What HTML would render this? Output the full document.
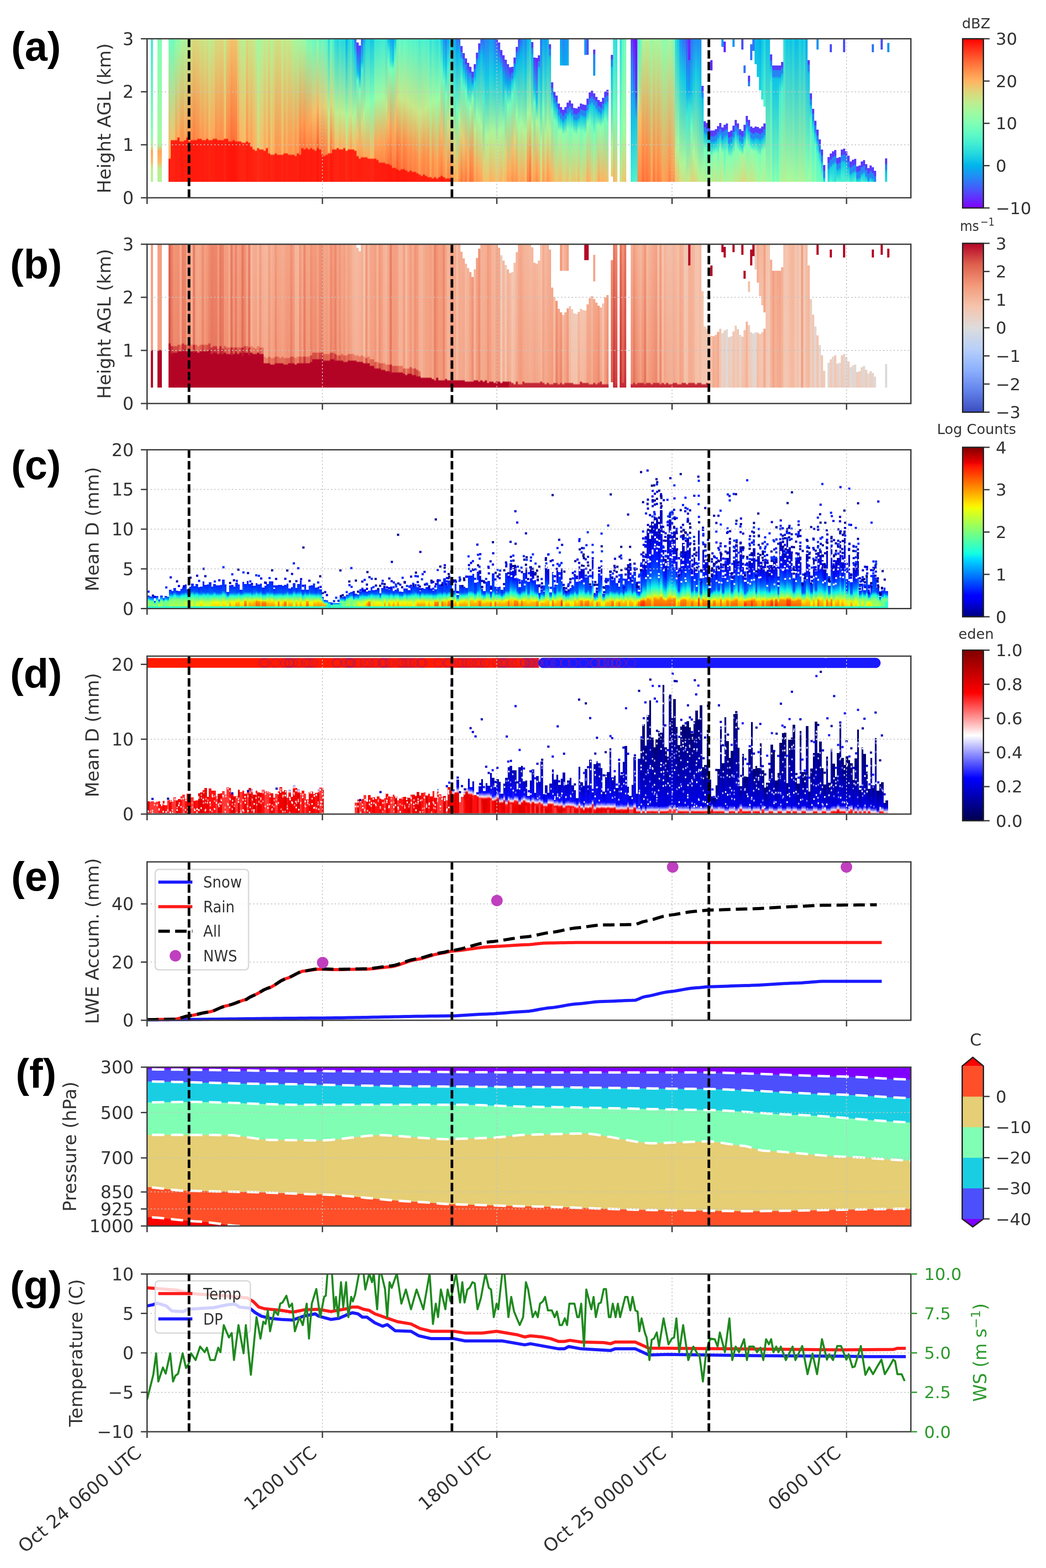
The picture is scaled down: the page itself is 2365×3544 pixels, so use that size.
<!DOCTYPE html><html><head><meta charset="utf-8"><style>html,body{margin:0;padding:0;background:#fff;}#w{position:relative;width:2365px;height:3544px;overflow:hidden;background:#fff}#w i{position:absolute;display:block}#w svg{position:absolute;left:0;top:0;display:block}</style></head><body><div id="w"><i style="left:341px;top:88px;width:5px;height:323px;background:linear-gradient(#40ecd4,#85ffb1 66.7%,#b6f194 75%,#ffa658 78.7%,#f9bb66 86.1%,#bded8f 90.7%,#b2f396)"></i>
<i style="left:356px;top:88px;width:5px;height:323px;background:linear-gradient(#80ffb4,#a6f89e 74.1%,#ffa658 78.7%,#f9bb66 86.1%,#bded8f 90.7%,#b2f396)"></i>
<i style="left:361px;top:88px;width:5px;height:323px;background:linear-gradient(#80ffb4,#a6f89e 74.1%,#ffa658 78.7%,#f9bb66 86.1%,#bded8f 90.7%,#b2f396)"></i>
<i style="left:381px;top:88px;width:5px;height:323px;background:linear-gradient(#74feba,#f7bd68 74.1%,#ffb160 83.3%,#ff1e0f 84.3%,#ff1e0f)"></i>
<i style="left:386px;top:88px;width:5px;height:323px;background:linear-gradient(#6cfdbf,#ebc970 70.4%,#ff2211 71.3%,#ff2211)"></i>
<i style="left:391px;top:88px;width:5px;height:323px;background:linear-gradient(#73febb,#f3c26b 70.4%,#ff2211 71.3%,#ff2211)"></i>
<i style="left:396px;top:88px;width:5px;height:323px;background:linear-gradient(#8efeac,#ffa256 70.4%,#ff1d0f 71.3%,#ff1d0f)"></i>
<i style="left:401px;top:88px;width:5px;height:323px;background:linear-gradient(#8afeae,#ffaf5e 68.5%,#ff2010 69.4%,#ff2010)"></i>
<i style="left:406px;top:88px;width:5px;height:323px;background:linear-gradient(#a1faa1,#ff9850 71.3%,#ff1c0e 72.2%,#ff1c0e)"></i>
<i style="left:411px;top:88px;width:5px;height:323px;background:linear-gradient(#acf59a,#ff954e 68.5%,#ff924c 71.3%,#ff1b0e 72.2%,#ff1b0e)"></i>
<i style="left:416px;top:88px;width:5px;height:323px;background:linear-gradient(#a4f89f,#ffa558 70.4%,#ff1f0f 71.3%,#ff1f0f)"></i>
<i style="left:421px;top:88px;width:5px;height:323px;background:linear-gradient(#b7f093,#ff9850 68.5%,#ff1c0e 69.4%,#ff1c0e)"></i>
<i style="left:426px;top:88px;width:5px;height:323px;background:linear-gradient(#b6f194,#ff9f54 71.3%,#ff1e0f 72.2%,#ff1e0f)"></i>
<i style="left:431px;top:88px;width:5px;height:323px;background:linear-gradient(#cbe486,#ff8e4a 70.4%,#ff1b0d 71.3%,#ff1b0d)"></i>
<i style="left:436px;top:88px;width:5px;height:323px;background:linear-gradient(#ddd67a,#ff7f42 70.4%,#ff180c 71.3%,#ff180c)"></i>
<i style="left:441px;top:88px;width:5px;height:323px;background:linear-gradient(#d8da7d,#ff8847 70.4%,#ff1a0d 71.3%,#ff1a0d)"></i>
<i style="left:446px;top:88px;width:5px;height:323px;background:linear-gradient(#d6dc7e,#ff8d49 69.4%,#ff1a0d 70.4%,#ff1a0d)"></i>
<i style="left:451px;top:88px;width:5px;height:323px;background:linear-gradient(#cce385,#ff9a52 69.4%,#ff1d0e 70.4%,#ff1d0e)"></i>
<i style="left:456px;top:88px;width:5px;height:323px;background:linear-gradient(#d0e082,#ff954e 70.4%,#ff1c0e 71.3%,#ff1c0e)"></i>
<i style="left:461px;top:88px;width:5px;height:323px;background:linear-gradient(#c6e789,#ffa256 70.4%,#ff1e0f 71.3%,#ff1e0f)"></i>
<i style="left:466px;top:88px;width:5px;height:323px;background:linear-gradient(#cfe183,#ff9951 69.4%,#ff1d0e 70.4%,#ff1d0e)"></i>
<i style="left:471px;top:88px;width:5px;height:323px;background:linear-gradient(#bced90,#ffaf5e 70.4%,#ff2111 71.3%,#ff2111)"></i>
<i style="left:476px;top:88px;width:5px;height:323px;background:linear-gradient(#c6e789,#ffa457 70.4%,#ff1f0f 71.3%,#ff1f0f)"></i>
<i style="left:481px;top:88px;width:5px;height:323px;background:linear-gradient(#c6e789,#ffa658 69.4%,#ff1f10 70.4%,#ff1f10)"></i>
<i style="left:486px;top:88px;width:5px;height:323px;background:linear-gradient(#dad87c,#ff8d4a 69.4%,#ff1a0d 70.4%,#ff1a0d)"></i>
<i style="left:491px;top:88px;width:5px;height:323px;background:linear-gradient(#d7db7e,#ff924c 70.4%,#ff1b0e 71.3%,#ff1b0e)"></i>
<i style="left:496px;top:88px;width:5px;height:323px;background:linear-gradient(#dbd77b,#ff8c49 70.4%,#ff1a0d 71.3%,#ff1a0d)"></i>
<i style="left:501px;top:88px;width:5px;height:323px;background:linear-gradient(#dcd77b,#ff8d4a 70.4%,#ff1b0d 71.3%,#ff1b0d)"></i>
<i style="left:506px;top:88px;width:5px;height:323px;background:linear-gradient(#bfec8e,#ffb260 69.4%,#ff2111 70.4%,#ff2111)"></i>
<i style="left:511px;top:88px;width:5px;height:323px;background:linear-gradient(#e2d276,#ff8746 69.4%,#ff190d 70.4%,#ff190d)"></i>
<i style="left:516px;top:88px;width:5px;height:323px;background:linear-gradient(#e7cd73,#ff7f42 71.3%,#ff180c 72.2%,#ff180c)"></i>
<i style="left:521px;top:88px;width:5px;height:323px;background:linear-gradient(#f6bf68,#ff6c37 71.3%,#ff150b 72.2%,#ff150b)"></i>
<i style="left:526px;top:88px;width:5px;height:323px;background:linear-gradient(#f2c36b,#ff733b 70.4%,#ff160b 71.3%,#ff160b)"></i>
<i style="left:531px;top:88px;width:5px;height:323px;background:linear-gradient(#f0c46c,#ff753c 71.3%,#ff170b 72.2%,#ff170b)"></i>
<i style="left:536px;top:88px;width:5px;height:323px;background:linear-gradient(#d6dc7f,#ff9951 71.3%,#ff1d0e 72.2%,#ff1d0e)"></i>
<i style="left:541px;top:88px;width:5px;height:323px;background:linear-gradient(#c0eb8d,#ffb361 71.3%,#ff2211 72.2%,#ff2211)"></i>
<i style="left:546px;top:88px;width:5px;height:323px;background:linear-gradient(#bded8f,#fdb663 72.2%,#ff2311 73.1%,#ff2311)"></i>
<i style="left:551px;top:88px;width:5px;height:323px;background:linear-gradient(#b7f093,#f7bd68 72.2%,#ff2412 73.1%,#ff2412)"></i>
<i style="left:556px;top:88px;width:5px;height:323px;background:linear-gradient(#dbd87b,#ff934d 71.3%,#ff1c0e 72.2%,#ff1c0e)"></i>
<i style="left:561px;top:88px;width:5px;height:323px;background:linear-gradient(#c7e688,#ffaa5b 72.2%,#ff2010 73.1%,#ff2010)"></i>
<i style="left:566px;top:88px;width:5px;height:323px;background:linear-gradient(#cee284,#ff9f54 75%,#ff1f0f 75.9%,#ff1f0f)"></i>
<i style="left:571px;top:88px;width:5px;height:323px;background:linear-gradient(#c2ea8c,#ffac5c 76.9%,#ff2211 77.8%,#ff2211)"></i>
<i style="left:576px;top:88px;width:5px;height:323px;background:linear-gradient(#bbee91,#ffb361 77.8%,#ff2312 78.7%,#ff2312)"></i>
<i style="left:581px;top:88px;width:5px;height:323px;background:linear-gradient(#98fca6,#dcd67a 75.9%,#ff2b16 76.9%,#ff2b16)"></i>
<i style="left:586px;top:88px;width:5px;height:323px;background:linear-gradient(#acf59a,#f2c26b 76.9%,#ff2613 77.8%,#ff2613)"></i>
<i style="left:591px;top:88px;width:5px;height:323px;background:linear-gradient(#b1f397,#f7bd67 76.9%,#ff2513 77.8%,#ff2513)"></i>
<i style="left:596px;top:88px;width:5px;height:323px;background:linear-gradient(#c2ea8c,#ffa95a 77.8%,#ff2111 78.7%,#ff2111)"></i>
<i style="left:601px;top:88px;width:5px;height:323px;background:linear-gradient(#b6f194,#fbb864 75.9%,#ff2412 76.9%,#ff2412)"></i>
<i style="left:606px;top:88px;width:5px;height:323px;background:linear-gradient(#cce385,#ff9b52 79.6%,#ff1f0f 80.6%,#ff1f0f)"></i>
<i style="left:611px;top:88px;width:5px;height:323px;background:linear-gradient(#b0f497,#faba65 80.6%,#ff2513 81.5%,#ff2513)"></i>
<i style="left:616px;top:88px;width:5px;height:323px;background:linear-gradient(#bced90,#ffad5d 80.6%,#ff2211 81.5%,#ff2211)"></i>
<i style="left:621px;top:88px;width:5px;height:323px;background:linear-gradient(#d0e083,#ff954e 79.6%,#ff1d0f 80.6%,#ff1d0f)"></i>
<i style="left:626px;top:88px;width:5px;height:323px;background:linear-gradient(#d0e083,#ff934d 80.6%,#ff1d0f 81.5%,#ff1d0f)"></i>
<i style="left:631px;top:88px;width:5px;height:323px;background:linear-gradient(#cde285,#ff974f 80.6%,#ff1e0f 81.5%,#ff1e0f)"></i>
<i style="left:636px;top:88px;width:5px;height:323px;background:linear-gradient(#b6f194,#ffb260 80.6%,#ff2312 81.5%,#ff2312)"></i>
<i style="left:641px;top:88px;width:5px;height:323px;background:linear-gradient(#cde385,#ff974f 79.6%,#ff1e0f 80.6%,#ff1e0f)"></i>
<i style="left:646px;top:88px;width:5px;height:323px;background:linear-gradient(#bfec8e,#ffa759 79.6%,#ff2111 80.6%,#ff2111)"></i>
<i style="left:651px;top:88px;width:5px;height:323px;background:linear-gradient(#c5e88a,#ff9b52 75%,#ff964f 80.6%,#ff1e0f 81.5%,#ff1e0f)"></i>
<i style="left:656px;top:88px;width:5px;height:323px;background:linear-gradient(#bbee90,#ff9e54 71.3%,#ff954e 80.6%,#ff1e0f 81.5%,#ff1e0f)"></i>
<i style="left:661px;top:88px;width:5px;height:323px;background:linear-gradient(#aaf69b,#ffa156 76.9%,#ff9d53 80.6%,#ff2010 81.5%,#ff2010)"></i>
<i style="left:666px;top:88px;width:5px;height:323px;background:linear-gradient(#adf59a,#ff9e53 65.7%,#ff8b48 81.5%,#ff1e0f 82.4%,#ff1e0f)"></i>
<i style="left:671px;top:88px;width:5px;height:323px;background:linear-gradient(#97fca7,#ffa256 74.1%,#ff9b52 79.6%,#ff2110 80.6%,#ff2110)"></i>
<i style="left:676px;top:88px;width:5px;height:323px;background:linear-gradient(#abf69b,#ff934d 58.3%,#ff713a 80.6%,#ff1a0d 81.5%,#ff1a0d)"></i>
<i style="left:681px;top:88px;width:5px;height:323px;background:linear-gradient(#9afca5,#ff9b52 59.3%,#ff8042 75.9%,#ff1c0e 76.9%,#ff1c0e)"></i>
<i style="left:686px;top:88px;width:5px;height:323px;background:linear-gradient(#99fca6,#ff9750 56.5%,#ff723b 76.9%,#ff1a0d 77.8%,#ff1a0d)"></i>
<i style="left:691px;top:88px;width:5px;height:323px;background:linear-gradient(#81ffb3,#ff9a51 63.9%,#ff8646 75.9%,#ff1d0f 76.9%,#ff1d0f)"></i>
<i style="left:696px;top:88px;width:5px;height:323px;background:linear-gradient(#78ffb8,#ffa457 59.3%,#ff8244 76.9%,#ff1d0f 77.8%,#ff1d0f)"></i>
<i style="left:701px;top:88px;width:5px;height:323px;background:linear-gradient(#77ffb9,#ffac5d 54.6%,#ff7f42 75.9%,#ff1c0e 76.9%,#ff1c0e)"></i>
<i style="left:706px;top:88px;width:5px;height:323px;background:linear-gradient(#6cfdbf,#f6be68 51.9%,#ff8847 76.9%,#ff1e0f 77.8%,#ff1e0f)"></i>
<i style="left:711px;top:88px;width:5px;height:323px;background:linear-gradient(#67fcc2,#f1c36c 50.9%,#ff8847 77.8%,#ff1e0f 78.7%,#ff1e0f)"></i>
<i style="left:716px;top:88px;width:5px;height:323px;background:linear-gradient(#83ffb2,#ffb05f 46.3%,#ff6031 75.9%,#ff160b 76.9%,#ff160b)"></i>
<i style="left:721px;top:88px;width:5px;height:323px;background:linear-gradient(#5ffac5,#e7cd73 49.1%,#ff8c49 76.9%,#ff1e0f 77.8%,#ff1e0f)"></i>
<i style="left:726px;top:88px;width:5px;height:323px;background:linear-gradient(#6bfdbf,#ecc86f 46.3%,#ff703a 80.6%,#ff1a0d 81.5%,#ff1a0d)"></i>
<i style="left:731px;top:88px;width:5px;height:323px;background:linear-gradient(#61fac5,#e5ce74 47.2%,#ff783e 81.5%,#ff1c0e 82.4%,#ff1c0e)"></i>
<i style="left:736px;top:88px;width:5px;height:323px;background:linear-gradient(#58f7c9,#ddd67a 47.2%,#ff8243 80.6%,#ff1d0e 81.5%,#ff1d0e)"></i>
<i style="left:741px;top:88px;width:5px;height:323px;background:linear-gradient(#2bdddd,#bfec8e 51.9%,#fcb763 79.6%,#ff2613 80.6%,#ff2613)"></i>
<i style="left:746px;top:88px;width:5px;height:323px;background:linear-gradient(#5efac6,#dfd478 45.4%,#ff733b 79.6%,#ff190d 80.6%,#ff190d)"></i>
<i style="left:751px;top:88px;width:5px;height:323px;background:linear-gradient(#46efd1,#d1e082 48.1%,#ff964f 76.9%,#ff1e0f 77.8%,#ff1e0f)"></i>
<i style="left:756px;top:88px;width:5px;height:323px;background:linear-gradient(#29dcdd,#bfec8e 50.9%,#ffb461 76.9%,#ff2412 77.8%,#ff2412)"></i>
<i style="left:761px;top:88px;width:5px;height:323px;background:linear-gradient(#20d4e1,#b9ef92 51.9%,#f7bd67 75.9%,#ff2512 76.9%,#ff2512)"></i>
<i style="left:766px;top:88px;width:5px;height:323px;background:linear-gradient(#2ee0db,#c3e98b 50.9%,#ffa95a 76.9%,#ff2110 77.8%,#ff2110)"></i>
<i style="left:771px;top:88px;width:5px;height:323px;background:linear-gradient(#26d9df,#bded8f 51.9%,#ffb05f 76.9%,#ff2211 77.8%,#ff2211)"></i>
<i style="left:776px;top:88px;width:5px;height:323px;background:linear-gradient(#28dbde,#bfec8e 51.9%,#ffae5d 75.9%,#ff2110 76.9%,#ff2110)"></i>
<i style="left:781px;top:88px;width:5px;height:323px;background:linear-gradient(#02b6eb,#9ffaa2 53.7%,#e4cf75 77.8%,#ff2915 78.7%,#ff2915)"></i>
<i style="left:786px;top:88px;width:5px;height:323px;background:linear-gradient(#1ed3e1,#b8f093 52.8%,#ffb260 76.9%,#ff2211 77.8%,#ff2211)"></i>
<i style="left:791px;top:88px;width:5px;height:323px;background:linear-gradient(#2bdedc,#c0eb8d 51.9%,#ffa155 76.9%,#ff1e0f 77.8%,#ff1e0f)"></i>
<i style="left:796px;top:88px;width:5px;height:323px;background:linear-gradient(#13c8e5,#b4f295 54.6%,#faba65 76.9%,#ff2311 77.8%,#ff2311)"></i>
<i style="left:801px;top:88px;width:5px;height:323px;background:linear-gradient(#3d65fa,#14c9e5 12%,#a9f79c 51.9%,#feb662 77.8%,#ff2211 78.7%,#ff2211)"></i>
<i style="left:806px;top:96px;width:5px;height:315px;background:linear-gradient(#593cfd,#593cfd 3.8%,#2882f6 13.2%,#0ec3e7 21.7%,#5efac6 27.4%,#f0c56d 66%,#ff9e54 81.1%,#ff2010 82.1%,#ff2010)"></i>
<i style="left:811px;top:103px;width:5px;height:308px;background:linear-gradient(#593cfd,#05afed 21.4%,#7cffb6 33%,#ffa659 75.7%,#ff954e 82.5%,#ff1f0f 83.5%,#ff1f0f)"></i>
<i style="left:816px;top:88px;width:5px;height:323px;background:linear-gradient(#4062fa,#0dc2e7 15.7%,#4af1d0 21.3%,#d7db7e 59.3%,#ff9d53 82.4%,#ff2010 83.3%,#ff2010)"></i>
<i style="left:821px;top:88px;width:5px;height:323px;background:linear-gradient(#159cf1,#0fc4e7 3.7%,#aef599 51.9%,#ffa95a 82.4%,#ff2211 83.3%,#ff2211)"></i>
<i style="left:826px;top:88px;width:5px;height:323px;background:linear-gradient(#1ed3e1,#99fca6 46.3%,#ffa759 82.4%,#ff2211 83.3%,#ff2211)"></i>
<i style="left:831px;top:88px;width:5px;height:323px;background:linear-gradient(#21d5e0,#98fca6 45.4%,#ffa759 81.5%,#ffa357 83.3%,#ff2111 84.3%,#ff2111)"></i>
<i style="left:836px;top:88px;width:5px;height:323px;background:linear-gradient(#12c8e6,#81ffb3 43.5%,#feb663 83.3%,#ff2513 84.3%,#ff2513)"></i>
<i style="left:841px;top:88px;width:5px;height:323px;background:linear-gradient(#13c8e6,#7effb5 42.6%,#fdb763 83.3%,#ff2513 84.3%,#ff2513)"></i>
<i style="left:846px;top:88px;width:5px;height:323px;background:linear-gradient(#38e6d7,#9bfba4 40.7%,#ffa356 74.1%,#ff8c49 83.3%,#ff1d0e 84.3%,#ff1d0e)"></i>
<i style="left:851px;top:88px;width:5px;height:323px;background:linear-gradient(#38e7d7,#9cfba4 40.7%,#ffa457 74.1%,#ff8c49 84.3%,#ff1d0f 85.2%,#ff1d0f)"></i>
<i style="left:856px;top:88px;width:5px;height:323px;background:linear-gradient(#3be9d6,#9ffaa2 40.7%,#ffa457 74.1%,#ff8948 86.1%,#ff1d0f 87%,#ff1d0f)"></i>
<i style="left:861px;top:88px;width:5px;height:323px;background:linear-gradient(#41ecd3,#a5f89f 40.7%,#ffa156 73.1%,#ff8545 86.1%,#ff1c0e 87%,#ff1c0e)"></i>
<i style="left:866px;top:88px;width:5px;height:323px;background:linear-gradient(#40ecd4,#a3f99f 40.7%,#ffa155 75%,#ff8b48 86.1%,#ff1d0f 87%,#ff1d0f)"></i>
<i style="left:871px;top:88px;width:5px;height:323px;background:linear-gradient(#34e4d9,#c4e98b 46.3%,#ff974f 75%,#ff7f42 87%,#ff1b0e 88%,#ff1b0e)"></i>
<i style="left:876px;top:88px;width:5px;height:323px;background:linear-gradient(#0bc0e8,#47efd1 9.3%,#70febd 17.6%,#faba66 58.3%,#ff743c 87%,#ff190d 88%,#ff190d)"></i>
<i style="left:881px;top:88px;width:5px;height:323px;background:linear-gradient(#07acee,#35e5d9 15.7%,#7fffb4 21.3%,#ff9750 65.7%,#ff6835 88%,#ff170c 88.9%,#ff170c)"></i>
<i style="left:886px;top:88px;width:5px;height:323px;background:linear-gradient(#149df1,#1bcfe3 14.8%,#72febb 21.3%,#ff9f55 70.4%,#ff7c40 89.8%,#ff1b0e 90.7%,#ff1b0e)"></i>
<i style="left:891px;top:88px;width:5px;height:323px;background:linear-gradient(#0dc2e7,#49f1d0 9.3%,#72febc 17.6%,#ffb361 61.1%,#ff7a3f 89.8%,#ff1b0d 90.7%,#ff1b0d)"></i>
<i style="left:896px;top:88px;width:5px;height:323px;background:linear-gradient(#57f7c9,#ddd67a 43.5%,#ff6333 86.1%,#ff5e30 90.7%,#ff160b 91.7%,#ff160b)"></i>
<i style="left:901px;top:88px;width:5px;height:323px;background:linear-gradient(#66fcc2,#c8e688 40.7%,#ff8c49 71.3%,#ff6a36 91.7%,#ff180c 92.6%,#ff180c)"></i>
<i style="left:906px;top:88px;width:5px;height:323px;background:linear-gradient(#59f8c9,#beec8f 41.7%,#ff9750 74.1%,#ff7e41 90.7%,#ff1b0e 91.7%,#ff1b0e)"></i>
<i style="left:911px;top:88px;width:5px;height:323px;background:linear-gradient(#65fbc3,#cde385 42.6%,#ff8847 74.1%,#ff6d38 90.7%,#ff180c 91.7%,#ff180c)"></i>
<i style="left:916px;top:88px;width:5px;height:323px;background:linear-gradient(#5ffac5,#cae587 43.5%,#ff8d4a 75%,#ff733b 91.7%,#ff1a0d 92.6%,#ff1a0d)"></i>
<i style="left:921px;top:88px;width:5px;height:323px;background:linear-gradient(#55f6ca,#c2ea8c 44.4%,#ff964f 76.9%,#ff8143 92.6%,#ff1c0e 93.5%,#ff1c0e)"></i>
<i style="left:926px;top:88px;width:5px;height:323px;background:linear-gradient(#59f8c8,#cbe486 46.3%,#ff914c 76.9%,#ff7c40 91.7%,#ff1b0d 92.6%,#ff1b0d)"></i>
<i style="left:931px;top:88px;width:5px;height:323px;background:linear-gradient(#51f5cc,#c4e88a 47.2%,#ff934d 80.6%,#ff8646 92.6%,#ff1d0f 93.5%,#ff1d0f)"></i>
<i style="left:936px;top:88px;width:5px;height:323px;background:linear-gradient(#54f6cb,#cde385 49.1%,#ff8e4a 80.6%,#ff8243 92.6%,#ff1c0e 93.5%,#ff1c0e)"></i>
<i style="left:941px;top:88px;width:5px;height:323px;background:linear-gradient(#4ff4cd,#cae587 50%,#ff914c 83.3%,#ff8847 93.5%,#ff1d0f 94.4%,#ff1d0f)"></i>
<i style="left:946px;top:88px;width:5px;height:323px;background:linear-gradient(#42edd3,#bfec8e 50.9%,#ff9c53 88.9%,#ff9850 94.4%,#ff2010 95.4%,#ff2010)"></i>
<i style="left:951px;top:88px;width:5px;height:323px;background:linear-gradient(#4cf2ce,#c9e587 50.9%,#ff914c 85.2%,#ff8847 95.4%,#ff1e0f 96.3%,#ff1e0f)"></i>
<i style="left:956px;top:88px;width:5px;height:323px;background:linear-gradient(#4ff4cd,#c8e688 49.1%,#ff8e4a 81.5%,#ff8143 94.4%,#ff1c0e 95.4%,#ff1c0e)"></i>
<i style="left:961px;top:88px;width:5px;height:323px;background:linear-gradient(#47f0d1,#beed8f 48.1%,#ff944e 83.3%,#ff8847 95.4%,#ff1e0f 96.3%,#ff1e0f)"></i>
<i style="left:966px;top:88px;width:5px;height:323px;background:linear-gradient(#4bf2cf,#bcee90 46.3%,#ff944e 79.6%,#ff7f42 96.3%,#ff1c0e 97.2%,#ff1c0e)"></i>
<i style="left:971px;top:88px;width:5px;height:323px;background:linear-gradient(#31e2da,#a0faa1 45.4%,#ffa457 89.8%,#ff9e53 96.3%,#ff2211 97.2%,#ff2211)"></i>
<i style="left:976px;top:88px;width:5px;height:323px;background:linear-gradient(#41ecd3,#aef498 44.4%,#ff954f 82.4%,#ff8445 97.2%,#ff1d0f 98.1%,#ff1d0f)"></i>
<i style="left:981px;top:88px;width:5px;height:323px;background:linear-gradient(#37e6d8,#a1f9a0 43.5%,#ff9d53 85.2%,#ff904b 96.3%,#ff1f10 97.2%,#ff1f10)"></i>
<i style="left:986px;top:88px;width:5px;height:323px;background:linear-gradient(#2ddfdc,#96fda8 42.6%,#ffa356 88%,#ff9850 97.2%,#ff2110 98.1%,#ff2110)"></i>
<i style="left:991px;top:88px;width:5px;height:323px;background:linear-gradient(#39e7d7,#9ffaa2 41.7%,#ff9850 82.4%,#ff8646 96.3%,#ff1d0f 97.2%,#ff1d0f)"></i>
<i style="left:996px;top:88px;width:5px;height:323px;background:linear-gradient(#14c9e5,#64fbc3 22.2%,#fcb864 65.7%,#ff773d 95.4%,#ff1a0d 96.3%,#ff1a0d)"></i>
<i style="left:1001px;top:88px;width:5px;height:323px;background:linear-gradient(#1799f2,#1bcfe3 16.7%,#64fbc3 29.6%,#ffa659 79.6%,#ff8c49 96.3%,#ff1e0f 97.2%,#ff1e0f)"></i>
<i style="left:1006px;top:88px;width:5px;height:323px;background:linear-gradient(#2c7ef7,#10c6e6 17.6%,#79ffb8 39.8%,#ffa859 89.8%,#ff9d53 97.2%,#ff2110 98.1%,#ff2110)"></i>
<i style="left:1011px;top:88px;width:5px;height:323px;background:linear-gradient(#09aaee,#48f0d0 20.4%,#d7db7e 61.1%,#ff8445 97.2%,#ff1c0e 98.1%,#ff1c0e)"></i>
<i style="left:1016px;top:88px;width:5px;height:323px;background:linear-gradient(#1dd2e2,#a9f79c 50.9%,#ff9951 86.1%,#ff8746 97.2%,#ff1c0e 98.1%,#ff1c0e)"></i>
<i style="left:1021px;top:88px;width:5px;height:323px;background:linear-gradient(#07bce9,#a3f9a0 54.6%,#ffa457 91.7%,#ff974f)"></i>
<i style="left:1026px;top:88px;width:5px;height:323px;background:linear-gradient(#0ea4f0,#44eed2 35.2%,#d6db7e 74.1%,#ffa95b)"></i>
<i style="left:1031px;top:88px;width:5px;height:323px;background:linear-gradient(#386cf9,#08abee 8.3%,#6efdbe 49.1%,#fcb764 97.2%,#ffb361)"></i>
<i style="left:1036px;top:88px;width:5px;height:323px;background:linear-gradient(#3571f8,#07bce9 10.2%,#a3f9a0 55.6%,#ffa457 89.8%,#ff934d)"></i>
<i style="left:1041px;top:104px;width:5px;height:307px;background:linear-gradient(#593cfd,#593cfd 3.9%,#2685f5 4.9%,#2685f5 7.8%,#0cc1e8 9.7%,#51f5cc 24.3%,#e0d378 64.1%,#ff783e)"></i>
<i style="left:1046px;top:120px;width:5px;height:291px;background:linear-gradient(#593cfd,#593cfd 4.1%,#2685f5 5.1%,#2685f5 8.2%,#0bc0e8 13.3%,#56f7ca 25.5%,#e7cc72 68.4%,#ff8847)"></i>
<i style="left:1051px;top:132px;width:5px;height:279px;background:linear-gradient(#593cfd,#593cfd 4.3%,#2685f5 5.3%,#2685f5 8.5%,#0cc1e8 14.9%,#6efebe 26.6%,#ffac5c 73.4%,#ff783e)"></i>
<i style="left:1056px;top:142px;width:5px;height:269px;background:linear-gradient(#593cfd,#593cfd 4.4%,#386df9 6.7%,#13c8e6 20%,#71febc 33.3%,#ffa95b 87.8%,#ff9850)"></i>
<i style="left:1061px;top:151px;width:5px;height:260px;background:linear-gradient(#593cfd,#593cfd 4.6%,#2685f5 5.7%,#12c7e6 16.1%,#9efba3 35.6%,#ff924c 78.2%,#ff713a)"></i>
<i style="left:1066px;top:162px;width:5px;height:249px;background:linear-gradient(#593cfd,#593cfd 4.8%,#2685f5 6%,#2685f5 9.5%,#0ec3e7 11.9%,#7fffb5 23.8%,#ff9750 77.4%,#ff783e)"></i>
<i style="left:1071px;top:145px;width:5px;height:266px;background:linear-gradient(#593cfd,#593cfd 3.4%,#2685f5 4.5%,#0ea5ef 10.1%,#2adcdd 15.7%,#b9ef92 55.1%,#ffa458 95.5%,#ff9e54)"></i>
<i style="left:1076px;top:119px;width:5px;height:292px;background:linear-gradient(#593cfd,#593cfd 4.1%,#2685f5 5.1%,#11c7e6 14.3%,#96fda7 48%,#ffa759 88.8%,#ff964f)"></i>
<i style="left:1081px;top:98px;width:5px;height:313px;background:linear-gradient(#593cfd,#593cfd 3.8%,#2f79f7 4.8%,#08bde9 13.3%,#9efba3 55.2%,#ffaa5b 93.3%,#ff9f54)"></i>
<i style="left:1086px;top:88px;width:5px;height:323px;background:linear-gradient(#3f63fa,#0dc2e8 12%,#adf59a 61.1%,#ffa85a 97.2%,#ffa357)"></i>
<i style="left:1091px;top:88px;width:5px;height:323px;background:linear-gradient(#3a6af9,#0da5ef 10.2%,#4bf2cf 42.6%,#e6ce74 87%,#f8bc67)"></i>
<i style="left:1096px;top:88px;width:5px;height:323px;background:linear-gradient(#2587f5,#12c7e6 26.9%,#a7f79d 66.7%,#f4c06a)"></i>
<i style="left:1101px;top:88px;width:5px;height:323px;background:linear-gradient(#2686f5,#14c9e5 27.8%,#aaf69b 67.6%,#f3c16a)"></i>
<i style="left:1106px;top:88px;width:5px;height:323px;background:linear-gradient(#159bf1,#22d6e0 26.9%,#b5f194 65.7%,#ffae5e)"></i>
<i style="left:1111px;top:88px;width:5px;height:323px;background:linear-gradient(#1997f2,#1acfe3 25%,#aff498 64.8%,#ffb160)"></i>
<i style="left:1116px;top:88px;width:5px;height:323px;background:linear-gradient(#2f79f7,#0fc4e7 23.1%,#a7f79d 64.8%,#fab965)"></i>
<i style="left:1121px;top:88px;width:5px;height:323px;background:linear-gradient(#5a3afd,#10a2f0 13%,#2fe0db 36.1%,#beec8f 74.1%,#f1c36c)"></i>
<i style="left:1126px;top:96px;width:5px;height:315px;background:linear-gradient(#593cfd,#4061fa 5.7%,#06bbea 16%,#a6f89e 63.2%,#fbb864)"></i>
<i style="left:1131px;top:113px;width:5px;height:298px;background:linear-gradient(#593cfd,#593cfd 4%,#3571f8 7%,#15cae5 16%,#acf59a 61%,#ffb15f)"></i>
<i style="left:1136px;top:125px;width:5px;height:286px;background:linear-gradient(#652afe,#03b7eb 18.8%,#8efeac 55.2%,#f3c26b)"></i>
<i style="left:1141px;top:135px;width:5px;height:276px;background:linear-gradient(#5d36fe,#0ea5ef 18.3%,#4af1cf 29%,#dfd478 75.3%,#ffb260)"></i>
<i style="left:1146px;top:145px;width:5px;height:266px;background:linear-gradient(#593cfd,#0ca6ef 16.9%,#75feba 34.8%,#ffab5c 89.9%,#ff9d53)"></i>
<i style="left:1151px;top:152px;width:5px;height:259px;background:linear-gradient(#593cfd,#593cfd 4.6%,#376ef9 8%,#08bde9 16.1%,#6ffebd 32.2%,#ffae5d 90.8%,#ffa256)"></i>
<i style="left:1156px;top:151px;width:5px;height:260px;background:linear-gradient(#593cfd,#593cfd 4.6%,#2685f5 5.7%,#2685f5 9.2%,#0fc4e7 11.5%,#64fbc3 24.1%,#fdb763 74.7%,#ff914c)"></i>
<i style="left:1161px;top:130px;width:5px;height:281px;background:linear-gradient(#593cfd,#593cfd 4.3%,#2685f5 5.3%,#02b7eb 11.7%,#46efd1 22.3%,#d6dc7f 66%,#ff9a51)"></i>
<i style="left:1166px;top:106px;width:5px;height:305px;background:linear-gradient(#593cfd,#593cfd 2.9%,#2f79f7 3.9%,#08bde9 12.7%,#95fda8 50%,#ffa759 89.2%,#ff964f)"></i>
<i style="left:1171px;top:88px;width:5px;height:323px;background:linear-gradient(#583efd,#06bbea 14.8%,#a4f99f 61.1%,#ffad5d)"></i>
<i style="left:1176px;top:88px;width:5px;height:323px;background:linear-gradient(#3c66fa,#01b6eb 10.2%,#a3f99f 59.3%,#ffaa5b 97.2%,#ffa558)"></i>
<i style="left:1181px;top:88px;width:5px;height:323px;background:linear-gradient(#1898f2,#1bd0e3 21.3%,#b2f396 63%,#ffa659)"></i>
<i style="left:1186px;top:88px;width:5px;height:323px;background:linear-gradient(#2488f5,#13c9e5 23.1%,#adf59a 64.8%,#ffb461)"></i>
<i style="left:1191px;top:88px;width:5px;height:323px;background:linear-gradient(#03b7eb,#a4f99f 52.8%,#ff9c52 86.1%,#ff8344)"></i>
<i style="left:1196px;top:88px;width:5px;height:323px;background:linear-gradient(#11c7e6,#aff498 51.9%,#ff8e4a 82.4%,#ff6d38)"></i>
<i style="left:1201px;top:95px;width:5px;height:316px;background:linear-gradient(#593cfd,#593cfd 3.8%,#2685f5 4.7%,#2685f5 7.5%,#01b3ec 9.4%,#a2f9a0 59.4%,#ffac5c 99.1%,#ffaa5b)"></i>
<i style="left:1206px;top:130px;width:5px;height:281px;background:linear-gradient(#5f32fe,#0cc1e8 25.5%,#6afdc0 36.2%,#ffad5d 89.4%,#ff9e53)"></i>
<i style="left:1211px;top:131px;width:5px;height:280px;background:linear-gradient(#6c1eff,#14c9e5 35.1%,#abf69b 51.1%,#ffa256 87.2%,#ff8f4b)"></i>
<i style="left:1216px;top:125px;width:5px;height:286px;background:linear-gradient(#593cfd,#593cfd 4.2%,#2685f5 5.2%,#2685f5 8.3%,#0fc4e7 10.4%,#a3f99f 54.2%,#ffaa5b 92.7%,#ff9f55)"></i>
<i style="left:1221px;top:88px;width:5px;height:323px;background:linear-gradient(#3571f8,#12c7e6 30.6%,#a9f79c 71.3%,#e9cb71)"></i>
<i style="left:1226px;top:88px;width:5px;height:323px;background:linear-gradient(#09a9ee,#84ffb2 51.9%,#ffac5c 90.7%,#ff9c53)"></i>
<i style="left:1231px;top:88px;width:5px;height:323px;background:linear-gradient(#1799f2,#1cd1e2 25%,#b3f295 67.6%,#ffaf5e)"></i>
<i style="left:1236px;top:88px;width:5px;height:323px;background:linear-gradient(#01b3ec,#a9f79c 60.2%,#ffa759 89.8%,#ff964f)"></i>
<i style="left:1241px;top:100px;width:5px;height:311px;background:linear-gradient(#593cfd,#593cfd 2.9%,#2685f5 3.8%,#2685f5 7.7%,#0ec3e7 9.6%,#aef599 63.5%,#ffac5c 95.2%,#ffa558)"></i>
<i style="left:1246px;top:186px;width:5px;height:225px;background:linear-gradient(#593cfd,#593cfd 5.3%,#2685f5 6.6%,#2685f5 10.5%,#0ec3e7 13.2%,#6afdc0 28.9%,#feb562 93.4%,#ffae5d)"></i>
<i style="left:1251px;top:207px;width:5px;height:204px;background:linear-gradient(#593cfd,#593cfd 5.8%,#2685f5 7.2%,#2685f5 11.6%,#0ec3e7 14.5%,#75feba 31.9%,#f2c26b 95.7%,#f6be68)"></i>
<i style="left:1256px;top:216px;width:5px;height:195px;background:linear-gradient(#593cfd,#593cfd 6.1%,#2685f5 7.6%,#2685f5 12.1%,#0ec3e7 15.2%,#6efebe 31.8%,#e7cd73 98.5%,#e9cb72)"></i>
<i style="left:1261px;top:234px;width:5px;height:177px;background:linear-gradient(#593cfd,#593cfd 6.7%,#2685f5 8.3%,#2685f5 13.3%,#0ec3e7 16.7%,#90feab 35%,#f5bf69)"></i>
<i style="left:1266px;top:242px;width:5px;height:169px;background:linear-gradient(#593cfd,#593cfd 7%,#2685f5 8.8%,#2685f5 14%,#0ec4e7 17.5%,#5af8c8 28.1%,#92fda9 31.6%,#f9bb66)"></i>
<i style="left:1266px;top:88px;width:5px;height:60px;background:linear-gradient(#149df1,#04b9ea)"></i>
<i style="left:1271px;top:248px;width:5px;height:163px;background:linear-gradient(#593cfd,#593cfd 7.3%,#2685f5 9.1%,#2685f5 14.5%,#0ec4e7 18.2%,#89ffaf 34.5%,#e5cf74)"></i>
<i style="left:1271px;top:88px;width:5px;height:60px;background:linear-gradient(#2686f5,#10a2f0)"></i>
<i style="left:1276px;top:242px;width:5px;height:169px;background:linear-gradient(#593cfd,#593cfd 7%,#2685f5 8.8%,#2685f5 14%,#0ec4e7 17.5%,#87ffb0 35.1%,#e9cb71)"></i>
<i style="left:1276px;top:88px;width:5px;height:60px;background:linear-gradient(#208ef4,#0ca6ef)"></i>
<i style="left:1281px;top:232px;width:5px;height:179px;background:linear-gradient(#593cfd,#593cfd 6.7%,#2685f5 8.3%,#2685f5 13.3%,#0fc4e7 16.7%,#85ffb1 33.3%,#f3c16a)"></i>
<i style="left:1281px;top:88px;width:5px;height:60px;background:linear-gradient(#139ef1,#02b2ec)"></i>
<i style="left:1286px;top:227px;width:5px;height:184px;background:linear-gradient(#593cfd,#593cfd 6.5%,#2685f5 8.1%,#2685f5 12.9%,#0ec3e7 16.1%,#6efebe 35.5%,#ddd67a)"></i>
<i style="left:1291px;top:234px;width:5px;height:177px;background:linear-gradient(#593cfd,#593cfd 6.8%,#2685f5 8.5%,#2685f5 13.6%,#0fc4e7 16.9%,#7effb5 33.9%,#ebc970)"></i>
<i style="left:1296px;top:244px;width:5px;height:167px;background:linear-gradient(#593cfd,#593cfd 7.1%,#2685f5 8.9%,#2685f5 14.3%,#0fc4e7 17.9%,#88ffaf 33.9%,#efc56d)"></i>
<i style="left:1301px;top:245px;width:5px;height:166px;background:linear-gradient(#593cfd,#593cfd 7.1%,#2685f5 8.9%,#2685f5 14.3%,#0ec3e7 17.9%,#83ffb2 35.7%,#e5cf74)"></i>
<i style="left:1306px;top:241px;width:5px;height:170px;background:linear-gradient(#593cfd,#593cfd 7%,#2685f5 8.8%,#2685f5 14%,#0fc4e7 17.5%,#5bf9c7 28.1%,#8cfead 31.6%,#fab965)"></i>
<i style="left:1311px;top:234px;width:5px;height:177px;background:linear-gradient(#593cfd,#593cfd 6.7%,#2685f5 8.3%,#2685f5 13.3%,#0ec3e7 16.7%,#6dfdbf 35%,#dad87c)"></i>
<i style="left:1316px;top:236px;width:5px;height:175px;background:linear-gradient(#593cfd,#593cfd 6.8%,#2685f5 8.5%,#2685f5 13.6%,#0ec3e7 16.9%,#7bffb7 35.6%,#e5cf74)"></i>
<i style="left:1321px;top:237px;width:5px;height:174px;background:linear-gradient(#593cfd,#593cfd 6.8%,#2685f5 8.5%,#2685f5 13.6%,#0dc3e7 16.9%,#85ffb1 37.3%,#ebc970)"></i>
<i style="left:1321px;top:88px;width:5px;height:36px;background:#1996f3"></i>
<i style="left:1326px;top:223px;width:5px;height:188px;background:linear-gradient(#593cfd,#593cfd 6.3%,#2685f5 7.9%,#2685f5 12.7%,#0fc4e7 15.9%,#86ffb1 30.2%,#ffab5c)"></i>
<i style="left:1326px;top:88px;width:5px;height:36px;background:#4c4ffc"></i>
<i style="left:1331px;top:209px;width:5px;height:202px;background:linear-gradient(#593cfd,#593cfd 5.9%,#2685f5 7.4%,#2685f5 11.8%,#0ec4e7 14.7%,#77ffb9 32.4%,#ffb462)"></i>
<i style="left:1336px;top:205px;width:5px;height:206px;background:linear-gradient(#593cfd,#593cfd 5.8%,#2685f5 7.2%,#2685f5 11.6%,#0fc4e7 14.5%,#71febc 39.1%,#ebc970)"></i>
<i style="left:1341px;top:211px;width:5px;height:200px;background:linear-gradient(#593cfd,#593cfd 6%,#2685f5 7.5%,#2685f5 11.9%,#0fc4e7 14.9%,#7affb7 46.3%,#ded579)"></i>
<i style="left:1341px;top:112px;width:5px;height:59px;background:linear-gradient(#593cfd,#593cfd 15%,#2685f5 20%,#149df1)"></i>
<i style="left:1346px;top:219px;width:5px;height:192px;background:linear-gradient(#593cfd,#593cfd 4.7%,#2685f5 6.2%,#2685f5 12.5%,#0fc4e7 15.6%,#6ffebd 32.8%,#eec76e)"></i>
<i style="left:1351px;top:226px;width:5px;height:185px;background:linear-gradient(#593cfd,#593cfd 6.5%,#2685f5 8.1%,#2685f5 12.9%,#0fc4e7 16.1%,#8cfead 30.6%,#ffa95a)"></i>
<i style="left:1356px;top:230px;width:5px;height:181px;background:linear-gradient(#593cfd,#593cfd 6.6%,#2685f5 8.2%,#2685f5 13.1%,#0ec3e7 16.4%,#87ffb0 31.1%,#ffb461)"></i>
<i style="left:1361px;top:221px;width:5px;height:190px;background:linear-gradient(#593cfd,#593cfd 6.2%,#2685f5 7.8%,#2685f5 12.5%,#0ec3e7 15.6%,#7fffb4 31.2%,#ffb361)"></i>
<i style="left:1366px;top:207px;width:5px;height:204px;background:linear-gradient(#593cfd,#593cfd 5.8%,#2685f5 7.2%,#2685f5 11.6%,#0ec3e7 14.5%,#6dfdbe 30.4%,#fcb764)"></i>
<i style="left:1371px;top:203px;width:5px;height:208px;background:linear-gradient(#593cfd,#593cfd 5.7%,#2685f5 7.1%,#2685f5 11.4%,#0fc4e7 14.3%,#6dfdbe 35.7%,#f2c26b)"></i>
<i style="left:1381px;top:124px;width:5px;height:275px;background:linear-gradient(#593cfd,#593cfd 3.3%,#2685f5 4.3%,#2685f5 8.7%,#0fc4e7 10.9%,#acf59a 75%,#e7cd73)"></i>
<i style="left:1386px;top:88px;width:5px;height:323px;background:linear-gradient(#32e2da,#74febb 50.9%,#ffb05f)"></i>
<i style="left:1391px;top:88px;width:5px;height:323px;background:linear-gradient(#2bdddd,#6ffebd 54.6%,#ebc970)"></i>
<i style="left:1401px;top:88px;width:5px;height:323px;background:linear-gradient(#30e1da,#74febb 63%,#cfe184)"></i>
<i style="left:1406px;top:88px;width:5px;height:323px;background:linear-gradient(#5ffac5,#9bfba4 64.8%,#ecc86f)"></i>
<i style="left:1411px;top:88px;width:5px;height:323px;background:linear-gradient(#70febd,#a2f9a0 65.7%,#ecc86f)"></i>
<i style="left:1426px;top:88px;width:5px;height:323px;background:linear-gradient(#573efd,#238af5 19.4%,#15cae5 63.9%,#46efd1)"></i>
<i style="left:1431px;top:88px;width:5px;height:323px;background:linear-gradient(#7215ff,#2e7af7 31.5%,#06aded 40.7%,#4bf2cf)"></i>
<i style="left:1436px;top:88px;width:5px;height:323px;background:linear-gradient(#8000ff,#593cfd 38.9%,#12c7e6 56.5%,#4ef3ce)"></i>
<i style="left:1441px;top:88px;width:5px;height:323px;background:linear-gradient(#50f4cd,#aff498 41.7%,#f0c46c 54.6%,#ff8b49)"></i>
<i style="left:1446px;top:88px;width:5px;height:323px;background:linear-gradient(#69fcc1,#f7bd67 56.5%,#ff8947)"></i>
<i style="left:1451px;top:88px;width:5px;height:323px;background:linear-gradient(#a7f89d,#ff914c 71.3%,#ff703a)"></i>
<i style="left:1456px;top:88px;width:5px;height:323px;background:linear-gradient(#b1f397,#ff8d49 82.4%,#ff7b3f)"></i>
<i style="left:1461px;top:88px;width:5px;height:323px;background:linear-gradient(#b6f194,#ff8947 80.6%,#ff743c)"></i>
<i style="left:1466px;top:88px;width:5px;height:323px;background:linear-gradient(#acf59a,#ff904b 84.3%,#ff7f42)"></i>
<i style="left:1471px;top:88px;width:5px;height:323px;background:linear-gradient(#91fdaa,#ffa156)"></i>
<i style="left:1476px;top:88px;width:5px;height:323px;background:linear-gradient(#b1f397,#ff8c49 81.5%,#ff773d)"></i>
<i style="left:1481px;top:88px;width:5px;height:323px;background:linear-gradient(#a0faa1,#ff9951 88.9%,#ff8c49)"></i>
<i style="left:1486px;top:88px;width:5px;height:323px;background:linear-gradient(#acf59a,#ff904b 82.4%,#ff7b40)"></i>
<i style="left:1491px;top:88px;width:5px;height:323px;background:linear-gradient(#a1faa1,#ff9951 86.1%,#ff8947)"></i>
<i style="left:1496px;top:88px;width:5px;height:323px;background:linear-gradient(#8efeac,#ffa155)"></i>
<i style="left:1501px;top:88px;width:5px;height:323px;background:linear-gradient(#8ffeab,#ff9e54)"></i>
<i style="left:1506px;top:88px;width:5px;height:323px;background:linear-gradient(#93fda9,#ff9a51 98.1%,#ff9850)"></i>
<i style="left:1511px;top:88px;width:5px;height:323px;background:linear-gradient(#a3f99f,#ff964f 84.3%,#ff8143)"></i>
<i style="left:1516px;top:88px;width:5px;height:323px;background:linear-gradient(#9afca5,#ff9a51 89.8%,#ff8d49)"></i>
<i style="left:1521px;top:88px;width:5px;height:323px;background:linear-gradient(#7fffb5,#ffaa5b 87%,#ff924d)"></i>
<i style="left:1526px;top:88px;width:5px;height:323px;background:linear-gradient(#27dade,#bded8f 78.7%,#f1c36b)"></i>
<i style="left:1531px;top:88px;width:5px;height:323px;background:linear-gradient(#14c9e5,#a3f99f 74.1%,#ebc970)"></i>
<i style="left:1536px;top:88px;width:5px;height:323px;background:linear-gradient(#1b94f3,#1dd2e2 27.8%,#b4f295 87%,#d7db7e)"></i>
<i style="left:1541px;top:88px;width:5px;height:323px;background:linear-gradient(#3177f8,#11c6e6 24.1%,#abf69a 87%,#cfe183)"></i>
<i style="left:1546px;top:88px;width:5px;height:323px;background:linear-gradient(#386df9,#12c7e6 27.8%,#abf69b 86.1%,#d1df82)"></i>
<i style="left:1551px;top:88px;width:5px;height:323px;background:linear-gradient(#4e4cfc,#08abee 34.3%,#41ecd3 53.7%,#c3e98b)"></i>
<i style="left:1556px;top:88px;width:5px;height:323px;background:linear-gradient(#4855fb,#12a0f1 35.2%,#33e3d9 47.2%,#c5e88a 96.3%,#cfe183)"></i>
<i style="left:1556px;top:88px;width:5px;height:48px;background:#6628fe"></i>
<i style="left:1561px;top:88px;width:5px;height:323px;background:linear-gradient(#3472f8,#0cc1e8 36.1%,#6ffebd 62%,#ded579)"></i>
<i style="left:1566px;top:88px;width:5px;height:323px;background:linear-gradient(#2785f6,#17cce4 31.5%,#a5f89e 78.7%,#e1d377)"></i>
<i style="left:1571px;top:88px;width:5px;height:323px;background:linear-gradient(#208df4,#17cce4 23.1%,#b2f396 85.2%,#dbd87b)"></i>
<i style="left:1576px;top:88px;width:5px;height:323px;background:linear-gradient(#2488f5,#13c8e6 25.9%,#b1f397 91.7%,#c8e688)"></i>
<i style="left:1581px;top:88px;width:5px;height:323px;background:linear-gradient(#1c93f3,#16cbe4 37%,#b0f498 96.3%,#baef91)"></i>
<i style="left:1586px;top:194px;width:5px;height:217px;background:linear-gradient(#593cfd,#593cfd 5.5%,#2685f5 6.8%,#2685f5 11%,#0ec4e7 13.7%,#a4f89f 87.7%,#bbee90)"></i>
<i style="left:1591px;top:274px;width:5px;height:137px;background:linear-gradient(#593cfd,#593cfd 8.7%,#2685f5 10.9%,#2685f5 17.4%,#0fc4e7 21.7%,#77ffb9 45.7%,#baef91)"></i>
<i style="left:1596px;top:278px;width:5px;height:133px;background:linear-gradient(#593cfd,#593cfd 8.9%,#2685f5 11.1%,#2685f5 17.8%,#0ec3e7 22.2%,#6dfdbf 46.7%,#abf69a)"></i>
<i style="left:1601px;top:286px;width:5px;height:125px;background:linear-gradient(#593cfd,#593cfd 9.5%,#2685f5 11.9%,#2685f5 19%,#0fc4e7 23.8%,#81ffb3 45.2%,#beed8f)"></i>
<i style="left:1606px;top:295px;width:5px;height:116px;background:linear-gradient(#593cfd,#593cfd 10.3%,#2685f5 12.8%,#2685f5 20.5%,#0fc4e7 25.6%,#7cffb6 51.3%,#adf59a)"></i>
<i style="left:1606px;top:136px;width:5px;height:23px;background:#6628fe"></i>
<i style="left:1611px;top:295px;width:5px;height:116px;background:linear-gradient(#593cfd,#593cfd 10.3%,#2685f5 12.8%,#2685f5 20.5%,#0ec3e7 25.6%,#5af8c8 41%,#88ffaf 46.2%,#beec8e)"></i>
<i style="left:1616px;top:292px;width:5px;height:119px;background:linear-gradient(#593cfd,#593cfd 10%,#2685f5 12.5%,#2685f5 20%,#0ec4e7 25%,#5af8c8 40%,#90feab 45%,#c9e587)"></i>
<i style="left:1621px;top:285px;width:5px;height:126px;background:linear-gradient(#593cfd,#593cfd 9.3%,#2685f5 11.6%,#2685f5 18.6%,#0dc2e8 23.3%,#72febc 48.8%,#aaf69b)"></i>
<i style="left:1626px;top:278px;width:5px;height:133px;background:linear-gradient(#593cfd,#593cfd 8.9%,#2685f5 11.1%,#2685f5 17.8%,#0ec3e7 22.2%,#8cfeae 44.4%,#cde284)"></i>
<i style="left:1631px;top:288px;width:5px;height:123px;background:linear-gradient(#593cfd,#593cfd 7.3%,#2685f5 9.8%,#2685f5 19.5%,#0fc5e7 24.4%,#85ffb1 46.3%,#bfec8e)"></i>
<i style="left:1631px;top:88px;width:5px;height:18px;background:#1996f3"></i>
<i style="left:1636px;top:282px;width:5px;height:129px;background:linear-gradient(#593cfd,#593cfd 9.3%,#2685f5 11.6%,#2685f5 18.6%,#0fc4e7 23.3%,#5ffac5 46.5%,#9cfba4)"></i>
<i style="left:1636px;top:94px;width:5px;height:24px;background:#6628fe"></i>
<i style="left:1641px;top:279px;width:5px;height:132px;background:linear-gradient(#593cfd,#593cfd 8.9%,#2685f5 11.1%,#2685f5 17.8%,#0dc2e8 22.2%,#7fffb5 48.9%,#baef91)"></i>
<i style="left:1646px;top:298px;width:5px;height:113px;background:linear-gradient(#593cfd,#593cfd 10.5%,#2685f5 13.2%,#2685f5 21.1%,#0fc4e7 26.3%,#87ffb0 50%,#b7f093)"></i>
<i style="left:1651px;top:295px;width:5px;height:116px;background:linear-gradient(#593cfd,#593cfd 10.3%,#2685f5 12.8%,#2685f5 20.5%,#0ec3e7 25.6%,#7fffb5 51.3%,#aff498)"></i>
<i style="left:1656px;top:284px;width:5px;height:127px;background:linear-gradient(#593cfd,#593cfd 9.3%,#2685f5 11.6%,#2685f5 18.6%,#0ec3e7 23.3%,#80ffb4 48.8%,#b8f092)"></i>
<i style="left:1656px;top:88px;width:5px;height:18px;background:#1996f3"></i>
<i style="left:1661px;top:271px;width:5px;height:140px;background:linear-gradient(#593cfd,#593cfd 8.5%,#2685f5 10.6%,#2685f5 17%,#0fc4e7 21.3%,#7dffb6 42.6%,#c6e789)"></i>
<i style="left:1666px;top:279px;width:5px;height:132px;background:linear-gradient(#593cfd,#593cfd 6.8%,#2685f5 9.1%,#2685f5 18.2%,#0fc4e7 22.7%,#81ffb3 45.5%,#c1eb8d)"></i>
<i style="left:1671px;top:292px;width:5px;height:119px;background:linear-gradient(#593cfd,#593cfd 10%,#2685f5 12.5%,#2685f5 20%,#0ec3e7 25%,#5af8c8 40%,#93fda9 42.5%,#cfe183)"></i>
<i style="left:1676px;top:296px;width:5px;height:115px;background:linear-gradient(#593cfd,#593cfd 10.3%,#2685f5 12.8%,#2685f5 20.5%,#0dc2e7 25.6%,#65fcc2 43.6%,#a2f9a0 46.2%,#d7db7e)"></i>
<i style="left:1676px;top:88px;width:5px;height:24px;background:#4c4ffc"></i>
<i style="left:1681px;top:282px;width:5px;height:129px;background:linear-gradient(#593cfd,#593cfd 9.1%,#2685f5 11.4%,#2685f5 18.2%,#0dc2e7 22.7%,#65fcc2 38.6%,#99fca6 43.2%,#dbd87b)"></i>
<i style="left:1681px;top:148px;width:5px;height:17px;background:#3374f8"></i>
<i style="left:1686px;top:262px;width:5px;height:149px;background:linear-gradient(#593cfd,#593cfd 8%,#2685f5 10%,#2685f5 16%,#0fc4e7 20%,#76ffba 40%,#c8e688)"></i>
<i style="left:1691px;top:271px;width:5px;height:140px;background:linear-gradient(#593cfd,#593cfd 8.5%,#2685f5 10.6%,#2685f5 17%,#0fc4e7 21.3%,#7affb7 42.6%,#c3e98b)"></i>
<i style="left:1691px;top:171px;width:5px;height:24px;background:linear-gradient(#593cfd,#593cfd 50%,#2685f5 62.5%,#2685f5)"></i>
<i style="left:1696px;top:286px;width:5px;height:125px;background:linear-gradient(#593cfd,#593cfd 9.5%,#2685f5 11.9%,#2685f5 19%,#0fc4e7 23.8%,#5bf9c7 38.1%,#8efeac 42.9%,#cde284)"></i>
<i style="left:1696px;top:100px;width:5px;height:36px;background:#3374f8"></i>
<i style="left:1701px;top:289px;width:5px;height:122px;background:linear-gradient(#593cfd,#593cfd 9.8%,#2685f5 12.2%,#2685f5 19.5%,#0ec4e7 24.4%,#5af8c8 39%,#8efeac 43.9%,#c8e688)"></i>
<i style="left:1701px;top:88px;width:5px;height:27px;background:#3374f8"></i>
<i style="left:1706px;top:286px;width:5px;height:125px;background:linear-gradient(#593cfd,#593cfd 9.5%,#2685f5 11.9%,#2685f5 19%,#0ec4e7 23.8%,#83ffb2 45.2%,#b9ef91)"></i>
<i style="left:1706px;top:88px;width:5px;height:57px;background:linear-gradient(#06bbea,#10c5e6)"></i>
<i style="left:1711px;top:287px;width:5px;height:124px;background:linear-gradient(#593cfd,#593cfd 9.5%,#2685f5 11.9%,#2685f5 19%,#0dc2e7 23.8%,#84ffb2 50%,#b1f397)"></i>
<i style="left:1711px;top:88px;width:5px;height:86px;background:linear-gradient(#04b9ea,#16cbe4)"></i>
<i style="left:1716px;top:290px;width:5px;height:121px;background:linear-gradient(#593cfd,#593cfd 9.8%,#2685f5 12.2%,#2685f5 19.5%,#0dc2e7 24.4%,#79ffb8 51.2%,#a1faa1)"></i>
<i style="left:1716px;top:88px;width:5px;height:116px;background:linear-gradient(#05afed,#1bd0e3)"></i>
<i style="left:1721px;top:286px;width:5px;height:125px;background:linear-gradient(#593cfd,#593cfd 9.5%,#2685f5 11.9%,#2685f5 19%,#0fc4e7 23.8%,#82ffb3 45.2%,#aef599)"></i>
<i style="left:1721px;top:88px;width:5px;height:137px;background:linear-gradient(#0fc4e7,#39e7d7)"></i>
<i style="left:1726px;top:279px;width:5px;height:132px;background:linear-gradient(#593cfd,#593cfd 8.9%,#2685f5 11.1%,#2685f5 17.8%,#0dc2e7 22.2%,#8dfead 44.4%,#baef91)"></i>
<i style="left:1726px;top:88px;width:5px;height:153px;background:linear-gradient(#22d6e0,#55f6ca)"></i>
<i style="left:1731px;top:88px;width:5px;height:323px;background:linear-gradient(#0cc1e8,#9dfba3)"></i>
<i style="left:1736px;top:88px;width:5px;height:323px;background:linear-gradient(#0dc2e7,#97fca7)"></i>
<i style="left:1741px;top:123px;width:5px;height:288px;background:linear-gradient(#593cfd,#593cfd 4.1%,#2685f5 5.2%,#2685f5 8.2%,#0ec4e7 10.3%,#41ecd3 22.7%,#a4f99f)"></i>
<i style="left:1746px;top:148px;width:5px;height:263px;background:linear-gradient(#593cfd,#593cfd 3.4%,#2685f5 4.5%,#2685f5 9.1%,#0fc4e7 11.4%,#79ffb8)"></i>
<i style="left:1751px;top:148px;width:5px;height:263px;background:linear-gradient(#593cfd,#593cfd 3.4%,#2685f5 4.5%,#2685f5 9.1%,#0fc4e7 11.4%,#8dfead)"></i>
<i style="left:1756px;top:148px;width:5px;height:263px;background:linear-gradient(#593cfd,#593cfd 3.4%,#2685f5 4.5%,#2685f5 9.1%,#0fc4e7 11.4%,#7dffb6)"></i>
<i style="left:1761px;top:148px;width:5px;height:263px;background:linear-gradient(#593cfd,#593cfd 3.4%,#2685f5 4.5%,#2685f5 9.1%,#0fc4e7 11.4%,#44eed2 25%,#a0faa1)"></i>
<i style="left:1766px;top:140px;width:5px;height:271px;background:linear-gradient(#593cfd,#593cfd 4.4%,#2685f5 5.5%,#2685f5 8.8%,#0fc4e7 11%,#49f1d0 22%,#b0f498)"></i>
<i style="left:1771px;top:88px;width:5px;height:323px;background:linear-gradient(#29dbde,#bcee90 99.1%,#bded8f)"></i>
<i style="left:1776px;top:88px;width:5px;height:323px;background:linear-gradient(#13c8e6,#a7f89d 97.2%,#abf69b)"></i>
<i style="left:1781px;top:88px;width:5px;height:323px;background:linear-gradient(#15cae5,#a9f79c 96.3%,#aef599)"></i>
<i style="left:1786px;top:88px;width:5px;height:323px;background:linear-gradient(#0fc4e7,#a4f99f 97.2%,#a8f79c)"></i>
<i style="left:1791px;top:88px;width:5px;height:323px;background:linear-gradient(#1acfe3,#aff498 97.2%,#b3f295)"></i>
<i style="left:1796px;top:88px;width:5px;height:323px;background:linear-gradient(#09bee9,#a1faa1 99.1%,#a2f9a0)"></i>
<i style="left:1801px;top:88px;width:5px;height:323px;background:linear-gradient(#0abfe8,#a3f99f)"></i>
<i style="left:1806px;top:88px;width:5px;height:323px;background:linear-gradient(#1bd0e3,#b1f397 98.1%,#b4f295)"></i>
<i style="left:1811px;top:88px;width:5px;height:323px;background:linear-gradient(#10c5e6,#a9f79c)"></i>
<i style="left:1816px;top:88px;width:5px;height:323px;background:linear-gradient(#1bd0e3,#b3f296 99.1%,#b4f295)"></i>
<i style="left:1821px;top:88px;width:5px;height:323px;background:linear-gradient(#0aa9ee,#71febc 85.2%,#8ffeab)"></i>
<i style="left:1826px;top:136px;width:5px;height:275px;background:linear-gradient(#593cfd,#593cfd 3.3%,#2685f5 4.3%,#2685f5 8.7%,#0fc4e7 10.9%,#9afca5 95.7%,#a2f9a0)"></i>
<i style="left:1831px;top:211px;width:5px;height:200px;background:linear-gradient(#593cfd,#593cfd 6%,#2685f5 7.5%,#2685f5 11.9%,#0fc4e7 14.9%,#52f5cc 29.9%,#9bfba4)"></i>
<i style="left:1836px;top:246px;width:5px;height:165px;background:linear-gradient(#593cfd,#593cfd 5.5%,#2685f5 7.3%,#2685f5 14.5%,#0fc4e7 18.2%,#49f1d0 34.5%,#81ffb4)"></i>
<i style="left:1841px;top:273px;width:5px;height:138px;background:linear-gradient(#593cfd,#593cfd 6.5%,#2685f5 8.7%,#2685f5 17.4%,#0fc4e7 21.7%,#62fbc4 41.3%,#8cfead)"></i>
<i style="left:1846px;top:293px;width:5px;height:118px;background:linear-gradient(#593cfd,#593cfd 10%,#2685f5 12.5%,#2685f5 20%,#0dc2e7 25%,#50f4cd 47.5%,#71febc)"></i>
<i style="left:1846px;top:88px;width:5px;height:24px;background:#1996f3"></i>
<i style="left:1851px;top:315px;width:5px;height:96px;background:linear-gradient(#593cfd,#593cfd 12.1%,#2685f5 15.2%,#2685f5 27.3%,#18cde4 33.3%,#5df9c6 60.6%,#70febd)"></i>
<i style="left:1856px;top:338px;width:5px;height:73px;background:linear-gradient(#593cfd,#593cfd 16%,#2685f5 20%,#2685f5 36%,#19cee3 44%,#64fbc3 84%,#6afdc0)"></i>
<i style="left:1861px;top:373px;width:5px;height:38px;background:linear-gradient(#593cfd,#593cfd 30.8%,#2685f5 38.5%,#2685f5 69.2%,#18cde4 84.6%,#31e2da)"></i>
<i style="left:1871px;top:355px;width:5px;height:56px;background:linear-gradient(#593cfd,#593cfd 21.1%,#2685f5 26.3%,#2685f5 42.1%,#0ec3e7 52.6%,#36e5d8)"></i>
<i style="left:1876px;top:347px;width:5px;height:64px;background:linear-gradient(#593cfd,#593cfd 18.2%,#2685f5 22.7%,#2685f5 40.9%,#17cce4 50%,#4ef3ce 95.5%,#4ff4cd)"></i>
<i style="left:1876px;top:100px;width:5px;height:18px;background:#4c4ffc"></i>
<i style="left:1881px;top:342px;width:5px;height:69px;background:linear-gradient(#593cfd,#593cfd 16.7%,#2685f5 20.8%,#2685f5 37.5%,#18cce4 45.8%,#44eed2)"></i>
<i style="left:1886px;top:339px;width:5px;height:72px;background:linear-gradient(#593cfd,#593cfd 16%,#2685f5 20%,#2685f5 36%,#17cce4 44%,#31e2da)"></i>
<i style="left:1891px;top:357px;width:5px;height:54px;background:linear-gradient(#593cfd,#593cfd 22.2%,#2685f5 27.8%,#2685f5 44.4%,#0ec4e7 55.6%,#59f8c8)"></i>
<i style="left:1896px;top:355px;width:5px;height:56px;background:linear-gradient(#593cfd,#593cfd 21.1%,#2685f5 26.3%,#2685f5 42.1%,#0ec3e7 52.6%,#4ff4cd)"></i>
<i style="left:1901px;top:338px;width:5px;height:73px;background:linear-gradient(#593cfd,#593cfd 16%,#2685f5 20%,#2685f5 32%,#0dc2e8 40%,#42edd3 80%,#49f1d0)"></i>
<i style="left:1906px;top:336px;width:5px;height:75px;background:linear-gradient(#593cfd,#593cfd 15.4%,#2685f5 19.2%,#2685f5 34.6%,#18cde4 42.3%,#48f0d0 88.5%,#4cf2cf)"></i>
<i style="left:1906px;top:88px;width:5px;height:30px;background:#4c4ffc"></i>
<i style="left:1911px;top:342px;width:5px;height:69px;background:linear-gradient(#593cfd,#593cfd 13%,#2685f5 17.4%,#2685f5 34.8%,#0fc4e7 43.5%,#40ecd4 95.7%,#41ecd3)"></i>
<i style="left:1916px;top:352px;width:5px;height:59px;background:linear-gradient(#593cfd,#593cfd 20%,#2685f5 25%,#2685f5 40%,#0dc2e8 50%,#53f5cb 95%,#54f6cb)"></i>
<i style="left:1921px;top:365px;width:5px;height:46px;background:linear-gradient(#593cfd,#593cfd 25%,#2685f5 31.2%,#2685f5 56.2%,#16cbe5 68.8%,#3eead5)"></i>
<i style="left:1926px;top:361px;width:5px;height:50px;background:linear-gradient(#593cfd,#593cfd 23.5%,#2685f5 29.4%,#2685f5 52.9%,#19cee3 64.7%,#47f0d1)"></i>
<i style="left:1931px;top:359px;width:5px;height:52px;background:linear-gradient(#593cfd,#593cfd 22.2%,#2685f5 27.8%,#2685f5 50%,#18cde4 61.1%,#59f8c9)"></i>
<i style="left:1936px;top:376px;width:5px;height:35px;background:linear-gradient(#593cfd,#593cfd 33.3%,#2685f5 41.7%,#2685f5 75%,#19cee3 91.7%,#25d9df)"></i>
<i style="left:1941px;top:374px;width:5px;height:37px;background:linear-gradient(#593cfd,#593cfd 30.8%,#2685f5 38.5%,#2685f5 69.2%,#14c9e5 84.6%,#2cdedc)"></i>
<i style="left:1946px;top:365px;width:5px;height:46px;background:linear-gradient(#593cfd,#593cfd 25%,#2685f5 31.2%,#2685f5 56.2%,#16cbe4 68.8%,#4ef3ce)"></i>
<i style="left:1951px;top:362px;width:5px;height:49px;background:linear-gradient(#593cfd,#593cfd 23.5%,#2685f5 29.4%,#2685f5 52.9%,#18cde4 64.7%,#3ae8d6)"></i>
<i style="left:1956px;top:371px;width:5px;height:40px;background:linear-gradient(#593cfd,#593cfd 28.6%,#2685f5 35.7%,#2685f5 64.3%,#16cbe4 78.6%,#3be8d6)"></i>
<i style="left:1961px;top:380px;width:5px;height:31px;background:linear-gradient(#593cfd,#593cfd 36.4%,#2685f5 45.5%,#2685f5 81.8%,#16cbe4)"></i>
<i style="left:1966px;top:374px;width:5px;height:37px;background:linear-gradient(#593cfd,#593cfd 30.8%,#2685f5 38.5%,#2685f5 69.2%,#14c9e5 84.6%,#2cdedc)"></i>
<i style="left:1971px;top:378px;width:5px;height:33px;background:linear-gradient(#593cfd,#593cfd 36.4%,#2685f5 45.5%,#2685f5 72.7%,#0fc4e7 90.9%,#1bd0e3)"></i>
<i style="left:1971px;top:100px;width:5px;height:18px;background:#3374f8"></i>
<i style="left:1976px;top:386px;width:5px;height:25px;background:linear-gradient(#593cfd,#593cfd 44.4%,#2685f5 55.6%,#2685f5)"></i>
<i style="left:1991px;top:88px;width:5px;height:24px;background:#4c4ffc"></i>
<i style="left:2001px;top:387px;width:5px;height:24px;background:linear-gradient(#593cfd,#593cfd 37.5%,#2685f5 50%,#2685f5)"></i>
<i style="left:2001px;top:358px;width:5px;height:53px;background:linear-gradient(#593cfd,#593cfd 22.2%,#2685f5 27.8%,#2685f5 44.4%,#0cc2e8 55.6%,#2adddd)"></i>
<i style="left:2006px;top:97px;width:5px;height:21px;background:#1996f3"></i>
<i style="left:341px;top:552px;width:5px;height:324px;background:linear-gradient(#f4a082,#f4a082 73.4%,#b40426 74.3%,#b40426)"></i>
<i style="left:356px;top:552px;width:5px;height:324px;background:linear-gradient(#f4a082,#f4a082 73.4%,#b40426 74.3%,#b40426)"></i>
<i style="left:361px;top:552px;width:5px;height:324px;background:linear-gradient(#f4a082,#f4a082 73.4%,#b40426 74.3%,#b40426)"></i>
<i style="left:381px;top:552px;width:5px;height:324px;background:linear-gradient(#e06551,#da5849 68.8%,#b40426 69.7%,#b40426)"></i>
<i style="left:386px;top:552px;width:5px;height:324px;background:linear-gradient(#eb8167,#e6765f 70.6%,#c62c37 71.6%,#c62c37 75.2%,#b40426 77.1%,#b40426)"></i>
<i style="left:391px;top:552px;width:5px;height:324px;background:linear-gradient(#f29577,#ee896e 70.6%,#d44b44 71.6%,#d44b44 75.2%,#b40426 76.1%,#b40426)"></i>
<i style="left:396px;top:552px;width:5px;height:324px;background:linear-gradient(#f19375,#ed886c 70.6%,#d34843 71.6%,#d34843 75.2%,#b40426 76.1%,#b40426)"></i>
<i style="left:401px;top:552px;width:5px;height:324px;background:linear-gradient(#f19275,#ed876c 69.7%,#d34742 70.6%,#d34742 74.3%,#b40426 75.2%,#b40426)"></i>
<i style="left:406px;top:552px;width:5px;height:324px;background:linear-gradient(#f4a98d,#f4a183 69.7%,#e36d57 70.6%,#e36d57 74.3%,#b40426 75.2%,#b40426)"></i>
<i style="left:411px;top:552px;width:5px;height:324px;background:linear-gradient(#eb8369,#e77960 68.8%,#c82f38 69.7%,#c82f38 73.4%,#b40426 74.3%,#b40426)"></i>
<i style="left:416px;top:552px;width:5px;height:324px;background:linear-gradient(#ed886d,#e97d64 69.7%,#cb363b 70.6%,#cb363b 74.3%,#b40426 75.2%,#b40426)"></i>
<i style="left:421px;top:552px;width:5px;height:324px;background:linear-gradient(#f4a78b,#f49f81 69.7%,#e26a55 70.6%,#e26a55 74.3%,#b40426 75.2%,#b40426)"></i>
<i style="left:426px;top:552px;width:5px;height:324px;background:linear-gradient(#f19174,#ec856b 69.7%,#d14441 70.6%,#d14441 74.3%,#b40426 75.2%,#b40426)"></i>
<i style="left:431px;top:552px;width:5px;height:324px;background:linear-gradient(#f5b398,#f4aa8e 69.7%,#e87961 70.6%,#e87961 74.3%,#b40426 75.2%,#b40426)"></i>
<i style="left:436px;top:552px;width:5px;height:324px;background:linear-gradient(#e97e65,#e5725b 69.7%,#c32534 70.6%,#c32534 74.3%,#b40426 76.1%,#b40426)"></i>
<i style="left:441px;top:552px;width:5px;height:324px;background:linear-gradient(#f4a68a,#f49d7f 69.7%,#e16853 70.6%,#e16853 74.3%,#b40426 75.2%,#b40426)"></i>
<i style="left:446px;top:552px;width:5px;height:324px;background:linear-gradient(#f4aa8e,#f4a183 70.6%,#e36e58 71.6%,#e36e58 75.2%,#b40426 76.1%,#b40426)"></i>
<i style="left:451px;top:552px;width:5px;height:324px;background:linear-gradient(#f4a486,#f49b7c 69.7%,#e06450 70.6%,#e06450 74.3%,#b40426 75.2%,#b40426)"></i>
<i style="left:456px;top:552px;width:5px;height:324px;background:linear-gradient(#f09073,#ec846a 69.7%,#d04240 70.6%,#d04240 74.3%,#b40426 75.2%,#b40426)"></i>
<i style="left:461px;top:552px;width:5px;height:324px;background:linear-gradient(#f4a184,#f39879 69.7%,#de614e 70.6%,#de614e 74.3%,#b40426 75.2%,#b40426)"></i>
<i style="left:466px;top:552px;width:5px;height:324px;background:linear-gradient(#f49a7b,#ef8d71 69.7%,#d75147 70.6%,#d75147 74.3%,#b40426 75.2%,#b40426)"></i>
<i style="left:471px;top:552px;width:5px;height:324px;background:linear-gradient(#ef8e71,#eb8167 68.8%,#ce3e3e 69.7%,#ce3e3e 73.4%,#b40426 74.3%,#b40426)"></i>
<i style="left:476px;top:552px;width:5px;height:324px;background:linear-gradient(#ec8469,#e6765e 71.6%,#c72e38 72.5%,#c72e38 76.1%,#b40426 77.1%,#b40426)"></i>
<i style="left:481px;top:552px;width:5px;height:324px;background:linear-gradient(#ed876c,#e87961 70.6%,#c9323a 71.6%,#c9323a 75.2%,#b40426 76.1%,#b40426)"></i>
<i style="left:486px;top:552px;width:5px;height:324px;background:linear-gradient(#ed876c,#e87961 70.6%,#c9323a 71.6%,#c9323a 75.2%,#b40426 76.1%,#b40426)"></i>
<i style="left:491px;top:552px;width:5px;height:324px;background:linear-gradient(#f49b7c,#ef8c70 72.5%,#d85247 73.4%,#d85247 76.1%,#b40426 77.1%,#b40426)"></i>
<i style="left:496px;top:552px;width:5px;height:324px;background:linear-gradient(#e97e65,#e4705a 70.6%,#c32434 71.6%,#c32434 75.2%,#b40426 77.1%,#b40426)"></i>
<i style="left:501px;top:552px;width:5px;height:324px;background:linear-gradient(#ec8469,#e6755e 72.5%,#c72d37 73.4%,#c72d37 76.1%,#b40426 77.1%,#b40426)"></i>
<i style="left:506px;top:552px;width:5px;height:324px;background:linear-gradient(#f49e7f,#f19174 70.6%,#da584a 71.6%,#da584a 75.2%,#b40426 76.1%,#b40426)"></i>
<i style="left:511px;top:552px;width:5px;height:324px;background:linear-gradient(#f49e80,#f19174 71.6%,#db5a4a 72.5%,#db5a4a 76.1%,#b40426 77.1%,#b40426)"></i>
<i style="left:516px;top:552px;width:5px;height:324px;background:linear-gradient(#f4ab8f,#f4a082 71.6%,#e36d57 72.5%,#e36d57 76.1%,#b40426 77.1%,#b40426)"></i>
<i style="left:521px;top:552px;width:5px;height:324px;background:linear-gradient(#e97e64,#e46f59 71.6%,#c22333 72.5%,#c22333 76.1%,#b40426 78%,#b40426)"></i>
<i style="left:526px;top:552px;width:5px;height:324px;background:linear-gradient(#f49e80,#f09073 71.6%,#da584a 72.5%,#da584a 76.1%,#b40426 77.1%,#b40426)"></i>
<i style="left:531px;top:552px;width:5px;height:324px;background:linear-gradient(#ed886d,#e77961 71.6%,#ca333a 72.5%,#ca333a 75.2%,#b40426 76.1%,#b40426)"></i>
<i style="left:536px;top:552px;width:5px;height:324px;background:linear-gradient(#f4a184,#f29577 71.6%,#de604d 72.5%,#de604d 76.1%,#b40426 77.1%,#b40426)"></i>
<i style="left:541px;top:552px;width:5px;height:324px;background:linear-gradient(#f49b7c,#ee8b6f 71.6%,#d75046 72.5%,#d75046 75.2%,#b40426 76.1%,#b40426)"></i>
<i style="left:546px;top:552px;width:5px;height:324px;background:linear-gradient(#e97c63,#e36c57 71.6%,#c11f32 72.5%,#c11f32 76.1%,#b40426 78.9%,#b40426)"></i>
<i style="left:551px;top:552px;width:5px;height:324px;background:linear-gradient(#f09073,#eb8167 70.6%,#cf403f 71.6%,#cf403f 75.2%,#b40426 76.1%,#b40426)"></i>
<i style="left:556px;top:552px;width:5px;height:324px;background:linear-gradient(#f4a88c,#f49d7f 70.6%,#e16954 71.6%,#e16954 75.2%,#b40426 76.1%,#b40426)"></i>
<i style="left:561px;top:552px;width:5px;height:324px;background:linear-gradient(#ea8167,#e4715a 71.6%,#c42635 72.5%,#c42635 76.1%,#b40426 78%,#b40426)"></i>
<i style="left:566px;top:552px;width:5px;height:324px;background:linear-gradient(#f5b89f,#f4ad91 70.6%,#ea7f65 71.6%,#ea7f65 75.2%,#b40426 76.1%,#b40426)"></i>
<i style="left:571px;top:552px;width:5px;height:324px;background:linear-gradient(#f4ae93,#f4a285 71.6%,#e4705a 72.5%,#e4705a 76.1%,#b40426 77.1%,#b40426)"></i>
<i style="left:576px;top:552px;width:5px;height:324px;background:linear-gradient(#f4ab8f,#f49e80 72.5%,#e26c56 73.4%,#e26c56 76.1%,#b40426 77.1%,#b40426)"></i>
<i style="left:581px;top:552px;width:5px;height:324px;background:linear-gradient(#f5b79e,#f4ac90 70.6%,#e97d64 71.6%,#e97d64 75.2%,#b40426 76.1%,#b40426)"></i>
<i style="left:586px;top:552px;width:5px;height:324px;background:linear-gradient(#f49f81,#f09073 71.6%,#da584a 72.5%,#da584a 76.1%,#b40426 77.1%,#b40426)"></i>
<i style="left:591px;top:552px;width:5px;height:324px;background:linear-gradient(#f5b399,#f4a78a 71.6%,#e7775f 72.5%,#e7775f 76.1%,#b40426 77.1%,#b40426)"></i>
<i style="left:596px;top:552px;width:5px;height:324px;background:linear-gradient(#f5b79e,#f4a88c 78%,#e97d64 78.9%,#e97d64 82.6%,#b40426 83.5%,#b40426)"></i>
<i style="left:601px;top:552px;width:5px;height:324px;background:linear-gradient(#f5b9a0,#f4aa8e 78.9%,#ea8066 79.8%,#ea8066 82.6%,#b40426 83.5%,#b40426)"></i>
<i style="left:606px;top:552px;width:5px;height:324px;background:linear-gradient(#f4a386,#f19275 78%,#de614e 78.9%,#de614e 82.6%,#b40426 83.5%,#b40426)"></i>
<i style="left:611px;top:552px;width:5px;height:324px;background:linear-gradient(#f5b298,#f4a385 78.9%,#e6765e 79.8%,#e6765e 83.5%,#b40426 84.4%,#b40426)"></i>
<i style="left:616px;top:552px;width:5px;height:324px;background:linear-gradient(#f4ad92,#f49e80 78.9%,#e46f59 79.8%,#e46f59 83.5%,#b40426 84.4%,#b40426)"></i>
<i style="left:621px;top:552px;width:5px;height:324px;background:linear-gradient(#f49a7b,#ec866b 78%,#d54d45 78.9%,#d54d45 82.6%,#b40426 83.5%,#b40426)"></i>
<i style="left:626px;top:552px;width:5px;height:324px;background:linear-gradient(#f4a88c,#f4997a 78%,#e16853 78.9%,#e16853 82.6%,#b40426 83.5%,#b40426)"></i>
<i style="left:631px;top:552px;width:5px;height:324px;background:linear-gradient(#f4aa8e,#f49b7c 78.9%,#e26a55 79.8%,#e26a55 82.6%,#b40426 83.5%,#b40426)"></i>
<i style="left:636px;top:552px;width:5px;height:324px;background:linear-gradient(#f4ae92,#f49f82 78%,#e47059 78.9%,#e47059 82.6%,#b40426 83.5%,#b40426)"></i>
<i style="left:641px;top:552px;width:5px;height:324px;background:linear-gradient(#f4a98d,#f49a7b 78.9%,#e16954 79.8%,#e16954 83.5%,#b40426 84.4%,#b40426)"></i>
<i style="left:646px;top:552px;width:5px;height:324px;background:linear-gradient(#f4a385,#f19275 78.9%,#de614d 79.8%,#de614d 83.5%,#b40426 84.4%,#b40426)"></i>
<i style="left:651px;top:552px;width:5px;height:324px;background:linear-gradient(#f4a386,#f19376 78.9%,#de614e 79.8%,#de614e 82.6%,#b40426 83.5%,#b40426)"></i>
<i style="left:656px;top:552px;width:5px;height:324px;background:linear-gradient(#f19275,#ea8066 78%,#d04240 78.9%,#d04240 82.6%,#b40426 83.5%,#b40426)"></i>
<i style="left:661px;top:552px;width:5px;height:324px;background:linear-gradient(#f4a082,#f08f73 78%,#dc5b4b 78.9%,#dc5b4b 82.6%,#b40426 83.5%,#b40426)"></i>
<i style="left:666px;top:552px;width:5px;height:324px;background:linear-gradient(#f5b69c,#f4a88c 78.9%,#e87b62 79.8%,#e87b62 83.5%,#b40426 84.4%,#b40426)"></i>
<i style="left:671px;top:552px;width:5px;height:324px;background:linear-gradient(#f5b9a0,#f4ac90 78%,#ea7f66 78.9%,#ea7f66 82.6%,#b40426 83.5%,#b40426)"></i>
<i style="left:676px;top:552px;width:5px;height:324px;background:linear-gradient(#f49b7d,#ee8a6e 78%,#d75046 78.9%,#d75046 82.6%,#b40426 83.5%,#b40426)"></i>
<i style="left:681px;top:552px;width:5px;height:324px;background:linear-gradient(#f4aa8e,#f49d7e 78%,#e26a55 78.9%,#e26a55 82.6%,#b40426 83.5%,#b40426)"></i>
<i style="left:686px;top:552px;width:5px;height:324px;background:linear-gradient(#ee896e,#e77860 78%,#ca333a 78.9%,#ca333a 82.6%,#b40426 83.5%,#b40426)"></i>
<i style="left:691px;top:552px;width:5px;height:324px;background:linear-gradient(#f4a588,#f39879 78%,#df6450 78.9%,#df6450 82.6%,#b40426 83.5%,#b40426)"></i>
<i style="left:696px;top:552px;width:5px;height:324px;background:linear-gradient(#f4a78a,#f49a7b 78%,#e06652 78.9%,#e06652 82.6%,#b40426 83.5%,#b40426)"></i>
<i style="left:701px;top:552px;width:5px;height:324px;background:linear-gradient(#f19375,#eb8268 77.1%,#d04240 78%,#d04240 81.7%,#b40426 82.6%,#b40426)"></i>
<i style="left:706px;top:552px;width:5px;height:324px;background:linear-gradient(#f49b7c,#ef8c70 75.2%,#d75046 76.1%,#d75046 79.8%,#b40426 80.7%,#b40426)"></i>
<i style="left:711px;top:552px;width:5px;height:324px;background:linear-gradient(#f49a7b,#ee8a6f 75.2%,#d64e45 76.1%,#d64e45 79.8%,#b40426 80.7%,#b40426)"></i>
<i style="left:716px;top:552px;width:5px;height:324px;background:linear-gradient(#f4a487,#f4997a 75.2%,#df634f 76.1%,#df634f 79.8%,#b40426 80.7%,#b40426)"></i>
<i style="left:721px;top:552px;width:5px;height:324px;background:linear-gradient(#f19376,#ec8469 75.2%,#d14341 76.1%,#d14341 79.8%,#b40426 80.7%,#b40426)"></i>
<i style="left:726px;top:552px;width:5px;height:324px;background:linear-gradient(#ef8d70,#e97d64 75.2%,#cc383c 76.1%,#cc383c 79.8%,#b40426 80.7%,#b40426)"></i>
<i style="left:731px;top:552px;width:5px;height:324px;background:linear-gradient(#f4a78b,#f49c7d 76.1%,#e06652 77.1%,#e06652 80.7%,#b40426 81.7%,#b40426)"></i>
<i style="left:736px;top:552px;width:5px;height:324px;background:linear-gradient(#f4a285,#f39678 76.1%,#de604d 77.1%,#de604d 80.7%,#b40426 81.7%,#b40426)"></i>
<i style="left:741px;top:552px;width:5px;height:324px;background:linear-gradient(#f4a88c,#f49d7f 76.1%,#e16853 77.1%,#e16853 80.7%,#b40426 81.7%,#b40426)"></i>
<i style="left:746px;top:552px;width:5px;height:324px;background:linear-gradient(#f09073,#eb8268 75.2%,#ce3e3e 76.1%,#ce3e3e 79.8%,#b40426 80.7%,#b40426)"></i>
<i style="left:751px;top:552px;width:5px;height:324px;background:linear-gradient(#f49c7d,#f08e72 75.2%,#d85247 76.1%,#d85247 79.8%,#b40426 80.7%,#b40426)"></i>
<i style="left:756px;top:552px;width:5px;height:324px;background:linear-gradient(#ee8b6f,#e97c63 76.1%,#cb363b 77.1%,#cb363b 80.7%,#b40426 81.7%,#b40426)"></i>
<i style="left:761px;top:552px;width:5px;height:324px;background:linear-gradient(#f4a487,#f4997b 77.1%,#df634f 78%,#df634f 80.7%,#b40426 81.7%,#b40426)"></i>
<i style="left:766px;top:552px;width:5px;height:324px;background:linear-gradient(#f49a7b,#ee8b6f 77.1%,#d54d45 78%,#d54d45 80.7%,#b40426 81.7%,#b40426)"></i>
<i style="left:771px;top:552px;width:5px;height:324px;background:linear-gradient(#f4a78b,#f49d7f 76.1%,#e16752 77.1%,#e16752 80.7%,#b40426 81.7%,#b40426)"></i>
<i style="left:776px;top:552px;width:5px;height:324px;background:linear-gradient(#f4a183,#f29577 77.1%,#dc5d4c 78%,#dc5d4c 81.7%,#b40426 82.6%,#b40426)"></i>
<i style="left:781px;top:552px;width:5px;height:324px;background:linear-gradient(#f4ad92,#f4a386 77.1%,#e46f59 78%,#e46f59 81.7%,#b40426 82.6%,#b40426)"></i>
<i style="left:786px;top:552px;width:5px;height:324px;background:linear-gradient(#f4a386,#f3997a 76.1%,#de614e 77.1%,#de614e 80.7%,#b40426 81.7%,#b40426)"></i>
<i style="left:791px;top:552px;width:5px;height:324px;background:linear-gradient(#f4ac91,#f4a385 76.1%,#e36e58 77.1%,#e36e58 80.7%,#b40426 81.7%,#b40426)"></i>
<i style="left:796px;top:552px;width:5px;height:324px;background:linear-gradient(#f5b69c,#f4ac90 76.1%,#e87b62 77.1%,#e87b62 80.7%,#b40426 81.7%,#b40426)"></i>
<i style="left:801px;top:552px;width:5px;height:324px;background:linear-gradient(#f5bba2,#f5b196 77.1%,#eb8168 78%,#eb8168 80.7%,#b40426 81.7%,#b40426)"></i>
<i style="left:806px;top:560px;width:5px;height:316px;background:linear-gradient(#f5b9a0,#f5b095 76.4%,#ea7f66 77.4%,#ea7f66 81.1%,#b40426 82.1%,#b40426)"></i>
<i style="left:811px;top:568px;width:5px;height:308px;background:linear-gradient(#f5b69c,#f4ac91 76.7%,#e87a62 77.7%,#e87a62 80.6%,#b40426 81.6%,#b40426)"></i>
<i style="left:816px;top:552px;width:5px;height:324px;background:linear-gradient(#f5b096,#f4a78b 77.1%,#e5735c 78%,#e5735c 81.7%,#b40426 82.6%,#b40426)"></i>
<i style="left:821px;top:552px;width:5px;height:324px;background:linear-gradient(#f4c5ae,#f5bca3 78%,#f08f72 78.9%,#f08f72 82.6%,#b40426 83.5%,#b40426)"></i>
<i style="left:826px;top:552px;width:5px;height:324px;background:linear-gradient(#f49b7d,#f09073 78.9%,#d64f46 79.8%,#d64f46 82.6%,#b40426 83.5%,#b40426)"></i>
<i style="left:831px;top:552px;width:5px;height:324px;background:linear-gradient(#f5b79e,#f5af94 78%,#e97c63 78.9%,#e97c63 82.6%,#b40426 83.5%,#b40426)"></i>
<i style="left:836px;top:552px;width:5px;height:324px;background:linear-gradient(#f4a78b,#f49f81 79.8%,#e06551 80.7%,#e06551 84.4%,#b40426 85.3%,#b40426)"></i>
<i style="left:841px;top:552px;width:5px;height:324px;background:linear-gradient(#f4a588,#f49d7e 79.8%,#df624f 80.7%,#df624f 84.4%,#b40426 85.3%,#b40426)"></i>
<i style="left:846px;top:552px;width:5px;height:324px;background:linear-gradient(#f4a082,#f29678 81.7%,#da5749 82.6%,#da5749 86.2%,#b40426 87.2%,#b40426)"></i>
<i style="left:851px;top:552px;width:5px;height:324px;background:linear-gradient(#f5b49a,#f4ac91 81.7%,#e7775f 82.6%,#e7775f 86.2%,#b40426 87.2%,#b40426)"></i>
<i style="left:856px;top:552px;width:5px;height:324px;background:linear-gradient(#f49b7c,#f08f73 82.6%,#d44b44 83.5%,#d44b44 86.2%,#b40426 87.2%,#b40426)"></i>
<i style="left:861px;top:552px;width:5px;height:324px;background:linear-gradient(#f4a487,#f49c7e 82.6%,#de604d 83.5%,#de604d 87.2%,#b40426 88.1%,#b40426)"></i>
<i style="left:866px;top:552px;width:5px;height:324px;background:linear-gradient(#f5b49a,#f4ac91 82.6%,#e6765e 83.5%,#e6765e 87.2%,#b40426 88.1%,#b40426)"></i>
<i style="left:871px;top:552px;width:5px;height:324px;background:linear-gradient(#f5b79d,#f4af94 83.5%,#e77961 84.4%,#e77961 88.1%,#b40426 89%,#b40426)"></i>
<i style="left:876px;top:552px;width:5px;height:324px;background:linear-gradient(#f4a78a,#f49f81 83.5%,#df634f 84.4%,#df634f 88.1%,#b40426 89%,#b40426)"></i>
<i style="left:881px;top:552px;width:5px;height:324px;background:linear-gradient(#eb8167,#e7775f 83.5%,#c12132 84.4%,#c12132 88.1%,#b40426 90.8%,#b40426)"></i>
<i style="left:886px;top:552px;width:5px;height:324px;background:linear-gradient(#f4a184,#f49a7b 84.4%,#da584a 85.3%,#da584a 89%,#b40426 89.9%,#b40426)"></i>
<i style="left:891px;top:552px;width:5px;height:324px;background:linear-gradient(#f49f81,#f39779 84.4%,#d85347 85.3%,#d85347 89%,#b40426 89.9%,#b40426)"></i>
<i style="left:896px;top:552px;width:5px;height:324px;background:linear-gradient(#f4a487,#f49d7f 84.4%,#dd5d4c 85.3%,#dd5d4c 89%,#b40426 89.9%,#b40426)"></i>
<i style="left:901px;top:552px;width:5px;height:324px;background:linear-gradient(#f5b69d,#f5b095 84.4%,#e77760 85.3%,#e77760 89%,#b40426 89.9%,#b40426)"></i>
<i style="left:906px;top:552px;width:5px;height:324px;background:linear-gradient(#f5b59b,#f5af94 84.4%,#e6765e 85.3%,#e6765e 89%,#b40426 89.9%,#b40426)"></i>
<i style="left:911px;top:552px;width:5px;height:324px;background:linear-gradient(#f4a082,#f49a7b 86.2%,#d85448 87.2%,#d85448 89.9%,#b40426 90.8%,#b40426)"></i>
<i style="left:916px;top:552px;width:5px;height:324px;background:linear-gradient(#f5bca3,#f5b69c 86.2%,#ea7e65 87.2%,#ea7e65 90.8%,#b40426 91.7%,#b40426)"></i>
<i style="left:921px;top:552px;width:5px;height:324px;background:linear-gradient(#f4aa8f,#f4a588 86.2%,#e06652 87.2%,#e06652 89.9%,#b40426 90.8%,#b40426)"></i>
<i style="left:926px;top:552px;width:5px;height:324px;background:linear-gradient(#f49d7f,#f39779 85.3%,#d54d45 86.2%,#d54d45 89.9%,#b40426 90.8%,#b40426)"></i>
<i style="left:931px;top:552px;width:5px;height:324px;background:linear-gradient(#f4ac90,#f4a68a 86.2%,#e16853 87.2%,#e16853 90.8%,#b40426 91.7%,#b40426)"></i>
<i style="left:936px;top:552px;width:5px;height:324px;background:linear-gradient(#f29678,#f08f73 86.2%,#cf3f3f 87.2%,#cf3f3f 90.8%,#b40426 91.7%,#b40426)"></i>
<i style="left:941px;top:552px;width:5px;height:324px;background:linear-gradient(#f49c7d,#f39678 87.2%,#d44943 88.1%,#d44943 91.7%,#b40426 92.7%,#b40426)"></i>
<i style="left:946px;top:552px;width:5px;height:324px;background:linear-gradient(#f5b196,#f4ac90 88.1%,#e36e58 89%,#e36e58 91.7%,#b40426 92.7%,#b40426)"></i>
<i style="left:951px;top:552px;width:5px;height:324px;background:linear-gradient(#f5b69c,#f5b095 92.7%,#b40426 93.6%,#b40426)"></i>
<i style="left:956px;top:552px;width:5px;height:324px;background:linear-gradient(#f4ac90,#f4a689 92.7%,#b40426 93.6%,#b40426)"></i>
<i style="left:961px;top:552px;width:5px;height:324px;background:linear-gradient(#f4a588,#f4a082 92.7%,#b40426 93.6%,#b40426)"></i>
<i style="left:966px;top:552px;width:5px;height:324px;background:linear-gradient(#f4a588,#f4a082 92.7%,#b40426 93.6%,#b40426)"></i>
<i style="left:971px;top:552px;width:5px;height:324px;background:linear-gradient(#f49f82,#f49b7c 92.7%,#b40426 93.6%,#b40426)"></i>
<i style="left:976px;top:552px;width:5px;height:324px;background:linear-gradient(#f4a78b,#f4a385 93.6%,#b40426 94.5%,#b40426)"></i>
<i style="left:981px;top:552px;width:5px;height:324px;background:linear-gradient(#ec856a,#ea7e65 94.5%,#b40426 95.4%,#b40426)"></i>
<i style="left:986px;top:552px;width:5px;height:324px;background:linear-gradient(#f29577,#f09073 92.7%,#b40426 93.6%,#b40426)"></i>
<i style="left:991px;top:552px;width:5px;height:324px;background:linear-gradient(#f49f81,#f49b7c 94.5%,#b40426 95.4%,#b40426)"></i>
<i style="left:996px;top:552px;width:5px;height:324px;background:linear-gradient(#f49c7d,#f39778 94.5%,#b40426 95.4%,#b40426)"></i>
<i style="left:1001px;top:552px;width:5px;height:324px;background:linear-gradient(#ee8b6f,#ec856a 94.5%,#b40426 95.4%,#b40426)"></i>
<i style="left:1006px;top:552px;width:5px;height:324px;background:linear-gradient(#f4a78a,#f4a385 93.6%,#b40426 94.5%,#b40426)"></i>
<i style="left:1011px;top:552px;width:5px;height:324px;background:linear-gradient(#f5b79e,#f5b298 94.5%,#b40426 95.4%,#b40426)"></i>
<i style="left:1016px;top:552px;width:5px;height:324px;background:linear-gradient(#f4a88c,#f4a386 94.5%,#b40426 95.4%,#b40426)"></i>
<i style="left:1021px;top:552px;width:5px;height:324px;background:linear-gradient(#f4a285,#f49d7f 94.5%,#b40426 95.4%,#b40426)"></i>
<i style="left:1026px;top:552px;width:5px;height:324px;background:linear-gradient(#f4ab8f,#f4a589 94.5%,#b40426 95.4%,#b40426)"></i>
<i style="left:1031px;top:552px;width:5px;height:324px;background:linear-gradient(#f5bca4,#f5b69d 94.5%,#b40426 95.4%,#b40426)"></i>
<i style="left:1036px;top:552px;width:5px;height:324px;background:linear-gradient(#f4ae93,#f4a88c 94.5%,#b40426 95.4%,#b40426)"></i>
<i style="left:1041px;top:569px;width:5px;height:307px;background:linear-gradient(#f4ae93,#f4a88b 94.2%,#b40426 95.1%,#b40426)"></i>
<i style="left:1046px;top:584px;width:5px;height:292px;background:linear-gradient(#f4ac91,#f4a689 93.9%,#b40426 94.9%,#b40426)"></i>
<i style="left:1051px;top:596px;width:5px;height:280px;background:linear-gradient(#f5b9a0,#f5b298 94.7%,#b40426 95.7%,#b40426)"></i>
<i style="left:1056px;top:606px;width:5px;height:270px;background:linear-gradient(#f5b399,#f4ab90 94.4%,#b40426 95.6%,#b40426)"></i>
<i style="left:1061px;top:615px;width:5px;height:261px;background:linear-gradient(#f4a589,#f49e7f 94.3%,#b40426 95.4%,#b40426)"></i>
<i style="left:1066px;top:626px;width:5px;height:250px;background:linear-gradient(#f39779,#ef8c70 94%,#b40426 95.2%,#b40426)"></i>
<i style="left:1071px;top:609px;width:5px;height:267px;background:linear-gradient(#f5baa1,#f5b298 93.3%,#b40426 94.4%,#b40426)"></i>
<i style="left:1076px;top:583px;width:5px;height:293px;background:linear-gradient(#f4a386,#f49b7c 93.9%,#b40426 94.9%,#b40426)"></i>
<i style="left:1081px;top:562px;width:5px;height:314px;background:linear-gradient(#f29577,#ed896d 95.2%,#b40426 96.2%,#b40426)"></i>
<i style="left:1086px;top:552px;width:5px;height:324px;background:linear-gradient(#f5b298,#f4a98d 94.5%,#b40426 95.4%,#b40426)"></i>
<i style="left:1091px;top:552px;width:5px;height:324px;background:linear-gradient(#f5b197,#f4a88b 95.4%,#b40426 96.3%,#b40426)"></i>
<i style="left:1096px;top:552px;width:5px;height:324px;background:linear-gradient(#f4af94,#f4a588 94.5%,#b40426 95.4%,#b40426)"></i>
<i style="left:1101px;top:552px;width:5px;height:324px;background:linear-gradient(#f49e7f,#f19174 96.3%,#b40426 97.2%,#b40426)"></i>
<i style="left:1106px;top:552px;width:5px;height:324px;background:linear-gradient(#f4a689,#f49c7d 95.4%,#b40426 96.3%,#b40426)"></i>
<i style="left:1111px;top:552px;width:5px;height:324px;background:linear-gradient(#f5b59b,#f4aa8e 95.4%,#b40426 96.3%,#b40426)"></i>
<i style="left:1116px;top:552px;width:5px;height:324px;background:linear-gradient(#f5b79e,#f4ac90 96.3%,#b40426 97.2%,#b40426)"></i>
<i style="left:1121px;top:552px;width:5px;height:324px;background:linear-gradient(#f4a588,#f49a7b 95.4%,#b40426 96.3%,#b40426)"></i>
<i style="left:1126px;top:560px;width:5px;height:316px;background:linear-gradient(#f4ab8f,#f4a082 95.3%,#b40426 96.2%,#b40426)"></i>
<i style="left:1131px;top:577px;width:5px;height:299px;background:linear-gradient(#edccbc,#f4c5af 96%,#b40426 97%,#b40426)"></i>
<i style="left:1136px;top:589px;width:5px;height:287px;background:linear-gradient(#f5b89f,#f4ac90 94.8%,#b40426 95.8%,#b40426)"></i>
<i style="left:1141px;top:599px;width:5px;height:277px;background:linear-gradient(#f1c8b5,#f5bfa7 94.6%,#b40426 95.7%,#b40426)"></i>
<i style="left:1146px;top:609px;width:5px;height:267px;background:linear-gradient(#f5b399,#f4a78a 94.4%,#b40426 95.6%,#b40426)"></i>
<i style="left:1151px;top:617px;width:5px;height:259px;background:linear-gradient(#f5baa2,#f4ae92 94.3%,#c52936 95.4%,#c52936)"></i>
<i style="left:1156px;top:615px;width:5px;height:261px;background:linear-gradient(#f1c8b5,#f5bea6 95.4%,#c52936 96.6%,#c52936)"></i>
<i style="left:1161px;top:594px;width:5px;height:282px;background:linear-gradient(#f5c3ac,#f5b59b 96.8%,#c52936 97.9%,#c52936)"></i>
<i style="left:1166px;top:570px;width:5px;height:306px;background:linear-gradient(#f5b89f,#f4aa8f 95.1%,#c52936 96.1%,#c52936)"></i>
<i style="left:1171px;top:552px;width:5px;height:324px;background:linear-gradient(#f4ab90,#f49d7e 97.2%,#c52936 98.2%,#c52936)"></i>
<i style="left:1176px;top:552px;width:5px;height:324px;background:linear-gradient(#f4a88c,#f4997a 97.2%,#c52936 98.2%,#c52936)"></i>
<i style="left:1181px;top:552px;width:5px;height:324px;background:linear-gradient(#f5b298,#f4a487 95.4%,#c52936 96.3%,#c52936)"></i>
<i style="left:1186px;top:552px;width:5px;height:324px;background:linear-gradient(#f5b79d,#f4a88b 96.3%,#c52936 97.2%,#c52936)"></i>
<i style="left:1191px;top:552px;width:5px;height:324px;background:linear-gradient(#f5b79d,#f4a88b 96.3%,#c52936 97.2%,#c52936)"></i>
<i style="left:1196px;top:552px;width:5px;height:324px;background:linear-gradient(#f5bba3,#f4ac90 96.3%,#c52936 97.2%,#c52936)"></i>
<i style="left:1201px;top:559px;width:5px;height:317px;background:linear-gradient(#f5b9a0,#f4a98d 96.2%,#c52936 97.2%,#c52936)"></i>
<i style="left:1206px;top:594px;width:5px;height:282px;background:linear-gradient(#f5b398,#f4a386 95.7%,#c52936 96.8%,#c52936)"></i>
<i style="left:1211px;top:596px;width:5px;height:280px;background:linear-gradient(#f5b69d,#f4a78a 95.7%,#c52936 96.8%,#c52936)"></i>
<i style="left:1216px;top:589px;width:5px;height:287px;background:linear-gradient(#f5bba2,#f4ab90 95.8%,#c52936 96.9%,#c52936)"></i>
<i style="left:1221px;top:552px;width:5px;height:324px;background:linear-gradient(#f5c2ab,#f5b399 95.4%,#c52936 96.3%,#c52936)"></i>
<i style="left:1226px;top:552px;width:5px;height:324px;background:linear-gradient(#f4ad92,#f49e7f 96.3%,#c52936 97.2%,#c52936)"></i>
<i style="left:1231px;top:552px;width:5px;height:324px;background:linear-gradient(#f5b9a0,#f4a98d 97.2%,#c52936 98.2%,#c52936)"></i>
<i style="left:1236px;top:552px;width:5px;height:324px;background:linear-gradient(#f5b298,#f4a386 96.3%,#c52936 97.2%,#c52936)"></i>
<i style="left:1241px;top:564px;width:5px;height:312px;background:linear-gradient(#f4ad92,#f49e80 97.1%,#c52936 98.1%,#c52936)"></i>
<i style="left:1246px;top:650px;width:5px;height:226px;background:linear-gradient(#f4a98d,#f4997a 96.1%,#c52936 97.4%,#c52936)"></i>
<i style="left:1251px;top:671px;width:5px;height:205px;background:linear-gradient(#f5c0a8,#f5b196 94.2%,#c52936 95.7%,#c52936)"></i>
<i style="left:1256px;top:680px;width:5px;height:196px;background:linear-gradient(#f39778,#eb8268 93.9%,#c52936 95.5%,#c52936)"></i>
<i style="left:1261px;top:698px;width:5px;height:178px;background:linear-gradient(#f4a78b,#f39778 95%,#c52936 96.7%,#c52936)"></i>
<i style="left:1266px;top:706px;width:5px;height:170px;background:linear-gradient(#f49a7b,#ec866b 93%,#c52936 94.7%,#c52936)"></i>
<i style="left:1266px;top:552px;width:5px;height:60px;background:#f49b7c"></i>
<i style="left:1271px;top:712px;width:5px;height:164px;background:linear-gradient(#f5bba2,#f4ac91 94.5%,#c52936 96.4%,#c52936)"></i>
<i style="left:1271px;top:552px;width:5px;height:60px;background:#f5bba3"></i>
<i style="left:1276px;top:706px;width:5px;height:170px;background:linear-gradient(#f4ae93,#f49f81 93%,#c52936 94.7%,#c52936)"></i>
<i style="left:1276px;top:552px;width:5px;height:60px;background:#f4ae93"></i>
<i style="left:1281px;top:697px;width:5px;height:179px;background:linear-gradient(#f4a285,#f19174 93.3%,#c52936 95%,#c52936)"></i>
<i style="left:1281px;top:552px;width:5px;height:60px;background:#f4a285"></i>
<i style="left:1286px;top:692px;width:5px;height:184px;background:linear-gradient(#f5c3ac,#f5b49a 93.5%,#c52936 95.2%,#c52936)"></i>
<i style="left:1291px;top:699px;width:5px;height:177px;background:linear-gradient(#eecbba,#f5c1aa 93.3%,#c52936 95%,#c52936)"></i>
<i style="left:1296px;top:708px;width:5px;height:168px;background:linear-gradient(#eecbba,#f5c1a9 94.6%,#c52936 96.4%,#c52936)"></i>
<i style="left:1301px;top:710px;width:5px;height:166px;background:linear-gradient(#edccbc,#f5c3ab 94.6%,#c52936 96.4%,#c52936)"></i>
<i style="left:1306px;top:705px;width:5px;height:171px;background:linear-gradient(#f5baa1,#f4ab8f 94.7%,#c52936 96.5%,#c52936)"></i>
<i style="left:1311px;top:698px;width:5px;height:178px;background:linear-gradient(#f4c5af,#f5b89e 91.7%,#c52936 93.3%,#c52936)"></i>
<i style="left:1316px;top:701px;width:5px;height:175px;background:linear-gradient(#f4c5af,#f5b79e 93.2%,#c52936 94.9%,#c52936)"></i>
<i style="left:1321px;top:702px;width:5px;height:174px;background:linear-gradient(#f5c2ab,#f5b399 93.2%,#c52936 94.9%,#c52936)"></i>
<i style="left:1321px;top:552px;width:5px;height:36px;background:#b40426"></i>
<i style="left:1326px;top:688px;width:5px;height:188px;background:linear-gradient(#f4ad92,#f49e80 93.7%,#c52936 95.2%,#c52936)"></i>
<i style="left:1326px;top:552px;width:5px;height:36px;background:#b40426"></i>
<i style="left:1331px;top:674px;width:5px;height:202px;background:linear-gradient(#f4ae92,#f49d7f 95.6%,#c52936 97.1%,#c52936)"></i>
<i style="left:1336px;top:669px;width:5px;height:207px;background:linear-gradient(#f5b89f,#f4a88c 95.7%,#c52936 97.1%,#c52936)"></i>
<i style="left:1341px;top:676px;width:5px;height:200px;background:linear-gradient(#f4a88b,#f39779 94%,#c52936 95.5%,#c52936)"></i>
<i style="left:1341px;top:576px;width:5px;height:60px;background:#f4aa8e"></i>
<i style="left:1346px;top:684px;width:5px;height:192px;background:linear-gradient(#f4a589,#f29476 95.4%,#c52936 96.9%,#c52936)"></i>
<i style="left:1351px;top:691px;width:5px;height:185px;background:linear-gradient(#f49d7e,#ee896e 93.5%,#c52936 95.2%,#c52936)"></i>
<i style="left:1356px;top:695px;width:5px;height:181px;background:linear-gradient(#f5b399,#f4a588 91.8%,#c52936 93.4%,#c52936)"></i>
<i style="left:1361px;top:686px;width:5px;height:190px;background:linear-gradient(#f3c6b1,#f5b79e 95.3%,#c52936 96.9%,#c52936)"></i>
<i style="left:1366px;top:672px;width:5px;height:204px;background:linear-gradient(#f4aa8e,#f3997a 95.7%,#c52936 97.1%,#c52936)"></i>
<i style="left:1371px;top:667px;width:5px;height:209px;background:linear-gradient(#f4a082,#ec856a 95.7%,#c52936 97.1%,#c52936)"></i>
<i style="left:1381px;top:588px;width:5px;height:276px;background:linear-gradient(#f09073,#dc5b4b)"></i>
<i style="left:1386px;top:552px;width:5px;height:324px;background:linear-gradient(#e87b62,#ca343b 89.9%,#c52936)"></i>
<i style="left:1391px;top:552px;width:5px;height:324px;background:linear-gradient(#ef8d71,#d14341 96.3%,#c52936)"></i>
<i style="left:1401px;top:552px;width:5px;height:324px;background:linear-gradient(#e7775f,#cc383c 86.2%,#c52936)"></i>
<i style="left:1406px;top:552px;width:5px;height:324px;background:linear-gradient(#f29476,#db584a 96.3%,#c52936 97.2%,#c52936)"></i>
<i style="left:1411px;top:552px;width:5px;height:324px;background:linear-gradient(#e87a62,#cf3f3f 88.1%,#c52936)"></i>
<i style="left:1426px;top:552px;width:5px;height:324px;background:linear-gradient(#f5b297,#ee8a6f 97.2%,#c52936 98.2%,#c52936)"></i>
<i style="left:1431px;top:552px;width:5px;height:324px;background:linear-gradient(#f4a082,#e6745d 96.3%,#c52936 97.2%,#c52936)"></i>
<i style="left:1436px;top:552px;width:5px;height:324px;background:linear-gradient(#f4ab8f,#ec856a 97.2%,#c52936 98.2%,#c52936)"></i>
<i style="left:1441px;top:552px;width:5px;height:324px;background:linear-gradient(#f5b499,#f19375 96.3%,#c52936 97.2%,#c52936)"></i>
<i style="left:1446px;top:552px;width:5px;height:324px;background:linear-gradient(#f5baa1,#f49c7e 96.3%,#c52936 97.2%,#c52936)"></i>
<i style="left:1451px;top:552px;width:5px;height:324px;background:linear-gradient(#f4ad91,#ef8c70 96.3%,#c52936 97.2%,#c52936)"></i>
<i style="left:1456px;top:552px;width:5px;height:324px;background:linear-gradient(#f49a7b,#e5745c 97.2%,#c52936 98.2%,#c52936)"></i>
<i style="left:1461px;top:552px;width:5px;height:324px;background:linear-gradient(#f5bca4,#f4a284 96.3%,#c52936 97.2%,#c52936)"></i>
<i style="left:1466px;top:552px;width:5px;height:324px;background:linear-gradient(#f5b49a,#f49a7b 96.3%,#c52936 97.2%,#c52936)"></i>
<i style="left:1471px;top:552px;width:5px;height:324px;background:linear-gradient(#f4af94,#f29476 97.2%,#c52936 98.2%,#c52936)"></i>
<i style="left:1476px;top:552px;width:5px;height:324px;background:linear-gradient(#f4a88c,#ef8d71 96.3%,#c52936 97.2%,#c52936)"></i>
<i style="left:1481px;top:552px;width:5px;height:324px;background:linear-gradient(#f4a386,#ed876c 96.3%,#c52936 97.2%,#c52936)"></i>
<i style="left:1486px;top:552px;width:5px;height:324px;background:linear-gradient(#f5c1aa,#f4ac90 96.3%,#c52936 97.2%,#c52936)"></i>
<i style="left:1491px;top:552px;width:5px;height:324px;background:linear-gradient(#f4a184,#ed876c 97.2%,#c52936 98.2%,#c52936)"></i>
<i style="left:1496px;top:552px;width:5px;height:324px;background:linear-gradient(#f3c6b1,#f5b49a 96.3%,#c52936 97.2%,#c52936)"></i>
<i style="left:1501px;top:552px;width:5px;height:324px;background:linear-gradient(#f5b59b,#f4a284 97.2%,#c52936 98.2%,#c52936)"></i>
<i style="left:1506px;top:552px;width:5px;height:324px;background:linear-gradient(#f5bca3,#f4aa8e 96.3%,#c52936 97.2%,#c52936)"></i>
<i style="left:1511px;top:552px;width:5px;height:324px;background:linear-gradient(#f5bda5,#f4ac90 97.2%,#c52936 98.2%,#c52936)"></i>
<i style="left:1516px;top:552px;width:5px;height:324px;background:linear-gradient(#f5bda5,#f4ad92 97.2%,#c52936 98.2%,#c52936)"></i>
<i style="left:1521px;top:552px;width:5px;height:324px;background:linear-gradient(#f5b59b,#f4a68a 96.3%,#c52936 97.2%,#c52936)"></i>
<i style="left:1526px;top:552px;width:5px;height:324px;background:linear-gradient(#f5baa1,#f4ad91 96.3%,#c52936 97.2%,#c52936)"></i>
<i style="left:1531px;top:552px;width:5px;height:324px;background:linear-gradient(#f5c0a8,#f5b399 97.2%,#c52936 98.2%,#c52936)"></i>
<i style="left:1536px;top:552px;width:5px;height:324px;background:linear-gradient(#f4ad92,#f4a284 97.2%,#c52936 98.2%,#c52936)"></i>
<i style="left:1541px;top:552px;width:5px;height:324px;background:linear-gradient(#f5b297,#f4a78b 96.3%,#c52936 97.2%,#c52936)"></i>
<i style="left:1546px;top:552px;width:5px;height:324px;background:linear-gradient(#f1c8b5,#f5c2aa 96.3%,#c52936 97.2%,#c52936)"></i>
<i style="left:1551px;top:552px;width:5px;height:324px;background:linear-gradient(#f3c6b0,#f5bea6 97.2%,#c52936 98.2%,#c52936)"></i>
<i style="left:1556px;top:552px;width:5px;height:324px;background:linear-gradient(#f5b399,#f4ac90 96.3%,#c52936 97.2%,#c52936)"></i>
<i style="left:1556px;top:552px;width:5px;height:48px;background:#b40426"></i>
<i style="left:1561px;top:552px;width:5px;height:324px;background:linear-gradient(#f5b298,#f4ac90 96.3%,#c52936 97.2%,#c52936)"></i>
<i style="left:1566px;top:552px;width:5px;height:324px;background:linear-gradient(#f5b79e,#f5b297 96.3%,#c52936 97.2%,#c52936)"></i>
<i style="left:1571px;top:552px;width:5px;height:324px;background:linear-gradient(#f5c4ad,#f5bfa7 97.2%,#c52936 98.2%,#c52936)"></i>
<i style="left:1576px;top:552px;width:5px;height:324px;background:linear-gradient(#f5c4ad,#f5c1a9 96.3%,#c52936 97.2%,#c52936)"></i>
<i style="left:1581px;top:552px;width:5px;height:324px;background:linear-gradient(#f5bda4,#f5bba2 96.3%,#c52936 97.2%,#c52936)"></i>
<i style="left:1586px;top:658px;width:5px;height:218px;background:linear-gradient(#f3c6b1,#f4c5b0 95.9%,#c52936 97.3%,#c52936)"></i>
<i style="left:1591px;top:738px;width:5px;height:138px;background:linear-gradient(#f2c7b3,#f4c5af 93.5%,#c52936 95.7%,#c52936)"></i>
<i style="left:1596px;top:743px;width:5px;height:133px;background:linear-gradient(#f2c7b2,#f4c5ae 91.1%,#c52936 93.3%,#c52936)"></i>
<i style="left:1601px;top:750px;width:5px;height:126px;background:linear-gradient(#f1c8b4,#f4c5ae)"></i>
<i style="left:1606px;top:759px;width:5px;height:117px;background:linear-gradient(#f5c3ac,#f5bda5)"></i>
<i style="left:1606px;top:600px;width:5px;height:24px;background:#b40426"></i>
<i style="left:1611px;top:760px;width:5px;height:116px;background:linear-gradient(#f5b196,#f4aa8f)"></i>
<i style="left:1616px;top:757px;width:5px;height:119px;background:linear-gradient(#f5b69d,#f5b095)"></i>
<i style="left:1621px;top:750px;width:5px;height:126px;background:linear-gradient(#f4ae92,#f4a78b)"></i>
<i style="left:1626px;top:743px;width:5px;height:133px;background:linear-gradient(#f2c7b2,#f5c3ac)"></i>
<i style="left:1631px;top:753px;width:5px;height:123px;background:linear-gradient(#e2d7d1,#e7d2c9)"></i>
<i style="left:1631px;top:552px;width:5px;height:18px;background:#b40426"></i>
<i style="left:1636px;top:747px;width:5px;height:129px;background:linear-gradient(#e9d0c5,#eccdbe)"></i>
<i style="left:1636px;top:558px;width:5px;height:24px;background:#b40426"></i>
<i style="left:1641px;top:744px;width:5px;height:132px;background:linear-gradient(#dedbd9,#e2d7d2)"></i>
<i style="left:1646px;top:762px;width:5px;height:114px;background:linear-gradient(#eacfc3,#eecbba)"></i>
<i style="left:1651px;top:760px;width:5px;height:116px;background:linear-gradient(#e6d3ca,#ebcec0)"></i>
<i style="left:1656px;top:749px;width:5px;height:127px;background:linear-gradient(#f3c6b1,#f5c0a8)"></i>
<i style="left:1656px;top:552px;width:5px;height:18px;background:#b40426"></i>
<i style="left:1661px;top:736px;width:5px;height:140px;background:linear-gradient(#eccdbf,#efcab8)"></i>
<i style="left:1666px;top:744px;width:5px;height:132px;background:linear-gradient(#f2c7b4,#f5c2ab)"></i>
<i style="left:1671px;top:757px;width:5px;height:119px;background:linear-gradient(#e4d5cf,#e9d0c4)"></i>
<i style="left:1676px;top:761px;width:5px;height:115px;background:linear-gradient(#f1c8b4,#f5c1a9)"></i>
<i style="left:1676px;top:552px;width:5px;height:24px;background:#b40426"></i>
<i style="left:1681px;top:746px;width:5px;height:130px;background:linear-gradient(#f5c4ad,#f5bca3)"></i>
<i style="left:1681px;top:612px;width:5px;height:18px;background:#b40426"></i>
<i style="left:1686px;top:727px;width:5px;height:149px;background:linear-gradient(#f5b69c,#f5b095)"></i>
<i style="left:1691px;top:735px;width:5px;height:141px;background:linear-gradient(#edccbd,#f1c8b5)"></i>
<i style="left:1691px;top:636px;width:5px;height:24px;background:linear-gradient(#f5c1a9,#f4c5ae)"></i>
<i style="left:1696px;top:751px;width:5px;height:125px;background:linear-gradient(#e8d1c7,#eecbbb)"></i>
<i style="left:1696px;top:564px;width:5px;height:36px;background:#b40426"></i>
<i style="left:1701px;top:754px;width:5px;height:122px;background:linear-gradient(#e0d9d6,#e5d4cc)"></i>
<i style="left:1701px;top:552px;width:5px;height:27px;background:#b40426"></i>
<i style="left:1706px;top:751px;width:5px;height:125px;background:linear-gradient(#e1d8d5,#e5d4cc)"></i>
<i style="left:1706px;top:552px;width:5px;height:57px;background:linear-gradient(#eecbbb,#eccdbf)"></i>
<i style="left:1711px;top:752px;width:5px;height:124px;background:linear-gradient(#f5c0a9,#f5baa1)"></i>
<i style="left:1711px;top:552px;width:5px;height:87px;background:linear-gradient(#f4ac91,#f5b196)"></i>
<i style="left:1716px;top:755px;width:5px;height:121px;background:linear-gradient(#f3c6b1,#f5c3ac)"></i>
<i style="left:1716px;top:552px;width:5px;height:117px;background:linear-gradient(#f5b69d,#f5bea6)"></i>
<i style="left:1721px;top:751px;width:5px;height:125px;background:linear-gradient(#f4c5af,#f5c3ac)"></i>
<i style="left:1721px;top:552px;width:5px;height:138px;background:linear-gradient(#f5b89f,#f5c0a8)"></i>
<i style="left:1726px;top:743px;width:5px;height:133px;background:linear-gradient(#f4ab8f,#f4aa8f)"></i>
<i style="left:1726px;top:552px;width:5px;height:154px;background:linear-gradient(#f4a082,#f4a88c)"></i>
<i style="left:1731px;top:552px;width:5px;height:324px;background:linear-gradient(#f5c1aa,#f1c8b4)"></i>
<i style="left:1736px;top:552px;width:5px;height:324px;background:linear-gradient(#f3c6b0,#efcab9)"></i>
<i style="left:1741px;top:587px;width:5px;height:289px;background:linear-gradient(#f5af94,#f5b69c)"></i>
<i style="left:1746px;top:612px;width:5px;height:264px;background:linear-gradient(#f49f81,#f4a588)"></i>
<i style="left:1751px;top:612px;width:5px;height:264px;background:linear-gradient(#f4ad92,#f5b398)"></i>
<i style="left:1756px;top:612px;width:5px;height:264px;background:linear-gradient(#f4a88b,#f4ad91)"></i>
<i style="left:1761px;top:612px;width:5px;height:264px;background:linear-gradient(#f4a588,#f4a98d)"></i>
<i style="left:1766px;top:604px;width:5px;height:272px;background:linear-gradient(#f4af94,#f5b399)"></i>
<i style="left:1771px;top:552px;width:5px;height:324px;background:linear-gradient(#f5c3ac,#f3c6b0)"></i>
<i style="left:1776px;top:552px;width:5px;height:324px;background:linear-gradient(#f3c6b0,#f1c8b4)"></i>
<i style="left:1781px;top:552px;width:5px;height:324px;background:linear-gradient(#f5bfa7,#f5c2aa)"></i>
<i style="left:1786px;top:552px;width:5px;height:324px;background:linear-gradient(#f5b89f,#f5bba2)"></i>
<i style="left:1791px;top:552px;width:5px;height:324px;background:linear-gradient(#f5b69c,#f5b99f)"></i>
<i style="left:1796px;top:552px;width:5px;height:324px;background:linear-gradient(#f5c4ae,#f3c6b0)"></i>
<i style="left:1801px;top:552px;width:5px;height:324px;background:linear-gradient(#f5bfa7,#f5c1a9)"></i>
<i style="left:1806px;top:552px;width:5px;height:324px;background:linear-gradient(#eecbbb,#edccbd)"></i>
<i style="left:1811px;top:552px;width:5px;height:324px;background:linear-gradient(#f49f81,#f4a082)"></i>
<i style="left:1816px;top:552px;width:5px;height:324px;background:#efcab9"></i>
<i style="left:1821px;top:552px;width:5px;height:324px;background:linear-gradient(#f5bca4,#f5bda4)"></i>
<i style="left:1826px;top:600px;width:5px;height:276px;background:#f5b89e"></i>
<i style="left:1831px;top:676px;width:5px;height:200px;background:linear-gradient(#eacfc2,#ebcec1)"></i>
<i style="left:1836px;top:711px;width:5px;height:165px;background:linear-gradient(#f2c7b4,#f2c7b2)"></i>
<i style="left:1841px;top:738px;width:5px;height:138px;background:linear-gradient(#e3d6d0,#e4d5ce)"></i>
<i style="left:1846px;top:758px;width:5px;height:118px;background:linear-gradient(#f5c4ad,#f5c2aa)"></i>
<i style="left:1846px;top:552px;width:5px;height:24px;background:#b40426"></i>
<i style="left:1851px;top:780px;width:5px;height:96px;background:linear-gradient(#e0d9d6,#e2d7d3)"></i>
<i style="left:1856px;top:803px;width:5px;height:73px;background:linear-gradient(#f2c7b3,#f4c5af)"></i>
<i style="left:1861px;top:838px;width:5px;height:38px;background:linear-gradient(#edccbd,#eecbba)"></i>
<i style="left:1871px;top:820px;width:5px;height:56px;background:linear-gradient(#e0d9d5,#e3d6d0)"></i>
<i style="left:1876px;top:812px;width:5px;height:64px;background:linear-gradient(#edccbe,#f0c9b7)"></i>
<i style="left:1876px;top:564px;width:5px;height:18px;background:#b40426"></i>
<i style="left:1881px;top:806px;width:5px;height:70px;background:linear-gradient(#e3d6d0,#e6d3ca)"></i>
<i style="left:1886px;top:803px;width:5px;height:73px;background:linear-gradient(#f0c9b7,#f3c6b1)"></i>
<i style="left:1891px;top:822px;width:5px;height:54px;background:linear-gradient(#e8d1c7,#ebcec1)"></i>
<i style="left:1896px;top:820px;width:5px;height:56px;background:linear-gradient(#e1d8d5,#e4d5cf)"></i>
<i style="left:1901px;top:803px;width:5px;height:73px;background:linear-gradient(#edccbd,#f0c9b7)"></i>
<i style="left:1906px;top:800px;width:5px;height:76px;background:linear-gradient(#e7d2c9,#eacfc2)"></i>
<i style="left:1906px;top:552px;width:5px;height:30px;background:#b40426"></i>
<i style="left:1911px;top:807px;width:5px;height:69px;background:linear-gradient(#e2d7d3,#e5d4cc)"></i>
<i style="left:1916px;top:817px;width:5px;height:59px;background:linear-gradient(#eccdbf,#efcab8)"></i>
<i style="left:1921px;top:830px;width:5px;height:46px;background:linear-gradient(#d8dbe0,#dcdcdd)"></i>
<i style="left:1926px;top:826px;width:5px;height:50px;background:linear-gradient(#e4d5cf,#e6d3ca)"></i>
<i style="left:1931px;top:824px;width:5px;height:52px;background:linear-gradient(#e2d7d2,#e5d4cc)"></i>
<i style="left:1936px;top:841px;width:5px;height:35px;background:linear-gradient(#edccbd,#efcaba)"></i>
<i style="left:1941px;top:839px;width:5px;height:37px;background:linear-gradient(#ebcec0,#edccbc)"></i>
<i style="left:1946px;top:830px;width:5px;height:46px;background:linear-gradient(#e6d3cb,#e8d1c6)"></i>
<i style="left:1951px;top:827px;width:5px;height:49px;background:linear-gradient(#e3d6d0,#e6d3cb)"></i>
<i style="left:1956px;top:836px;width:5px;height:40px;background:linear-gradient(#ebcec0,#edccbc)"></i>
<i style="left:1961px;top:844px;width:5px;height:32px;background:linear-gradient(#e0d9d6,#e2d7d2)"></i>
<i style="left:1966px;top:839px;width:5px;height:37px;background:linear-gradient(#e8d1c6,#eacfc2)"></i>
<i style="left:1971px;top:843px;width:5px;height:33px;background:linear-gradient(#e6d3ca,#e8d1c7)"></i>
<i style="left:1971px;top:564px;width:5px;height:18px;background:#b40426"></i>
<i style="left:1976px;top:851px;width:5px;height:25px;background:linear-gradient(#dedbda,#dfdad7)"></i>
<i style="left:1991px;top:552px;width:5px;height:24px;background:#b40426"></i>
<i style="left:2001px;top:852px;width:5px;height:24px;background:linear-gradient(#dddcdc,#dedbd9)"></i>
<i style="left:2001px;top:823px;width:5px;height:53px;background:linear-gradient(#dbdbde,#dedbd9)"></i>
<i style="left:2006px;top:562px;width:5px;height:20px;background:#b40426"></i>
<i style="left:332px;top:1346px;width:6px;height:28px;background:linear-gradient(#001fff,#00a6ff 25%,#17ffe0 33.3%,#76ff81 41.7%,#a6ff51 83.3%,#29ffce 91.7%,#29ffce)"></i>
<i style="left:338px;top:1348px;width:4px;height:26px;background:linear-gradient(#001fff,#00bbff 27.3%,#38ffbf 36.4%,#73ff84 45.5%,#73ff84 81.8%,#29ffce 90.9%,#29ffce)"></i>
<i style="left:342px;top:1349px;width:6px;height:25px;background:linear-gradient(#001fff,#00bbff 27.3%,#38ffbf 36.4%,#73ff83 45.5%,#73ff84 81.8%,#29ffce 90.9%,#29ffce)"></i>
<i style="left:348px;top:1358px;width:4px;height:16px;background:linear-gradient(#001fff,#00c2ff 28.6%,#72ff85 42.9%,#9bff5c 71.4%,#29ffce 85.7%,#29ffce)"></i>
<i style="left:352px;top:1347px;width:6px;height:27px;background:linear-gradient(#001fff,#00bcff 27.3%,#39ffbe 36.4%,#73ff84 45.5%,#73ff84 81.8%,#29ffce 90.9%,#29ffce)"></i>
<i style="left:358px;top:1355px;width:4px;height:19px;background:linear-gradient(#001fff,#00aeff 25%,#3dffb9 37.5%,#beff39 62.5%,#d1ff26 75%,#29ffce 87.5%,#29ffce)"></i>
<i style="left:362px;top:1346px;width:6px;height:28px;background:linear-gradient(#001fff,#00a6ff 25%,#18ffdf 33.3%,#77ff80 41.7%,#a6ff51 83.3%,#29ffce 91.7%,#29ffce)"></i>
<i style="left:368px;top:1352px;width:4px;height:22px;background:linear-gradient(#001fff,#12fce4 33.3%,#77ff80 44.4%,#5fff98 66.7%,#70ff87 77.8%,#29ffce 88.9%,#29ffce)"></i>
<i style="left:372px;top:1347px;width:6px;height:27px;background:linear-gradient(#001fff,#00bbff 27.3%,#39ffbe 36.4%,#73ff84 45.5%,#73ff84 81.8%,#29ffce 90.9%,#29ffce)"></i>
<i style="left:378px;top:1349px;width:4px;height:25px;background:linear-gradient(#001fff,#00d1ff 30%,#60ff97 40%,#a3ff53 80%,#29ffce 90%,#29ffce)"></i>
<i style="left:382px;top:1333px;width:6px;height:41px;background:linear-gradient(#001fff,#0063ff 23.5%,#01e6f6 35.3%,#7fff78 58.8%,#a6ff51 88.2%,#29ffce 94.1%,#29ffce)"></i>
<i style="left:388px;top:1336px;width:4px;height:38px;background:linear-gradient(#001fff,#005aff 18.8%,#00dffc 31.2%,#7cff7b 50%,#a7ff50 87.5%,#29ffce 93.8%,#29ffce)"></i>
<i style="left:392px;top:1329px;width:6px;height:45px;background:linear-gradient(#001fff,#0053ff 22.2%,#19ffde 38.9%,#80ff76 61.1%,#a8ff4f 88.9%,#29ffce 94.4%,#29ffce)"></i>
<i style="left:398px;top:1335px;width:4px;height:39px;background:linear-gradient(#001fff,#005aff 18.8%,#00dffc 31.2%,#7cff7b 50%,#a7ff50 87.5%,#29ffce 93.8%,#29ffce)"></i>
<i style="left:402px;top:1336px;width:6px;height:38px;background:linear-gradient(#001fff,#005aff 18.8%,#00dffc 31.2%,#7cff7b 50%,#a7ff50 87.5%,#29ffce 93.8%,#29ffce)"></i>
<i style="left:408px;top:1331px;width:4px;height:43px;background:linear-gradient(#001fff,#0053ff 22.2%,#19ffde 38.9%,#80ff77 61.1%,#a7ff4f 88.9%,#29ffce 94.4%,#29ffce)"></i>
<i style="left:412px;top:1327px;width:6px;height:47px;background:linear-gradient(#001fff,#004aff 26.3%,#0ff8e8 42.1%,#80ff77 63.2%,#a7ff50 89.5%,#29ffce 94.7%,#29ffce)"></i>
<i style="left:418px;top:1321px;width:4px;height:53px;background:linear-gradient(#001fff,#004bff 31.8%,#0cf4eb 45.5%,#c0ff37 77.3%,#dbff1b 90.9%,#29ffce 95.5%,#29ffce)"></i>
<i style="left:422px;top:1332px;width:6px;height:42px;background:linear-gradient(#001fff,#0063ff 23.5%,#01e6f6 35.3%,#7fff78 58.8%,#a6ff51 88.2%,#29ffce 94.1%,#29ffce)"></i>
<i style="left:428px;top:1326px;width:4px;height:48px;background:linear-gradient(#001fff,#006dff 30%,#24ffd3 45%,#81ff76 65%,#a8ff4f 90%,#29ffce 95%,#29ffce)"></i>
<i style="left:432px;top:1319px;width:6px;height:55px;background:linear-gradient(#001fff,#004aff 30.4%,#1effd9 47.8%,#baff3d 73.9%,#dcff1a 91.3%,#29ffce 95.7%,#29ffce)"></i>
<i style="left:438px;top:1325px;width:4px;height:49px;background:linear-gradient(#001fff,#006dff 30%,#24ffd3 45%,#81ff76 65%,#a8ff4f 90%,#29ffce 95%,#29ffce)"></i>
<i style="left:442px;top:1320px;width:6px;height:54px;background:linear-gradient(#001fff,#004cff 31.8%,#0cf5eb 45.5%,#c0ff36 77.3%,#dcff1b 90.9%,#29ffce 95.5%,#29ffce)"></i>
<i style="left:448px;top:1327px;width:4px;height:47px;background:linear-gradient(#001fff,#004aff 26.3%,#0ff8e7 42.1%,#bdff3a 73.7%,#daff1d 89.5%,#29ffce 94.7%,#29ffce)"></i>
<i style="left:452px;top:1326px;width:6px;height:48px;background:linear-gradient(#001fff,#006dff 30%,#24ffd3 45%,#f3fa04 75%,#ffda00 90%,#29ffce 95%,#29ffce)"></i>
<i style="left:458px;top:1314px;width:4px;height:60px;background:linear-gradient(#001fff,#004cff 40%,#10f9e7 52%,#c0ff37 80%,#dbff1c 92%,#29ffce 96%,#29ffce)"></i>
<i style="left:462px;top:1322px;width:6px;height:52px;background:linear-gradient(#001fff,#0058ff 33.3%,#1cffdb 47.6%,#beff39 76.2%,#dbff1c 90.5%,#29ffce 95.2%,#29ffce)"></i>
<i style="left:468px;top:1321px;width:4px;height:53px;background:linear-gradient(#001fff,#004bff 31.8%,#0cf4eb 45.5%,#c0ff37 77.3%,#dbff1b 90.9%,#29ffce 95.5%,#29ffce)"></i>
<i style="left:472px;top:1316px;width:6px;height:58px;background:linear-gradient(#001fff,#0064ff 41.7%,#21ffd5 54.2%,#beff39 79.2%,#daff1d 91.7%,#29ffce 95.8%,#29ffce)"></i>
<i style="left:478px;top:1326px;width:4px;height:48px;background:linear-gradient(#001fff,#006dff 30%,#24ffd3 45%,#f3fa04 75%,#ffda00 90%,#29ffce 95%,#29ffce)"></i>
<i style="left:482px;top:1320px;width:6px;height:54px;background:linear-gradient(#001fff,#004cff 31.8%,#0cf5eb 45.5%,#f4f903 77.3%,#ffda00 90.9%,#29ffce 95.5%,#29ffce)"></i>
<i style="left:488px;top:1323px;width:4px;height:51px;background:linear-gradient(#001fff,#0058ff 33.3%,#1cffdb 47.6%,#f1fc05 76.2%,#ffdb00 90.5%,#29ffce 95.2%,#29ffce)"></i>
<i style="left:492px;top:1323px;width:6px;height:51px;background:linear-gradient(#001fff,#0058ff 33.3%,#1cffdb 47.6%,#f1fc05 76.2%,#ffdb00 90.5%,#29ffce 95.2%,#29ffce)"></i>
<i style="left:498px;top:1322px;width:4px;height:52px;background:linear-gradient(#001fff,#0058ff 33.3%,#1cffdb 47.6%,#beff39 76.2%,#dbff1c 90.5%,#29ffce 95.2%,#29ffce)"></i>
<i style="left:502px;top:1310px;width:6px;height:64px;background:linear-gradient(#001fff,#004bff 38.5%,#20ffd7 53.8%,#f6f701 80.8%,#ffd900 92.3%,#29ffce 96.2%,#29ffce)"></i>
<i style="left:508px;top:1321px;width:4px;height:53px;background:linear-gradient(#001fff,#004bff 31.8%,#0cf4eb 45.5%,#f4f903 77.3%,#ffda00 90.9%,#29ffce 95.5%,#29ffce)"></i>
<i style="left:512px;top:1338px;width:6px;height:36px;background:linear-gradient(#001fff,#0072ff 20%,#15ffe2 33.3%,#9bff5c 53.3%,#dcff1b 86.7%,#29ffce 93.3%,#29ffce)"></i>
<i style="left:518px;top:1323px;width:4px;height:51px;background:linear-gradient(#001fff,#0058ff 33.3%,#1cffdb 47.6%,#ffe700 71.4%,#ffa000 90.5%,#29ffce 95.2%,#29ffce)"></i>
<i style="left:522px;top:1322px;width:6px;height:52px;background:linear-gradient(#001fff,#0058ff 33.3%,#1cffdb 47.6%,#f1fc05 76.2%,#ffdb00 90.5%,#29ffce 95.2%,#29ffce)"></i>
<i style="left:528px;top:1326px;width:4px;height:48px;background:linear-gradient(#001fff,#006dff 30%,#24ffd3 45%,#f3fa04 75%,#ffda00 90%,#29ffce 95%,#29ffce)"></i>
<i style="left:532px;top:1317px;width:6px;height:57px;background:linear-gradient(#001fff,#004bff 39.1%,#11fae6 52.2%,#b9ff3d 69.6%,#f6f701 73.9%,#ffb800 82.6%,#ffa100 91.3%,#29ffce 95.7%,#29ffce)"></i>
<i style="left:538px;top:1321px;width:4px;height:53px;background:linear-gradient(#001fff,#004bff 31.8%,#0cf4eb 45.5%,#dcff1a 68.2%,#ffb400 81.8%,#ff9f00 90.9%,#29ffce 95.5%,#29ffce)"></i>
<i style="left:542px;top:1333px;width:6px;height:41px;background:linear-gradient(#001fff,#004eff 17.6%,#18ffdf 35.3%,#f3f903 70.6%,#ffd900 88.2%,#29ffce 94.1%,#29ffce)"></i>
<i style="left:548px;top:1315px;width:4px;height:59px;background:linear-gradient(#001fff,#0065ff 41.7%,#22ffd5 54.2%,#f2fb05 79.2%,#ffdb00 91.7%,#29ffce 95.8%,#29ffce)"></i>
<i style="left:552px;top:1320px;width:6px;height:54px;background:linear-gradient(#001fff,#004bff 31.8%,#0cf4eb 45.5%,#b1ff45 63.6%,#fbf100 68.2%,#ff9d00 72.7%,#ff6400 90.9%,#29ffce 95.5%,#29ffce)"></i>
<i style="left:558px;top:1313px;width:4px;height:61px;background:linear-gradient(#001fff,#004cff 40%,#10f9e7 52%,#f4f903 80%,#ffda00 92%,#29ffce 96%,#29ffce)"></i>
<i style="left:562px;top:1320px;width:6px;height:54px;background:linear-gradient(#001fff,#004bff 31.8%,#0cf4eb 45.5%,#dcff1a 68.2%,#ffb400 81.8%,#ff9f00 90.9%,#29ffce 95.5%,#29ffce)"></i>
<i style="left:568px;top:1323px;width:4px;height:51px;background:linear-gradient(#001fff,#0058ff 33.3%,#1cffdb 47.6%,#ffe800 71.4%,#ffa000 90.5%,#29ffce 95.2%,#29ffce)"></i>
<i style="left:572px;top:1324px;width:6px;height:50px;background:linear-gradient(#001fff,#006dff 30%,#24ffd3 45%,#d4ff23 65%,#ffbf00 75%,#ff9f00 90%,#29ffce 95%,#29ffce)"></i>
<i style="left:578px;top:1318px;width:4px;height:56px;background:linear-gradient(#001fff,#004aff 30.4%,#1effd8 47.8%,#86ff71 60.9%,#ffd600 69.6%,#ff8b00 73.9%,#ff6300 91.3%,#29ffce 95.7%,#29ffce)"></i>
<i style="left:582px;top:1321px;width:6px;height:53px;background:linear-gradient(#001fff,#004bff 31.8%,#0cf4eb 45.5%,#b1ff46 63.6%,#faf200 68.2%,#ff9d00 72.7%,#ff6400 90.9%,#29ffce 95.5%,#29ffce)"></i>
<i style="left:588px;top:1319px;width:4px;height:55px;background:linear-gradient(#001fff,#004aff 30.4%,#1effd9 47.8%,#eeff09 69.6%,#ffbc00 78.3%,#ff9e00 91.3%,#29ffce 95.7%,#29ffce)"></i>
<i style="left:592px;top:1328px;width:6px;height:46px;background:linear-gradient(#001fff,#004aff 26.3%,#0ff8e8 42.1%,#82ff74 57.9%,#d2ff25 63.2%,#ff8700 73.7%,#ff6500 89.5%,#29ffce 94.7%,#29ffce)"></i>
<i style="left:598px;top:1324px;width:4px;height:50px;background:linear-gradient(#001fff,#0057ff 33.3%,#1cffdb 47.6%,#94ff63 61.9%,#e0ff16 66.7%,#ff8600 76.2%,#ff6500 90.5%,#29ffce 95.2%,#29ffce)"></i>
<i style="left:602px;top:1320px;width:6px;height:54px;background:linear-gradient(#001fff,#004bff 31.8%,#0cf5eb 45.5%,#ddff1a 68.2%,#ffb400 81.8%,#ff9f00 90.9%,#29ffce 95.5%,#29ffce)"></i>
<i style="left:608px;top:1314px;width:4px;height:60px;background:linear-gradient(#001fff,#0065ff 41.7%,#22ffd5 54.2%,#ffe400 75%,#ffa000 91.7%,#29ffce 95.8%,#29ffce)"></i>
<i style="left:612px;top:1314px;width:6px;height:60px;background:linear-gradient(#001fff,#004cff 40%,#10f9e7 52%,#dcff1a 72%,#ffb400 84%,#ff9f00 92%,#29ffce 96%,#29ffce)"></i>
<i style="left:618px;top:1331px;width:4px;height:43px;background:linear-gradient(#001fff,#0053ff 22.2%,#19ffde 38.9%,#ffe700 66.7%,#ffa000 88.9%,#29ffce 94.4%,#29ffce)"></i>
<i style="left:622px;top:1323px;width:6px;height:51px;background:linear-gradient(#001fff,#0058ff 33.3%,#1cffdb 47.6%,#f1fc05 76.2%,#ffdb00 90.5%,#29ffce 95.2%,#29ffce)"></i>
<i style="left:628px;top:1322px;width:4px;height:52px;background:linear-gradient(#001fff,#0058ff 33.3%,#1cffdb 47.6%,#95ff62 61.9%,#e1ff15 66.7%,#ff8600 76.2%,#ff6500 90.5%,#29ffce 95.2%,#29ffce)"></i>
<i style="left:632px;top:1322px;width:6px;height:52px;background:linear-gradient(#001fff,#0058ff 33.3%,#1cffdb 47.6%,#f1fc05 76.2%,#ffdb00 90.5%,#29ffce 95.2%,#29ffce)"></i>
<i style="left:638px;top:1324px;width:4px;height:50px;background:linear-gradient(#001fff,#0058ff 33.3%,#1cffdb 47.6%,#ffe800 71.4%,#ffa000 90.5%,#29ffce 95.2%,#29ffce)"></i>
<i style="left:642px;top:1322px;width:6px;height:52px;background:linear-gradient(#001fff,#0058ff 33.3%,#1cffdb 47.6%,#95ff62 61.9%,#e2ff15 66.7%,#ff8600 76.2%,#ff6500 90.5%,#29ffce 95.2%,#29ffce)"></i>
<i style="left:648px;top:1319px;width:4px;height:55px;background:linear-gradient(#001fff,#004aff 30.4%,#1effd9 47.8%,#f6f701 78.3%,#ffd900 91.3%,#29ffce 95.7%,#29ffce)"></i>
<i style="left:652px;top:1330px;width:6px;height:44px;background:linear-gradient(#001fff,#0053ff 22.2%,#19ffde 38.9%,#ffe600 66.7%,#ff9f00 88.9%,#29ffce 94.4%,#29ffce)"></i>
<i style="left:658px;top:1327px;width:4px;height:47px;background:linear-gradient(#001fff,#004aff 26.3%,#0ff9e7 42.1%,#beff39 63.2%,#faf200 68.4%,#ffac00 84.2%,#ffa000 89.5%,#29ffce 94.7%,#29ffce)"></i>
<i style="left:662px;top:1318px;width:6px;height:56px;background:linear-gradient(#001fff,#004aff 30.4%,#1effd8 47.8%,#baff3d 73.9%,#ddff1a 91.3%,#29ffce 95.7%,#29ffce)"></i>
<i style="left:668px;top:1329px;width:4px;height:45px;background:linear-gradient(#001fff,#004bff 21.1%,#0bf4eb 36.8%,#e0ff17 63.2%,#ffa900 84.2%,#ff9e00 89.5%,#29ffce 94.7%,#29ffce)"></i>
<i style="left:672px;top:1320px;width:6px;height:54px;background:linear-gradient(#001fff,#004cff 31.8%,#0cf5eb 45.5%,#f4f903 77.3%,#ffda00 90.9%,#29ffce 95.5%,#29ffce)"></i>
<i style="left:678px;top:1312px;width:4px;height:62px;background:linear-gradient(#001fff,#004cff 40%,#10fae6 52%,#ddff1a 72%,#ffa900 88%,#ff9f00 92%,#29ffce 96%,#29ffce)"></i>
<i style="left:682px;top:1333px;width:6px;height:41px;background:linear-gradient(#001fff,#0062ff 23.5%,#00e6f6 35.3%,#eeff08 70.6%,#ffdc00 88.2%,#29ffce 94.1%,#29ffce)"></i>
<i style="left:688px;top:1321px;width:4px;height:53px;background:linear-gradient(#001fff,#004bff 31.8%,#0cf4eb 45.5%,#f4f903 77.3%,#ffda00 90.9%,#29ffce 95.5%,#29ffce)"></i>
<i style="left:692px;top:1333px;width:6px;height:41px;background:linear-gradient(#001fff,#004eff 17.6%,#18ffdf 35.3%,#aaff4d 52.9%,#f5f802 58.8%,#ffa200 64.7%,#ff6300 88.2%,#29ffce 94.1%,#29ffce)"></i>
<i style="left:698px;top:1324px;width:4px;height:50px;background:linear-gradient(#001fff,#006dff 30%,#24ffd3 45%,#f3fa04 75%,#ffda00 90%,#29ffce 95%,#29ffce)"></i>
<i style="left:702px;top:1323px;width:6px;height:51px;background:linear-gradient(#001fff,#0058ff 33.3%,#1cffdb 47.6%,#f1fc05 76.2%,#ffdb00 90.5%,#29ffce 95.2%,#29ffce)"></i>
<i style="left:708px;top:1323px;width:4px;height:51px;background:linear-gradient(#001fff,#0058ff 33.3%,#1cffdb 47.6%,#ffe700 71.4%,#ffa000 90.5%,#29ffce 95.2%,#29ffce)"></i>
<i style="left:712px;top:1328px;width:6px;height:46px;background:linear-gradient(#001fff,#004aff 26.3%,#0ff8e8 42.1%,#bdff3a 63.2%,#f9f300 68.4%,#ffac00 84.2%,#ffa100 89.5%,#29ffce 94.7%,#29ffce)"></i>
<i style="left:718px;top:1326px;width:4px;height:48px;background:linear-gradient(#001fff,#006dff 30%,#24ffd3 45%,#d3ff24 65%,#ffbf00 75%,#ff9f00 90%,#29ffce 95%,#29ffce)"></i>
<i style="left:722px;top:1332px;width:6px;height:42px;background:linear-gradient(#001fff,#0063ff 23.5%,#01e6f6 35.3%,#b0ff47 58.8%,#eeff08 64.7%,#ffb800 76.5%,#ffa100 88.2%,#29ffce 94.1%,#29ffce)"></i>
<i style="left:728px;top:1349px;width:4px;height:25px;background:linear-gradient(#001fff,#00d1ff 30%,#caff2d 50%,#ffc400 60%,#ffa400 80%,#29ffce 90%,#29ffce)"></i>
<i style="left:732px;top:1356px;width:6px;height:18px;background:linear-gradient(#001fff,#00b3ff 25%,#3bffbc 37.5%,#bfff38 50%,#ffc000 62.5%,#ffa500 75%,#29ffce 87.5%,#29ffce)"></i>
<i style="left:738px;top:1357px;width:4px;height:17px;background:linear-gradient(#001fff,#00c3ff 28.6%,#75ff82 42.9%,#2dffc9 57.1%,#29ffce)"></i>
<i style="left:742px;top:1361px;width:6px;height:13px;background:linear-gradient(#0061ff,#02e8f5 33.3%,#4dffa9 50%,#00e1fb 66.7%,#29ffce)"></i>
<i style="left:748px;top:1364px;width:4px;height:10px;background:linear-gradient(#0085ff,#00bcff 25%,#5cff9b 50%,#29ffce)"></i>
<i style="left:752px;top:1363px;width:6px;height:11px;background:linear-gradient(#0061ff,#00a5ff 20%,#44ffb3 40%,#29ffce)"></i>
<i style="left:758px;top:1363px;width:4px;height:11px;background:linear-gradient(#0061ff,#00a5ff 20%,#44ffb3 40%,#29ffce)"></i>
<i style="left:762px;top:1363px;width:6px;height:11px;background:linear-gradient(#0061ff,#00a4ff 20%,#41ffb6 40%,#29ffce)"></i>
<i style="left:768px;top:1348px;width:4px;height:26px;background:linear-gradient(#001fff,#00bbff 27.3%,#38ffbf 36.4%,#69ff8e 45.5%,#26ffd0 63.6%,#29ffce)"></i>
<i style="left:772px;top:1349px;width:6px;height:25px;background:linear-gradient(#001fff,#00bbff 27.3%,#37ffbf 36.4%,#73ff83 45.5%,#73ff84 81.8%,#29ffce 90.9%,#29ffce)"></i>
<i style="left:778px;top:1351px;width:4px;height:23px;background:linear-gradient(#001fff,#00cfff 30%,#5fff98 40%,#70ff87 80%,#29ffce 90%,#29ffce)"></i>
<i style="left:782px;top:1344px;width:6px;height:30px;background:linear-gradient(#001fff,#00a7ff 25%,#18ffde 33.3%,#78ff7f 41.7%,#a6ff51 83.3%,#29ffce 91.7%,#29ffce)"></i>
<i style="left:788px;top:1340px;width:4px;height:34px;background:linear-gradient(#001fff,#0080ff 21.4%,#00c6ff 28.6%,#2bffcc 35.7%,#72ff85 42.9%,#a7ff50 85.7%,#29ffce 92.9%,#29ffce)"></i>
<i style="left:792px;top:1338px;width:6px;height:36px;background:linear-gradient(#001fff,#0072ff 20%,#15ffe2 33.3%,#75ff82 46.7%,#6bff8b 80%,#75ff82 86.7%,#29ffce 93.3%,#29ffce)"></i>
<i style="left:798px;top:1346px;width:4px;height:28px;background:linear-gradient(#001fff,#00a6ff 25%,#17ffdf 33.3%,#76ff80 41.7%,#a6ff51 83.3%,#29ffce 91.7%,#29ffce)"></i>
<i style="left:802px;top:1342px;width:6px;height:32px;background:linear-gradient(#001fff,#0097ff 23.1%,#00e1fb 30.8%,#7eff79 46.2%,#a8ff4f 84.6%,#29ffce 92.3%,#29ffce)"></i>
<i style="left:808px;top:1344px;width:4px;height:30px;background:linear-gradient(#001fff,#00a7ff 25%,#19ffde 33.3%,#edff0a 58.3%,#ffdc00 83.3%,#29ffce 91.7%,#29ffce)"></i>
<i style="left:812px;top:1337px;width:6px;height:37px;background:linear-gradient(#001fff,#0068ff 20%,#09f1ed 33.3%,#b9ff3d 66.7%,#d9ff1e 86.7%,#29ffce 93.3%,#29ffce)"></i>
<i style="left:818px;top:1335px;width:4px;height:39px;background:linear-gradient(#001fff,#005aff 18.8%,#00dffc 31.2%,#abff4c 62.5%,#dbff1c 87.5%,#29ffce 93.8%,#29ffce)"></i>
<i style="left:822px;top:1337px;width:6px;height:37px;background:linear-gradient(#001fff,#0068ff 20%,#09f1ed 33.3%,#edff0a 66.7%,#ffdd00 86.7%,#29ffce 93.3%,#29ffce)"></i>
<i style="left:828px;top:1337px;width:4px;height:37px;background:linear-gradient(#001fff,#0067ff 20%,#09f1ee 33.3%,#e1ff16 60%,#ffba00 73.3%,#ffa200 86.7%,#29ffce 93.3%,#29ffce)"></i>
<i style="left:832px;top:1335px;width:6px;height:39px;background:linear-gradient(#001fff,#005aff 18.8%,#00dffc 31.2%,#83ff74 50%,#d3ff24 56.2%,#ff8700 68.8%,#ff6500 87.5%,#29ffce 93.8%,#29ffce)"></i>
<i style="left:838px;top:1327px;width:4px;height:47px;background:linear-gradient(#001fff,#004aff 26.3%,#0ff9e7 42.1%,#bdff3a 73.7%,#daff1d 89.5%,#29ffce 94.7%,#29ffce)"></i>
<i style="left:842px;top:1334px;width:6px;height:40px;background:linear-gradient(#001fff,#005aff 18.8%,#00dffc 31.2%,#d3ff24 62.5%,#ffdb00 87.5%,#29ffce 93.8%,#29ffce)"></i>
<i style="left:848px;top:1333px;width:4px;height:41px;background:linear-gradient(#001fff,#0063ff 23.5%,#01e6f6 35.3%,#efff08 70.6%,#ffdc00 88.2%,#29ffce 94.1%,#29ffce)"></i>
<i style="left:852px;top:1332px;width:6px;height:42px;background:linear-gradient(#001fff,#0063ff 23.5%,#01e6f6 35.3%,#efff08 70.6%,#ffdc00 88.2%,#29ffce 94.1%,#29ffce)"></i>
<i style="left:858px;top:1341px;width:4px;height:33px;background:linear-gradient(#001fff,#0080ff 21.4%,#00c5ff 28.6%,#2bffcc 35.7%,#efff08 64.3%,#ffdc00 85.7%,#29ffce 92.9%,#29ffce)"></i>
<i style="left:862px;top:1329px;width:6px;height:45px;background:linear-gradient(#001fff,#0053ff 22.2%,#19ffde 38.9%,#beff39 72.2%,#dbff1c 88.9%,#29ffce 94.4%,#29ffce)"></i>
<i style="left:868px;top:1327px;width:4px;height:47px;background:linear-gradient(#001fff,#004aff 26.3%,#0ff9e7 42.1%,#beff39 63.2%,#faf200 68.4%,#ffac00 84.2%,#ffa000 89.5%,#29ffce 94.7%,#29ffce)"></i>
<i style="left:872px;top:1331px;width:6px;height:43px;background:linear-gradient(#001fff,#0053ff 22.2%,#19ffde 38.9%,#beff39 72.2%,#dbff1c 88.9%,#29ffce 94.4%,#29ffce)"></i>
<i style="left:878px;top:1333px;width:4px;height:41px;background:linear-gradient(#001fff,#0063ff 23.5%,#01e6f6 35.3%,#b0ff47 58.8%,#eeff09 64.7%,#ffb800 76.5%,#ffa100 88.2%,#29ffce 94.1%,#29ffce)"></i>
<i style="left:882px;top:1330px;width:6px;height:44px;background:linear-gradient(#001fff,#0053ff 22.2%,#19ffde 38.9%,#f2fb05 72.2%,#ffda00 88.9%,#29ffce 94.4%,#29ffce)"></i>
<i style="left:888px;top:1336px;width:4px;height:38px;background:linear-gradient(#001fff,#005aff 18.8%,#00dffc 31.2%,#bdff39 56.2%,#faf200 62.5%,#ffab00 81.2%,#ffa000 87.5%,#29ffce 93.8%,#29ffce)"></i>
<i style="left:892px;top:1333px;width:6px;height:41px;background:linear-gradient(#001fff,#004eff 17.6%,#18ffdf 35.3%,#f3f903 70.6%,#ffd900 88.2%,#29ffce 94.1%,#29ffce)"></i>
<i style="left:898px;top:1333px;width:4px;height:41px;background:linear-gradient(#001fff,#004eff 17.6%,#18ffdf 35.3%,#d8ff1f 58.8%,#ffbe00 70.6%,#ff9e00 88.2%,#29ffce 94.1%,#29ffce)"></i>
<i style="left:902px;top:1337px;width:6px;height:37px;background:linear-gradient(#001fff,#0068ff 20%,#09f1ed 33.3%,#edff0a 66.7%,#ffdd00 86.7%,#29ffce 93.3%,#29ffce)"></i>
<i style="left:908px;top:1338px;width:4px;height:36px;background:linear-gradient(#001fff,#0072ff 20%,#15ffe2 33.3%,#ddff19 60%,#ffda00 86.7%,#29ffce 93.3%,#29ffce)"></i>
<i style="left:912px;top:1330px;width:6px;height:44px;background:linear-gradient(#001fff,#0053ff 22.2%,#19ffde 38.9%,#f2fc05 72.2%,#ffda00 88.9%,#29ffce 94.4%,#29ffce)"></i>
<i style="left:918px;top:1335px;width:4px;height:39px;background:linear-gradient(#001fff,#005aff 18.8%,#00dffc 31.2%,#d3ff24 62.5%,#ffdb00 87.5%,#29ffce 93.8%,#29ffce)"></i>
<i style="left:922px;top:1334px;width:6px;height:40px;background:linear-gradient(#001fff,#004eff 17.6%,#18ffdf 35.3%,#f3f903 70.6%,#ffd900 88.2%,#29ffce 94.1%,#29ffce)"></i>
<i style="left:928px;top:1327px;width:4px;height:47px;background:linear-gradient(#001fff,#004aff 26.3%,#0ff8e7 42.1%,#f0fd07 73.7%,#ffdb00 89.5%,#29ffce 94.7%,#29ffce)"></i>
<i style="left:932px;top:1325px;width:6px;height:49px;background:linear-gradient(#001fff,#006dff 30%,#24ffd3 45%,#bfff37 75%,#dbff1b 90%,#29ffce 95%,#29ffce)"></i>
<i style="left:938px;top:1320px;width:4px;height:54px;background:linear-gradient(#001fff,#004bff 31.8%,#0cf5eb 45.5%,#f4f903 77.3%,#ffda00 90.9%,#29ffce 95.5%,#29ffce)"></i>
<i style="left:942px;top:1327px;width:6px;height:47px;background:linear-gradient(#001fff,#004aff 26.3%,#0ff9e7 42.1%,#beff39 63.2%,#faf200 68.4%,#ffac00 84.2%,#ffa000 89.5%,#29ffce 94.7%,#29ffce)"></i>
<i style="left:948px;top:1336px;width:4px;height:38px;background:linear-gradient(#001fff,#005aff 18.8%,#00dffc 31.2%,#bdff39 56.2%,#faf200 62.5%,#ffab00 81.2%,#ffa000 87.5%,#29ffce 93.8%,#29ffce)"></i>
<i style="left:952px;top:1329px;width:6px;height:45px;background:linear-gradient(#001fff,#0053ff 22.2%,#19ffde 38.9%,#ffe600 66.7%,#ff9f00 88.9%,#29ffce 94.4%,#29ffce)"></i>
<i style="left:958px;top:1331px;width:4px;height:43px;background:linear-gradient(#001fff,#0053ff 22.2%,#19ffde 38.9%,#ffe700 66.7%,#ffa000 88.9%,#29ffce 94.4%,#29ffce)"></i>
<i style="left:962px;top:1327px;width:6px;height:47px;background:linear-gradient(#001fff,#004aff 26.3%,#0ff8e7 42.1%,#f0fd07 73.7%,#ffdb00 89.5%,#29ffce 94.7%,#29ffce)"></i>
<i style="left:968px;top:1331px;width:4px;height:43px;background:linear-gradient(#001fff,#0053ff 22.2%,#19ffde 38.9%,#ffe600 66.7%,#ff9f00 88.9%,#29ffce 94.4%,#29ffce)"></i>
<i style="left:972px;top:1333px;width:6px;height:41px;background:linear-gradient(#001fff,#004eff 17.6%,#18ffdf 35.3%,#f3f903 70.6%,#ffd900 88.2%,#29ffce 94.1%,#29ffce)"></i>
<i style="left:978px;top:1335px;width:4px;height:39px;background:linear-gradient(#001fff,#005aff 18.8%,#00dffc 31.2%,#d3ff24 62.5%,#ffdb00 87.5%,#29ffce 93.8%,#29ffce)"></i>
<i style="left:982px;top:1332px;width:6px;height:42px;background:linear-gradient(#001fff,#0063ff 23.5%,#01e6f6 35.3%,#75ff81 52.9%,#ffd600 64.7%,#ff8900 70.6%,#ff6600 88.2%,#29ffce 94.1%,#29ffce)"></i>
<i style="left:988px;top:1315px;width:4px;height:59px;background:linear-gradient(#001fff,#0065ff 41.7%,#22ffd5 54.2%,#99ff5e 66.7%,#e5ff12 70.8%,#ff8500 79.2%,#ff6500 91.7%,#29ffce 95.8%,#29ffce)"></i>
<i style="left:992px;top:1321px;width:6px;height:53px;background:linear-gradient(#001fff,#004bff 31.8%,#0cf4eb 45.5%,#c0ff37 77.3%,#dcff1b 90.9%,#29ffce 95.5%,#29ffce)"></i>
<i style="left:998px;top:1327px;width:4px;height:47px;background:linear-gradient(#001fff,#004aff 26.3%,#0ff9e7 42.1%,#83ff74 57.9%,#d2ff24 63.2%,#ff8700 73.7%,#ff6500 89.5%,#29ffce 94.7%,#29ffce)"></i>
<i style="left:1002px;top:1307px;width:6px;height:67px;background:linear-gradient(#001fff,#004bff 44.4%,#08efef 55.6%,#d1ff26 74.1%,#ffc000 81.5%,#ffa000 92.6%,#29ffce 96.3%,#29ffce)"></i>
<i style="left:1008px;top:1323px;width:4px;height:51px;background:linear-gradient(#001fff,#0058ff 33.3%,#1cffdb 47.6%,#ffe700 71.4%,#ffa000 90.5%,#29ffce 95.2%,#29ffce)"></i>
<i style="left:1012px;top:1312px;width:6px;height:62px;background:linear-gradient(#001fff,#004cff 40%,#10fae7 52%,#b3ff44 68%,#fcf000 72%,#ff9c00 76%,#ff6400 92%,#29ffce 96%,#29ffce)"></i>
<i style="left:1018px;top:1309px;width:4px;height:65px;background:linear-gradient(#001fff,#0056ff 40.7%,#10f9e7 51.9%,#c8ff2f 70.4%,#ffc400 77.8%,#ff9d00 92.6%,#29ffce 96.3%,#29ffce)"></i>
<i style="left:1022px;top:1335px;width:6px;height:39px;background:linear-gradient(#001fff,#005aff 18.8%,#00dffc 31.2%,#beff39 56.2%,#fbf100 62.5%,#ffab00 81.2%,#ffa000 87.5%,#29ffce 93.8%,#29ffce)"></i>
<i style="left:1028px;top:1319px;width:4px;height:55px;background:linear-gradient(#001fff,#004aff 30.4%,#1effd9 47.8%,#eeff09 69.6%,#ffbc00 78.3%,#ff9e00 91.3%,#29ffce 95.7%,#29ffce)"></i>
<i style="left:1032px;top:1345px;width:6px;height:29px;background:linear-gradient(#001fff,#00a7ff 25%,#18ffdf 33.3%,#edff0a 58.3%,#ffdc00 83.3%,#29ffce 91.7%,#29ffce)"></i>
<i style="left:1038px;top:1322px;width:4px;height:52px;background:linear-gradient(#001fff,#0058ff 33.3%,#1cffdb 47.6%,#ffe700 71.4%,#ffa000 90.5%,#29ffce 95.2%,#29ffce)"></i>
<i style="left:1042px;top:1327px;width:6px;height:47px;background:linear-gradient(#001fff,#004aff 26.3%,#0ff9e7 42.1%,#beff39 63.2%,#faf200 68.4%,#ffac00 84.2%,#ffa000 89.5%,#29ffce 94.7%,#29ffce)"></i>
<i style="left:1048px;top:1326px;width:4px;height:48px;background:linear-gradient(#001fff,#006dff 30%,#24ffd3 45%,#d3ff24 65%,#ffbf00 75%,#ff9f00 90%,#29ffce 95%,#29ffce)"></i>
<i style="left:1052px;top:1329px;width:6px;height:45px;background:linear-gradient(#001fff,#0053ff 22.2%,#19ffde 38.9%,#ffe600 66.7%,#ff9f00 88.9%,#29ffce 94.4%,#29ffce)"></i>
<i style="left:1058px;top:1301px;width:4px;height:73px;background:linear-gradient(#001fff,#005cff 46.7%,#13fde4 56.7%,#bbff3b 80%,#dcff1a 93.3%,#29ffce 96.7%,#29ffce)"></i>
<i style="left:1062px;top:1301px;width:6px;height:73px;background:linear-gradient(#001fff,#005cff 46.7%,#13fde4 56.7%,#c7ff2f 73.3%,#ffc400 80%,#ff9e00 93.3%,#29ffce 96.7%,#29ffce)"></i>
<i style="left:1068px;top:1297px;width:4px;height:77px;background:linear-gradient(#001fff,#0068ff 51.6%,#1dffd9 61.3%,#afff48 74.2%,#ffcd00 80.6%,#ffa000 93.5%,#29ffce 96.8%,#29ffce)"></i>
<i style="left:1072px;top:1317px;width:6px;height:57px;background:linear-gradient(#001fff,#004bff 39.1%,#11fbe6 52.2%,#baff3d 69.6%,#f6f701 73.9%,#ffb800 82.6%,#ffa100 91.3%,#29ffce 95.7%,#29ffce)"></i>
<i style="left:1078px;top:1292px;width:4px;height:82px;background:linear-gradient(#001fff,#0067ff 51.5%,#17ffdf 60.6%,#caff2d 75.8%,#ffc300 81.8%,#ff9e00 93.9%,#29ffce 97%,#29ffce)"></i>
<i style="left:1082px;top:1289px;width:6px;height:85px;background:linear-gradient(#0000ba,#000dff 26.5%,#0083ff 50%,#07eef0 61.8%,#82ff75 73.5%,#ffdd00 79.4%,#ff8d00 82.4%,#ff6500 94.1%,#29ffce 97.1%,#29ffce)"></i>
<i style="left:1088px;top:1331px;width:4px;height:43px;background:linear-gradient(#001fff,#0053ff 22.2%,#19ffde 38.9%,#ffe700 66.7%,#ffa000 88.9%,#29ffce 94.4%,#29ffce)"></i>
<i style="left:1092px;top:1336px;width:6px;height:38px;background:linear-gradient(#001fff,#005aff 18.8%,#00dffc 31.2%,#beff39 56.2%,#faf100 62.5%,#ffab00 81.2%,#ffa000 87.5%,#29ffce 93.8%,#29ffce)"></i>
<i style="left:1098px;top:1319px;width:4px;height:55px;background:linear-gradient(#001fff,#004aff 30.4%,#1effd9 47.8%,#eeff09 69.6%,#ffbc00 78.3%,#ff9e00 91.3%,#29ffce 95.7%,#29ffce)"></i>
<i style="left:1102px;top:1313px;width:6px;height:61px;background:linear-gradient(#001fff,#004cff 40%,#10f9e7 52%,#ddff1a 72%,#ffb400 84%,#ff9f00 92%,#29ffce 96%,#29ffce)"></i>
<i style="left:1108px;top:1341px;width:4px;height:33px;background:linear-gradient(#001fff,#0080ff 21.4%,#2bffcc 35.7%,#c1ff36 50%,#ffd500 57.1%,#ff8900 64.3%,#ff6600 85.7%,#29ffce 92.9%,#29ffce)"></i>
<i style="left:1112px;top:1296px;width:6px;height:78px;background:linear-gradient(#001fff,#004cff 50%,#0bf4eb 59.4%,#f6f701 84.4%,#ffda00 93.8%,#29ffce 96.9%,#29ffce)"></i>
<i style="left:1118px;top:1326px;width:4px;height:48px;background:linear-gradient(#001fff,#006dff 30%,#24ffd3 45%,#a3ff54 60%,#eeff08 65%,#ff8400 75%,#ff6400 90%,#29ffce 95%,#29ffce)"></i>
<i style="left:1122px;top:1327px;width:6px;height:47px;background:linear-gradient(#001fff,#004aff 26.3%,#0ff8e8 42.1%,#bdff3a 63.2%,#f9f200 68.4%,#ffac00 84.2%,#ffa000 89.5%,#29ffce 94.7%,#29ffce)"></i>
<i style="left:1128px;top:1326px;width:4px;height:48px;background:linear-gradient(#001fff,#006dff 30%,#24ffd3 45%,#d3ff24 65%,#ffbf00 75%,#ff9f00 90%,#29ffce 95%,#29ffce)"></i>
<i style="left:1132px;top:1338px;width:6px;height:36px;background:linear-gradient(#001fff,#0072ff 20%,#15ffe2 33.3%,#ffdf00 60%,#ff9e00 86.7%,#29ffce 93.3%,#29ffce)"></i>
<i style="left:1138px;top:1327px;width:4px;height:47px;background:linear-gradient(#001fff,#004aff 26.3%,#0ff8e8 42.1%,#bdff3a 63.2%,#f9f200 68.4%,#ffac00 84.2%,#ffa000 89.5%,#29ffce 94.7%,#29ffce)"></i>
<i style="left:1142px;top:1295px;width:6px;height:79px;background:linear-gradient(#001fff,#004cff 50%,#0bf4eb 59.4%,#bdff3a 75%,#f1fc06 78.1%,#ffbc00 84.4%,#ff9f00 93.8%,#29ffce 96.9%,#29ffce)"></i>
<i style="left:1148px;top:1310px;width:4px;height:64px;background:linear-gradient(#001fff,#004bff 38.5%,#20ffd7 53.8%,#84ff72 65.4%,#ffd800 73.1%,#ff8b00 76.9%,#ff6300 92.3%,#29ffce 96.2%,#29ffce)"></i>
<i style="left:1152px;top:1273px;width:6px;height:101px;background:linear-gradient(#0000ba,#000fff 29.3%,#0077ff 51.2%,#1bffdb 65.9%,#b8ff3f 78%,#ffd300 82.9%,#ff9d00 95.1%,#29ffce 97.6%,#29ffce)"></i>
<i style="left:1158px;top:1284px;width:4px;height:90px;background:linear-gradient(#0000ba,#0018ff 29.7%,#008eff 51.4%,#0cf4eb 62.2%,#a8ff4f 75.7%,#ffe000 81.1%,#ff9e00 94.6%,#29ffce 97.3%,#29ffce)"></i>
<i style="left:1162px;top:1280px;width:6px;height:94px;background:linear-gradient(#0000ba,#0016ff 31.6%,#006cff 50%,#1affdd 65.8%,#9dff5a 76.3%,#dfff18 78.9%,#ff8900 84.2%,#ff6400 94.7%,#29ffce 97.4%,#29ffce)"></i>
<i style="left:1168px;top:1311px;width:4px;height:63px;background:linear-gradient(#001fff,#004bff 38.5%,#20ffd7 53.8%,#84ff73 65.4%,#ffd900 73.1%,#ff8b00 76.9%,#ff6300 92.3%,#29ffce 96.2%,#29ffce)"></i>
<i style="left:1172px;top:1327px;width:6px;height:47px;background:linear-gradient(#001fff,#004aff 26.3%,#0ff8e7 42.1%,#bdff39 63.2%,#faf200 68.4%,#ffac00 84.2%,#ffa000 89.5%,#29ffce 94.7%,#29ffce)"></i>
<i style="left:1178px;top:1311px;width:4px;height:63px;background:linear-gradient(#001fff,#004bff 38.5%,#20ffd7 53.8%,#84ff73 65.4%,#ffd800 73.1%,#ff8b00 76.9%,#ff6300 92.3%,#29ffce 96.2%,#29ffce)"></i>
<i style="left:1182px;top:1295px;width:6px;height:79px;background:linear-gradient(#001fff,#004cff 50%,#0bf4eb 59.4%,#bdff3a 75%,#f1fc06 78.1%,#ffbc00 84.4%,#ff9f00 93.8%,#29ffce 96.9%,#29ffce)"></i>
<i style="left:1188px;top:1283px;width:4px;height:91px;background:linear-gradient(#0000ba,#0018ff 29.7%,#008eff 51.4%,#0cf4eb 62.2%,#a8ff4e 75.7%,#ffe000 81.1%,#ff9e00 94.6%,#29ffce 97.3%,#29ffce)"></i>
<i style="left:1192px;top:1315px;width:6px;height:59px;background:linear-gradient(#001fff,#0065ff 41.7%,#22ffd5 54.2%,#ffe400 75%,#ffa000 91.7%,#29ffce 95.8%,#29ffce)"></i>
<i style="left:1198px;top:1284px;width:4px;height:90px;background:linear-gradient(#0000ba,#0018ff 29.7%,#008eff 51.4%,#0cf4eb 62.2%,#a8ff4f 75.7%,#ffe000 81.1%,#ff9e00 94.6%,#29ffce 97.3%,#29ffce)"></i>
<i style="left:1202px;top:1290px;width:6px;height:84px;background:linear-gradient(#0000ba,#000dff 26.5%,#0083ff 50%,#07eef0 61.8%,#b5ff42 76.5%,#eaff0d 79.4%,#ffbd00 85.3%,#ffa000 94.1%,#29ffce 97.1%,#29ffce)"></i>
<i style="left:1208px;top:1311px;width:4px;height:63px;background:linear-gradient(#001fff,#004bff 38.5%,#20ffd7 53.8%,#edff0a 73.1%,#ffbc00 80.8%,#ff9e00 92.3%,#29ffce 96.2%,#29ffce)"></i>
<i style="left:1212px;top:1321px;width:6px;height:53px;background:linear-gradient(#001fff,#004bff 31.8%,#0cf4eb 45.5%,#b1ff46 63.6%,#faf100 68.2%,#ff9d00 72.7%,#ff6400 90.9%,#29ffce 95.5%,#29ffce)"></i>
<i style="left:1218px;top:1345px;width:4px;height:29px;background:linear-gradient(#001fff,#00a7ff 25%,#18ffdf 33.3%,#edff0a 58.3%,#ffdc00 83.3%,#29ffce 91.7%,#29ffce)"></i>
<i style="left:1222px;top:1332px;width:6px;height:42px;background:linear-gradient(#001fff,#0063ff 23.5%,#01e6f6 35.3%,#b0ff47 58.8%,#eeff09 64.7%,#ffb800 76.5%,#ffa100 88.2%,#29ffce 94.1%,#29ffce)"></i>
<i style="left:1228px;top:1337px;width:4px;height:37px;background:linear-gradient(#001fff,#0067ff 20%,#09f1ee 33.3%,#e1ff16 60%,#ffba00 73.3%,#ffa200 86.7%,#29ffce 93.3%,#29ffce)"></i>
<i style="left:1232px;top:1277px;width:6px;height:97px;background:linear-gradient(#0000ba,#0014ff 30.8%,#0077ff 51.3%,#08f0ee 64.1%,#a1ff56 76.9%,#ffe700 82.1%,#ff9e00 94.9%,#29ffce 97.4%,#29ffce)"></i>
<i style="left:1238px;top:1286px;width:4px;height:88px;background:linear-gradient(#0000ba,#0011ff 27.8%,#0083ff 50%,#1dffda 63.9%,#cdff29 77.8%,#ffc300 83.3%,#ff9e00 94.4%,#29ffce 97.2%,#29ffce)"></i>
<i style="left:1242px;top:1339px;width:6px;height:35px;background:linear-gradient(#001fff,#0080ff 21.4%,#00c6ff 28.6%,#2cffcb 35.7%,#efff08 64.3%,#ffdb00 85.7%,#29ffce 92.9%,#29ffce)"></i>
<i style="left:1248px;top:1293px;width:4px;height:81px;background:linear-gradient(#001fff,#0067ff 51.5%,#17ffdf 60.6%,#a0ff57 72.7%,#e2ff15 75.8%,#ff8900 81.8%,#ff6300 93.9%,#29ffce 97%,#29ffce)"></i>
<i style="left:1252px;top:1327px;width:6px;height:47px;background:linear-gradient(#001fff,#004aff 26.3%,#0ff9e7 42.1%,#beff39 63.2%,#faf200 68.4%,#ffac00 84.2%,#ffa000 89.5%,#29ffce 94.7%,#29ffce)"></i>
<i style="left:1258px;top:1289px;width:4px;height:85px;background:linear-gradient(#0000ba,#0014ff 28.6%,#008fff 51.4%,#12fce4 62.9%,#c1ff36 77.1%,#ffc500 82.9%,#ff9f00 94.3%,#29ffce 97.1%,#29ffce)"></i>
<i style="left:1262px;top:1293px;width:6px;height:81px;background:linear-gradient(#001fff,#0067ff 51.5%,#17ffdf 60.6%,#caff2d 75.8%,#ffc400 81.8%,#ff9e00 93.9%,#29ffce 97%,#29ffce)"></i>
<i style="left:1268px;top:1284px;width:4px;height:90px;background:linear-gradient(#0000ba,#0011ff 27.8%,#0083ff 50%,#1dffd9 63.9%,#72ff85 72.2%,#ffea00 77.8%,#ff4d00 83.3%,#ff2800 94.4%,#29ffce 97.2%,#29ffce)"></i>
<i style="left:1272px;top:1331px;width:6px;height:43px;background:linear-gradient(#001fff,#0053ff 22.2%,#19ffde 38.9%,#f1fc05 72.2%,#ffdb00 88.9%,#29ffce 94.4%,#29ffce)"></i>
<i style="left:1278px;top:1339px;width:4px;height:35px;background:linear-gradient(#001fff,#0072ff 20%,#14ffe2 33.3%,#ffe000 60%,#ff9f00 86.7%,#29ffce 93.3%,#29ffce)"></i>
<i style="left:1282px;top:1336px;width:6px;height:38px;background:linear-gradient(#001fff,#005aff 18.8%,#00dffc 31.2%,#bdff39 56.2%,#faf200 62.5%,#ffab00 81.2%,#ffa000 87.5%,#29ffce 93.8%,#29ffce)"></i>
<i style="left:1288px;top:1329px;width:4px;height:45px;background:linear-gradient(#001fff,#0053ff 22.2%,#19ffde 38.9%,#f2fb05 72.2%,#ffda00 88.9%,#29ffce 94.4%,#29ffce)"></i>
<i style="left:1292px;top:1325px;width:6px;height:49px;background:linear-gradient(#001fff,#006dff 30%,#24ffd3 45%,#f3fa04 75%,#ffda00 90%,#29ffce 95%,#29ffce)"></i>
<i style="left:1298px;top:1301px;width:4px;height:73px;background:linear-gradient(#001fff,#005cff 46.7%,#13fde4 56.7%,#c8ff2f 73.3%,#ffc400 80%,#ff9e00 93.3%,#29ffce 96.7%,#29ffce)"></i>
<i style="left:1302px;top:1315px;width:6px;height:59px;background:linear-gradient(#001fff,#0065ff 41.7%,#22ffd5 54.2%,#ffe500 75%,#ffa000 91.7%,#29ffce 95.8%,#29ffce)"></i>
<i style="left:1308px;top:1280px;width:4px;height:94px;background:linear-gradient(#0000ba,#0016ff 31.6%,#006cff 50%,#1affdd 65.8%,#c7ff30 78.9%,#ffc400 84.2%,#ff9f00 94.7%,#29ffce 97.4%,#29ffce)"></i>
<i style="left:1312px;top:1286px;width:6px;height:88px;background:linear-gradient(#0000ba,#0011ff 27.8%,#0083ff 50%,#1dffda 63.9%,#a5ff51 75%,#e7ff10 77.8%,#ff8800 83.3%,#ff6300 94.4%,#29ffce 97.2%,#29ffce)"></i>
<i style="left:1318px;top:1277px;width:4px;height:97px;background:linear-gradient(#0000ba,#0014ff 30.8%,#0077ff 51.3%,#08f0ee 64.1%,#a1ff56 76.9%,#ffe700 82.1%,#ff9e00 94.9%,#29ffce 97.4%,#29ffce)"></i>
<i style="left:1322px;top:1305px;width:6px;height:69px;background:linear-gradient(#001fff,#0056ff 46.4%,#16ffe0 57.1%,#b7ff3f 71.4%,#ffec00 75%,#ff9900 78.6%,#ff6400 92.9%,#29ffce 96.4%,#29ffce)"></i>
<i style="left:1328px;top:1291px;width:4px;height:83px;background:linear-gradient(#001fff,#004cff 50%,#07eef0 58.8%,#b2ff45 73.5%,#f3fa04 76.5%,#ff8700 82.4%,#ff6200 94.1%,#29ffce 97.1%,#29ffce)"></i>
<i style="left:1332px;top:1324px;width:6px;height:50px;background:linear-gradient(#001fff,#006dff 30%,#24ffd2 45%,#d4ff23 65%,#ffbf00 75%,#ff9f00 90%,#29ffce 95%,#29ffce)"></i>
<i style="left:1338px;top:1265px;width:4px;height:109px;background:linear-gradient(#0000ba,#0012ff 31.8%,#006bff 52.3%,#08efef 65.9%,#bcff3b 79.5%,#ffcf00 84.1%,#ff9d00 95.5%,#29ffce 97.7%,#29ffce)"></i>
<i style="left:1342px;top:1343px;width:6px;height:31px;background:linear-gradient(#001fff,#0097ff 23.1%,#00e0fb 30.8%,#d1ff26 53.8%,#ffda00 84.6%,#29ffce 92.3%,#29ffce)"></i>
<i style="left:1348px;top:1341px;width:4px;height:33px;background:linear-gradient(#001fff,#0080ff 21.4%,#00c5ff 28.6%,#2bffcc 35.7%,#c1ff35 50%,#ffd500 57.1%,#ff8900 64.3%,#ff6600 85.7%,#29ffce 92.9%,#29ffce)"></i>
<i style="left:1352px;top:1296px;width:6px;height:78px;background:linear-gradient(#001fff,#004cff 50%,#0bf3ec 59.4%,#bcff3b 75%,#f0fd06 78.1%,#ffbc00 84.4%,#ff9f00 93.8%,#29ffce 96.9%,#29ffce)"></i>
<i style="left:1358px;top:1278px;width:4px;height:96px;background:linear-gradient(#0000ba,#0014ff 30.8%,#0077ff 51.3%,#08f0ef 64.1%,#f8f500 87.2%,#ffd900 94.9%,#29ffce 97.4%,#29ffce)"></i>
<i style="left:1362px;top:1342px;width:6px;height:32px;background:linear-gradient(#001fff,#004aff 15.4%,#00defd 30.8%,#e5ff12 61.5%,#ffde00 84.6%,#29ffce 92.3%,#29ffce)"></i>
<i style="left:1368px;top:1322px;width:4px;height:52px;background:linear-gradient(#001fff,#0058ff 33.3%,#1cffdb 47.6%,#ffe700 71.4%,#ffa000 90.5%,#29ffce 95.2%,#29ffce)"></i>
<i style="left:1372px;top:1325px;width:6px;height:49px;background:linear-gradient(#001fff,#006dff 30%,#24ffd3 45%,#d4ff23 65%,#ffbf00 75%,#ff9f00 90%,#29ffce 95%,#29ffce)"></i>
<i style="left:1378px;top:1300px;width:4px;height:74px;background:linear-gradient(#001fff,#005cff 46.7%,#13fde4 56.7%,#c8ff2f 73.3%,#ffc400 80%,#ff9e00 93.3%,#29ffce 96.7%,#29ffce)"></i>
<i style="left:1382px;top:1311px;width:6px;height:63px;background:linear-gradient(#001fff,#004bff 38.5%,#20ffd7 53.8%,#84ff73 65.4%,#ffd800 73.1%,#ff8b00 76.9%,#ff6300 92.3%,#29ffce 96.2%,#29ffce)"></i>
<i style="left:1388px;top:1306px;width:4px;height:68px;background:linear-gradient(#001fff,#0055ff 46.4%,#16ffe1 57.1%,#f4f903 82.1%,#ffdb00 92.9%,#29ffce 96.4%,#29ffce)"></i>
<i style="left:1392px;top:1318px;width:6px;height:56px;background:linear-gradient(#001fff,#004aff 30.4%,#1effd8 47.8%,#eeff08 69.6%,#ffbc00 78.3%,#ff9e00 91.3%,#29ffce 95.7%,#29ffce)"></i>
<i style="left:1398px;top:1326px;width:4px;height:48px;background:linear-gradient(#001fff,#006dff 30%,#24ffd3 45%,#a3ff53 60%,#efff08 65%,#ff8400 75%,#ff6400 90%,#29ffce 95%,#29ffce)"></i>
<i style="left:1402px;top:1297px;width:6px;height:77px;background:linear-gradient(#001fff,#0068ff 51.6%,#1dffd9 61.3%,#afff48 74.2%,#ffcd00 80.6%,#ffa000 93.5%,#29ffce 96.8%,#29ffce)"></i>
<i style="left:1408px;top:1328px;width:4px;height:46px;background:linear-gradient(#001fff,#004aff 26.3%,#0ff8e8 42.1%,#bdff3a 63.2%,#f9f300 68.4%,#ffac00 84.2%,#ffa000 89.5%,#29ffce 94.7%,#29ffce)"></i>
<i style="left:1412px;top:1308px;width:6px;height:66px;background:linear-gradient(#001fff,#0057ff 40.7%,#10f9e7 51.9%,#c8ff2f 70.4%,#ffc400 77.8%,#ff9d00 92.6%,#29ffce 96.3%,#29ffce)"></i>
<i style="left:1418px;top:1287px;width:4px;height:87px;background:linear-gradient(#0000ba,#0014ff 28.6%,#008fff 51.4%,#13fce4 62.9%,#f6f601 85.7%,#ffda00 94.3%,#29ffce 97.1%,#29ffce)"></i>
<i style="left:1422px;top:1281px;width:6px;height:93px;background:linear-gradient(#0000ba,#0016ff 31.6%,#006cff 50%,#1affdd 65.8%,#c7ff30 78.9%,#ffc400 84.2%,#ff9f00 94.7%,#29ffce 97.4%,#29ffce)"></i>
<i style="left:1428px;top:1319px;width:4px;height:55px;background:linear-gradient(#001fff,#004aff 30.4%,#1effd9 47.8%,#eeff09 69.6%,#ffbc00 78.3%,#ff9e00 91.3%,#29ffce 95.7%,#29ffce)"></i>
<i style="left:1432px;top:1292px;width:6px;height:82px;background:linear-gradient(#001fff,#0067ff 51.5%,#18ffdf 60.6%,#f7f500 84.8%,#ffd900 93.9%,#29ffce 97%,#29ffce)"></i>
<i style="left:1438px;top:1327px;width:4px;height:47px;background:linear-gradient(#001fff,#004aff 26.3%,#0ff8e8 42.1%,#bdff3a 63.2%,#f9f200 68.4%,#ffac00 84.2%,#ffa000 89.5%,#29ffce 94.7%,#29ffce)"></i>
<i style="left:1442px;top:1337px;width:6px;height:37px;background:linear-gradient(#001fff,#0073ff 20%,#15ffe2 33.3%,#eaff0c 53.3%,#ff8400 66.7%,#ff6300 86.7%,#29ffce 93.3%,#29ffce)"></i>
<i style="left:1448px;top:1297px;width:4px;height:77px;background:linear-gradient(#001fff,#0068ff 51.6%,#1dffd9 61.3%,#7aff7d 71%,#ceff28 74.2%,#ff5b00 80.6%,#ff2a00 93.5%,#29ffce 96.8%,#29ffce)"></i>
<i style="left:1452px;top:1263px;width:6px;height:111px;background:linear-gradient(#0000ba,#0012ff 33.3%,#0062ff 53.3%,#17ffe0 68.9%,#80ff77 77.8%,#ffcd00 82.2%,#ff4b00 86.7%,#ff2800 95.6%,#29ffce 97.8%,#29ffce)"></i>
<i style="left:1458px;top:1269px;width:4px;height:105px;background:linear-gradient(#0000ba,#0014ff 32.6%,#0076ff 53.5%,#18ffde 67.4%,#84ff72 76.7%,#ffeb00 81.4%,#ff8600 86%,#ff6300 95.3%,#29ffce 97.7%,#29ffce)"></i>
<i style="left:1462px;top:1199px;width:6px;height:175px;background:linear-gradient(#0000ba,#0013ff 40%,#005eff 61.4%,#09f1ee 74.3%,#81ff76 82.9%,#e7ff10 85.7%,#ff9300 88.6%,#ff6200 97.1%,#29ffce 98.6%,#29ffce)"></i>
<i style="left:1468px;top:1218px;width:4px;height:156px;background:linear-gradient(#0000ba,#0016ff 39.7%,#0065ff 60.3%,#0af2ed 73%,#99ff5e 82.5%,#ffe600 85.7%,#ff8700 88.9%,#ff6200 96.8%,#29ffce 98.4%,#29ffce)"></i>
<i style="left:1472px;top:1179px;width:6px;height:195px;background:linear-gradient(#0000ba,#0015ff 41.8%,#0063ff 63.3%,#11fae6 75.9%,#a0ff57 84.8%,#ffdd00 88.6%,#ff9c00 97.5%,#29ffce 98.7%,#29ffce)"></i>
<i style="left:1478px;top:1167px;width:4px;height:207px;background:linear-gradient(#0000ba,#0012ff 41%,#0062ff 63.9%,#0af1ed 75.9%,#8cff6b 84.3%,#e8ff0f 86.7%,#ff8700 90.4%,#ff6100 97.6%,#29ffce 98.8%,#29ffce)"></i>
<i style="left:1482px;top:1174px;width:6px;height:200px;background:linear-gradient(#0000ba,#0015ff 42%,#0066ff 64.2%,#12fce4 76.5%,#acff4b 85.2%,#ffe000 87.7%,#ff8200 91.4%,#ff6100 97.5%,#29ffce 98.8%,#29ffce)"></i>
<i style="left:1488px;top:1207px;width:4px;height:167px;background:linear-gradient(#0000ba,#0012ff 38.8%,#0064ff 61.2%,#16ffe0 74.6%,#abff4b 83.6%,#ffd500 86.6%,#ff8600 89.6%,#ff6200 97%,#29ffce 98.5%,#29ffce)"></i>
<i style="left:1492px;top:1153px;width:6px;height:221px;background:linear-gradient(#0000ba,#0012ff 41.6%,#0064ff 65.2%,#15ffe2 77.5%,#9cff5a 85.4%,#f6f701 87.6%,#ff9100 89.9%,#ff6100 97.8%,#29ffce 98.9%,#29ffce)"></i>
<i style="left:1498px;top:1243px;width:4px;height:131px;background:linear-gradient(#0000ba,#0013ff 35.8%,#0063ff 56.6%,#04ebf2 69.8%,#abff4c 81.1%,#e5ff12 83%,#ff8b00 86.8%,#ff6300 96.2%,#29ffce 98.1%,#29ffce)"></i>
<i style="left:1502px;top:1270px;width:6px;height:104px;background:linear-gradient(#0000ba,#0016ff 33.3%,#006cff 52.4%,#10f9e7 66.7%,#79ff7e 76.2%,#f4f903 81%,#ff8700 85.7%,#ff6300 95.2%,#29ffce 97.6%,#29ffce)"></i>
<i style="left:1508px;top:1212px;width:4px;height:162px;background:linear-gradient(#0000ba,#0013ff 38.5%,#0062ff 60%,#15ffe1 73.8%,#acff4b 83.1%,#ffd400 86.2%,#ff8600 89.2%,#ff6200 96.9%,#29ffce 98.5%,#29ffce)"></i>
<i style="left:1512px;top:1174px;width:6px;height:200px;background:linear-gradient(#0000ba,#0014ff 41.2%,#005aff 62.5%,#15ffe1 76.2%,#b3ff44 85%,#ffd900 87.5%,#ff8100 91.2%,#ff6100 97.5%,#29ffce 98.8%,#29ffce)"></i>
<i style="left:1518px;top:1210px;width:4px;height:164px;background:linear-gradient(#0000ba,#0015ff 39.4%,#0068ff 60.6%,#07eef0 72.7%,#82ff75 81.8%,#e8ff0e 84.8%,#ff9100 87.9%,#ff6100 97%,#29ffce 98.5%,#29ffce)"></i>
<i style="left:1522px;top:1201px;width:6px;height:173px;background:linear-gradient(#0000ba,#0015ff 40%,#0067ff 61.4%,#12fce5 74.3%,#93ff64 82.9%,#f6f600 85.7%,#ff8a00 88.6%,#ff6100 97.1%,#29ffce 98.6%,#29ffce)"></i>
<i style="left:1528px;top:1245px;width:4px;height:129px;background:linear-gradient(#0000ba,#000fff 34.6%,#006dff 57.7%,#15ffe2 71.2%,#f3fa04 88.5%,#ffd900 96.2%,#29ffce 98.1%,#29ffce)"></i>
<i style="left:1532px;top:1303px;width:6px;height:71px;background:linear-gradient(#001fff,#004bff 44.8%,#05ecf2 55.2%,#b9ff3e 72.4%,#eeff09 75.9%,#ffbc00 82.8%,#ff9f00 93.1%,#29ffce 96.6%,#29ffce)"></i>
<i style="left:1538px;top:1254px;width:4px;height:120px;background:linear-gradient(#0000ba,#0014ff 35.4%,#006dff 56.2%,#06edf1 68.8%,#8aff6d 79.2%,#ffe700 83.3%,#ff8500 87.5%,#ff6300 95.8%,#29ffce 97.9%,#29ffce)"></i>
<i style="left:1542px;top:1227px;width:6px;height:147px;background:linear-gradient(#0000ba,#0012ff 37.3%,#0065ff 59.3%,#13fde4 72.9%,#85ff71 81.4%,#f4f802 84.7%,#ff8900 88.1%,#ff6300 96.6%,#29ffce 98.3%,#29ffce)"></i>
<i style="left:1548px;top:1246px;width:4px;height:128px;background:linear-gradient(#0000ba,#0012ff 34.6%,#0069ff 55.8%,#0cf4eb 69.2%,#82ff75 78.8%,#f3fa04 82.7%,#ff8900 86.5%,#ff6200 96.2%,#29ffce 98.1%,#29ffce)"></i>
<i style="left:1552px;top:1212px;width:6px;height:162px;background:linear-gradient(#0000ba,#0013ff 38.5%,#0062ff 60%,#15ffe1 73.8%,#a1ff56 83.1%,#f0fe07 86.2%,#ffb900 90.8%,#ff9d00 96.9%,#29ffce 98.5%,#29ffce)"></i>
<i style="left:1558px;top:1229px;width:4px;height:145px;background:linear-gradient(#0000ba,#0016ff 37.9%,#006aff 58.6%,#18ffde 72.4%,#b6ff41 82.8%,#ffc300 87.9%,#ff9d00 96.6%,#29ffce 98.3%,#29ffce)"></i>
<i style="left:1562px;top:1302px;width:6px;height:72px;background:linear-gradient(#001fff,#004bff 44.8%,#05ecf2 55.2%,#87ff70 69%,#ffd600 75.9%,#ff8b00 79.3%,#ff6300 93.1%,#29ffce 96.6%,#29ffce)"></i>
<i style="left:1568px;top:1260px;width:4px;height:114px;background:linear-gradient(#0000ba,#0010ff 32.6%,#006cff 54.3%,#06edf1 67.4%,#b7ff3f 80.4%,#ffc000 87%,#ff9e00 95.7%,#29ffce 97.8%,#29ffce)"></i>
<i style="left:1572px;top:1295px;width:6px;height:79px;background:linear-gradient(#001fff,#004cff 50%,#0bf4eb 59.4%,#bdff3a 75%,#f1fc06 78.1%,#ffbc00 84.4%,#ff9f00 93.8%,#29ffce 96.9%,#29ffce)"></i>
<i style="left:1578px;top:1199px;width:4px;height:175px;background:linear-gradient(#0000ba,#0013ff 40%,#005eff 61.4%,#09f1ee 74.3%,#82ff74 82.9%,#ffea00 85.7%,#ff5900 88.6%,#ff2700 97.1%,#29ffce 98.6%,#29ffce)"></i>
<i style="left:1582px;top:1316px;width:6px;height:58px;background:linear-gradient(#001fff,#0064ff 41.7%,#21ffd5 54.2%,#ffe500 75%,#ffa000 91.7%,#29ffce 95.8%,#29ffce)"></i>
<i style="left:1588px;top:1245px;width:4px;height:129px;background:linear-gradient(#0000ba,#0012ff 34.6%,#0069ff 55.8%,#0cf5eb 69.2%,#82ff75 78.8%,#f3fa04 82.7%,#ff8900 86.5%,#ff6200 96.2%,#29ffce 98.1%,#29ffce)"></i>
<i style="left:1592px;top:1265px;width:6px;height:109px;background:linear-gradient(#0000ba,#0012ff 31.8%,#006bff 52.3%,#08efef 65.9%,#94ff63 77.3%,#ffdc00 81.8%,#ff8400 86.4%,#ff6200 95.5%,#29ffce 97.7%,#29ffce)"></i>
<i style="left:1598px;top:1282px;width:4px;height:92px;background:linear-gradient(#0000ba,#0018ff 29.7%,#008eff 51.4%,#0cf5eb 62.2%,#79ff7d 73%,#f6f600 78.4%,#ff8600 83.8%,#ff6300 94.6%,#29ffce 97.3%,#29ffce)"></i>
<i style="left:1602px;top:1329px;width:6px;height:45px;background:linear-gradient(#001fff,#0053ff 22.2%,#19ffde 38.9%,#ffe600 66.7%,#ff9f00 88.9%,#29ffce 94.4%,#29ffce)"></i>
<i style="left:1608px;top:1304px;width:4px;height:70px;background:linear-gradient(#001fff,#0056ff 46.4%,#16ffe0 57.1%,#e0ff17 75%,#ffaa00 89.3%,#ff9f00 92.9%,#29ffce 96.4%,#29ffce)"></i>
<i style="left:1612px;top:1291px;width:6px;height:83px;background:linear-gradient(#001fff,#004cff 50%,#07eef0 58.8%,#b2ff45 73.5%,#f3fa04 76.5%,#ff8700 82.4%,#ff6200 94.1%,#29ffce 97.1%,#29ffce)"></i>
<i style="left:1618px;top:1282px;width:4px;height:92px;background:linear-gradient(#0000ba,#0018ff 29.7%,#008eff 51.4%,#0cf5eb 62.2%,#a9ff4e 75.7%,#ffe000 81.1%,#ff9e00 94.6%,#29ffce 97.3%,#29ffce)"></i>
<i style="left:1622px;top:1291px;width:6px;height:83px;background:linear-gradient(#001fff,#004cff 50%,#07eef0 58.8%,#a5ff52 73.5%,#ffe200 79.4%,#ff9d00 94.1%,#29ffce 97.1%,#29ffce)"></i>
<i style="left:1628px;top:1256px;width:4px;height:118px;background:linear-gradient(#0000ba,#0012ff 33.3%,#006aff 54.2%,#16ffe1 68.8%,#a8ff4f 79.2%,#e2ff15 81.2%,#ff8b00 85.4%,#ff6200 95.8%,#29ffce 97.9%,#29ffce)"></i>
<i style="left:1632px;top:1306px;width:6px;height:68px;background:linear-gradient(#001fff,#0055ff 46.4%,#16ffe1 57.1%,#dfff17 75%,#ffaa00 89.3%,#ffa000 92.9%,#29ffce 96.4%,#29ffce)"></i>
<i style="left:1638px;top:1274px;width:4px;height:100px;background:linear-gradient(#0000ba,#0012ff 30%,#006cff 50%,#12fce5 65%,#adff4a 77.5%,#ffdc00 82.5%,#ff9e00 95%,#29ffce 97.5%,#29ffce)"></i>
<i style="left:1642px;top:1261px;width:6px;height:113px;background:linear-gradient(#0000ba,#0010ff 32.6%,#006cff 54.3%,#06edf1 67.4%,#8dff6a 78.3%,#ffe300 82.6%,#ff8500 87%,#ff6300 95.7%,#29ffce 97.8%,#29ffce)"></i>
<i style="left:1648px;top:1236px;width:4px;height:138px;background:linear-gradient(#0000ba,#0014ff 37.5%,#006cff 58.9%,#0cf4eb 71.4%,#a6ff50 82.1%,#fcef00 85.7%,#ffb500 91.1%,#ff9e00 96.4%,#29ffce 98.2%,#29ffce)"></i>
<i style="left:1652px;top:1311px;width:6px;height:63px;background:linear-gradient(#001fff,#004bff 38.5%,#20ffd7 53.8%,#84ff73 65.4%,#ffd900 73.1%,#ff8b00 76.9%,#ff6300 92.3%,#29ffce 96.2%,#29ffce)"></i>
<i style="left:1658px;top:1272px;width:4px;height:102px;background:linear-gradient(#0000ba,#000fff 29.3%,#0077ff 51.2%,#1bffdb 65.9%,#8dff6a 75.6%,#ffe200 80.5%,#ff8500 85.4%,#ff6200 95.1%,#29ffce 97.6%,#29ffce)"></i>
<i style="left:1662px;top:1230px;width:6px;height:144px;background:linear-gradient(#0000ba,#0015ff 37.9%,#0069ff 58.6%,#18ffde 72.4%,#92ff65 81%,#ffec00 84.5%,#ff8800 87.9%,#ff6200 96.6%,#29ffce 98.3%,#29ffce)"></i>
<i style="left:1668px;top:1293px;width:4px;height:81px;background:linear-gradient(#001fff,#0067ff 51.5%,#17ffdf 60.6%,#caff2d 75.8%,#ffc400 81.8%,#ff9e00 93.9%,#29ffce 97%,#29ffce)"></i>
<i style="left:1672px;top:1235px;width:6px;height:139px;background:linear-gradient(#0000ba,#0014ff 37.5%,#006cff 58.9%,#0cf4eb 71.4%,#a7ff50 82.1%,#fdef00 85.7%,#ffad00 92.9%,#ff9e00 96.4%,#29ffce 98.2%,#29ffce)"></i>
<i style="left:1678px;top:1272px;width:4px;height:102px;background:linear-gradient(#0000ba,#0011ff 31.7%,#0077ff 53.7%,#06edf0 65.9%,#cdff29 80.5%,#ffc300 85.4%,#ff9f00 95.1%,#29ffce 97.6%,#29ffce)"></i>
<i style="left:1682px;top:1315px;width:6px;height:59px;background:linear-gradient(#001fff,#0065ff 41.7%,#22ffd5 54.2%,#a0ff57 66.7%,#feed00 70.8%,#ff8100 75%,#ff4000 83.3%,#ff2a00 91.7%,#29ffce 95.8%,#29ffce)"></i>
<i style="left:1688px;top:1293px;width:4px;height:81px;background:linear-gradient(#001fff,#0067ff 51.5%,#17ffdf 60.6%,#a0ff57 72.7%,#e2ff15 75.8%,#ff8900 81.8%,#ff6300 93.9%,#29ffce 97%,#29ffce)"></i>
<i style="left:1692px;top:1268px;width:6px;height:106px;background:linear-gradient(#0000ba,#0014ff 32.6%,#0076ff 53.5%,#18ffde 67.4%,#85ff72 76.7%,#ffea00 81.4%,#ff8600 86%,#ff6300 95.3%,#29ffce 97.7%,#29ffce)"></i>
<i style="left:1698px;top:1262px;width:4px;height:112px;background:linear-gradient(#0000ba,#0012ff 33.3%,#0062ff 53.3%,#17ffe0 68.9%,#80ff76 77.8%,#ffcd00 82.2%,#ff4b00 86.7%,#ff2800 95.6%,#29ffce 97.8%,#29ffce)"></i>
<i style="left:1702px;top:1239px;width:6px;height:135px;background:linear-gradient(#0000ba,#0014ff 36.4%,#0061ff 56.4%,#12fce5 70.9%,#8aff6d 80%,#f9f300 83.6%,#ff8800 87.3%,#ff6200 96.4%,#29ffce 98.2%,#29ffce)"></i>
<i style="left:1708px;top:1305px;width:4px;height:69px;background:linear-gradient(#001fff,#0056ff 46.4%,#16ffe1 57.1%,#b7ff40 71.4%,#ffec00 75%,#ff9a00 78.6%,#ff6400 92.9%,#29ffce 96.4%,#29ffce)"></i>
<i style="left:1712px;top:1257px;width:6px;height:117px;background:linear-gradient(#0000ba,#0014ff 34%,#0075ff 55.3%,#0ef7e8 68.1%,#c1ff36 80.9%,#eeff08 83%,#ffbf00 87.2%,#ff9e00 95.7%,#29ffce 97.9%,#29ffce)"></i>
<i style="left:1718px;top:1283px;width:4px;height:91px;background:linear-gradient(#0000ba,#0018ff 29.7%,#008eff 51.4%,#0cf4eb 62.2%,#a8ff4e 75.7%,#ffe000 81.1%,#ff9e00 94.6%,#29ffce 97.3%,#29ffce)"></i>
<i style="left:1722px;top:1271px;width:6px;height:103px;background:linear-gradient(#0000ba,#0016ff 33.3%,#006cff 52.4%,#10f9e7 66.7%,#79ff7e 76.2%,#f4f903 81%,#ff8700 85.7%,#ff6300 95.2%,#29ffce 97.6%,#29ffce)"></i>
<i style="left:1728px;top:1268px;width:4px;height:106px;background:linear-gradient(#0000ba,#0014ff 32.6%,#0076ff 53.5%,#18ffde 67.4%,#b2ff45 79.1%,#ffd900 83.7%,#ff9e00 95.3%,#29ffce 97.7%,#29ffce)"></i>
<i style="left:1732px;top:1288px;width:6px;height:86px;background:linear-gradient(#0000ba,#0014ff 28.6%,#008fff 51.4%,#12fce4 62.9%,#94ff63 74.3%,#ffcd00 80%,#ff8a00 82.9%,#ff6400 94.3%,#29ffce 97.1%,#29ffce)"></i>
<i style="left:1738px;top:1301px;width:4px;height:73px;background:linear-gradient(#001fff,#005cff 46.7%,#13fde4 56.7%,#9cff5b 70%,#dfff17 73.3%,#ff8900 80%,#ff6300 93.3%,#29ffce 96.7%,#29ffce)"></i>
<i style="left:1742px;top:1282px;width:6px;height:92px;background:linear-gradient(#0000ba,#0018ff 29.7%,#008eff 51.4%,#0cf5eb 62.2%,#79ff7d 73%,#ffd400 78.4%,#ff4b00 83.8%,#ff2800 94.6%,#29ffce 97.3%,#29ffce)"></i>
<i style="left:1748px;top:1272px;width:4px;height:102px;background:linear-gradient(#0000ba,#0011ff 31.7%,#0077ff 53.7%,#06eef0 65.9%,#ceff29 80.5%,#ffc300 85.4%,#ff9f00 95.1%,#29ffce 97.6%,#29ffce)"></i>
<i style="left:1752px;top:1261px;width:6px;height:113px;background:linear-gradient(#0000ba,#0010ff 32.6%,#006cff 54.3%,#06edf1 67.4%,#91ff65 78.3%,#ddff1a 80.4%,#ff6700 84.8%,#ff2800 95.7%,#29ffce 97.8%,#29ffce)"></i>
<i style="left:1758px;top:1326px;width:4px;height:48px;background:linear-gradient(#001fff,#006dff 30%,#24ffd3 45%,#a3ff53 60%,#efff08 65%,#ff8400 75%,#ff6400 90%,#29ffce 95%,#29ffce)"></i>
<i style="left:1762px;top:1224px;width:6px;height:150px;background:linear-gradient(#0000ba,#0013ff 37.7%,#0062ff 59%,#09f1ed 72.1%,#9aff5d 82%,#ffe500 85.2%,#ff8700 88.5%,#ff6200 96.7%,#29ffce 98.4%,#29ffce)"></i>
<i style="left:1768px;top:1237px;width:4px;height:137px;background:linear-gradient(#0000ba,#0014ff 36.4%,#0061ff 56.4%,#12fce4 70.9%,#8aff6d 80%,#f9f300 83.6%,#ff8800 87.3%,#ff6200 96.4%,#29ffce 98.2%,#29ffce)"></i>
<i style="left:1772px;top:1250px;width:6px;height:124px;background:linear-gradient(#0000ba,#0010ff 34%,#006bff 56%,#15ffe2 70%,#a3ff54 80%,#ffcf00 84%,#ff8c00 86%,#ff6300 96%,#29ffce 98%,#29ffce)"></i>
<i style="left:1778px;top:1217px;width:4px;height:157px;background:linear-gradient(#0000ba,#0016ff 39.7%,#0065ff 60.3%,#0af2ed 73%,#a0ff57 82.5%,#e3ff14 84.1%,#ff4c00 88.9%,#ff2700 96.8%,#29ffce 98.4%,#29ffce)"></i>
<i style="left:1782px;top:1237px;width:6px;height:137px;background:linear-gradient(#0000ba,#0014ff 36.4%,#0061ff 56.4%,#12fce4 70.9%,#8dff69 80%,#ffd100 83.6%,#ff4d00 87.3%,#ff2700 96.4%,#29ffce 98.2%,#29ffce)"></i>
<i style="left:1788px;top:1252px;width:4px;height:122px;background:linear-gradient(#0000ba,#0012ff 34.7%,#0063ff 55.1%,#0df6e9 69.4%,#96ff60 79.6%,#ffdb00 83.7%,#ff8400 87.8%,#ff6300 95.9%,#29ffce 98%,#29ffce)"></i>
<i style="left:1792px;top:1309px;width:6px;height:65px;background:linear-gradient(#001fff,#004bff 38.5%,#20ffd7 53.8%,#84ff72 65.4%,#ffd800 73.1%,#ff8b00 76.9%,#ff6300 92.3%,#29ffce 96.2%,#29ffce)"></i>
<i style="left:1798px;top:1268px;width:4px;height:106px;background:linear-gradient(#0000ba,#0014ff 32.6%,#0076ff 53.5%,#18ffde 67.4%,#85ff72 76.7%,#ffea00 81.4%,#ff8600 86%,#ff6300 95.3%,#29ffce 97.7%,#29ffce)"></i>
<i style="left:1802px;top:1249px;width:6px;height:125px;background:linear-gradient(#0000ba,#0010ff 34%,#006bff 56%,#15ffe2 70%,#a3ff54 80%,#ffcf00 84%,#ff8c00 86%,#ff6300 96%,#29ffce 98%,#29ffce)"></i>
<i style="left:1808px;top:1258px;width:4px;height:116px;background:linear-gradient(#0000ba,#0014ff 34%,#0074ff 55.3%,#0ef7e9 68.1%,#9bff5c 78.7%,#ffd700 83%,#ff9200 85.1%,#ff6300 95.7%,#29ffce 97.9%,#29ffce)"></i>
<i style="left:1812px;top:1322px;width:6px;height:52px;background:linear-gradient(#001fff,#0058ff 33.3%,#1cffdb 47.6%,#ffe700 71.4%,#ffa000 90.5%,#29ffce 95.2%,#29ffce)"></i>
<i style="left:1818px;top:1314px;width:4px;height:60px;background:linear-gradient(#001fff,#0065ff 41.7%,#22ffd5 54.2%,#ffe400 75%,#ffa000 91.7%,#29ffce 95.8%,#29ffce)"></i>
<i style="left:1822px;top:1252px;width:6px;height:122px;background:linear-gradient(#0000ba,#0012ff 34.7%,#0063ff 55.1%,#0ef6e9 69.4%,#beff39 81.6%,#ffcf00 85.7%,#ff9e00 95.9%,#29ffce 98%,#29ffce)"></i>
<i style="left:1828px;top:1285px;width:4px;height:89px;background:linear-gradient(#0000ba,#0011ff 27.8%,#0083ff 50%,#1dffda 63.9%,#ceff29 77.8%,#ffc300 83.3%,#ff9e00 94.4%,#29ffce 97.2%,#29ffce)"></i>
<i style="left:1832px;top:1320px;width:6px;height:54px;background:linear-gradient(#001fff,#004bff 31.8%,#0cf4eb 45.5%,#f4f903 77.3%,#ffda00 90.9%,#29ffce 95.5%,#29ffce)"></i>
<i style="left:1838px;top:1264px;width:4px;height:110px;background:linear-gradient(#0000ba,#0010ff 31.1%,#0075ff 53.3%,#10fae7 66.7%,#c5ff31 80%,#ffc700 84.4%,#ff9d00 95.6%,#29ffce 97.8%,#29ffce)"></i>
<i style="left:1842px;top:1291px;width:6px;height:83px;background:linear-gradient(#001fff,#004cff 50%,#07eef0 58.8%,#f0fd06 82.4%,#ffd800 94.1%,#29ffce 97.1%,#29ffce)"></i>
<i style="left:1848px;top:1248px;width:4px;height:126px;background:linear-gradient(#0000ba,#0014ff 35.3%,#0061ff 54.9%,#05ebf2 68.6%,#79ff7e 78.4%,#e8ff0e 82.4%,#ff8a00 86.3%,#ff6200 96.1%,#29ffce 98%,#29ffce)"></i>
<i style="left:1852px;top:1244px;width:6px;height:130px;background:linear-gradient(#0000ba,#0013ff 35.8%,#0063ff 56.6%,#04ebf2 69.8%,#a0ff57 81.1%,#f7f500 84.9%,#ffbe00 88.7%,#ff9e00 96.2%,#29ffce 98.1%,#29ffce)"></i>
<i style="left:1858px;top:1266px;width:4px;height:108px;background:linear-gradient(#0000ba,#0012ff 31.8%,#006bff 52.3%,#08efef 65.9%,#bcff3b 79.5%,#ffcf00 84.1%,#ff9d00 95.5%,#29ffce 97.7%,#29ffce)"></i>
<i style="left:1862px;top:1287px;width:6px;height:87px;background:linear-gradient(#0000ba,#0014ff 28.6%,#008fff 51.4%,#13fce4 62.9%,#f6f601 85.7%,#ffda00 94.3%,#29ffce 97.1%,#29ffce)"></i>
<i style="left:1868px;top:1245px;width:4px;height:129px;background:linear-gradient(#0000ba,#000fff 34.6%,#006dff 57.7%,#15ffe2 71.2%,#a0ff57 80.8%,#ffd300 84.6%,#ff9000 86.5%,#ff6300 96.2%,#29ffce 98.1%,#29ffce)"></i>
<i style="left:1872px;top:1324px;width:6px;height:50px;background:linear-gradient(#001fff,#006dff 30%,#24ffd3 45%,#d4ff23 65%,#ffbf00 75%,#ff9f00 90%,#29ffce 95%,#29ffce)"></i>
<i style="left:1878px;top:1234px;width:4px;height:140px;background:linear-gradient(#0000ba,#0014ff 37.5%,#006cff 58.9%,#0cf4eb 71.4%,#7cff7b 80.4%,#edff0a 83.9%,#ff8a00 87.5%,#ff6300 96.4%,#29ffce 98.2%,#29ffce)"></i>
<i style="left:1882px;top:1278px;width:6px;height:96px;background:linear-gradient(#0000ba,#0014ff 30.8%,#0077ff 51.3%,#08f0ef 64.1%,#f8f500 87.2%,#ffd900 94.9%,#29ffce 97.4%,#29ffce)"></i>
<i style="left:1888px;top:1269px;width:4px;height:105px;background:linear-gradient(#0000ba,#0016ff 33.3%,#006cff 52.4%,#10f9e7 66.7%,#a7ff50 78.6%,#ffe200 83.3%,#ff9e00 95.2%,#29ffce 97.6%,#29ffce)"></i>
<i style="left:1892px;top:1261px;width:6px;height:113px;background:linear-gradient(#0000ba,#0010ff 32.6%,#006cff 54.3%,#06edf1 67.4%,#b7ff3f 80.4%,#ffc000 87%,#ff9e00 95.7%,#29ffce 97.8%,#29ffce)"></i>
<i style="left:1898px;top:1223px;width:4px;height:151px;background:linear-gradient(#0000ba,#0013ff 37.7%,#0062ff 59%,#09f1ed 72.1%,#f7f600 90.2%,#ffd800 96.7%,#29ffce 98.4%,#29ffce)"></i>
<i style="left:1902px;top:1271px;width:6px;height:103px;background:linear-gradient(#0000ba,#0016ff 33.3%,#006cff 52.4%,#10f9e7 66.7%,#a7ff50 78.6%,#ffe200 83.3%,#ff9f00 95.2%,#29ffce 97.6%,#29ffce)"></i>
<i style="left:1908px;top:1216px;width:4px;height:158px;background:linear-gradient(#0000ba,#0014ff 39.1%,#006bff 60.9%,#10f9e7 73.4%,#f7f500 90.6%,#ffd800 96.9%,#29ffce 98.4%,#29ffce)"></i>
<i style="left:1912px;top:1309px;width:6px;height:65px;background:linear-gradient(#001fff,#004bff 38.5%,#20ffd7 53.8%,#f6f701 80.8%,#ffd900 92.3%,#29ffce 96.2%,#29ffce)"></i>
<i style="left:1918px;top:1254px;width:4px;height:120px;background:linear-gradient(#0000ba,#0014ff 35.4%,#006dff 56.2%,#06edf1 68.8%,#beff39 87.5%,#dcff1b 95.8%,#29ffce 97.9%,#29ffce)"></i>
<i style="left:1922px;top:1316px;width:6px;height:58px;background:linear-gradient(#001fff,#0065ff 41.7%,#22ffd5 54.2%,#ffe500 75%,#ffa000 91.7%,#29ffce 95.8%,#29ffce)"></i>
<i style="left:1928px;top:1279px;width:4px;height:95px;background:linear-gradient(#0000ba,#0014ff 30.8%,#0077ff 51.3%,#08f0ef 64.1%,#c4ff33 87.2%,#dcff1b 94.9%,#29ffce 97.4%,#29ffce)"></i>
<i style="left:1932px;top:1283px;width:6px;height:91px;background:linear-gradient(#0000ba,#0018ff 29.7%,#008eff 51.4%,#0cf4eb 62.2%,#f1fd06 83.8%,#ffd900 94.6%,#29ffce 97.3%,#29ffce)"></i>
<i style="left:1938px;top:1255px;width:4px;height:119px;background:linear-gradient(#0000ba,#0012ff 33.3%,#006aff 54.2%,#16ffe1 68.8%,#c8ff2f 89.6%,#ddff1a 95.8%,#29ffce 97.9%,#29ffce)"></i>
<i style="left:1942px;top:1335px;width:6px;height:39px;background:linear-gradient(#001fff,#005aff 18.8%,#00dffc 31.2%,#7cff7b 50%,#a7ff50 87.5%,#29ffce 93.8%,#29ffce)"></i>
<i style="left:1948px;top:1319px;width:4px;height:55px;background:linear-gradient(#001fff,#004aff 30.4%,#1effd9 47.8%,#f6f701 78.3%,#ffd900 91.3%,#29ffce 95.7%,#29ffce)"></i>
<i style="left:1952px;top:1334px;width:6px;height:40px;background:linear-gradient(#001fff,#004eff 17.6%,#18ffdf 35.3%,#7eff79 52.9%,#a9ff4e 88.2%,#29ffce 94.1%,#29ffce)"></i>
<i style="left:1958px;top:1304px;width:4px;height:70px;background:linear-gradient(#001fff,#0056ff 46.4%,#16ffe0 57.1%,#c0ff36 82.1%,#dbff1c 92.9%,#29ffce 96.4%,#29ffce)"></i>
<i style="left:1962px;top:1341px;width:6px;height:33px;background:linear-gradient(#001fff,#0080ff 21.4%,#2bffcc 35.7%,#efff08 64.3%,#ffdc00 85.7%,#29ffce 92.9%,#29ffce)"></i>
<i style="left:1968px;top:1327px;width:4px;height:47px;background:linear-gradient(#001fff,#004aff 26.3%,#0ff8e8 42.1%,#bdff3a 73.7%,#daff1d 89.5%,#29ffce 94.7%,#29ffce)"></i>
<i style="left:1972px;top:1299px;width:6px;height:75px;background:linear-gradient(#001fff,#0067ff 51.6%,#1dffda 61.3%,#7fff78 74.2%,#a7ff4f 93.5%,#29ffce 96.8%,#29ffce)"></i>
<i style="left:1978px;top:1305px;width:4px;height:69px;background:linear-gradient(#001fff,#0056ff 46.4%,#16ffe0 57.1%,#7eff79 71.4%,#a8ff4f 92.9%,#29ffce 96.4%,#29ffce)"></i>
<i style="left:1982px;top:1328px;width:6px;height:46px;background:linear-gradient(#001fff,#004aff 26.3%,#0ff8e8 42.1%,#7fff77 63.2%,#a7ff50 89.5%,#29ffce 94.7%,#29ffce)"></i>
<i style="left:1988px;top:1349px;width:4px;height:25px;background:linear-gradient(#001fff,#00bbff 27.3%,#38ffbf 36.4%,#7dff79 45.5%,#a6ff51 81.8%,#29ffce 90.9%,#29ffce)"></i>
<i style="left:1992px;top:1339px;width:6px;height:35px;background:linear-gradient(#001fff,#0080ff 21.4%,#00c6ff 28.6%,#2cffcb 35.7%,#72ff85 42.9%,#69ff8e 78.6%,#73ff83 85.7%,#29ffce 92.9%,#29ffce)"></i>
<i style="left:1998px;top:1328px;width:4px;height:46px;background:linear-gradient(#001fff,#004aff 26.3%,#0ff8e8 42.1%,#7aff7d 57.9%,#60ff97 78.9%,#73ff84 89.5%,#29ffce 94.7%,#29ffce)"></i>
<i style="left:2002px;top:1336px;width:6px;height:38px;background:linear-gradient(#001fff,#005aff 18.8%,#00dffc 31.2%,#78ff7f 50%,#23ffd4 68.8%,#29ffce 93.8%,#29ffce)"></i>
<i style="left:332px;top:1811px;width:6px;height:27px;background:#de0000"></i>
<i style="left:338px;top:1812px;width:4px;height:26px;background:#ff3838"></i>
<i style="left:342px;top:1811px;width:6px;height:27px;background:#ff3838"></i>
<i style="left:348px;top:1814px;width:4px;height:24px;background:#ff3838"></i>
<i style="left:352px;top:1812px;width:6px;height:26px;background:#ff3838"></i>
<i style="left:358px;top:1811px;width:4px;height:27px;background:#ff0f0f"></i>
<i style="left:362px;top:1818px;width:6px;height:20px;background:#ff0f0f"></i>
<i style="left:368px;top:1810px;width:4px;height:28px;background:#f20000"></i>
<i style="left:372px;top:1820px;width:6px;height:18px;background:#ff0f0f"></i>
<i style="left:378px;top:1809px;width:4px;height:29px;background:#ff3838"></i>
<i style="left:382px;top:1808px;width:6px;height:30px;background:#f20000"></i>
<i style="left:388px;top:1812px;width:4px;height:26px;background:#ff3838"></i>
<i style="left:392px;top:1802px;width:6px;height:36px;background:#ff3838"></i>
<i style="left:398px;top:1809px;width:4px;height:29px;background:#de0000"></i>
<i style="left:402px;top:1806px;width:6px;height:32px;background:#f20000"></i>
<i style="left:408px;top:1800px;width:4px;height:38px;background:#ff0f0f"></i>
<i style="left:412px;top:1796px;width:6px;height:42px;background:#ff3838"></i>
<i style="left:418px;top:1806px;width:4px;height:32px;background:#ff0f0f"></i>
<i style="left:422px;top:1794px;width:6px;height:44px;background:#de0000"></i>
<i style="left:428px;top:1794px;width:4px;height:44px;background:#de0000"></i>
<i style="left:432px;top:1802px;width:6px;height:36px;background:#ff3838"></i>
<i style="left:438px;top:1810px;width:4px;height:28px;background:#f20000"></i>
<i style="left:442px;top:1809px;width:6px;height:29px;background:#ff0f0f"></i>
<i style="left:448px;top:1793px;width:4px;height:45px;background:#de0000"></i>
<i style="left:452px;top:1791px;width:6px;height:47px;background:#de0000"></i>
<i style="left:458px;top:1786px;width:4px;height:52px;background:#f20000"></i>
<i style="left:462px;top:1781px;width:6px;height:57px;background:#f20000"></i>
<i style="left:468px;top:1801px;width:4px;height:37px;background:#f20000"></i>
<i style="left:472px;top:1782px;width:6px;height:56px;background:#ff0f0f"></i>
<i style="left:478px;top:1787px;width:4px;height:51px;background:#ff0f0f"></i>
<i style="left:482px;top:1787px;width:6px;height:51px;background:#ff0f0f"></i>
<i style="left:488px;top:1800px;width:4px;height:38px;background:#ff3838"></i>
<i style="left:492px;top:1794px;width:6px;height:44px;background:#de0000"></i>
<i style="left:498px;top:1793px;width:4px;height:45px;background:#f20000"></i>
<i style="left:502px;top:1788px;width:6px;height:50px;background:#ff3838"></i>
<i style="left:508px;top:1796px;width:4px;height:42px;background:#ff3838"></i>
<i style="left:512px;top:1779px;width:6px;height:59px;background:#ff3838"></i>
<i style="left:518px;top:1781px;width:4px;height:57px;background:#ff0f0f"></i>
<i style="left:522px;top:1794px;width:6px;height:44px;background:#f20000"></i>
<i style="left:528px;top:1800px;width:4px;height:38px;background:#de0000"></i>
<i style="left:532px;top:1799px;width:6px;height:39px;background:#ff3838"></i>
<i style="left:538px;top:1785px;width:4px;height:53px;background:#de0000"></i>
<i style="left:542px;top:1790px;width:6px;height:48px;background:#ff3838"></i>
<i style="left:548px;top:1787px;width:4px;height:51px;background:#ff0f0f"></i>
<i style="left:552px;top:1794px;width:6px;height:44px;background:#f20000"></i>
<i style="left:558px;top:1790px;width:4px;height:48px;background:#ff3838"></i>
<i style="left:562px;top:1781px;width:6px;height:57px;background:#de0000"></i>
<i style="left:568px;top:1784px;width:4px;height:54px;background:linear-gradient(#7a7aff,#c0c0ff 4.5%,#ffc7c7 9.1%,#ff3737 13.6%,#ff0f0f 22.7%,#ff0f0f)"></i>
<i style="left:572px;top:1796px;width:6px;height:42px;background:#de0000"></i>
<i style="left:578px;top:1787px;width:4px;height:51px;background:#ff0f0f"></i>
<i style="left:582px;top:1791px;width:6px;height:47px;background:#de0000"></i>
<i style="left:588px;top:1792px;width:4px;height:46px;background:#f20000"></i>
<i style="left:592px;top:1785px;width:6px;height:53px;background:#ff0f0f"></i>
<i style="left:598px;top:1789px;width:4px;height:49px;background:#ff3838"></i>
<i style="left:602px;top:1788px;width:6px;height:50px;background:#ff3838"></i>
<i style="left:608px;top:1791px;width:4px;height:47px;background:#ff0f0f"></i>
<i style="left:612px;top:1793px;width:6px;height:45px;background:#f20000"></i>
<i style="left:618px;top:1803px;width:4px;height:35px;background:#ff0f0f"></i>
<i style="left:622px;top:1794px;width:6px;height:44px;background:#ff3838"></i>
<i style="left:628px;top:1789px;width:4px;height:49px;background:#f20000"></i>
<i style="left:632px;top:1779px;width:6px;height:59px;background:#f20000"></i>
<i style="left:638px;top:1789px;width:4px;height:49px;background:#f20000"></i>
<i style="left:642px;top:1786px;width:6px;height:52px;background:#de0000"></i>
<i style="left:648px;top:1803px;width:4px;height:35px;background:#ff0f0f"></i>
<i style="left:652px;top:1785px;width:6px;height:53px;background:linear-gradient(#7a7aff,#c0c0ff 4.5%,#ffc7c7 9.1%,#ff3737 13.6%,#f20000 18.2%,#f20000)"></i>
<i style="left:658px;top:1801px;width:4px;height:37px;background:#f20000"></i>
<i style="left:662px;top:1775px;width:6px;height:63px;background:linear-gradient(#7a7aff,#bebeff 3.8%,#ffd0d0 7.7%,#ff4444 11.5%,#f20000 15.4%,#f20000)"></i>
<i style="left:668px;top:1781px;width:4px;height:57px;background:#f20000"></i>
<i style="left:672px;top:1784px;width:6px;height:54px;background:linear-gradient(#7a7aff,#c0c0ff 4.5%,#ffc7c7 9.1%,#ff3737 13.6%,#de0000 18.2%,#de0000)"></i>
<i style="left:678px;top:1792px;width:4px;height:46px;background:#ff3838"></i>
<i style="left:682px;top:1787px;width:6px;height:51px;background:#ff0f0f"></i>
<i style="left:688px;top:1794px;width:4px;height:44px;background:#ff3838"></i>
<i style="left:692px;top:1807px;width:6px;height:31px;background:#ff0f0f"></i>
<i style="left:698px;top:1790px;width:4px;height:48px;background:#f20000"></i>
<i style="left:702px;top:1789px;width:6px;height:49px;background:#f20000"></i>
<i style="left:708px;top:1795px;width:4px;height:43px;background:#f20000"></i>
<i style="left:712px;top:1792px;width:6px;height:46px;background:#ff0f0f"></i>
<i style="left:718px;top:1784px;width:4px;height:54px;background:linear-gradient(#7a7aff,#c0c0ff 4.5%,#ffc7c7 9.1%,#ff3737 13.6%,#de0000 18.2%,#de0000)"></i>
<i style="left:722px;top:1780px;width:6px;height:58px;background:#ff3838"></i>
<i style="left:728px;top:1781px;width:4px;height:57px;background:#de0000"></i>
<i style="left:802px;top:1814px;width:6px;height:24px;background:#ff3838"></i>
<i style="left:808px;top:1807px;width:4px;height:31px;background:#de0000"></i>
<i style="left:812px;top:1809px;width:6px;height:29px;background:#ff3838"></i>
<i style="left:818px;top:1806px;width:4px;height:32px;background:#ff0f0f"></i>
<i style="left:822px;top:1797px;width:6px;height:41px;background:#ff3838"></i>
<i style="left:828px;top:1812px;width:4px;height:26px;background:#f20000"></i>
<i style="left:832px;top:1797px;width:6px;height:41px;background:#f20000"></i>
<i style="left:838px;top:1803px;width:4px;height:35px;background:#ff0f0f"></i>
<i style="left:842px;top:1802px;width:6px;height:36px;background:#f20000"></i>
<i style="left:848px;top:1806px;width:4px;height:32px;background:#ff0f0f"></i>
<i style="left:852px;top:1800px;width:6px;height:38px;background:#ff0f0f"></i>
<i style="left:858px;top:1805px;width:4px;height:33px;background:#f20000"></i>
<i style="left:862px;top:1807px;width:6px;height:31px;background:#ff0f0f"></i>
<i style="left:868px;top:1804px;width:4px;height:34px;background:#ff3838"></i>
<i style="left:872px;top:1794px;width:6px;height:44px;background:#f20000"></i>
<i style="left:878px;top:1800px;width:4px;height:38px;background:#ff0f0f"></i>
<i style="left:882px;top:1801px;width:6px;height:37px;background:#ff3838"></i>
<i style="left:888px;top:1796px;width:4px;height:42px;background:#ff3838"></i>
<i style="left:892px;top:1800px;width:6px;height:38px;background:#de0000"></i>
<i style="left:898px;top:1809px;width:4px;height:29px;background:#ff3838"></i>
<i style="left:902px;top:1805px;width:6px;height:33px;background:#ff0f0f"></i>
<i style="left:908px;top:1802px;width:4px;height:36px;background:#ff0f0f"></i>
<i style="left:912px;top:1801px;width:6px;height:37px;background:#f20000"></i>
<i style="left:918px;top:1803px;width:4px;height:35px;background:#f20000"></i>
<i style="left:922px;top:1803px;width:6px;height:35px;background:#de0000"></i>
<i style="left:928px;top:1796px;width:4px;height:42px;background:#ff3838"></i>
<i style="left:932px;top:1796px;width:6px;height:42px;background:#f20000"></i>
<i style="left:938px;top:1799px;width:4px;height:39px;background:#f20000"></i>
<i style="left:942px;top:1790px;width:6px;height:48px;background:#de0000"></i>
<i style="left:948px;top:1798px;width:4px;height:40px;background:#de0000"></i>
<i style="left:952px;top:1792px;width:6px;height:46px;background:#ff0f0f"></i>
<i style="left:958px;top:1791px;width:4px;height:47px;background:#ff3838"></i>
<i style="left:962px;top:1798px;width:6px;height:40px;background:#de0000"></i>
<i style="left:968px;top:1794px;width:4px;height:44px;background:#ff0f0f"></i>
<i style="left:972px;top:1800px;width:6px;height:38px;background:#f20000"></i>
<i style="left:978px;top:1788px;width:4px;height:50px;background:#ff0f0f"></i>
<i style="left:982px;top:1803px;width:6px;height:35px;background:#f20000"></i>
<i style="left:988px;top:1783px;width:4px;height:55px;background:linear-gradient(#7a7aff,#ffd4d4 8.7%,#ff4a4a 13%,#df0000 17.4%,#ff3838 21.7%,#ff3838)"></i>
<i style="left:992px;top:1795px;width:6px;height:43px;background:#ff3838"></i>
<i style="left:998px;top:1801px;width:4px;height:37px;background:#ff3838"></i>
<i style="left:1002px;top:1799px;width:6px;height:39px;background:#de0000"></i>
<i style="left:1008px;top:1809px;width:4px;height:29px;background:#ff3838"></i>
<i style="left:1012px;top:1779px;width:6px;height:59px;background:#de0000"></i>
<i style="left:1018px;top:1779px;width:4px;height:59px;background:linear-gradient(#7a7aff,#ffdfdf 8.3%,#ea0000 16.7%,#f20000)"></i>
<i style="left:1022px;top:1784px;width:6px;height:54px;background:linear-gradient(#0a0aff,#dbdbff 13.6%,#ff9090 18.2%,#ff0000 22.7%,#f20000)"></i>
<i style="left:1028px;top:1791px;width:4px;height:47px;background:#de0000"></i>
<i style="left:1032px;top:1762px;width:6px;height:76px;background:linear-gradient(#0000b0,#0000fa 16.1%,#0a0aff 22.6%,#c8c8ff 32.3%,#ffc1c1 35.5%,#ff3d3d 38.7%,#f20000 41.9%,#f20000)"></i>
<i style="left:1038px;top:1813px;width:4px;height:25px;background:#ff3838"></i>
<i style="left:1042px;top:1801px;width:6px;height:37px;background:#ff3838"></i>
<i style="left:1048px;top:1789px;width:4px;height:49px;background:linear-gradient(#7a7aff,#ffd8d8 10%,#ff5151 15%,#e30000 20%,#ff0f0f 45%,#ff0f0f)"></i>
<i style="left:1052px;top:1782px;width:6px;height:56px;background:linear-gradient(#7a7aff,#ffd4d4 8.7%,#ff4949 13%,#df0000 17.4%,#f20000)"></i>
<i style="left:1058px;top:1760px;width:4px;height:78px;background:linear-gradient(#0000b0,#0303ff 25%,#0a0aff 28.1%,#c0c0ff 37.5%,#ffd6d6 40.6%,#e90000 46.9%,#f20000)"></i>
<i style="left:1062px;top:1779px;width:6px;height:59px;background:linear-gradient(#0000f1,#1a1aff 8.3%,#d9d9ff 20.8%,#ff9e9e 25%,#ff1a1a 29.2%,#de0000 41.7%,#de0000)"></i>
<i style="left:1068px;top:1766px;width:4px;height:72px;background:linear-gradient(#0000b0,#0101ff 24.1%,#0808ff 27.6%,#c8c8ff 37.9%,#ffbaba 41.4%,#ff2c2c 44.8%,#ff0f0f 62.1%,#ff0f0f)"></i>
<i style="left:1072px;top:1797px;width:6px;height:41px;background:#ff0f0f"></i>
<i style="left:1078px;top:1800px;width:4px;height:38px;background:#f20000"></i>
<i style="left:1082px;top:1777px;width:6px;height:61px;background:linear-gradient(#0000b0,#0000f6 16%,#0606ff 24%,#c0c0ff 36%,#ffc5c5 40%,#ff3333 44%,#ff3838)"></i>
<i style="left:1088px;top:1761px;width:4px;height:77px;background:linear-gradient(#0000b0,#0909ff 38.7%,#ffe5e5 51.6%,#ec0000 58.1%,#ff0f0f)"></i>
<i style="left:1092px;top:1788px;width:6px;height:50px;background:linear-gradient(#0000f1,#1717ff 9.5%,#d1d1ff 23.8%,#ffb2b2 28.6%,#ff3131 33.3%,#de0000 38.1%,#de0000)"></i>
<i style="left:1098px;top:1770px;width:4px;height:68px;background:linear-gradient(#0000b0,#0303ff 28.6%,#0e0eff 32.1%,#cacaff 42.9%,#ffc0c0 46.4%,#ff3e3e 50%,#dd0000 53.6%,#f20000)"></i>
<i style="left:1102px;top:1776px;width:6px;height:62px;background:linear-gradient(#0000b0,#0000f6 16%,#0606ff 24%,#c0c0ff 36%,#ffc5c5 40%,#ff3333 44%,#f20000 48%,#f20000)"></i>
<i style="left:1108px;top:1747px;width:4px;height:91px;background:linear-gradient(#0000b0,#1717ff 51.4%,#dcdcff 59.5%,#ff9595 62.2%,#ff0d0d 64.9%,#ff3838 70.3%,#ff3838)"></i>
<i style="left:1112px;top:1758px;width:6px;height:80px;background:linear-gradient(#0000b0,#1717ff 51.5%,#dfdfff 60.6%,#ff8c8c 63.6%,#ff0101 66.7%,#ff0f0f)"></i>
<i style="left:1118px;top:1779px;width:4px;height:59px;background:linear-gradient(#0000b0,#0000fa 20.8%,#0a0aff 29.2%,#c8c8ff 41.7%,#ffc2c2 45.8%,#ff3e3e 50%,#db0000 54.2%,#de0000)"></i>
<i style="left:1122px;top:1761px;width:6px;height:77px;background:linear-gradient(#0000b0,#0606ff 37.5%,#5c5cff 43.8%,#d8d8ff 50%,#ffa6a6 53.1%,#ff2525 56.2%,#de0000 62.5%,#de0000)"></i>
<i style="left:1128px;top:1767px;width:4px;height:71px;background:linear-gradient(#0000b0,#1818ff 51.7%,#e4e4ff 62.1%,#f70000 69%,#ff0f0f)"></i>
<i style="left:1132px;top:1794px;width:6px;height:44px;background:linear-gradient(#0000b1,#0000f0 5.6%,#0505ff 16.7%,#b8b8ff 33.3%,#ffdfdf 38.9%,#ff5555 44.4%,#e40000 50%,#f20000)"></i>
<i style="left:1138px;top:1771px;width:4px;height:67px;background:linear-gradient(#0000b0,#0101ff 33.3%,#3434ff 40.7%,#ffe4e4 51.9%,#ea0000 59.3%,#de0000)"></i>
<i style="left:1142px;top:1758px;width:6px;height:80px;background:linear-gradient(#0000b0,#0a0aff 60.6%,#c7c7ff 69.7%,#ffbebe 72.7%,#ff3333 75.8%,#ff0f0f 81.8%,#ff0f0f)"></i>
<i style="left:1148px;top:1734px;width:4px;height:104px;background:linear-gradient(#0000b0,#0a0aff 61.9%,#c9c9ff 69%,#ffb7b7 71.4%,#ff2929 73.8%,#f20000 78.6%,#f20000)"></i>
<i style="left:1152px;top:1731px;width:6px;height:107px;background:linear-gradient(#0000b0,#0909ff 65.1%,#b1b1ff 72.1%,#ffecec 74.4%,#ea0000 79.1%,#ff3838 81.4%,#ff3838)"></i>
<i style="left:1158px;top:1741px;width:4px;height:97px;background:linear-gradient(#0000b0,#1b1bff 64.1%,#e7e7ff 71.8%,#f50000 76.9%,#de0000)"></i>
<i style="left:1162px;top:1741px;width:6px;height:97px;background:linear-gradient(#0000b0,#0a0aff 59%,#cfcfff 66.7%,#ffaaaa 69.2%,#ff1d1d 71.8%,#f20000 82.1%,#f20000)"></i>
<i style="left:1168px;top:1784px;width:4px;height:54px;background:linear-gradient(#0000b0,#0000f6 18.2%,#0606ff 27.3%,#bbbbff 40.9%,#ffd2d2 45.5%,#ff4141 50%,#f20000 54.5%,#f20000)"></i>
<i style="left:1172px;top:1734px;width:6px;height:104px;background:linear-gradient(#0000b0,#0909ff 69%,#b6b6ff 76.2%,#ffdede 78.6%,#ff5050 81%,#e00000 83.3%,#de0000)"></i>
<i style="left:1178px;top:1731px;width:4px;height:107px;background:linear-gradient(#0000b0,#0909ff 65.1%,#b1b1ff 72.1%,#ffecec 74.4%,#ea0000 79.1%,#de0000)"></i>
<i style="left:1182px;top:1766px;width:6px;height:72px;background:linear-gradient(#0000b0,#0707ff 43.3%,#6666ff 50%,#eaeaff 56.7%,#f60000 63.3%,#de0000)"></i>
<i style="left:1188px;top:1764px;width:4px;height:74px;background:linear-gradient(#0000b0,#0909ff 50%,#bcbcff 60%,#ffd6d6 63.3%,#ff4d4d 66.7%,#e10000 70%,#ff0f0f 83.3%,#ff0f0f)"></i>
<i style="left:1192px;top:1799px;width:6px;height:39px;background:linear-gradient(#0000f1,#2121ff 12.5%,#fffcfc 31.2%,#f10000 43.8%,#f20000)"></i>
<i style="left:1198px;top:1764px;width:4px;height:74px;background:linear-gradient(#0000b0,#0a0aff 56.7%,#d0d0ff 66.7%,#ffadad 70%,#ff2424 73.3%,#ff3838)"></i>
<i style="left:1202px;top:1739px;width:6px;height:99px;background:linear-gradient(#0000b0,#0909ff 62.5%,#b8b8ff 70%,#ffdede 72.5%,#ff5454 75%,#e40000 77.5%,#f20000)"></i>
<i style="left:1208px;top:1792px;width:4px;height:46px;background:linear-gradient(#0000b0,#0000f5 15.8%,#0707ff 26.3%,#fff4f4 47.4%,#f60000 57.9%,#ff3838 63.2%,#ff3838)"></i>
<i style="left:1212px;top:1754px;width:6px;height:84px;background:linear-gradient(#0000b0,#1a1aff 61.8%,#dcdcff 70.6%,#ff9696 73.5%,#ff1010 76.5%,#de0000 85.3%,#de0000)"></i>
<i style="left:1218px;top:1767px;width:4px;height:71px;background:linear-gradient(#0000b0,#1717ff 51.7%,#e4e4ff 62.1%,#f80000 69%,#ff3838 72.4%,#ff3838)"></i>
<i style="left:1222px;top:1721px;width:6px;height:117px;background:linear-gradient(#0000b0,#0a0aff 72.3%,#d0d0ff 78.7%,#ffadad 80.9%,#ff2424 83%,#f20000 87.2%,#f20000)"></i>
<i style="left:1228px;top:1795px;width:4px;height:43px;background:linear-gradient(#0000b0,#0000fb 27.8%,#1919ff 38.9%,#e0e0ff 55.6%,#ff8b8b 61.1%,#ff0101 66.7%,#ff3838 72.2%,#ff3838)"></i>
<i style="left:1232px;top:1775px;width:6px;height:63px;background:linear-gradient(#0000b0,#0c0cff 57.7%,#d7d7ff 69.2%,#ff9c9c 73.1%,#ff1010 76.9%,#de0000 88.5%,#de0000)"></i>
<i style="left:1238px;top:1792px;width:4px;height:46px;background:linear-gradient(#0000b0,#0000f5 15.8%,#0707ff 26.3%,#fff4f4 47.4%,#f60000 57.9%,#de0000)"></i>
<i style="left:1242px;top:1771px;width:6px;height:67px;background:linear-gradient(#0000b0,#0909ff 50%,#fff0f0 64.3%,#f50000 71.4%,#f20000)"></i>
<i style="left:1248px;top:1739px;width:4px;height:99px;background:linear-gradient(#0000b0,#0a0aff 67.5%,#cdcdff 75%,#ffb3b3 77.5%,#ff2929 80%,#ff0f0f)"></i>
<i style="left:1252px;top:1762px;width:6px;height:76px;background:linear-gradient(#0000b0,#0909ff 61.3%,#ffe8e8 74.2%,#ee0000 80.6%,#ff3838 83.9%,#ff3838)"></i>
<i style="left:1258px;top:1751px;width:4px;height:87px;background:linear-gradient(#0000b0,#0a0aff 65.7%,#bebeff 74.3%,#ffd8d8 77.1%,#ff5555 80%,#e80000 82.9%,#ff0f0f)"></i>
<i style="left:1262px;top:1774px;width:6px;height:64px;background:linear-gradient(#0000b0,#0c0cff 57.7%,#d7d7ff 69.2%,#ff9c9c 73.1%,#ff1010 76.9%,#de0000 88.5%,#de0000)"></i>
<i style="left:1268px;top:1760px;width:4px;height:78px;background:linear-gradient(#0000b0,#0f0fff 62.5%,#c8c8ff 71.9%,#ffc5c5 75%,#ff4545 78.1%,#e10000 81.2%,#de0000)"></i>
<i style="left:1272px;top:1746px;width:6px;height:92px;background:linear-gradient(#0000b0,#0a0aff 73.7%,#c5c5ff 81.6%,#ffc9c9 84.2%,#ff4444 86.8%,#df0000 89.5%,#ff0f0f 97.4%,#ff0f0f)"></i>
<i style="left:1278px;top:1774px;width:4px;height:64px;background:linear-gradient(#0000b0,#0c0cff 57.7%,#d7d7ff 69.2%,#ff9c9c 73.1%,#ff1010 76.9%,#ff0f0f)"></i>
<i style="left:1282px;top:1764px;width:6px;height:74px;background:linear-gradient(#0000b0,#0707ff 60%,#6060ff 66.7%,#e4e4ff 73.3%,#fd0000 80%,#ff3838 83.3%,#ff3838)"></i>
<i style="left:1288px;top:1758px;width:4px;height:80px;background:linear-gradient(#0000b0,#1414ff 66.7%,#dcdcff 75.8%,#ff9292 78.8%,#ff0707 81.8%,#f20000)"></i>
<i style="left:1292px;top:1775px;width:6px;height:63px;background:linear-gradient(#0000b0,#0c0cff 57.7%,#d6d6ff 69.2%,#ff9d9d 73.1%,#ff1111 76.9%,#ff3838 84.6%,#ff3838)"></i>
<i style="left:1298px;top:1786px;width:4px;height:52px;background:linear-gradient(#0000b0,#0202ff 45.5%,#3333ff 54.5%,#e6e6ff 68.2%,#ff1212 77.3%,#de0000 90.9%,#de0000)"></i>
<i style="left:1302px;top:1804px;width:6px;height:34px;background:linear-gradient(#0000b0,#0000f0 14.3%,#1313ff 35.7%,#e3e3ff 57.1%,#f70000 71.4%,#de0000)"></i>
<i style="left:1308px;top:1733px;width:4px;height:105px;background:linear-gradient(#0000b0,#1313ff 74.4%,#dcdcff 81.4%,#ff9393 83.7%,#ff0808 86%,#ff3838 88.4%,#ff3838)"></i>
<i style="left:1312px;top:1768px;width:6px;height:70px;background:linear-gradient(#0000b0,#0707ff 65.5%,#1c1cff 69%,#e8e8ff 79.3%,#f30000 86.2%,#f20000)"></i>
<i style="left:1318px;top:1776px;width:4px;height:62px;background:linear-gradient(#0000b0,#0808ff 68%,#6c6cff 76%,#ffe2e2 84%,#ff5050 88%,#de0000 92%,#f20000)"></i>
<i style="left:1322px;top:1738px;width:6px;height:100px;background:linear-gradient(#0000b0,#0a0aff 75.6%,#bfbfff 82.9%,#ffd4d4 85.4%,#ff4d4d 87.8%,#e20000 90.2%,#f20000)"></i>
<i style="left:1328px;top:1775px;width:4px;height:63px;background:linear-gradient(#0000b0,#0707ff 61.5%,#6666ff 69.2%,#fffafa 76.9%,#f00000 84.6%,#ff0f0f)"></i>
<i style="left:1332px;top:1717px;width:6px;height:121px;background:linear-gradient(#0000b0,#0c0cff 79.6%,#cacaff 85.7%,#ffc0c0 87.8%,#ff3c3c 89.8%,#db0000 91.8%,#de0000)"></i>
<i style="left:1338px;top:1791px;width:4px;height:47px;background:linear-gradient(#0000b0,#0000fb 25%,#1212ff 35%,#d6d6ff 50%,#ffa2a2 55%,#ff1a1a 60%,#ff3838 80%,#ff3838)"></i>
<i style="left:1342px;top:1727px;width:6px;height:111px;background:linear-gradient(#0000b0,#1515ff 82.2%,#d5d5ff 88.9%,#ffa8a8 91.1%,#ff2323 93.3%,#f20000 97.8%,#f20000)"></i>
<i style="left:1348px;top:1720px;width:4px;height:118px;background:linear-gradient(#0000b0,#0a0aff 79.2%,#c0c0ff 85.4%,#ffd2d2 87.5%,#ff4b4b 89.6%,#e10000 91.7%,#de0000)"></i>
<i style="left:1352px;top:1725px;width:6px;height:113px;background:linear-gradient(#0000b0,#0909ff 78.3%,#6767ff 82.6%,#fff8f8 87%,#ef0000 91.3%,#f20000)"></i>
<i style="left:1358px;top:1736px;width:4px;height:102px;background:linear-gradient(#0000b0,#0a0aff 75.6%,#bfbfff 82.9%,#ffd2d2 85.4%,#ff4c4c 87.8%,#e20000 90.2%,#de0000)"></i>
<i style="left:1362px;top:1789px;width:6px;height:49px;background:linear-gradient(#0000b0,#0202ff 45%,#3838ff 55%,#bbbbff 65%,#ffdbdb 70%,#ff5353 75%,#e50000 80%,#ff0f0f)"></i>
<i style="left:1368px;top:1751px;width:4px;height:87px;background:linear-gradient(#0000b0,#0808ff 72.2%,#6767ff 77.8%,#fff9f9 83.3%,#ef0000 88.9%,#de0000)"></i>
<i style="left:1372px;top:1745px;width:6px;height:93px;background:linear-gradient(#0000b0,#0a0aff 73.7%,#c5c5ff 81.6%,#ffc8c8 84.2%,#ff4444 86.8%,#de0000 89.5%,#ff3838 92.1%,#ff3838)"></i>
<i style="left:1378px;top:1691px;width:4px;height:147px;background:linear-gradient(#0000b0,#0909ff 83.1%,#6565ff 86.4%,#fffcfc 89.8%,#f00000 93.2%,#de0000)"></i>
<i style="left:1382px;top:1757px;width:6px;height:81px;background:linear-gradient(#0000b0,#0808ff 69.7%,#afafff 78.8%,#ffefef 81.8%,#ec0000 87.9%,#ff0f0f)"></i>
<i style="left:1388px;top:1753px;width:4px;height:85px;background:linear-gradient(#0000b0,#0f0fff 71.4%,#ccccff 80%,#ffbcbc 82.9%,#ff3939 85.7%,#de0000 88.6%,#de0000)"></i>
<i style="left:1392px;top:1781px;width:6px;height:57px;background:linear-gradient(#0000b0,#0909ff 65.2%,#c6c6ff 78.3%,#ffc0c0 82.6%,#ff3636 87%,#f20000 91.3%,#f20000)"></i>
<i style="left:1398px;top:1723px;width:4px;height:115px;background:linear-gradient(#0000b0,#0a0aff 83%,#c9c9ff 89.4%,#ffbbbb 91.5%,#ff3232 93.6%,#de0000 95.7%,#de0000)"></i>
<i style="left:1402px;top:1752px;width:6px;height:86px;background:linear-gradient(#0000b0,#0808ff 74.3%,#5c5cff 80%,#dadaff 85.7%,#ff9f9f 88.6%,#ff1c1c 91.4%,#de0000)"></i>
<i style="left:1408px;top:1722px;width:4px;height:116px;background:linear-gradient(#0000b0,#0a0aff 83%,#c9c9ff 89.4%,#ffbbbb 91.5%,#ff3232 93.6%,#de0000 95.7%,#de0000)"></i>
<i style="left:1412px;top:1686px;width:6px;height:152px;background:linear-gradient(#0000b0,#0a0aff 86.9%,#ccccff 91.8%,#ffb7b7 93.4%,#ff2e2e 95.1%,#f20000 96.7%,#f20000)"></i>
<i style="left:1418px;top:1778px;width:4px;height:60px;background:linear-gradient(#0000b0,#0707ff 56%,#5e5eff 64%,#d8d8ff 72%,#ffa6a6 76%,#ff2626 80%,#de0000 88%,#de0000)"></i>
<i style="left:1422px;top:1799px;width:6px;height:39px;background:linear-gradient(#0000b0,#0000ff 43.8%,#3939ff 56.2%,#c0c0ff 68.8%,#ffcaca 75%,#ff3e3e 81.2%,#ff3838)"></i>
<i style="left:1428px;top:1774px;width:4px;height:64px;background:linear-gradient(#0000b0,#0909ff 69.2%,#c1c1ff 80.8%,#ffc9c9 84.6%,#ff3d3d 88.5%,#ff3838)"></i>
<i style="left:1432px;top:1711px;width:6px;height:127px;background:linear-gradient(#0000b0,#0a0aff 80.8%,#c5c5ff 86.5%,#ffc9c9 88.5%,#ff4444 90.4%,#df0000 92.3%,#de0000)"></i>
<i style="left:1438px;top:1794px;width:4px;height:44px;background:linear-gradient(#0000b0,#0505ff 61.1%,#1515ff 66.7%,#dcdcff 83.3%,#ff9494 88.9%,#ff0b0b 94.4%,#de0000)"></i>
<i style="left:1442px;top:1715px;width:6px;height:123px;background:linear-gradient(#0000b0,#1313ff 88%,#dbdbff 94%,#ff9595 96%,#ff0b0b 98%,#f20000)"></i>
<i style="left:1448px;top:1667px;width:4px;height:171px;background:linear-gradient(#000070,#0000e9 92.8%,#ffeded 98.6%,#ff6767)"></i>
<i style="left:1452px;top:1637px;width:6px;height:201px;background:linear-gradient(#000070,#0000e8 91.4%,#5959ff 93.8%,#ddddff 96.3%,#ff9292 97.5%,#ff0909 98.8%,#ff0f0f)"></i>
<i style="left:1458px;top:1689px;width:4px;height:149px;background:linear-gradient(#000070,#0000e8 91.7%,#adadff 96.7%,#fff4f4 98.3%,#ff6969)"></i>
<i style="left:1462px;top:1616px;width:6px;height:222px;background:linear-gradient(#000070,#0000e8 92.1%,#5e5eff 94.4%,#e1e1ff 96.6%,#ff8d8d 97.8%,#ff0505 98.9%,#ff0f0f)"></i>
<i style="left:1468px;top:1583px;width:4px;height:255px;background:linear-gradient(#000070,#0000e8 93.2%,#5f5fff 95.1%,#e1e1ff 97.1%,#ff8c8c 98.1%,#ff0505 99%,#ff3838)"></i>
<i style="left:1472px;top:1667px;width:6px;height:171px;background:linear-gradient(#000070,#0000e8 89.9%,#a2a2ff 94.2%,#e3e3ff 95.7%,#ff0303 98.6%,#ff0f0f)"></i>
<i style="left:1478px;top:1689px;width:4px;height:149px;background:linear-gradient(#000070,#0000e7 88.3%,#1313ff 90%,#dbdbff 95%,#ff9595 96.7%,#ff0b0b 98.3%,#de0000)"></i>
<i style="left:1482px;top:1671px;width:6px;height:167px;background:linear-gradient(#000070,#0000e7 89.6%,#5757ff 92.5%,#dcdcff 95.5%,#ff9494 97%,#ff0a0a 98.5%,#ff3838)"></i>
<i style="left:1488px;top:1652px;width:4px;height:186px;background:linear-gradient(#000070,#0000e8 93.3%,#ffefef 98.7%,#ff6868)"></i>
<i style="left:1492px;top:1656px;width:6px;height:182px;background:linear-gradient(#000070,#0000e7 90.4%,#1010ff 91.8%,#dadaff 95.9%,#ff9797 97.3%,#ff0c0c 98.6%,#de0000)"></i>
<i style="left:1498px;top:1548px;width:4px;height:290px;background:linear-gradient(#000070,#0000e8 94%,#1212ff 94.9%,#dadaff 97.4%,#ff9696 98.3%,#ff0b0b 99.1%,#f20000)"></i>
<i style="left:1502px;top:1689px;width:6px;height:149px;background:linear-gradient(#000070,#0000e7 88.3%,#1313ff 90%,#dbdbff 95%,#ff9595 96.7%,#ff0a0a 98.3%,#ff0f0f)"></i>
<i style="left:1508px;top:1710px;width:4px;height:128px;background:linear-gradient(#000070,#0000e7 86.5%,#e4e4ff 94.2%,#ff0202 98.1%,#ff3838)"></i>
<i style="left:1512px;top:1573px;width:6px;height:265px;background:linear-gradient(#000070,#0000e9 92.5%,#c5c5ff 95.3%,#ffc2c2 96.3%,#ff3737 97.2%,#ff3838)"></i>
<i style="left:1518px;top:1623px;width:4px;height:215px;background:linear-gradient(#000070,#0000e8 92%,#1313ff 93.1%,#dbdbff 96.6%,#ff9595 97.7%,#ff0b0b 98.9%,#f20000)"></i>
<i style="left:1522px;top:1580px;width:6px;height:258px;background:linear-gradient(#000070,#0000e9 92.3%,#c7c7ff 95.2%,#ffc0c0 96.2%,#ff3636 97.1%,#ff3838)"></i>
<i style="left:1528px;top:1643px;width:4px;height:195px;background:linear-gradient(#000070,#0000e9 93.7%,#ffeeee 98.7%,#ff6868)"></i>
<i style="left:1532px;top:1684px;width:6px;height:154px;background:linear-gradient(#000070,#0000e7 88.7%,#a2a2ff 93.5%,#e3e3ff 95.2%,#ff0404 98.4%,#ff0f0f)"></i>
<i style="left:1538px;top:1642px;width:4px;height:196px;background:linear-gradient(#000070,#0000e8 91.1%,#a1a1ff 94.9%,#e1e1ff 96.2%,#ff8b8b 97.5%,#ff0505 98.7%,#de0000)"></i>
<i style="left:1542px;top:1638px;width:6px;height:200px;background:linear-gradient(#000070,#0000e8 91.4%,#5959ff 93.8%,#ddddff 96.3%,#ff9292 97.5%,#ff0909 98.8%,#de0000)"></i>
<i style="left:1548px;top:1642px;width:4px;height:196px;background:linear-gradient(#000070,#0000e8 91.1%,#a1a1ff 94.9%,#e1e1ff 96.2%,#ff8b8b 97.5%,#ff0505 98.7%,#ff3838)"></i>
<i style="left:1552px;top:1630px;width:6px;height:208px;background:linear-gradient(#000070,#0000e8 91.7%,#5757ff 94%,#dcdcff 96.4%,#ff9494 97.6%,#ff0a0a 98.8%,#ff0f0f)"></i>
<i style="left:1558px;top:1644px;width:4px;height:194px;background:linear-gradient(#000070,#0000e8 93.6%,#fff0f0 98.7%,#ff6868)"></i>
<i style="left:1562px;top:1658px;width:6px;height:180px;background:linear-gradient(#000070,#0000e8 90.4%,#e4e4ff 95.9%,#ff0303 98.6%,#ff0f0f)"></i>
<i style="left:1568px;top:1630px;width:4px;height:208px;background:linear-gradient(#000070,#0000e8 91.7%,#5757ff 94%,#dcdcff 96.4%,#ff9494 97.6%,#ff0a0a 98.8%,#f20000)"></i>
<i style="left:1572px;top:1606px;width:6px;height:232px;background:linear-gradient(#000070,#0000e8 92.6%,#1414ff 93.6%,#dcdcff 96.8%,#ff9494 97.9%,#ff0a0a 98.9%,#de0000)"></i>
<i style="left:1578px;top:1626px;width:4px;height:212px;background:linear-gradient(#000070,#0000e8 91.9%,#a1a1ff 95.3%,#e1e1ff 96.5%,#ff8c8c 97.7%,#ff0505 98.8%,#f20000)"></i>
<i style="left:1582px;top:1594px;width:6px;height:244px;background:linear-gradient(#000070,#0000e8 92.9%,#5959ff 94.9%,#ddddff 96.9%,#ff9292 98%,#ff0808 99%,#de0000)"></i>
<i style="left:1588px;top:1734px;width:4px;height:104px;background:linear-gradient(#000070,#0000e9 85.7%,#d4d4ff 92.9%,#ff9f9f 95.2%,#ff1111 97.6%,#de0000)"></i>
<i style="left:1592px;top:1729px;width:6px;height:109px;background:linear-gradient(#000070,#0000e6 84.1%,#5d5dff 88.6%,#dfdfff 93.2%,#ff8f8f 95.5%,#ff0707 97.7%,#ff3838)"></i>
<i style="left:1598px;top:1650px;width:4px;height:188px;background:linear-gradient(#000070,#0000e8 90.8%,#a2a2ff 94.7%,#e3e3ff 96.1%,#ff0404 98.7%,#f20000)"></i>
<i style="left:1602px;top:1762px;width:6px;height:76px;background:linear-gradient(#000070,#0000e6 77.4%,#e4e4ff 90.3%,#ff0202 96.8%,#ff0f0f)"></i>
<i style="left:1608px;top:1800px;width:4px;height:38px;background:linear-gradient(#000070,#0000e3 43.8%,#e5e5ff 68.8%,#ff0d0d 81.2%,#f20000)"></i>
<i style="left:1612px;top:1803px;width:6px;height:35px;background:linear-gradient(#000070,#0000df 53.3%,#9f9fff 73.3%,#e0e0ff 80%,#ff8f8f 86.7%,#ff0909 93.3%,#ff3838)"></i>
<i style="left:1618px;top:1775px;width:4px;height:63px;background:linear-gradient(#000070,#0000e2 73.1%,#0d0dff 76.9%,#d7d7ff 88.5%,#ff9b9b 92.3%,#ff0f0f 96.2%,#de0000)"></i>
<i style="left:1622px;top:1738px;width:6px;height:100px;background:linear-gradient(#000070,#0000e6 82.9%,#a1a1ff 90.2%,#e1e1ff 92.7%,#ff8c8c 95.1%,#ff0505 97.6%,#ff0f0f)"></i>
<i style="left:1628px;top:1642px;width:4px;height:196px;background:linear-gradient(#000070,#0000e8 91.1%,#a1a1ff 94.9%,#e1e1ff 96.2%,#ff8b8b 97.5%,#ff0505 98.7%,#ff3838)"></i>
<i style="left:1632px;top:1725px;width:6px;height:113px;background:linear-gradient(#000070,#0000e5 84.8%,#0e0eff 87%,#d8d8ff 93.5%,#ff9a9a 95.7%,#ff0e0e 97.8%,#de0000)"></i>
<i style="left:1638px;top:1621px;width:4px;height:217px;background:linear-gradient(#000070,#0000e8 94.3%,#aeaeff 97.7%,#fff3f3 98.9%,#ff6969)"></i>
<i style="left:1642px;top:1675px;width:6px;height:163px;background:linear-gradient(#000070,#0000e8 92.4%,#ababff 97%,#fff7f7 98.5%,#ff6b6b)"></i>
<i style="left:1648px;top:1713px;width:4px;height:125px;background:linear-gradient(#000070,#0000e7 86.3%,#5d5dff 90.2%,#e0e0ff 94.1%,#ff8e8e 96.1%,#ff0707 98%,#f20000)"></i>
<i style="left:1652px;top:1697px;width:6px;height:141px;background:linear-gradient(#000070,#0000e7 87.7%,#5858ff 91.2%,#dcdcff 94.7%,#ff9393 96.5%,#ff0909 98.2%,#ff3838)"></i>
<i style="left:1658px;top:1614px;width:4px;height:224px;background:linear-gradient(#000070,#0000e8 92.2%,#1212ff 93.3%,#dadaff 96.7%,#ff9696 97.8%,#ff0b0b 98.9%,#ff0f0f)"></i>
<i style="left:1662px;top:1613px;width:6px;height:225px;background:linear-gradient(#000070,#0000e8 94.5%,#fff3f3 98.9%,#ff6969)"></i>
<i style="left:1668px;top:1690px;width:4px;height:148px;background:linear-gradient(#000070,#0000e7 88.3%,#1313ff 90%,#dbdbff 95%,#ff9696 96.7%,#ff0b0b 98.3%,#de0000)"></i>
<i style="left:1672px;top:1777px;width:6px;height:61px;background:linear-gradient(#000070,#0000e5 64%,#e3e3ff 80%,#ff1010 88%,#ff3838 96%,#ff3838)"></i>
<i style="left:1678px;top:1704px;width:4px;height:134px;background:linear-gradient(#000070,#0000e7 87%,#5b5bff 90.7%,#dedeff 94.4%,#ff9090 96.3%,#ff0808 98.1%,#f20000)"></i>
<i style="left:1682px;top:1755px;width:6px;height:83px;background:linear-gradient(#000070,#0000e5 79.4%,#5f5fff 85.3%,#e1e1ff 91.2%,#ff8d8d 94.1%,#ff0606 97.1%,#de0000)"></i>
<i style="left:1688px;top:1756px;width:4px;height:82px;background:linear-gradient(#000070,#0000e4 78.8%,#1212ff 81.8%,#dbdbff 90.9%,#ff9696 93.9%,#ff0b0b 97%,#de0000)"></i>
<i style="left:1692px;top:1693px;width:6px;height:145px;background:linear-gradient(#000070,#0000e8 88.1%,#e4e4ff 94.9%,#ff0202 98.3%,#ff0f0f)"></i>
<i style="left:1698px;top:1632px;width:4px;height:206px;background:linear-gradient(#000070,#0000e8 94%,#acacff 97.6%,#fff5f5 98.8%,#ff6a6a)"></i>
<i style="left:1702px;top:1738px;width:6px;height:100px;background:linear-gradient(#000070,#0000e6 82.9%,#a0a0ff 90.2%,#e1e1ff 92.7%,#ff8c8c 95.1%,#ff0606 97.6%,#ff3838)"></i>
<i style="left:1708px;top:1731px;width:4px;height:107px;background:linear-gradient(#000070,#0000e5 83.7%,#1111ff 86%,#dadaff 93%,#ff9696 95.3%,#ff0b0b 97.7%,#f20000)"></i>
<i style="left:1712px;top:1736px;width:6px;height:102px;background:linear-gradient(#000070,#0000e6 82.9%,#a1a1ff 90.2%,#e2e2ff 92.7%,#ff8b8b 95.1%,#ff0404 97.6%,#de0000)"></i>
<i style="left:1718px;top:1680px;width:4px;height:158px;background:linear-gradient(#000070,#0000e8 92.2%,#fff2f2 98.4%,#ff6969)"></i>
<i style="left:1722px;top:1741px;width:6px;height:97px;background:linear-gradient(#000070,#0000e9 80%,#c7c7ff 87.5%,#ffbfbf 90%,#ff3636 92.5%,#ff0f0f 97.5%,#ff0f0f)"></i>
<i style="left:1728px;top:1780px;width:4px;height:58px;background:linear-gradient(#000070,#0000e7 79.2%,#ffeded 95.8%,#ff6868)"></i>
<i style="left:1732px;top:1769px;width:6px;height:69px;background:linear-gradient(#000070,#0000e8 82.1%,#b8b8ff 92.9%,#ffe7e7 96.4%,#ff6464)"></i>
<i style="left:1738px;top:1737px;width:4px;height:101px;background:linear-gradient(#000070,#0000e6 82.9%,#a1a1ff 90.2%,#e2e2ff 92.7%,#ff8b8b 95.1%,#ff0505 97.6%,#ff0f0f)"></i>
<i style="left:1742px;top:1683px;width:6px;height:155px;background:linear-gradient(#000070,#0000e7 88.9%,#1010ff 90.5%,#d9d9ff 95.2%,#ff9898 96.8%,#ff0d0d 98.4%,#ff0f0f)"></i>
<i style="left:1748px;top:1698px;width:4px;height:140px;background:linear-gradient(#000070,#0000e8 91.2%,#fff3f3 98.2%,#ff6969)"></i>
<i style="left:1752px;top:1764px;width:6px;height:74px;background:linear-gradient(#000070,#0000e6 83.3%,#fff2f2 96.7%,#ff6868)"></i>
<i style="left:1758px;top:1747px;width:4px;height:91px;background:linear-gradient(#000070,#0000e5 81.1%,#5b5bff 86.5%,#dedeff 91.9%,#ff9090 94.6%,#ff0808 97.3%,#ff0f0f)"></i>
<i style="left:1762px;top:1679px;width:6px;height:159px;background:linear-gradient(#000070,#0000e7 89.1%,#5959ff 92.2%,#ddddff 95.3%,#ff9292 96.9%,#ff0808 98.4%,#de0000)"></i>
<i style="left:1768px;top:1657px;width:4px;height:181px;background:linear-gradient(#000070,#0000e8 93.2%,#acacff 97.3%,#fff5f5 98.6%,#ff6a6a)"></i>
<i style="left:1772px;top:1656px;width:6px;height:182px;background:linear-gradient(#000070,#0000e8 93.2%,#fff3f3 98.6%,#ff6969)"></i>
<i style="left:1778px;top:1770px;width:4px;height:68px;background:linear-gradient(#000070,#0000e6 75%,#e8e8ff 89.3%,#fe0000 96.4%,#f20000)"></i>
<i style="left:1782px;top:1672px;width:6px;height:166px;background:linear-gradient(#000070,#0000e7 89.6%,#5757ff 92.5%,#dcdcff 95.5%,#ff9494 97%,#ff0a0a 98.5%,#de0000)"></i>
<i style="left:1788px;top:1667px;width:4px;height:171px;background:linear-gradient(#000070,#0000e9 92.8%,#ffeded 98.6%,#ff6767)"></i>
<i style="left:1792px;top:1638px;width:6px;height:200px;background:linear-gradient(#000070,#0000e8 91.4%,#5959ff 93.8%,#ddddff 96.3%,#ff9292 97.5%,#ff0909 98.8%,#de0000)"></i>
<i style="left:1798px;top:1758px;width:4px;height:80px;background:linear-gradient(#000070,#0000e4 78.8%,#1111ff 81.8%,#dadaff 90.9%,#ff9797 93.9%,#ff0d0d 97%,#f20000)"></i>
<i style="left:1802px;top:1771px;width:6px;height:67px;background:linear-gradient(#000070,#0000e6 81.5%,#ffefef 96.3%,#ff6767)"></i>
<i style="left:1808px;top:1652px;width:4px;height:186px;background:linear-gradient(#000070,#0000e8 93.3%,#ffefef 98.7%,#ff6868)"></i>
<i style="left:1812px;top:1745px;width:6px;height:93px;background:linear-gradient(#000070,#0000e6 81.6%,#e4e4ff 92.1%,#ff0202 97.4%,#ff0f0f)"></i>
<i style="left:1818px;top:1745px;width:4px;height:93px;background:linear-gradient(#000070,#0000e6 81.6%,#e4e4ff 92.1%,#ff0202 97.4%,#de0000)"></i>
<i style="left:1822px;top:1641px;width:6px;height:197px;background:linear-gradient(#000070,#0000e9 93.7%,#ffeeee 98.7%,#ff6767)"></i>
<i style="left:1828px;top:1789px;width:4px;height:49px;background:linear-gradient(#000070,#0000e5 75%,#b0b0ff 90%,#fff1f1 95%,#ff6969)"></i>
<i style="left:1832px;top:1737px;width:6px;height:101px;background:linear-gradient(#000070,#0000e8 87.8%,#ffeeee 97.6%,#ff6767)"></i>
<i style="left:1838px;top:1702px;width:4px;height:136px;background:linear-gradient(#000070,#0000e7 87.3%,#a2a2ff 92.7%,#e2e2ff 94.5%,#ff8a8a 96.4%,#ff0404 98.2%,#de0000)"></i>
<i style="left:1842px;top:1631px;width:6px;height:207px;background:linear-gradient(#000070,#0000e7 91.6%,#1010ff 92.8%,#d9d9ff 96.4%,#ff9797 97.6%,#ff0c0c 98.8%,#ff0f0f)"></i>
<i style="left:1848px;top:1702px;width:4px;height:136px;background:linear-gradient(#000070,#0000e8 90.9%,#ffeded 98.2%,#ff6767)"></i>
<i style="left:1852px;top:1676px;width:6px;height:162px;background:linear-gradient(#000070,#0000e8 92.3%,#ffeeee 98.5%,#ff6767)"></i>
<i style="left:1858px;top:1736px;width:4px;height:102px;background:linear-gradient(#000070,#0000e6 82.9%,#a1a1ff 90.2%,#e2e2ff 92.7%,#ff8a8a 95.1%,#ff0404 97.6%,#ff0f0f)"></i>
<i style="left:1862px;top:1773px;width:6px;height:65px;background:linear-gradient(#000070,#0000e4 74.1%,#5e5eff 81.5%,#e0e0ff 88.9%,#ff8e8e 92.6%,#ff0707 96.3%,#f20000)"></i>
<i style="left:1868px;top:1710px;width:4px;height:128px;background:linear-gradient(#000070,#0000e8 90.4%,#ffebeb 98.1%,#ff6666)"></i>
<i style="left:1872px;top:1769px;width:6px;height:69px;background:linear-gradient(#000070,#0000e8 82.1%,#b7b7ff 92.9%,#ffe8e8 96.4%,#ff6565)"></i>
<i style="left:1878px;top:1692px;width:4px;height:146px;background:linear-gradient(#000070,#0000e6 88.1%,#0c0cff 89.8%,#d7d7ff 94.9%,#ff9b9b 96.6%,#ff0e0e 98.3%,#ff3838)"></i>
<i style="left:1882px;top:1726px;width:6px;height:112px;background:linear-gradient(#000070,#0000e7 84.4%,#e5e5ff 93.3%,#ff0202 97.8%,#ff0f0f)"></i>
<i style="left:1888px;top:1756px;width:4px;height:82px;background:linear-gradient(#000070,#0000e5 79.4%,#5f5fff 85.3%,#e1e1ff 91.2%,#ff8d8d 94.1%,#ff0606 97.1%,#ff0f0f)"></i>
<i style="left:1892px;top:1702px;width:6px;height:136px;background:linear-gradient(#000070,#0000e6 83.6%,#1010ff 85.5%,#d1d1ff 90.9%,#ffadad 92.7%,#ff2727 94.5%,#de0000 98.2%,#de0000)"></i>
<i style="left:1898px;top:1637px;width:4px;height:201px;background:linear-gradient(#000070,#0000e8 91.4%,#5959ff 93.8%,#ddddff 96.3%,#ff9292 97.5%,#ff0808 98.8%,#f20000)"></i>
<i style="left:1902px;top:1713px;width:6px;height:125px;background:linear-gradient(#000070,#0000e7 86.3%,#5d5dff 90.2%,#e0e0ff 94.1%,#ff8e8e 96.1%,#ff0707 98%,#ff0f0f)"></i>
<i style="left:1908px;top:1729px;width:4px;height:109px;background:linear-gradient(#000070,#0000e6 84.1%,#5d5dff 88.6%,#dfdfff 93.2%,#ff8e8e 95.5%,#ff0707 97.7%,#ff0f0f)"></i>
<i style="left:1912px;top:1709px;width:6px;height:129px;background:linear-gradient(#000070,#0000e8 90.4%,#ffebeb 98.1%,#ff6666)"></i>
<i style="left:1918px;top:1718px;width:4px;height:120px;background:linear-gradient(#000070,#0000e7 85.7%,#e6e6ff 93.9%,#ff0000 98%,#ff0f0f)"></i>
<i style="left:1922px;top:1725px;width:6px;height:113px;background:linear-gradient(#000070,#0000e8 82.6%,#c1c1ff 89.1%,#ffc9c9 91.3%,#ff3d3d 93.5%,#ff0f0f 97.8%,#ff0f0f)"></i>
<i style="left:1928px;top:1763px;width:4px;height:75px;background:linear-gradient(#000070,#0000e7 83.9%,#ffecec 96.8%,#ff6767)"></i>
<i style="left:1932px;top:1714px;width:6px;height:124px;background:linear-gradient(#000070,#0000e6 86%,#1414ff 88%,#dbdbff 94%,#ff9494 96%,#ff0a0a 98%,#ff0f0f)"></i>
<i style="left:1938px;top:1649px;width:4px;height:189px;background:linear-gradient(#000070,#0000e8 93.4%,#acacff 97.4%,#fff6f6 98.7%,#ff6a6a)"></i>
<i style="left:1942px;top:1785px;width:6px;height:53px;background:linear-gradient(#000070,#0000e8 72.7%,#d0d0ff 86.4%,#ffa6a6 90.9%,#ff1515 95.5%,#ff3838)"></i>
<i style="left:1948px;top:1689px;width:4px;height:149px;background:linear-gradient(#000070,#0000e8 91.7%,#adadff 96.7%,#fff4f4 98.3%,#ff6969)"></i>
<i style="left:1952px;top:1704px;width:6px;height:134px;background:linear-gradient(#000070,#0000e7 87%,#5b5bff 90.7%,#dedeff 94.4%,#ff9090 96.3%,#ff0808 98.1%,#ff3838)"></i>
<i style="left:1958px;top:1744px;width:4px;height:94px;background:linear-gradient(#000070,#0000e8 86.8%,#ffebeb 97.4%,#ff6666)"></i>
<i style="left:1962px;top:1783px;width:6px;height:55px;background:linear-gradient(#000070,#0000e1 69.6%,#1313ff 73.9%,#dadaff 87%,#ff9696 91.3%,#ff0c0c 95.7%,#ff0f0f)"></i>
<i style="left:1968px;top:1713px;width:4px;height:125px;background:linear-gradient(#000070,#0000e8 90.2%,#fff0f0 98%,#ff6969)"></i>
<i style="left:1972px;top:1775px;width:6px;height:63px;background:linear-gradient(#000070,#0000e5 80.8%,#aaaaff 92.3%,#fff8f8 96.2%,#ff6c6c)"></i>
<i style="left:1978px;top:1668px;width:4px;height:170px;background:linear-gradient(#000070,#0000e9 92.8%,#ffeded 98.6%,#ff6767)"></i>
<i style="left:1982px;top:1787px;width:6px;height:51px;background:linear-gradient(#000070,#0000ea 85.7%,#c5c5ff)"></i>
<i style="left:1988px;top:1772px;width:4px;height:66px;background:linear-gradient(#000070,#0000e4 74.1%,#5e5eff 81.5%,#e0e0ff 88.9%,#ff8d8d 92.6%,#ff0606 96.3%,#de0000)"></i>
<i style="left:1992px;top:1768px;width:6px;height:70px;background:linear-gradient(#000070,#0000e9 79.3%,#d4d4ff 89.7%,#ffa0a0 93.1%,#ff1212 96.6%,#ff3838)"></i>
<i style="left:1998px;top:1815px;width:4px;height:23px;background:linear-gradient(#000070,#0000e3 50%,#b4b4ff 80%,#ffecec 90%,#ff6969)"></i>
<i style="left:2002px;top:1809px;width:6px;height:29px;background:linear-gradient(#000070,#0000e6 58.3%,#b8b8ff 83.3%,#ffe7e7 91.7%,#ff6565)"></i><svg width="2365" height="3544" viewBox="0 0 2365 3544" font-family="'DejaVu Sans', 'Liberation Sans', sans-serif"><defs><linearGradient id="cba" x1="0" y1="1" x2="0" y2="0"><stop offset="0%" stop-color="#8000ff"/><stop offset="6.2%" stop-color="#6032fe"/><stop offset="12.5%" stop-color="#4062fa"/><stop offset="18.8%" stop-color="#208ef4"/><stop offset="25%" stop-color="#00b4ec"/><stop offset="31.2%" stop-color="#20d4e1"/><stop offset="37.5%" stop-color="#40ecd4"/><stop offset="43.8%" stop-color="#60fac5"/><stop offset="50%" stop-color="#80ffb4"/><stop offset="56.2%" stop-color="#9ffaa2"/><stop offset="62.5%" stop-color="#bfec8e"/><stop offset="68.8%" stop-color="#dfd478"/><stop offset="75%" stop-color="#ffb462"/><stop offset="81.2%" stop-color="#ff8e4a"/><stop offset="87.5%" stop-color="#ff6232"/><stop offset="93.8%" stop-color="#ff3219"/><stop offset="100%" stop-color="#ff0000"/></linearGradient><linearGradient id="cbb" x1="0" y1="1" x2="0" y2="0"><stop offset="0%" stop-color="#3b4cc0"/><stop offset="6.2%" stop-color="#4e67d5"/><stop offset="12.5%" stop-color="#6282ea"/><stop offset="18.8%" stop-color="#7899f4"/><stop offset="25%" stop-color="#8db0fe"/><stop offset="31.2%" stop-color="#a2c0fc"/><stop offset="37.5%" stop-color="#b8d0f9"/><stop offset="43.8%" stop-color="#cad6ea"/><stop offset="50%" stop-color="#dddcdc"/><stop offset="56.2%" stop-color="#e9d0c4"/><stop offset="62.5%" stop-color="#f5c4ad"/><stop offset="68.8%" stop-color="#f4af94"/><stop offset="75%" stop-color="#f49a7b"/><stop offset="81.2%" stop-color="#e97d64"/><stop offset="87.5%" stop-color="#de604d"/><stop offset="93.8%" stop-color="#c9323a"/><stop offset="100%" stop-color="#b40426"/></linearGradient><linearGradient id="cbc" x1="0" y1="1" x2="0" y2="0"><stop offset="0%" stop-color="#000080"/><stop offset="11%" stop-color="#0000ff"/><stop offset="12.5%" stop-color="#0000ff"/><stop offset="25%" stop-color="#0080ff"/><stop offset="34%" stop-color="#00dbff"/><stop offset="37.5%" stop-color="#15ffe2"/><stop offset="50%" stop-color="#7bff7b"/><stop offset="64%" stop-color="#efff08"/><stop offset="65%" stop-color="#f7f600"/><stop offset="66%" stop-color="#ffec00"/><stop offset="75%" stop-color="#ff9700"/><stop offset="89%" stop-color="#ff1300"/><stop offset="91%" stop-color="#e80000"/><stop offset="100%" stop-color="#800000"/></linearGradient><linearGradient id="cbd" x1="0" y1="1" x2="0" y2="0"><stop offset="0%" stop-color="#00004c"/><stop offset="25%" stop-color="#0000ff"/><stop offset="50%" stop-color="#ffffff"/><stop offset="75%" stop-color="#ff0000"/><stop offset="100%" stop-color="#800000"/></linearGradient></defs><line x1="729" y1="87.6" x2="729" y2="447" stroke="#c4c4c4" stroke-width="2" stroke-dasharray="3 5"/>
<line x1="1123.3" y1="87.6" x2="1123.3" y2="447" stroke="#c4c4c4" stroke-width="2" stroke-dasharray="3 5"/>
<line x1="1519.5" y1="87.6" x2="1519.5" y2="447" stroke="#c4c4c4" stroke-width="2" stroke-dasharray="3 5"/>
<line x1="1914" y1="87.6" x2="1914" y2="447" stroke="#c4c4c4" stroke-width="2" stroke-dasharray="3 5"/>
<line x1="332.5" y1="327.2" x2="2059.5" y2="327.2" stroke="#c4c4c4" stroke-width="2" stroke-dasharray="3 5"/>
<line x1="332.5" y1="207.4" x2="2059.5" y2="207.4" stroke="#c4c4c4" stroke-width="2" stroke-dasharray="3 5"/>
<line x1="427.4" y1="447" x2="427.4" y2="87.6" stroke="#000" stroke-width="6" stroke-dasharray="19 7.2"/>
<line x1="1021.8" y1="447" x2="1021.8" y2="87.6" stroke="#000" stroke-width="6" stroke-dasharray="19 7.2"/>
<line x1="1602.7" y1="447" x2="1602.7" y2="87.6" stroke="#000" stroke-width="6" stroke-dasharray="19 7.2"/>
<rect x="332.5" y="87.6" width="1727" height="359.4" fill="none" stroke="#3c3c3c" stroke-width="3"/>
<line x1="332.5" y1="447" x2="332.5" y2="461" stroke="#3c3c3c" stroke-width="3"/>
<line x1="729" y1="447" x2="729" y2="461" stroke="#3c3c3c" stroke-width="3"/>
<line x1="1123.3" y1="447" x2="1123.3" y2="461" stroke="#3c3c3c" stroke-width="3"/>
<line x1="1519.5" y1="447" x2="1519.5" y2="461" stroke="#3c3c3c" stroke-width="3"/>
<line x1="1914" y1="447" x2="1914" y2="461" stroke="#3c3c3c" stroke-width="3"/>
<line x1="318.5" y1="447" x2="332.5" y2="447" stroke="#3c3c3c" stroke-width="3"/>
<text x="302.5" y="461" text-anchor="end" font-size="39.5" fill="#333">0</text>
<line x1="318.5" y1="327.2" x2="332.5" y2="327.2" stroke="#3c3c3c" stroke-width="3"/>
<text x="302.5" y="341.2" text-anchor="end" font-size="39.5" fill="#333">1</text>
<line x1="318.5" y1="207.4" x2="332.5" y2="207.4" stroke="#3c3c3c" stroke-width="3"/>
<text x="302.5" y="221.4" text-anchor="end" font-size="39.5" fill="#333">2</text>
<line x1="318.5" y1="87.6" x2="332.5" y2="87.6" stroke="#3c3c3c" stroke-width="3"/>
<text x="302.5" y="101.6" text-anchor="end" font-size="39.5" fill="#333">3</text>
<text transform="translate(250 267.3) rotate(-90)" text-anchor="middle" font-size="41" fill="#333">Height AGL (km)</text>
<text x="81.5" y="136.5" text-anchor="middle" font-family="'Liberation Sans', sans-serif" font-weight="bold" font-size="92" fill="#000">(a)</text>
<line x1="729" y1="552" x2="729" y2="912" stroke="#c4c4c4" stroke-width="2" stroke-dasharray="3 5"/>
<line x1="1123.3" y1="552" x2="1123.3" y2="912" stroke="#c4c4c4" stroke-width="2" stroke-dasharray="3 5"/>
<line x1="1519.5" y1="552" x2="1519.5" y2="912" stroke="#c4c4c4" stroke-width="2" stroke-dasharray="3 5"/>
<line x1="1914" y1="552" x2="1914" y2="912" stroke="#c4c4c4" stroke-width="2" stroke-dasharray="3 5"/>
<line x1="332.5" y1="792" x2="2059.5" y2="792" stroke="#c4c4c4" stroke-width="2" stroke-dasharray="3 5"/>
<line x1="332.5" y1="672" x2="2059.5" y2="672" stroke="#c4c4c4" stroke-width="2" stroke-dasharray="3 5"/>
<line x1="427.4" y1="912" x2="427.4" y2="552" stroke="#000" stroke-width="6" stroke-dasharray="19 7.2"/>
<line x1="1021.8" y1="912" x2="1021.8" y2="552" stroke="#000" stroke-width="6" stroke-dasharray="19 7.2"/>
<line x1="1602.7" y1="912" x2="1602.7" y2="552" stroke="#000" stroke-width="6" stroke-dasharray="19 7.2"/>
<rect x="332.5" y="552" width="1727" height="360" fill="none" stroke="#3c3c3c" stroke-width="3"/>
<line x1="332.5" y1="912" x2="332.5" y2="926" stroke="#3c3c3c" stroke-width="3"/>
<line x1="729" y1="912" x2="729" y2="926" stroke="#3c3c3c" stroke-width="3"/>
<line x1="1123.3" y1="912" x2="1123.3" y2="926" stroke="#3c3c3c" stroke-width="3"/>
<line x1="1519.5" y1="912" x2="1519.5" y2="926" stroke="#3c3c3c" stroke-width="3"/>
<line x1="1914" y1="912" x2="1914" y2="926" stroke="#3c3c3c" stroke-width="3"/>
<line x1="318.5" y1="912" x2="332.5" y2="912" stroke="#3c3c3c" stroke-width="3"/>
<text x="302.5" y="926" text-anchor="end" font-size="39.5" fill="#333">0</text>
<line x1="318.5" y1="792" x2="332.5" y2="792" stroke="#3c3c3c" stroke-width="3"/>
<text x="302.5" y="806" text-anchor="end" font-size="39.5" fill="#333">1</text>
<line x1="318.5" y1="672" x2="332.5" y2="672" stroke="#3c3c3c" stroke-width="3"/>
<text x="302.5" y="686" text-anchor="end" font-size="39.5" fill="#333">2</text>
<line x1="318.5" y1="552" x2="332.5" y2="552" stroke="#3c3c3c" stroke-width="3"/>
<text x="302.5" y="566" text-anchor="end" font-size="39.5" fill="#333">3</text>
<text transform="translate(250 732) rotate(-90)" text-anchor="middle" font-size="41" fill="#333">Height AGL (km)</text>
<text x="81.5" y="629.3" text-anchor="middle" font-family="'Liberation Sans', sans-serif" font-weight="bold" font-size="92" fill="#000">(b)</text>
<path d="M1077.6 1311.3h4v4h-4zM1084.2 1297.4h4v4h-4zM1154.2 1299.9h4v4h-4zM1154.1 1288.1h4v4h-4zM1158 1286.1h4v4h-4zM1162.7 1302.7h4v4h-4zM1164.4 1300.7h4v4h-4zM1184.5 1319.2h4v4h-4zM1187.7 1308.4h4v4h-4zM1198 1303.1h4v4h-4zM1204.4 1307.9h4v4h-4zM1233.8 1277.1h4v4h-4zM1232.9 1280.2h4v4h-4zM1239.4 1321.2h4v4h-4zM1249.5 1294.7h4v4h-4zM1257.9 1317.7h4v4h-4zM1263.3 1299.4h4v4h-4zM1268.9 1309.9h4v4h-4zM1308.6 1287.1h4v4h-4zM1308.9 1309.6h4v4h-4zM1312.8 1306.9h4v4h-4zM1318.3 1316.7h4v4h-4zM1318 1281.3h4v4h-4zM1328 1297h4v4h-4zM1338.6 1308.5h4v4h-4zM1337.9 1287.4h4v4h-4zM1358.6 1280.9h4v4h-4zM1357.5 1296.7h4v4h-4zM1419.5 1309.2h4v4h-4zM1424.4 1290.2h4v4h-4zM1423.8 1299.8h4v4h-4zM1433.3 1301.4h4v4h-4zM1453.9 1269.3h4v4h-4zM1452.7 1272.1h4v4h-4zM1458.4 1304.7h4v4h-4zM1458.4 1273.2h4v4h-4zM1463.2 1299.1h4v4h-4zM1464.3 1263.2h4v4h-4zM1464.3 1200.2h4v4h-4zM1464.2 1268.3h4v4h-4zM1463.2 1262.3h4v4h-4zM1467.6 1252.4h4v4h-4zM1468.4 1304.6h4v4h-4zM1469.1 1291.8h4v4h-4zM1467.9 1267.1h4v4h-4zM1473.4 1249.2h4v4h-4zM1473.5 1246.1h4v4h-4zM1472.7 1205.9h4v4h-4zM1473.4 1241.9h4v4h-4zM1474.2 1183.4h4v4h-4zM1478.3 1234.7h4v4h-4zM1479.1 1212.2h4v4h-4zM1479.1 1179.2h4v4h-4zM1479.2 1175.7h4v4h-4zM1478.9 1228.7h4v4h-4zM1478.7 1178.1h4v4h-4zM1483.1 1197.1h4v4h-4zM1484.3 1233.5h4v4h-4zM1483.4 1242.6h4v4h-4zM1483.6 1266.6h4v4h-4zM1484.3 1218h4v4h-4zM1483.3 1217.3h4v4h-4zM1487.7 1295.2h4v4h-4zM1488.2 1234.4h4v4h-4zM1487.6 1302.5h4v4h-4zM1488.8 1220.6h4v4h-4zM1492.6 1271.3h4v4h-4zM1493.8 1202.9h4v4h-4zM1493.4 1183.7h4v4h-4zM1493.5 1277.4h4v4h-4zM1494.3 1248.9h4v4h-4zM1494.1 1259.7h4v4h-4zM1498.4 1269.9h4v4h-4zM1498.9 1287.2h4v4h-4zM1497.8 1252.9h4v4h-4zM1503.4 1274.8h4v4h-4zM1503.8 1272.4h4v4h-4zM1508.8 1275.4h4v4h-4zM1508.8 1270.5h4v4h-4zM1508.7 1250.8h4v4h-4zM1508.3 1264.3h4v4h-4zM1513.8 1256.9h4v4h-4zM1512.5 1203.7h4v4h-4zM1514.1 1236.7h4v4h-4zM1514.1 1199.1h4v4h-4zM1514.1 1203.9h4v4h-4zM1513.9 1217.2h4v4h-4zM1517.6 1229.2h4v4h-4zM1517.7 1258.7h4v4h-4zM1519 1234.1h4v4h-4zM1519.4 1253h4v4h-4zM1522.7 1274h4v4h-4zM1523.2 1278.5h4v4h-4zM1522.6 1229.1h4v4h-4zM1523.7 1252.7h4v4h-4zM1522.8 1216.1h4v4h-4zM1527.8 1305.3h4v4h-4zM1528.3 1288.3h4v4h-4zM1527.7 1265.3h4v4h-4zM1539.4 1275.6h4v4h-4zM1538.7 1313.1h4v4h-4zM1537.6 1259.7h4v4h-4zM1542.6 1261.7h4v4h-4zM1543 1274.9h4v4h-4zM1542.7 1263.2h4v4h-4zM1544.2 1230h4v4h-4zM1548.8 1311.3h4v4h-4zM1547.6 1304.9h4v4h-4zM1548.3 1290.8h4v4h-4zM1553.1 1274.1h4v4h-4zM1554.2 1237.6h4v4h-4zM1553.3 1239.4h4v4h-4zM1552.6 1212h4v4h-4zM1558 1263.1h4v4h-4zM1557.8 1232.9h4v4h-4zM1557.9 1234.3h4v4h-4zM1568.5 1309.1h4v4h-4zM1568.5 1278.4h4v4h-4zM1573.3 1322.2h4v4h-4zM1579.1 1282.8h4v4h-4zM1579.3 1285.6h4v4h-4zM1578.3 1231.1h4v4h-4zM1577.8 1267.5h4v4h-4zM1579.1 1274.7h4v4h-4zM1588.5 1302.2h4v4h-4zM1589.4 1271.4h4v4h-4zM1589.4 1288.9h4v4h-4zM1593.9 1266.7h4v4h-4zM1594 1300.5h4v4h-4zM1597.9 1316.9h4v4h-4zM1613.3 1294.4h4v4h-4zM1618 1310.9h4v4h-4zM1623.8 1314.3h4v4h-4zM1629.4 1315h4v4h-4zM1628.3 1268.8h4v4h-4zM1638.1 1302.4h4v4h-4zM1637.6 1292.7h4v4h-4zM1643.8 1277.7h4v4h-4zM1643 1311h4v4h-4zM1648.5 1296.9h4v4h-4zM1648.5 1290.6h4v4h-4zM1648.3 1275.2h4v4h-4zM1658.3 1318.1h4v4h-4zM1658.2 1296h4v4h-4zM1663.2 1259.8h4v4h-4zM1662.7 1236.8h4v4h-4zM1663.5 1247.2h4v4h-4zM1667.5 1297.2h4v4h-4zM1674.3 1292.4h4v4h-4zM1673.4 1295.6h4v4h-4zM1672.6 1248.9h4v4h-4zM1678.6 1297.4h4v4h-4zM1677.9 1277.8h4v4h-4zM1689.1 1314.9h4v4h-4zM1694.3 1317.4h4v4h-4zM1692.7 1294.3h4v4h-4zM1697.5 1309.5h4v4h-4zM1698 1268.1h4v4h-4zM1702.9 1308.2h4v4h-4zM1703.6 1257.4h4v4h-4zM1702.7 1289.4h4v4h-4zM1714.3 1303.4h4v4h-4zM1713.5 1281h4v4h-4zM1717.6 1302.8h4v4h-4zM1723.6 1272.4h4v4h-4zM1723.7 1275.2h4v4h-4zM1729.5 1287.5h4v4h-4zM1728.5 1284h4v4h-4zM1732.8 1322.1h4v4h-4zM1742.6 1296h4v4h-4zM1749 1275.1h4v4h-4zM1749.1 1318.7h4v4h-4zM1754.5 1273h4v4h-4zM1753.3 1277.9h4v4h-4zM1763.1 1252.7h4v4h-4zM1763.7 1245.5h4v4h-4zM1764.3 1248.7h4v4h-4zM1764.4 1268.7h4v4h-4zM1768.4 1286.4h4v4h-4zM1767.6 1285.5h4v4h-4zM1769.3 1284.7h4v4h-4zM1773.4 1306.6h4v4h-4zM1773.4 1261.1h4v4h-4zM1772.5 1277.7h4v4h-4zM1777.5 1282.8h4v4h-4zM1778.9 1251.7h4v4h-4zM1779.1 1236.9h4v4h-4zM1779.4 1270.4h4v4h-4zM1783.8 1305.5h4v4h-4zM1783.4 1274.2h4v4h-4zM1782.9 1263.4h4v4h-4zM1788.9 1268.6h4v4h-4zM1789 1290.6h4v4h-4zM1789.4 1278.9h4v4h-4zM1797.9 1311.6h4v4h-4zM1797.8 1291.1h4v4h-4zM1804.2 1274.5h4v4h-4zM1803.1 1292.2h4v4h-4zM1802.7 1255.4h4v4h-4zM1808.3 1299h4v4h-4zM1809.2 1266.6h4v4h-4zM1823.5 1286.2h4v4h-4zM1822.7 1304.3h4v4h-4zM1824.4 1269.5h4v4h-4zM1829.3 1288.3h4v4h-4zM1838.5 1276.1h4v4h-4zM1837.6 1303.5h4v4h-4zM1843.4 1301h4v4h-4zM1848.5 1258.8h4v4h-4zM1848.5 1272.5h4v4h-4zM1847.9 1308.6h4v4h-4zM1853.3 1250.5h4v4h-4zM1854.1 1276.9h4v4h-4zM1853 1280.7h4v4h-4zM1858 1269h4v4h-4zM1858.9 1314.5h4v4h-4zM1863.5 1311.4h4v4h-4zM1868.7 1286.2h4v4h-4zM1868.3 1291.3h4v4h-4zM1869.1 1286.9h4v4h-4zM1879 1237.5h4v4h-4zM1878.3 1256.5h4v4h-4zM1879.2 1253h4v4h-4zM1882.8 1286.3h4v4h-4zM1883 1319.2h4v4h-4zM1887.5 1317.2h4v4h-4zM1888.5 1304.6h4v4h-4zM1893.8 1278.1h4v4h-4zM1892.8 1284.7h4v4h-4zM1898.4 1239.9h4v4h-4zM1897.8 1249.8h4v4h-4zM1899.3 1227.1h4v4h-4zM1898.1 1301.4h4v4h-4zM1904.3 1302.7h4v4h-4zM1902.6 1290.3h4v4h-4zM1908.5 1262.9h4v4h-4zM1909.3 1268.6h4v4h-4zM1908.8 1291h4v4h-4zM1909.3 1228.6h4v4h-4zM1918.6 1289.2h4v4h-4zM1917.9 1309h4v4h-4zM1918.8 1280.7h4v4h-4zM1928.1 1279.3h4v4h-4zM1928.9 1279.3h4v4h-4zM1934.4 1304.1h4v4h-4zM1939.3 1264.1h4v4h-4zM1938.2 1301.4h4v4h-4z" fill="#fff"/>
<path d="M333.1 1334.8h5v5h-5zM447.7 1310.4h5v5h-5zM532.9 1310.5h5v5h-5zM618.1 1323.1h5v5h-5zM661.9 1270.8h5v5h-5zM671.9 1281.8h5v5h-5zM716.9 1313.9h5v5h-5zM762.8 1355.4h5v5h-5zM787.7 1319.9h5v5h-5zM791.9 1281.4h5v5h-5zM797.9 1341h5v5h-5zM812.5 1331.6h5v5h-5zM816.9 1328.2h5v5h-5zM822 1308.3h5v5h-5zM862.8 1310.2h5v5h-5zM887.9 1313.9h5v5h-5zM902.5 1319h5v5h-5zM907.8 1303.5h5v5h-5zM937 1299.4h5v5h-5zM942.1 1300.2h5v5h-5zM953.2 1295.2h5v5h-5zM962.2 1316.8h5v5h-5zM972.3 1329.9h5v5h-5zM977.3 1328.3h5v5h-5zM981.6 1323.1h5v5h-5zM987.2 1285.7h5v5h-5zM991.7 1309.4h5v5h-5zM998.1 1315.2h5v5h-5zM997.7 1321.8h5v5h-5zM1003.1 1289.4h5v5h-5zM1007.6 1311.5h5v5h-5zM1007.9 1304.1h5v5h-5zM1028.5 1312.6h5v5h-5zM1053.1 1300.9h5v5h-5zM1058.2 1283.3h5v5h-5zM1062.3 1288.5h5v5h-5zM1066.7 1265.8h5v5h-5zM1071.6 1305.8h5v5h-5zM1078.3 1251.4h5v5h-5zM1081.6 1278.6h5v5h-5zM1087.9 1324.3h5v5h-5zM1091.5 1311h5v5h-5zM1107.6 1337.3h5v5h-5zM1123.3 1301h5v5h-5zM1128.3 1287.3h5v5h-5zM1142.4 1273h5v5h-5zM1147.8 1305.4h5v5h-5zM1158.1 1253.2h5v5h-5zM1172.1 1308.9h5v5h-5zM1181.9 1254.6h5v5h-5zM1193.3 1292.9h5v5h-5zM1197.7 1265.1h5v5h-5zM1198.1 1257.5h5v5h-5zM1213.4 1309.1h5v5h-5zM1217.4 1320.4h5v5h-5zM1223.5 1322.9h5v5h-5zM1222.2 1306.3h5v5h-5zM1227.2 1327h5v5h-5zM1237 1251h5v5h-5zM1242.9 1325.9h5v5h-5zM1251.6 1311.1h5v5h-5zM1253.1 1321.4h5v5h-5zM1258 1236.3h5v5h-5zM1258.1 1272.3h5v5h-5zM1267 1269.9h5v5h-5zM1278.2 1336h5v5h-5zM1292.8 1304.8h5v5h-5zM1307.8 1215.9h5v5h-5zM1307.3 1220.3h5v5h-5zM1312.5 1245.8h5v5h-5zM1323.5 1229.8h5v5h-5zM1327 1255.9h5v5h-5zM1333 1299.7h5v5h-5zM1346.8 1333.7h5v5h-5zM1352 1281h5v5h-5zM1357.6 1203.4h5v5h-5zM1367.8 1305.9h5v5h-5zM1368.3 1313.4h5v5h-5zM1368.4 1313h5v5h-5zM1372.2 1321.9h5v5h-5zM1372.6 1185.2h5v5h-5zM1398.3 1307.3h5v5h-5zM1402.3 1259.5h5v5h-5zM1407.3 1324.3h5v5h-5zM1422.4 1275.4h5v5h-5zM1427.8 1299.6h5v5h-5zM1428.1 1299.5h5v5h-5zM1437.4 1324.3h5v5h-5zM1442.3 1300.4h5v5h-5zM1443.2 1297.8h5v5h-5zM1452.4 1255.8h5v5h-5zM1457.5 1222h5v5h-5zM1457.2 1215.3h5v5h-5zM1457.6 1229.8h5v5h-5zM1458.2 1158.1h5v5h-5zM1467.9 1196.5h5v5h-5zM1473.2 1106.9h5v5h-5zM1476.8 1154.7h5v5h-5zM1482.8 1092.3h5v5h-5zM1487.4 1198.3h5v5h-5zM1488.3 1167.2h5v5h-5zM1497 1234.9h5v5h-5zM1497.8 1234.7h5v5h-5zM1496.6 1232.5h5v5h-5zM1502.3 1243h5v5h-5zM1508.1 1176.6h5v5h-5zM1506.6 1127.2h5v5h-5zM1507 1177.8h5v5h-5zM1511.8 1166h5v5h-5zM1517.2 1179.7h5v5h-5zM1516.7 1202.6h5v5h-5zM1527.6 1168.4h5v5h-5zM1527.4 1192.8h5v5h-5zM1531.8 1290.5h5v5h-5zM1533.2 1296.4h5v5h-5zM1533.1 1259.8h5v5h-5zM1541.8 1138.9h5v5h-5zM1542.2 1216.3h5v5h-5zM1547.3 1122.5h5v5h-5zM1552.7 1170.2h5v5h-5zM1558.4 1190.2h5v5h-5zM1562 1263.8h5v5h-5zM1567.1 1220.6h5v5h-5zM1577.4 1118h5v5h-5zM1577.8 1165.7h5v5h-5zM1577.5 1084.3h5v5h-5zM1583 1287h5v5h-5zM1582.1 1307h5v5h-5zM1582.4 1308.4h5v5h-5zM1583 1289.3h5v5h-5zM1592.5 1228.7h5v5h-5zM1596.8 1270h5v5h-5zM1607.1 1267h5v5h-5zM1611.8 1286.1h5v5h-5zM1617.4 1223.6h5v5h-5zM1618.1 1259.2h5v5h-5zM1623.5 1240.2h5v5h-5zM1626.7 1151.8h5v5h-5zM1631.6 1287.8h5v5h-5zM1631.8 1279.6h5v5h-5zM1632.7 1299.8h5v5h-5zM1637.7 1260.8h5v5h-5zM1637.1 1232.3h5v5h-5zM1637.7 1270h5v5h-5zM1643.1 1199.7h5v5h-5zM1643 1115h5v5h-5zM1653.4 1301.5h5v5h-5zM1651.9 1301.5h5v5h-5zM1656.7 1233.2h5v5h-5zM1656.6 1114h5v5h-5zM1663.3 1218.4h5v5h-5zM1663 1220.3h5v5h-5zM1661.9 1181.4h5v5h-5zM1671.6 1187.5h5v5h-5zM1677.3 1240.8h5v5h-5zM1683.1 1274h5v5h-5zM1688.1 1275.5h5v5h-5zM1687.3 1260.3h5v5h-5zM1686.9 1082.9h5v5h-5zM1692.2 1226.7h5v5h-5zM1693.1 1230.5h5v5h-5zM1701.8 1222.3h5v5h-5zM1702.4 1209.4h5v5h-5zM1707.3 1264.4h5v5h-5zM1708.2 1296.8h5v5h-5zM1713.3 1193.3h5v5h-5zM1711.7 1249.2h5v5h-5zM1726.6 1254.2h5v5h-5zM1727.1 1237.6h5v5h-5zM1727.5 1212.1h5v5h-5zM1733.2 1270.1h5v5h-5zM1732.6 1264.8h5v5h-5zM1732.6 1227.8h5v5h-5zM1738.2 1277.1h5v5h-5zM1737.5 1203.1h5v5h-5zM1741.9 1257.5h5v5h-5zM1747.4 1255.9h5v5h-5zM1746.6 1265.6h5v5h-5zM1747 1261.3h5v5h-5zM1752.2 1236.9h5v5h-5zM1758.3 1317.2h5v5h-5zM1761.6 1216.3h5v5h-5zM1763.1 1205.5h5v5h-5zM1762.6 1186h5v5h-5zM1767.9 1221.5h5v5h-5zM1776.8 1201.9h5v5h-5zM1783.1 1217.7h5v5h-5zM1781.9 1202h5v5h-5zM1787.2 1215.8h5v5h-5zM1792.3 1306.4h5v5h-5zM1792.4 1279.1h5v5h-5zM1797.7 1260.1h5v5h-5zM1803.2 1205.1h5v5h-5zM1803.2 1176h5v5h-5zM1802.1 1206.8h5v5h-5zM1807.4 1209h5v5h-5zM1807.1 1224.1h5v5h-5zM1816.6 1311h5v5h-5zM1821.6 1217.5h5v5h-5zM1828.4 1246.8h5v5h-5zM1833 1301.7h5v5h-5zM1837.1 1217h5v5h-5zM1836.6 1260.5h5v5h-5zM1846.7 1167.5h5v5h-5zM1846.8 1188.2h5v5h-5zM1852.8 1214.4h5v5h-5zM1856.6 1212.1h5v5h-5zM1858.2 1254.4h5v5h-5zM1856.8 1091.4h5v5h-5zM1872.2 1308.4h5v5h-5zM1876.5 1156.4h5v5h-5zM1878.3 1163.9h5v5h-5zM1877.8 1230.8h5v5h-5zM1886.7 1249.5h5v5h-5zM1908.4 1208.1h5v5h-5zM1912.9 1282.9h5v5h-5zM1917.6 1101.9h5v5h-5zM1921.9 1295.7h5v5h-5zM1922.3 1296.1h5v5h-5zM1928.5 1274h5v5h-5zM1927.2 1231.5h5v5h-5zM1927.3 1270.2h5v5h-5zM1933.4 1233.6h5v5h-5zM1932.8 1257.3h5v5h-5zM1931.8 1276.8h5v5h-5zM1932.5 1190.7h5v5h-5zM1948.1 1302h5v5h-5zM1946.5 1308.5h5v5h-5zM1961.6 1332.3h5v5h-5zM1961.7 1335.9h5v5h-5zM1962.2 1337.8h5v5h-5zM1961.9 1321.4h5v5h-5zM1966.7 1320.4h5v5h-5zM1967.7 1299.4h5v5h-5zM1968.1 1178.8h5v5h-5zM1972.4 1266.5h5v5h-5zM1971.8 1286.8h5v5h-5zM1978.2 1266.7h5v5h-5zM1977.2 1279.9h5v5h-5zM1977.8 1289.4h5v5h-5zM1987 1336.6h5v5h-5zM1987.5 1337.9h5v5h-5zM1992.2 1335h5v5h-5z" fill="#0020ff"/>
<path d="M343.3 1343.8h5v5h-5zM397.8 1311.6h5v5h-5zM413.4 1322.5h5v5h-5zM443.3 1298.8h5v5h-5zM458.2 1283.3h5v5h-5zM461.8 1299.8h5v5h-5zM526.5 1309.1h5v5h-5zM598.5 1315.2h5v5h-5zM667.7 1311h5v5h-5zM697 1310.1h5v5h-5zM732.7 1335.8h5v5h-5zM816.8 1311.9h5v5h-5zM827.1 1318.7h5v5h-5zM832.9 1302.1h5v5h-5zM847.5 1321.1h5v5h-5zM852.5 1328.7h5v5h-5zM877.7 1305h5v5h-5zM883.5 1267.4h5v5h-5zM906.8 1324.7h5v5h-5zM912.4 1313.1h5v5h-5zM923.5 1323.8h5v5h-5zM946.7 1323.3h5v5h-5zM948 1245.1h5v5h-5zM958.4 1318.7h5v5h-5zM986.9 1310.7h5v5h-5zM1018.1 1305.3h5v5h-5zM1022.6 1311.9h5v5h-5zM1027 1309.4h5v5h-5zM1046.8 1304.7h5v5h-5zM1092.2 1313h5v5h-5zM1093.1 1314.3h5v5h-5zM1102.2 1280.9h5v5h-5zM1106.7 1266.3h5v5h-5zM1122.4 1300.3h5v5h-5zM1126.8 1296h5v5h-5zM1132.2 1333h5v5h-5zM1137.1 1317.7h5v5h-5zM1152.6 1256.1h5v5h-5zM1151.9 1222.3h5v5h-5zM1158.5 1264.5h5v5h-5zM1163.3 1226.5h5v5h-5zM1171.9 1287.5h5v5h-5zM1213.4 1307.6h5v5h-5zM1221.9 1326h5v5h-5zM1231.8 1258.9h5v5h-5zM1242.6 1265.7h5v5h-5zM1256.5 1283.2h5v5h-5zM1261.8 1217.6h5v5h-5zM1276.7 1334.6h5v5h-5zM1283.3 1318.3h5v5h-5zM1283 1332h5v5h-5zM1302.1 1300.7h5v5h-5zM1313.5 1236.2h5v5h-5zM1347 1327.9h5v5h-5zM1352.3 1288.1h5v5h-5zM1353.1 1280.9h5v5h-5zM1362.4 1324.7h5v5h-5zM1371.9 1309.4h5v5h-5zM1386.8 1276.4h5v5h-5zM1387.6 1280.9h5v5h-5zM1386.6 1287.2h5v5h-5zM1391.8 1300.7h5v5h-5zM1412.1 1296h5v5h-5zM1417.7 1160.6h5v5h-5zM1422.5 1272.4h5v5h-5zM1426.7 1309.9h5v5h-5zM1432.9 1285.1h5v5h-5zM1432.2 1271.6h5v5h-5zM1437.3 1319.1h5v5h-5zM1438.2 1314.8h5v5h-5zM1457.4 1256.2h5v5h-5zM1461.6 1136.8h5v5h-5zM1462.3 1126.8h5v5h-5zM1461.6 1136.2h5v5h-5zM1466.7 1196.2h5v5h-5zM1467.5 1187.6h5v5h-5zM1467.7 1187.7h5v5h-5zM1473.3 1141.5h5v5h-5zM1473 1128.1h5v5h-5zM1478.2 1113.5h5v5h-5zM1478.1 1138h5v5h-5zM1481.8 1080.6h5v5h-5zM1481.9 1169.4h5v5h-5zM1497.8 1199.6h5v5h-5zM1498.5 1219.4h5v5h-5zM1496.9 1188.3h5v5h-5zM1503.1 1255.2h5v5h-5zM1502.7 1266.8h5v5h-5zM1511.9 1163.3h5v5h-5zM1513.2 1078.3h5v5h-5zM1511.9 1159.8h5v5h-5zM1517.6 1159.5h5v5h-5zM1527.2 1198h5v5h-5zM1527.6 1202.6h5v5h-5zM1532.8 1283.5h5v5h-5zM1541.7 1214.1h5v5h-5zM1541.8 1183.8h5v5h-5zM1548.2 1219.8h5v5h-5zM1552.3 1176.8h5v5h-5zM1552.4 1174.5h5v5h-5zM1557.8 1150.9h5v5h-5zM1567.4 1250.1h5v5h-5zM1567.4 1240.2h5v5h-5zM1568 1236.6h5v5h-5zM1571.8 1252.8h5v5h-5zM1571.9 1270.3h5v5h-5zM1576.5 1074.7h5v5h-5zM1588 1227.4h5v5h-5zM1587 1190.2h5v5h-5zM1592.1 1145.8h5v5h-5zM1598.4 1277.9h5v5h-5zM1598 1262.9h5v5h-5zM1598.4 1217.7h5v5h-5zM1613.5 1272.6h5v5h-5zM1612.1 1163.3h5v5h-5zM1617.2 1179.5h5v5h-5zM1621.8 1278.4h5v5h-5zM1621.6 1264.4h5v5h-5zM1621.9 1163.3h5v5h-5zM1627.7 1250.9h5v5h-5zM1626.8 1225.8h5v5h-5zM1638.1 1244.2h5v5h-5zM1648.3 1198.2h5v5h-5zM1647.9 1215.4h5v5h-5zM1647.7 1222.7h5v5h-5zM1657.5 1267.1h5v5h-5zM1657.3 1266.6h5v5h-5zM1671.7 1225.5h5v5h-5zM1672.3 1224h5v5h-5zM1677.8 1203.4h5v5h-5zM1678.4 1235.3h5v5h-5zM1678 1236.8h5v5h-5zM1681.8 1296.2h5v5h-5zM1681.6 1305.1h5v5h-5zM1697.3 1247.9h5v5h-5zM1697.4 1251.9h5v5h-5zM1707.7 1300.3h5v5h-5zM1706.6 1298.5h5v5h-5zM1716.8 1269.8h5v5h-5zM1722.1 1244h5v5h-5zM1722.9 1264h5v5h-5zM1721.7 1226.1h5v5h-5zM1731.8 1269.3h5v5h-5zM1738 1294.9h5v5h-5zM1738 1298.4h5v5h-5zM1737.2 1282.6h5v5h-5zM1737.4 1295.3h5v5h-5zM1747.9 1268.9h5v5h-5zM1757.7 1303h5v5h-5zM1757.3 1226.4h5v5h-5zM1762.4 1193.3h5v5h-5zM1767.9 1222.6h5v5h-5zM1776.6 1198.8h5v5h-5zM1777.8 1193.3h5v5h-5zM1787.5 1205.1h5v5h-5zM1787.9 1233.8h5v5h-5zM1797.5 1221.8h5v5h-5zM1803.2 1183.7h5v5h-5zM1801.6 1210.1h5v5h-5zM1806.7 1238.6h5v5h-5zM1806.7 1209h5v5h-5zM1812.6 1318.9h5v5h-5zM1812.5 1242.8h5v5h-5zM1818.2 1301.6h5v5h-5zM1822.2 1217.9h5v5h-5zM1827.4 1249.6h5v5h-5zM1832.2 1300.7h5v5h-5zM1836.6 1215.1h5v5h-5zM1842 1263.4h5v5h-5zM1841.7 1242.3h5v5h-5zM1843.3 1249.2h5v5h-5zM1853.4 1226.8h5v5h-5zM1851.8 1159.8h5v5h-5zM1857.1 1252.9h5v5h-5zM1863.1 1248.1h5v5h-5zM1862.9 1276.2h5v5h-5zM1868.1 1205.5h5v5h-5zM1866.8 1196.1h5v5h-5zM1866.6 1222.6h5v5h-5zM1871.6 1310.8h5v5h-5zM1877.6 1211h5v5h-5zM1877.7 1221.1h5v5h-5zM1883.1 1254.8h5v5h-5zM1887.2 1250.6h5v5h-5zM1887.9 1242.6h5v5h-5zM1892.8 1193.8h5v5h-5zM1892.6 1233.2h5v5h-5zM1901.9 1238.6h5v5h-5zM1902.8 1247.3h5v5h-5zM1903.2 1259.7h5v5h-5zM1907 1199h5v5h-5zM1906.6 1202.8h5v5h-5zM1912.1 1272.1h5v5h-5zM1912.8 1289.5h5v5h-5zM1917.1 1240.6h5v5h-5zM1918.1 1226.6h5v5h-5zM1918.2 1227h5v5h-5zM1927.7 1232.7h5v5h-5zM1927.7 1259.1h5v5h-5zM1932.7 1272.4h5v5h-5zM1936.8 1252.1h5v5h-5zM1937.4 1215.4h5v5h-5zM1937.1 1239.2h5v5h-5zM1937.7 1134.9h5v5h-5zM1942.3 1319.2h5v5h-5zM1942 1304.6h5v5h-5zM1967.6 1323.9h5v5h-5zM1977 1275.5h5v5h-5zM1976.7 1298.8h5v5h-5zM1982.3 1304.7h5v5h-5zM1982.6 1320.6h5v5h-5zM1988.5 1340.9h5v5h-5z" fill="#0000b8"/>
<path d="M347.6 1346.8h5v5h-5zM383.5 1302.6h5v5h-5zM402 1322h5v5h-5zM493.4 1308.9h5v5h-5zM558.3 1292.8h5v5h-5zM567.2 1317.4h5v5h-5zM588.1 1305h5v5h-5zM596.9 1314.3h5v5h-5zM621.8 1306h5v5h-5zM642.6 1305.7h5v5h-5zM657.9 1294.8h5v5h-5zM678.3 1306.6h5v5h-5zM682.6 1321.6h5v5h-5zM722.4 1324h5v5h-5zM736.7 1342.5h5v5h-5zM797.2 1335.8h5v5h-5zM817.7 1332.2h5v5h-5zM822.6 1332h5v5h-5zM827.2 1328.5h5v5h-5zM861.8 1316.4h5v5h-5zM866.6 1324h5v5h-5zM872.6 1325.1h5v5h-5zM877.3 1327.1h5v5h-5zM883 1310.9h5v5h-5zM882 1325.7h5v5h-5zM927 1300.8h5v5h-5zM926.7 1321.5h5v5h-5zM943.4 1320.4h5v5h-5zM942 1312.9h5v5h-5zM947.9 1329.4h5v5h-5zM957.4 1290.1h5v5h-5zM967.6 1327.6h5v5h-5zM966.8 1325.9h5v5h-5zM973.3 1314.3h5v5h-5zM977 1312.7h5v5h-5zM983.2 1317.8h5v5h-5zM987.8 1309h5v5h-5zM1003.2 1274.9h5v5h-5zM1006.6 1317.7h5v5h-5zM1021.9 1309.6h5v5h-5zM1033.2 1336.3h5v5h-5zM1031.6 1335.6h5v5h-5zM1037.8 1307.4h5v5h-5zM1052 1300.8h5v5h-5zM1057.9 1274.8h5v5h-5zM1062.6 1269.8h5v5h-5zM1067.9 1285.6h5v5h-5zM1076.8 1228.4h5v5h-5zM1083.4 1250h5v5h-5zM1102.8 1293.5h5v5h-5zM1101.9 1278.6h5v5h-5zM1108.1 1323.5h5v5h-5zM1112.7 1248.1h5v5h-5zM1111.9 1273.6h5v5h-5zM1117.6 1307.2h5v5h-5zM1127.2 1304.3h5v5h-5zM1142.1 1277.6h5v5h-5zM1141.6 1268.7h5v5h-5zM1147.3 1301.3h5v5h-5zM1162.8 1153h5v5h-5zM1167 1178.4h5v5h-5zM1172.6 1314.6h5v5h-5zM1177.5 1290.5h5v5h-5zM1186.7 1203.1h5v5h-5zM1191.6 1306.3h5v5h-5zM1222.8 1316h5v5h-5zM1246.9 1263.8h5v5h-5zM1252.3 1300.1h5v5h-5zM1268.4 1229.1h5v5h-5zM1271.9 1319.6h5v5h-5zM1277.8 1327.2h5v5h-5zM1282.3 1322h5v5h-5zM1287 1313.7h5v5h-5zM1286.8 1313.6h5v5h-5zM1292.7 1292.6h5v5h-5zM1296.9 1297.3h5v5h-5zM1302 1304h5v5h-5zM1303.3 1262.3h5v5h-5zM1307 1269.8h5v5h-5zM1321.7 1261.4h5v5h-5zM1322.8 1282.9h5v5h-5zM1326.6 1268.8h5v5h-5zM1337.7 1259.3h5v5h-5zM1341.7 1319.7h5v5h-5zM1347.3 1335.7h5v5h-5zM1363.5 1336.1h5v5h-5zM1366.7 1311h5v5h-5zM1388 1260.5h5v5h-5zM1397 1312.5h5v5h-5zM1408.3 1325h5v5h-5zM1413.2 1283.8h5v5h-5zM1417.5 1281.9h5v5h-5zM1417.7 1275.1h5v5h-5zM1447 1276.2h5v5h-5zM1447.9 1250.5h5v5h-5zM1452.9 1229.1h5v5h-5zM1451.7 1214.6h5v5h-5zM1451.9 1254h5v5h-5zM1458.5 1251.2h5v5h-5zM1456.6 1232.3h5v5h-5zM1457.6 1211.7h5v5h-5zM1457 1233h5v5h-5zM1462.5 1183.9h5v5h-5zM1462.5 1146.9h5v5h-5zM1461.6 1060.9h5v5h-5zM1467.1 1161.7h5v5h-5zM1473.3 1131.2h5v5h-5zM1472.8 1119.6h5v5h-5zM1477.7 1159.2h5v5h-5zM1483.4 1109.3h5v5h-5zM1482.7 1136.5h5v5h-5zM1492.1 1114.4h5v5h-5zM1492.1 1145.1h5v5h-5zM1492.8 1118.4h5v5h-5zM1498.3 1128.1h5v5h-5zM1502.4 1202.8h5v5h-5zM1501.9 1211h5v5h-5zM1507.4 1184.4h5v5h-5zM1516.6 1181.9h5v5h-5zM1518.1 1156.6h5v5h-5zM1521.7 1149.7h5v5h-5zM1522.6 1167.1h5v5h-5zM1521.9 1190.8h5v5h-5zM1522.5 1124h5v5h-5zM1528.3 1239.1h5v5h-5zM1532.4 1258.9h5v5h-5zM1533.3 1286.7h5v5h-5zM1537.5 1189.7h5v5h-5zM1538.4 1209.3h5v5h-5zM1547.5 1145.4h5v5h-5zM1546.9 1153h5v5h-5zM1553 1158.4h5v5h-5zM1553.2 1174.2h5v5h-5zM1558.5 1225.4h5v5h-5zM1562.5 1289.7h5v5h-5zM1562.4 1293.2h5v5h-5zM1562 1291.5h5v5h-5zM1562.8 1277.4h5v5h-5zM1563.4 1254.1h5v5h-5zM1561.9 1284.8h5v5h-5zM1563.5 1273.4h5v5h-5zM1567.3 1117.9h5v5h-5zM1583.1 1312.7h5v5h-5zM1582.9 1307.4h5v5h-5zM1587 1195.3h5v5h-5zM1587.6 1207.8h5v5h-5zM1592.8 1254.9h5v5h-5zM1597 1272.2h5v5h-5zM1597.7 1277.2h5v5h-5zM1602.7 1311.7h5v5h-5zM1603.3 1306.9h5v5h-5zM1601.6 1304.2h5v5h-5zM1607 1295.9h5v5h-5zM1608.4 1248.3h5v5h-5zM1607.7 1283.6h5v5h-5zM1607.2 1261.3h5v5h-5zM1611.6 1276.6h5v5h-5zM1613.5 1257h5v5h-5zM1612.1 1254.9h5v5h-5zM1618 1267.6h5v5h-5zM1621.9 1236.2h5v5h-5zM1626.6 1231.9h5v5h-5zM1626.7 1246.8h5v5h-5zM1632.6 1260h5v5h-5zM1637.6 1231.9h5v5h-5zM1641.6 1201.9h5v5h-5zM1647.5 1225.7h5v5h-5zM1646.9 1118.6h5v5h-5zM1651.5 1296.2h5v5h-5zM1653.2 1293.2h5v5h-5zM1657.1 1243.1h5v5h-5zM1666.7 1281.9h5v5h-5zM1666.6 1275.2h5v5h-5zM1672 1200.2h5v5h-5zM1672.9 1169.4h5v5h-5zM1682.1 1291.5h5v5h-5zM1682.7 1305.8h5v5h-5zM1686.5 1282.4h5v5h-5zM1686.6 1271h5v5h-5zM1693.4 1209.2h5v5h-5zM1698.3 1199h5v5h-5zM1697.7 1224.1h5v5h-5zM1708.5 1299.8h5v5h-5zM1717.4 1277.5h5v5h-5zM1717.8 1269.8h5v5h-5zM1716.6 1234.6h5v5h-5zM1728.3 1262.8h5v5h-5zM1732 1251.9h5v5h-5zM1733.4 1278.6h5v5h-5zM1737.8 1287.8h5v5h-5zM1742.7 1177.4h5v5h-5zM1748.2 1239.5h5v5h-5zM1753 1216.8h5v5h-5zM1757.4 1306.5h5v5h-5zM1757.1 1315.9h5v5h-5zM1757.3 1280.8h5v5h-5zM1762.8 1173.8h5v5h-5zM1767.2 1191.6h5v5h-5zM1768 1214.9h5v5h-5zM1772 1206.4h5v5h-5zM1771.6 1243.6h5v5h-5zM1772.1 1229.2h5v5h-5zM1782.3 1202.4h5v5h-5zM1782.5 1186h5v5h-5zM1787.6 1246.2h5v5h-5zM1787.2 1248.1h5v5h-5zM1798.3 1248h5v5h-5zM1798.4 1263.3h5v5h-5zM1803.3 1200.1h5v5h-5zM1806.9 1232h5v5h-5zM1818.4 1293.8h5v5h-5zM1826.7 1275.9h5v5h-5zM1833.4 1310.5h5v5h-5zM1837.5 1239.3h5v5h-5zM1836.5 1236.1h5v5h-5zM1838.2 1193h5v5h-5zM1843.3 1257.6h5v5h-5zM1842.2 1285.1h5v5h-5zM1841.7 1279.5h5v5h-5zM1847.3 1232.1h5v5h-5zM1847.4 1194.8h5v5h-5zM1852.9 1138.2h5v5h-5zM1862.2 1275.7h5v5h-5zM1867.4 1217.4h5v5h-5zM1872.3 1302.2h5v5h-5zM1883.2 1218.2h5v5h-5zM1883.3 1265.6h5v5h-5zM1882.4 1273.2h5v5h-5zM1881.9 1175h5v5h-5zM1888 1266.3h5v5h-5zM1892.7 1219.8h5v5h-5zM1893.3 1248.8h5v5h-5zM1891.9 1230.1h5v5h-5zM1896.9 1165.8h5v5h-5zM1896.8 1175.7h5v5h-5zM1897.3 1202.9h5v5h-5zM1897.8 1098.4h5v5h-5zM1902.2 1254.7h5v5h-5zM1908.1 1191h5v5h-5zM1912.7 1288h5v5h-5zM1917.4 1238.2h5v5h-5zM1921.7 1296.2h5v5h-5zM1921.6 1303.3h5v5h-5zM1921.7 1183.9h5v5h-5zM1937.3 1247.8h5v5h-5zM1941.8 1328.4h5v5h-5zM1943.1 1311.8h5v5h-5zM1943 1319.5h5v5h-5zM1948.5 1286.4h5v5h-5zM1953.4 1324.5h5v5h-5zM1952.6 1321.8h5v5h-5zM1953.3 1278.6h5v5h-5zM1958.3 1293.6h5v5h-5zM1956.5 1279.3h5v5h-5zM1957.8 1279.1h5v5h-5zM1957.7 1284.3h5v5h-5zM1962.2 1325.4h5v5h-5zM1961.8 1337.1h5v5h-5zM1967.2 1286h5v5h-5zM1972.5 1280.9h5v5h-5zM1972.9 1281.5h5v5h-5zM1983.4 1130.9h5v5h-5zM1992 1327.6h5v5h-5z" fill="#0000e0"/>
<path d="M373.5 1325.2h5v5h-5zM483.2 1311.7h5v5h-5zM502.7 1279.6h5v5h-5zM522.7 1295.6h5v5h-5zM547.9 1291.2h5v5h-5zM563.4 1311.5h5v5h-5zM576.9 1297.8h5v5h-5zM582.8 1298.9h5v5h-5zM607 1303.9h5v5h-5zM707.4 1318.7h5v5h-5zM747.2 1361.8h5v5h-5zM752.8 1356.3h5v5h-5zM757.6 1348.6h5v5h-5zM776.7 1347.6h5v5h-5zM781.5 1335.8h5v5h-5zM792.5 1324.1h5v5h-5zM838 1305.7h5v5h-5zM841.9 1324.6h5v5h-5zM887.4 1324.8h5v5h-5zM892.5 1318.4h5v5h-5zM893.3 1322.9h5v5h-5zM896.8 1329.5h5v5h-5zM917.1 1330.1h5v5h-5zM917.7 1321.9h5v5h-5zM923.4 1323.3h5v5h-5zM931.8 1316.9h5v5h-5zM951.7 1306.7h5v5h-5zM963.2 1318.6h5v5h-5zM1036.9 1302.7h5v5h-5zM1036.6 1310.2h5v5h-5zM1041.6 1322.8h5v5h-5zM1056.9 1255.1h5v5h-5zM1072.9 1284.2h5v5h-5zM1082 1260.2h5v5h-5zM1098.1 1315h5v5h-5zM1096.7 1305.9h5v5h-5zM1122.5 1285.5h5v5h-5zM1132.8 1333.2h5v5h-5zM1153.2 1265.4h5v5h-5zM1167.4 1306.9h5v5h-5zM1168.4 1278.3h5v5h-5zM1176.5 1280.5h5v5h-5zM1188.5 1262.7h5v5h-5zM1198 1279.5h5v5h-5zM1202.4 1250.4h5v5h-5zM1208.4 1271.2h5v5h-5zM1217.2 1340h5v5h-5zM1227.3 1323.2h5v5h-5zM1226.9 1330.6h5v5h-5zM1232.8 1270.7h5v5h-5zM1237.7 1250.3h5v5h-5zM1243.3 1326.3h5v5h-5zM1248.2 1274.9h5v5h-5zM1261.8 1276.8h5v5h-5zM1263.4 1274.5h5v5h-5zM1263.2 1246.3h5v5h-5zM1282.7 1319.5h5v5h-5zM1287.3 1306.7h5v5h-5zM1291.7 1322.3h5v5h-5zM1297.6 1289.5h5v5h-5zM1317.4 1236.5h5v5h-5zM1322.3 1298.4h5v5h-5zM1326.5 1200.6h5v5h-5zM1331.8 1299.2h5v5h-5zM1337.4 1228.9h5v5h-5zM1337.6 1246h5v5h-5zM1342.4 1340h5v5h-5zM1357.1 1266h5v5h-5zM1358.5 1243.5h5v5h-5zM1372.7 1306.5h5v5h-5zM1378.4 1289.2h5v5h-5zM1377.6 1296.9h5v5h-5zM1382.2 1304.7h5v5h-5zM1383.4 1293.8h5v5h-5zM1397.8 1297.7h5v5h-5zM1401.7 1253h5v5h-5zM1406.8 1321h5v5h-5zM1407.1 1307.4h5v5h-5zM1428.3 1303.6h5v5h-5zM1432.2 1282h5v5h-5zM1442.4 1328.3h5v5h-5zM1443.4 1296.5h5v5h-5zM1442.6 1314.1h5v5h-5zM1447.2 1292.4h5v5h-5zM1447.4 1271.3h5v5h-5zM1447.3 1290.8h5v5h-5zM1451.5 1198.7h5v5h-5zM1468 1201h5v5h-5zM1472.5 1164.7h5v5h-5zM1477.7 1160.3h5v5h-5zM1502.6 1254h5v5h-5zM1508.3 1164.4h5v5h-5zM1513.2 1156.3h5v5h-5zM1512.8 1161.5h5v5h-5zM1518.2 1169.2h5v5h-5zM1517.2 1153.4h5v5h-5zM1522.2 1094.6h5v5h-5zM1537.2 1210.8h5v5h-5zM1536.8 1250.4h5v5h-5zM1542.7 1195.1h5v5h-5zM1546.7 1213.9h5v5h-5zM1552 1147.8h5v5h-5zM1552.1 1206h5v5h-5zM1557.8 1213.6h5v5h-5zM1566.8 1211.1h5v5h-5zM1571.5 1286.6h5v5h-5zM1573.2 1272.2h5v5h-5zM1577 1136.9h5v5h-5zM1581.7 1308.4h5v5h-5zM1587.8 1204.3h5v5h-5zM1587.1 1223.7h5v5h-5zM1593 1254h5v5h-5zM1593 1241.5h5v5h-5zM1602.2 1320.1h5v5h-5zM1603.2 1308.5h5v5h-5zM1617.1 1199.1h5v5h-5zM1617.6 1278.8h5v5h-5zM1627.2 1183.1h5v5h-5zM1633 1288.8h5v5h-5zM1638.3 1267h5v5h-5zM1642.6 1191.8h5v5h-5zM1643 1246.3h5v5h-5zM1642.2 1248.3h5v5h-5zM1647.5 1128.5h5v5h-5zM1653.2 1272.1h5v5h-5zM1657.2 1257.8h5v5h-5zM1657.7 1219.4h5v5h-5zM1658.4 1235.5h5v5h-5zM1666.9 1282.4h5v5h-5zM1667 1246.7h5v5h-5zM1667.9 1268h5v5h-5zM1677.4 1258.6h5v5h-5zM1682.1 1291.5h5v5h-5zM1693 1261.2h5v5h-5zM1692.9 1251.9h5v5h-5zM1692.4 1216.2h5v5h-5zM1702.1 1189.4h5v5h-5zM1701.8 1219.1h5v5h-5zM1702 1228.3h5v5h-5zM1702.1 1201h5v5h-5zM1708.3 1294.5h5v5h-5zM1716.7 1236.9h5v5h-5zM1728.4 1232.9h5v5h-5zM1726.7 1222.4h5v5h-5zM1726.8 1244.6h5v5h-5zM1742.3 1260.3h5v5h-5zM1746.5 1218.5h5v5h-5zM1747.9 1220.9h5v5h-5zM1753.2 1189.5h5v5h-5zM1752 1258.2h5v5h-5zM1752.6 1245.9h5v5h-5zM1757.8 1307h5v5h-5zM1762.3 1192.5h5v5h-5zM1773.1 1246.4h5v5h-5zM1777.9 1202.2h5v5h-5zM1777.2 1214h5v5h-5zM1787.4 1192.6h5v5h-5zM1797.9 1259.9h5v5h-5zM1797.4 1205.1h5v5h-5zM1813.4 1316h5v5h-5zM1812.1 1315.8h5v5h-5zM1813.3 1296h5v5h-5zM1817.2 1304.5h5v5h-5zM1823.3 1232.1h5v5h-5zM1822.3 1234.9h5v5h-5zM1833.2 1280.4h5v5h-5zM1847 1222.6h5v5h-5zM1846.8 1234.8h5v5h-5zM1853.4 1214.9h5v5h-5zM1851.5 1239.8h5v5h-5zM1866.8 1234.5h5v5h-5zM1872.4 1305h5v5h-5zM1887.5 1248.4h5v5h-5zM1892.3 1227.2h5v5h-5zM1898.2 1198.2h5v5h-5zM1912 1286.1h5v5h-5zM1917.8 1183.4h5v5h-5zM1932.1 1243.2h5v5h-5zM1933.1 1268.1h5v5h-5zM1938.4 1226.5h5v5h-5zM1942.2 1322h5v5h-5zM1948.2 1310.7h5v5h-5zM1952.7 1319.9h5v5h-5zM1956.9 1298.7h5v5h-5zM1972.1 1293.2h5v5h-5zM1978.3 1272.3h5v5h-5zM1981.8 1312.4h5v5h-5zM1993.3 1334.3h5v5h-5z" fill="#0030ff"/>
<path d="M428.2 1303.3h5v5h-5zM517.8 1315.3h5v5h-5zM536.6 1284.9h5v5h-5zM612.8 1286.6h5v5h-5zM647.1 1287.1h5v5h-5zM652.9 1311.4h5v5h-5zM683.5 1235h5v5h-5zM721.6 1300.1h5v5h-5zM727.2 1338.1h5v5h-5zM768.2 1344.8h5v5h-5zM767.2 1286.8h5v5h-5zM772.4 1342.8h5v5h-5zM787.3 1311.8h5v5h-5zM802.1 1309.7h5v5h-5zM807 1334.8h5v5h-5zM828.3 1290.4h5v5h-5zM846.8 1305.9h5v5h-5zM857.1 1321.4h5v5h-5zM867.1 1317.7h5v5h-5zM898.2 1316.2h5v5h-5zM897.6 1206.2h5v5h-5zM912.8 1314.3h5v5h-5zM932.5 1320.3h5v5h-5zM937.9 1291.8h5v5h-5zM968.1 1322.8h5v5h-5zM973 1309.9h5v5h-5zM982.8 1171.4h5v5h-5zM993.1 1278.1h5v5h-5zM996.8 1319.6h5v5h-5zM1002.9 1280.9h5v5h-5zM1012 1295h5v5h-5zM1011.8 1304.4h5v5h-5zM1013.2 1300.8h5v5h-5zM1018.1 1289.3h5v5h-5zM1043.1 1322.1h5v5h-5zM1047.2 1308.5h5v5h-5zM1066.8 1284.2h5v5h-5zM1078.5 1275.3h5v5h-5zM1087.1 1310.5h5v5h-5zM1087.1 1324.6h5v5h-5zM1107.8 1327.9h5v5h-5zM1112 1223.1h5v5h-5zM1118.2 1292.2h5v5h-5zM1137.8 1286.5h5v5h-5zM1146.8 1293h5v5h-5zM1157.4 1277.1h5v5h-5zM1162 1276.5h5v5h-5zM1183.1 1262.6h5v5h-5zM1188.2 1257.1h5v5h-5zM1186.7 1274.1h5v5h-5zM1196.6 1279.9h5v5h-5zM1202.4 1283.3h5v5h-5zM1208.4 1292.8h5v5h-5zM1208 1295.7h5v5h-5zM1211.8 1287.3h5v5h-5zM1213.3 1301h5v5h-5zM1217.2 1322.3h5v5h-5zM1216.9 1278.3h5v5h-5zM1231.6 1262.9h5v5h-5zM1247 1116.4h5v5h-5zM1272.4 1326.2h5v5h-5zM1273.5 1289.6h5v5h-5zM1287.3 1306.5h5v5h-5zM1298.3 1265.7h5v5h-5zM1308.4 1239.2h5v5h-5zM1313.4 1275.7h5v5h-5zM1317 1250.7h5v5h-5zM1317.7 1259h5v5h-5zM1316.6 1254.2h5v5h-5zM1327.5 1275.8h5v5h-5zM1331.8 1318.4h5v5h-5zM1332 1285.9h5v5h-5zM1343.4 1313h5v5h-5zM1342.6 1319.1h5v5h-5zM1348 1319.2h5v5h-5zM1357.9 1232.3h5v5h-5zM1363.5 1325.8h5v5h-5zM1377.2 1290h5v5h-5zM1378.4 1115h5v5h-5zM1381.6 1302.8h5v5h-5zM1393.3 1278.6h5v5h-5zM1391.8 1290.3h5v5h-5zM1398.5 1255.7h5v5h-5zM1402.5 1286h5v5h-5zM1402.2 1233.6h5v5h-5zM1411.7 1283.1h5v5h-5zM1418.3 1279.5h5v5h-5zM1421.5 1263.1h5v5h-5zM1422.2 1233.6h5v5h-5zM1436.7 1283.4h5v5h-5zM1438.3 1323.9h5v5h-5zM1441.7 1323.5h5v5h-5zM1447.6 1286.5h5v5h-5zM1446.8 1286.1h5v5h-5zM1447 1064.4h5v5h-5zM1452.1 1246.6h5v5h-5zM1451.5 1132.5h5v5h-5zM1462.7 1194.7h5v5h-5zM1468.4 1197.4h5v5h-5zM1471.5 1095.3h5v5h-5zM1476.7 1094.4h5v5h-5zM1477.9 1128.7h5v5h-5zM1483.5 1087.3h5v5h-5zM1482.9 1125h5v5h-5zM1488 1179.6h5v5h-5zM1487.9 1106.6h5v5h-5zM1487.8 1168.1h5v5h-5zM1488.2 1201.8h5v5h-5zM1487.6 1194.8h5v5h-5zM1492.9 1123h5v5h-5zM1491.8 1118.4h5v5h-5zM1493.2 1141.2h5v5h-5zM1491.7 1135.2h5v5h-5zM1502.7 1219.7h5v5h-5zM1502.1 1262.9h5v5h-5zM1508.1 1207.7h5v5h-5zM1523.5 1170.4h5v5h-5zM1521.7 1188.6h5v5h-5zM1527.1 1241h5v5h-5zM1527.9 1215.3h5v5h-5zM1532.4 1298.4h5v5h-5zM1538.1 1198.9h5v5h-5zM1538.1 1246.1h5v5h-5zM1536.6 1069h5v5h-5zM1536.6 1150.5h5v5h-5zM1543.5 1195.9h5v5h-5zM1542.8 1207.2h5v5h-5zM1543.3 1208.9h5v5h-5zM1546.9 1200.8h5v5h-5zM1548.1 1201.7h5v5h-5zM1558.2 1189.3h5v5h-5zM1557.4 1181.1h5v5h-5zM1557.8 1201.7h5v5h-5zM1567.1 1227.2h5v5h-5zM1571.6 1286.3h5v5h-5zM1573.4 1280.5h5v5h-5zM1572.3 1246.5h5v5h-5zM1578.2 1178.1h5v5h-5zM1582.5 1286.7h5v5h-5zM1588.4 1242.5h5v5h-5zM1592.2 1232.9h5v5h-5zM1598.3 1252.5h5v5h-5zM1601.6 1314.9h5v5h-5zM1607.9 1282.1h5v5h-5zM1606.7 1287.6h5v5h-5zM1607.1 1298.9h5v5h-5zM1611.7 1271.7h5v5h-5zM1617 1269h5v5h-5zM1622.8 1282.3h5v5h-5zM1622.8 1265.7h5v5h-5zM1628.4 1250.2h5v5h-5zM1632.7 1274h5v5h-5zM1642.6 1247.1h5v5h-5zM1653.3 1303.3h5v5h-5zM1651.8 1293.6h5v5h-5zM1661.6 1114.4h5v5h-5zM1662.9 1223.2h5v5h-5zM1662.7 1174.4h5v5h-5zM1666.7 1269.5h5v5h-5zM1672.8 1182.1h5v5h-5zM1676.8 1234.6h5v5h-5zM1678.3 1254.8h5v5h-5zM1682 1298.7h5v5h-5zM1687 1256.4h5v5h-5zM1688.2 1290.5h5v5h-5zM1692.4 1238.1h5v5h-5zM1697.6 1251.7h5v5h-5zM1696.6 1249.4h5v5h-5zM1702.3 1179.4h5v5h-5zM1701.8 1201.4h5v5h-5zM1708.2 1288.7h5v5h-5zM1713 1229.2h5v5h-5zM1713.1 1208h5v5h-5zM1713.4 1209.5h5v5h-5zM1712 1158.3h5v5h-5zM1716.6 1252.1h5v5h-5zM1722.7 1247.5h5v5h-5zM1722.4 1249.7h5v5h-5zM1721.7 1258.2h5v5h-5zM1742.2 1265.3h5v5h-5zM1741.8 1276.9h5v5h-5zM1741.8 1244.1h5v5h-5zM1753 1188.9h5v5h-5zM1768.2 1232.9h5v5h-5zM1767.2 1208.5h5v5h-5zM1772.3 1214h5v5h-5zM1773.4 1238.8h5v5h-5zM1778.2 1134.5h5v5h-5zM1781.6 1190.4h5v5h-5zM1781.7 1211.9h5v5h-5zM1788.1 1110.2h5v5h-5zM1793.1 1285.7h5v5h-5zM1792.3 1283.7h5v5h-5zM1792.4 1294h5v5h-5zM1792.6 1234.2h5v5h-5zM1806.7 1196.1h5v5h-5zM1811.7 1317h5v5h-5zM1816.7 1305.3h5v5h-5zM1816.8 1296.7h5v5h-5zM1823 1244.3h5v5h-5zM1823.1 1220h5v5h-5zM1827.6 1257.7h5v5h-5zM1827.5 1258.3h5v5h-5zM1826.6 1235.8h5v5h-5zM1831.6 1316.6h5v5h-5zM1831.6 1188.7h5v5h-5zM1852.7 1178.7h5v5h-5zM1857.5 1253h5v5h-5zM1857.9 1229.9h5v5h-5zM1862.6 1280.3h5v5h-5zM1862.1 1272.5h5v5h-5zM1863.5 1179h5v5h-5zM1867.3 1236.8h5v5h-5zM1868.2 1224.5h5v5h-5zM1873.4 1312.1h5v5h-5zM1872.2 1307h5v5h-5zM1877.3 1214.3h5v5h-5zM1883.2 1253h5v5h-5zM1887.4 1225.5h5v5h-5zM1897.2 1200h5v5h-5zM1903 1220.3h5v5h-5zM1903.2 1206.5h5v5h-5zM1906.7 1151.4h5v5h-5zM1908.4 1178.9h5v5h-5zM1922.2 1297.4h5v5h-5zM1927 1242.7h5v5h-5zM1948.4 1307.4h5v5h-5zM1951.8 1306.4h5v5h-5zM1953 1313.4h5v5h-5zM1957.2 1300.4h5v5h-5zM1967.2 1315.5h5v5h-5zM1973.4 1283.1h5v5h-5zM1981.5 1310h5v5h-5zM1983.4 1323.7h5v5h-5zM1987.1 1338.2h5v5h-5zM1988 1342.3h5v5h-5zM1988.2 1339.3h5v5h-5zM1991.7 1326.3h5v5h-5zM1993.2 1288.3h5v5h-5zM1997.8 1307.5h5v5h-5z" fill="#00008f"/>
<line x1="729" y1="1016.6" x2="729" y2="1375.5" stroke="#c4c4c4" stroke-width="2" stroke-dasharray="3 5"/>
<line x1="1123.3" y1="1016.6" x2="1123.3" y2="1375.5" stroke="#c4c4c4" stroke-width="2" stroke-dasharray="3 5"/>
<line x1="1519.5" y1="1016.6" x2="1519.5" y2="1375.5" stroke="#c4c4c4" stroke-width="2" stroke-dasharray="3 5"/>
<line x1="1914" y1="1016.6" x2="1914" y2="1375.5" stroke="#c4c4c4" stroke-width="2" stroke-dasharray="3 5"/>
<line x1="332.5" y1="1285.8" x2="2059.5" y2="1285.8" stroke="#c4c4c4" stroke-width="2" stroke-dasharray="3 5"/>
<line x1="332.5" y1="1196" x2="2059.5" y2="1196" stroke="#c4c4c4" stroke-width="2" stroke-dasharray="3 5"/>
<line x1="332.5" y1="1106.3" x2="2059.5" y2="1106.3" stroke="#c4c4c4" stroke-width="2" stroke-dasharray="3 5"/>
<line x1="427.4" y1="1375.5" x2="427.4" y2="1016.6" stroke="#000" stroke-width="6" stroke-dasharray="19 7.2"/>
<line x1="1021.8" y1="1375.5" x2="1021.8" y2="1016.6" stroke="#000" stroke-width="6" stroke-dasharray="19 7.2"/>
<line x1="1602.7" y1="1375.5" x2="1602.7" y2="1016.6" stroke="#000" stroke-width="6" stroke-dasharray="19 7.2"/>
<rect x="332.5" y="1016.6" width="1727" height="358.9" fill="none" stroke="#3c3c3c" stroke-width="3"/>
<line x1="332.5" y1="1375.5" x2="332.5" y2="1389.5" stroke="#3c3c3c" stroke-width="3"/>
<line x1="729" y1="1375.5" x2="729" y2="1389.5" stroke="#3c3c3c" stroke-width="3"/>
<line x1="1123.3" y1="1375.5" x2="1123.3" y2="1389.5" stroke="#3c3c3c" stroke-width="3"/>
<line x1="1519.5" y1="1375.5" x2="1519.5" y2="1389.5" stroke="#3c3c3c" stroke-width="3"/>
<line x1="1914" y1="1375.5" x2="1914" y2="1389.5" stroke="#3c3c3c" stroke-width="3"/>
<line x1="318.5" y1="1375.5" x2="332.5" y2="1375.5" stroke="#3c3c3c" stroke-width="3"/>
<text x="302.5" y="1389.5" text-anchor="end" font-size="39.5" fill="#333">0</text>
<line x1="318.5" y1="1285.8" x2="332.5" y2="1285.8" stroke="#3c3c3c" stroke-width="3"/>
<text x="302.5" y="1299.8" text-anchor="end" font-size="39.5" fill="#333">5</text>
<line x1="318.5" y1="1196" x2="332.5" y2="1196" stroke="#3c3c3c" stroke-width="3"/>
<text x="302.5" y="1210" text-anchor="end" font-size="39.5" fill="#333">10</text>
<line x1="318.5" y1="1106.3" x2="332.5" y2="1106.3" stroke="#3c3c3c" stroke-width="3"/>
<text x="302.5" y="1120.3" text-anchor="end" font-size="39.5" fill="#333">15</text>
<line x1="318.5" y1="1016.6" x2="332.5" y2="1016.6" stroke="#3c3c3c" stroke-width="3"/>
<text x="302.5" y="1030.6" text-anchor="end" font-size="39.5" fill="#333">20</text>
<text transform="translate(222.5 1196) rotate(-90)" text-anchor="middle" font-size="41" fill="#333">Mean D (mm)</text>
<text x="81.5" y="1083" text-anchor="middle" font-family="'Liberation Sans', sans-serif" font-weight="bold" font-size="92" fill="#000">(c)</text>
<path d="M332.8 1831.5h3v4h-3zM333.9 1832.2h3v4h-3zM358.5 1827h3v4h-3zM364.1 1818h3v4h-3zM367.6 1832.6h3v4h-3zM374.1 1833.2h3v4h-3zM383.5 1833.9h3v4h-3zM394.1 1804.8h3v4h-3zM398.9 1829.1h3v4h-3zM402.6 1818.3h3v4h-3zM419 1806.7h3v4h-3zM423.3 1823.6h3v4h-3zM423.1 1832.2h3v4h-3zM428 1798.3h3v4h-3zM439 1829.6h3v4h-3zM444.1 1826.7h3v4h-3zM448.1 1829.1h3v4h-3zM453.4 1824.5h3v4h-3zM458.3 1804.9h3v4h-3zM462.8 1830h3v4h-3zM473.9 1828.8h3v4h-3zM473.5 1812.1h3v4h-3zM478.9 1798.2h3v4h-3zM483.6 1826.5h3v4h-3zM487.8 1812.6h3v4h-3zM492.8 1816.4h3v4h-3zM498.9 1806.9h3v4h-3zM502.7 1796.4h3v4h-3zM514.2 1816.6h3v4h-3zM519 1804.5h3v4h-3zM537.8 1810.4h3v4h-3zM548 1828.9h3v4h-3zM553 1812.3h3v4h-3zM552.6 1799h3v4h-3zM559.2 1831h3v4h-3zM563.9 1790.1h3v4h-3zM569 1805.3h3v4h-3zM573.3 1815h3v4h-3zM572.7 1829h3v4h-3zM604.3 1824.2h3v4h-3zM609 1798h3v4h-3zM623.9 1816h3v4h-3zM627.5 1791.5h3v4h-3zM633 1786.7h3v4h-3zM643.4 1795.9h3v4h-3zM654.5 1804.9h3v4h-3zM653.7 1800.8h3v4h-3zM658.5 1811.1h3v4h-3zM659.4 1812.9h3v4h-3zM667.9 1785h3v4h-3zM668.4 1823h3v4h-3zM667.6 1809.9h3v4h-3zM673.9 1828.1h3v4h-3zM682.9 1799.9h3v4h-3zM688.6 1809.6h3v4h-3zM689.3 1820.5h3v4h-3zM694.4 1808.5h3v4h-3zM702.9 1789.7h3v4h-3zM704.2 1815.1h3v4h-3zM708.3 1824.1h3v4h-3zM709.2 1797h3v4h-3zM713.8 1824.9h3v4h-3zM713.8 1794.6h3v4h-3zM724.5 1810.6h3v4h-3zM722.7 1783.1h3v4h-3zM728.9 1800.5h3v4h-3zM802.8 1820.7h3v4h-3zM818.8 1823.7h3v4h-3zM824.1 1805.7h3v4h-3zM833.9 1815.9h3v4h-3zM834.2 1807.7h3v4h-3zM838.4 1813h3v4h-3zM842.5 1803.5h3v4h-3zM847.7 1816.2h3v4h-3zM873.3 1807.2h3v4h-3zM877.9 1823.1h3v4h-3zM878.4 1819.9h3v4h-3zM889 1822.1h3v4h-3zM892.7 1818.1h3v4h-3zM893.9 1800.1h3v4h-3zM898.7 1822.9h3v4h-3zM903.5 1833.1h3v4h-3zM919.3 1811.6h3v4h-3zM918 1803.9h3v4h-3zM928.5 1812.2h3v4h-3zM928.1 1802.3h3v4h-3zM933.9 1815.9h3v4h-3zM939.1 1829.3h3v4h-3zM944 1809.7h3v4h-3zM963.1 1818h3v4h-3zM969.2 1813.8h3v4h-3zM968.7 1816.3h3v4h-3zM982.7 1817.5h3v4h-3zM994.3 1820.7h3v4h-3zM997.8 1804.1h3v4h-3zM1003.8 1806.7h3v4h-3zM1009.2 1827.3h3v4h-3zM1008.6 1830.1h3v4h-3zM1012.8 1791.8h3v4h-3zM1012.7 1784.8h3v4h-3zM1013.3 1823.1h3v4h-3zM1012.5 1788.6h3v4h-3zM1139.3 1776.7h3v4h-3zM1149 1741.7h3v4h-3zM1159.1 1784.8h3v4h-3zM1173.4 1780.8h3v4h-3zM1179.1 1755.6h3v4h-3zM1198.7 1792.7h3v4h-3zM1213.1 1764.6h3v4h-3zM1223.8 1728.2h3v4h-3zM1224.2 1754.3h3v4h-3zM1252.9 1803.9h3v4h-3zM1253.3 1799.5h3v4h-3zM1259.2 1797.9h3v4h-3zM1263.6 1800.8h3v4h-3zM1269 1791.2h3v4h-3zM1278.1 1799.4h3v4h-3zM1289.1 1798.1h3v4h-3zM1334 1718.9h3v4h-3zM1334 1736.8h3v4h-3zM1334.3 1770.9h3v4h-3zM1343 1738.6h3v4h-3zM1344.2 1797.9h3v4h-3zM1344.4 1749.5h3v4h-3zM1347.6 1777.8h3v4h-3zM1358.6 1790.7h3v4h-3zM1369.1 1752.7h3v4h-3zM1373.4 1782.4h3v4h-3zM1378.4 1788.2h3v4h-3zM1383.8 1759.5h3v4h-3zM1387.9 1784.2h3v4h-3zM1403 1786.8h3v4h-3zM1414 1763h3v4h-3zM1419.2 1792.1h3v4h-3zM1427.8 1802h3v4h-3zM1443.9 1790.1h3v4h-3zM1444.2 1791.1h3v4h-3zM1443.5 1821.9h3v4h-3zM1448.6 1666.7h3v4h-3zM1448 1728.5h3v4h-3zM1448.4 1698.1h3v4h-3zM1448.1 1736.8h3v4h-3zM1454.4 1803.8h3v4h-3zM1462.5 1616.5h3v4h-3zM1463.4 1667.8h3v4h-3zM1463.8 1815.6h3v4h-3zM1468.9 1810.2h3v4h-3zM1468.9 1729.3h3v4h-3zM1474.4 1735.8h3v4h-3zM1473.5 1733.9h3v4h-3zM1478.3 1771.7h3v4h-3zM1479.1 1746.3h3v4h-3zM1483.6 1678.4h3v4h-3zM1483.6 1797.2h3v4h-3zM1489.4 1757.9h3v4h-3zM1492.6 1730.1h3v4h-3zM1493.6 1743h3v4h-3zM1494 1722.8h3v4h-3zM1493.2 1722.8h3v4h-3zM1493.3 1690.7h3v4h-3zM1498.5 1761.4h3v4h-3zM1498.1 1587.8h3v4h-3zM1498.2 1774.6h3v4h-3zM1498.8 1741.9h3v4h-3zM1508.8 1768.6h3v4h-3zM1513.3 1674.4h3v4h-3zM1513.6 1637.4h3v4h-3zM1513.4 1752.3h3v4h-3zM1523.8 1738.4h3v4h-3zM1529.3 1824.9h3v4h-3zM1534.2 1810.9h3v4h-3zM1534.2 1778h3v4h-3zM1538.2 1661.9h3v4h-3zM1538.6 1649.7h3v4h-3zM1543.1 1684.2h3v4h-3zM1542.6 1677.1h3v4h-3zM1548.5 1754.8h3v4h-3zM1554.1 1772.7h3v4h-3zM1553.3 1720h3v4h-3zM1553.5 1794.5h3v4h-3zM1553 1697.7h3v4h-3zM1553.5 1800.4h3v4h-3zM1563.8 1764.4h3v4h-3zM1568.2 1821.2h3v4h-3zM1567.8 1691.2h3v4h-3zM1573.6 1718.7h3v4h-3zM1573.4 1819.5h3v4h-3zM1574.3 1691.5h3v4h-3zM1573.9 1765.9h3v4h-3zM1579.3 1711.7h3v4h-3zM1578.8 1806h3v4h-3zM1579.1 1737.8h3v4h-3zM1582.7 1739.6h3v4h-3zM1583.6 1822.5h3v4h-3zM1584.1 1737.3h3v4h-3zM1588.6 1809.7h3v4h-3zM1593.2 1811h3v4h-3zM1592.6 1794.3h3v4h-3zM1598.2 1655h3v4h-3zM1598.3 1754.2h3v4h-3zM1598.3 1815.1h3v4h-3zM1598 1754.3h3v4h-3zM1628.4 1700.5h3v4h-3zM1629.5 1676.7h3v4h-3zM1638.5 1687.6h3v4h-3zM1637.8 1704.9h3v4h-3zM1639.4 1690.5h3v4h-3zM1638.4 1656.4h3v4h-3zM1639.1 1787.9h3v4h-3zM1642.9 1750.8h3v4h-3zM1643.8 1794.6h3v4h-3zM1653.7 1750.3h3v4h-3zM1662.9 1641.9h3v4h-3zM1668.2 1767.8h3v4h-3zM1677.8 1753.2h3v4h-3zM1689.3 1798h3v4h-3zM1693.1 1730.3h3v4h-3zM1693.9 1817.2h3v4h-3zM1699 1686.1h3v4h-3zM1698.1 1800.9h3v4h-3zM1704.5 1761.5h3v4h-3zM1713.6 1755.9h3v4h-3zM1719.1 1706.7h3v4h-3zM1717.7 1686.9h3v4h-3zM1722.5 1749.7h3v4h-3zM1723.3 1770.1h3v4h-3zM1727.6 1822.6h3v4h-3zM1738 1764.9h3v4h-3zM1743.2 1701.1h3v4h-3zM1748.7 1813.5h3v4h-3zM1752.7 1789.6h3v4h-3zM1767.8 1743.6h3v4h-3zM1773.7 1709.6h3v4h-3zM1772.9 1694.3h3v4h-3zM1774.1 1666.3h3v4h-3zM1779.3 1794.6h3v4h-3zM1778.2 1810.9h3v4h-3zM1783.8 1691.3h3v4h-3zM1789.1 1685.5h3v4h-3zM1788.6 1755.5h3v4h-3zM1788 1743h3v4h-3zM1793.1 1650.5h3v4h-3zM1793.3 1789.9h3v4h-3zM1798.4 1787.5h3v4h-3zM1808.9 1805.7h3v4h-3zM1818.5 1764h3v4h-3zM1817.8 1750.8h3v4h-3zM1823.2 1687.9h3v4h-3zM1823.6 1781.4h3v4h-3zM1834.4 1817.6h3v4h-3zM1838.9 1804.1h3v4h-3zM1844.3 1794.7h3v4h-3zM1844.5 1651.4h3v4h-3zM1848.6 1813.6h3v4h-3zM1853.6 1732.6h3v4h-3zM1853.6 1768.4h3v4h-3zM1863.3 1799.3h3v4h-3zM1863.7 1824.9h3v4h-3zM1867.8 1815.9h3v4h-3zM1874.4 1775.6h3v4h-3zM1872.9 1795.6h3v4h-3zM1878 1773.2h3v4h-3zM1884.1 1757.6h3v4h-3zM1888.5 1772.8h3v4h-3zM1899.2 1800.7h3v4h-3zM1907.7 1736.3h3v4h-3zM1908.1 1811.8h3v4h-3zM1913.3 1728.4h3v4h-3zM1914.4 1814.1h3v4h-3zM1914.4 1725.3h3v4h-3zM1919.5 1798h3v4h-3zM1932.7 1771.5h3v4h-3zM1933.6 1760h3v4h-3zM1939.4 1684.8h3v4h-3zM1938.2 1767.6h3v4h-3zM1948.9 1689.7h3v4h-3zM1947.8 1786.5h3v4h-3zM1954.1 1752h3v4h-3zM1959 1787.2h3v4h-3zM1959.5 1760.9h3v4h-3zM1978.7 1768.3h3v4h-3zM1988.8 1824.3h3v4h-3z" fill="#fff"/>
<path d="M339 1831.8h3v4h-3zM377.7 1828.1h3v4h-3zM399.1 1823.2h3v4h-3zM414.2 1833.6h3v4h-3zM412.9 1824.2h3v4h-3zM428.1 1797.5h3v4h-3zM432.9 1812.8h3v4h-3zM433.5 1822.6h3v4h-3zM447.8 1799h3v4h-3zM453.9 1801.4h3v4h-3zM453.8 1795.1h3v4h-3zM459.2 1789.2h3v4h-3zM458.3 1813.3h3v4h-3zM463 1811.7h3v4h-3zM464.2 1803.2h3v4h-3zM468.4 1806.8h3v4h-3zM474.1 1818.5h3v4h-3zM474.2 1817.3h3v4h-3zM478.1 1832h3v4h-3zM483.7 1808.8h3v4h-3zM483.4 1797.6h3v4h-3zM494.3 1814h3v4h-3zM498.4 1805h3v4h-3zM503.7 1799.3h3v4h-3zM507.6 1823.6h3v4h-3zM512.8 1779h3v4h-3zM517.7 1802.7h3v4h-3zM517.9 1785.9h3v4h-3zM523.8 1815.9h3v4h-3zM528.7 1820.3h3v4h-3zM529.2 1814.5h3v4h-3zM533.9 1834.9h3v4h-3zM538.6 1802.2h3v4h-3zM542.7 1814.1h3v4h-3zM543.4 1829.7h3v4h-3zM553.3 1805.6h3v4h-3zM563.5 1786.6h3v4h-3zM563.5 1789.8h3v4h-3zM569.2 1806h3v4h-3zM568.3 1829.2h3v4h-3zM578.1 1793.1h3v4h-3zM578.9 1816.9h3v4h-3zM583.8 1809.5h3v4h-3zM584.3 1811h3v4h-3zM583.4 1799.4h3v4h-3zM588.2 1804.9h3v4h-3zM588.7 1813.3h3v4h-3zM593.1 1785.5h3v4h-3zM593.1 1809.2h3v4h-3zM598.7 1789.2h3v4h-3zM608.1 1791.8h3v4h-3zM614.2 1818h3v4h-3zM613.2 1828.7h3v4h-3zM617.8 1820.9h3v4h-3zM618.6 1807h3v4h-3zM623.3 1804.9h3v4h-3zM628.1 1812.4h3v4h-3zM634.1 1827.3h3v4h-3zM638 1798.8h3v4h-3zM642.9 1832.2h3v4h-3zM648 1819.8h3v4h-3zM653.3 1834.4h3v4h-3zM663.7 1793.6h3v4h-3zM664.4 1817.8h3v4h-3zM669 1812.9h3v4h-3zM673 1805.6h3v4h-3zM678.7 1812.6h3v4h-3zM678.9 1792.9h3v4h-3zM682.7 1795h3v4h-3zM688.2 1819h3v4h-3zM697.6 1816.5h3v4h-3zM713.6 1824.4h3v4h-3zM718 1811.6h3v4h-3zM723 1818.1h3v4h-3zM727.6 1792.7h3v4h-3zM853.9 1809h3v4h-3zM854.1 1806.7h3v4h-3zM858.5 1825h3v4h-3zM863.7 1832.6h3v4h-3zM867.8 1811.8h3v4h-3zM874.5 1800.6h3v4h-3zM883.4 1802.9h3v4h-3zM888.5 1811h3v4h-3zM889.1 1832h3v4h-3zM903.3 1815.7h3v4h-3zM907.8 1818.2h3v4h-3zM908.4 1802.8h3v4h-3zM913.3 1819.4h3v4h-3zM923.9 1816.2h3v4h-3zM922.9 1821.2h3v4h-3zM934.3 1822.7h3v4h-3zM943.5 1814.1h3v4h-3zM948.5 1833.2h3v4h-3zM954.2 1832.8h3v4h-3zM954.2 1825.4h3v4h-3zM952.6 1806h3v4h-3zM958.1 1824.6h3v4h-3zM963 1816.3h3v4h-3zM968.1 1823.9h3v4h-3zM974.3 1833.4h3v4h-3zM974.3 1833.9h3v4h-3zM979.4 1824.1h3v4h-3zM982.6 1825.2h3v4h-3zM987.6 1809.4h3v4h-3zM994 1828h3v4h-3z" fill="#ff9090"/>
<path d="M343.2 1834.4h3v4h-3zM343.2 1830.1h3v4h-3zM347.8 1817.1h3v4h-3zM353.8 1817.9h3v4h-3zM358.2 1828.6h3v4h-3zM368.9 1815.4h3v4h-3zM377.8 1830h3v4h-3zM383.8 1808.4h3v4h-3zM388.2 1829h3v4h-3zM388.7 1834.7h3v4h-3zM393.9 1804.1h3v4h-3zM403.9 1813.6h3v4h-3zM407.9 1821.6h3v4h-3zM408.6 1803.8h3v4h-3zM412.9 1803.1h3v4h-3zM418.1 1828.6h3v4h-3zM424.4 1798.8h3v4h-3zM428.1 1823.8h3v4h-3zM438.3 1827.2h3v4h-3zM443.9 1833.7h3v4h-3zM448 1801.6h3v4h-3zM463.4 1828.1h3v4h-3zM467.6 1812.3h3v4h-3zM478.6 1794.5h3v4h-3zM489.4 1801.4h3v4h-3zM493.5 1820.4h3v4h-3zM497.8 1814.5h3v4h-3zM503.6 1796.5h3v4h-3zM509.1 1797.8h3v4h-3zM507.8 1832.4h3v4h-3zM514.3 1780.5h3v4h-3zM513.4 1814.7h3v4h-3zM517.8 1822.8h3v4h-3zM524.4 1807.9h3v4h-3zM523.6 1826.8h3v4h-3zM534 1800.1h3v4h-3zM537.9 1805h3v4h-3zM543.3 1833.8h3v4h-3zM549.4 1831.5h3v4h-3zM548 1805.9h3v4h-3zM558.2 1820.3h3v4h-3zM559.1 1797.7h3v4h-3zM564.1 1822.7h3v4h-3zM572.5 1833h3v4h-3zM577.5 1801.5h3v4h-3zM588.2 1802.2h3v4h-3zM593.3 1789.3h3v4h-3zM598.4 1820.7h3v4h-3zM598.7 1792.7h3v4h-3zM603.6 1816.8h3v4h-3zM603.9 1788.1h3v4h-3zM608.3 1816.1h3v4h-3zM613.8 1826.6h3v4h-3zM622.9 1814h3v4h-3zM627.7 1812.9h3v4h-3zM633 1788.1h3v4h-3zM633.5 1781.7h3v4h-3zM638.6 1795.9h3v4h-3zM638 1832.6h3v4h-3zM644.2 1787h3v4h-3zM648.2 1825.4h3v4h-3zM663.1 1790.5h3v4h-3zM663.3 1776.9h3v4h-3zM672.9 1808.9h3v4h-3zM678.2 1813.6h3v4h-3zM683.4 1793.4h3v4h-3zM694.1 1813.6h3v4h-3zM698.6 1833.1h3v4h-3zM699.2 1789.7h3v4h-3zM704.2 1802.9h3v4h-3zM709.5 1823.2h3v4h-3zM717.9 1816.4h3v4h-3zM718.8 1827.3h3v4h-3zM723.7 1817.2h3v4h-3zM727.5 1791.7h3v4h-3zM728.9 1781.6h3v4h-3zM807.9 1820.7h3v4h-3zM808.5 1810.6h3v4h-3zM813.7 1834.3h3v4h-3zM814 1809.5h3v4h-3zM818.1 1816.5h3v4h-3zM823 1829.8h3v4h-3zM823.1 1828.1h3v4h-3zM829.5 1830.6h3v4h-3zM833.9 1834.4h3v4h-3zM837.7 1819.6h3v4h-3zM843.9 1812.9h3v4h-3zM848.8 1818.5h3v4h-3zM858.4 1821.8h3v4h-3zM864 1813.1h3v4h-3zM868.5 1826.3h3v4h-3zM873.1 1811.5h3v4h-3zM883.5 1812.4h3v4h-3zM899.4 1826.3h3v4h-3zM913.8 1823.8h3v4h-3zM927.9 1800.7h3v4h-3zM934.4 1806.4h3v4h-3zM938.6 1813.5h3v4h-3zM943.9 1803.9h3v4h-3zM948.4 1833.2h3v4h-3zM949.3 1807.2h3v4h-3zM957.9 1800h3v4h-3zM958.2 1801.1h3v4h-3zM963 1822.1h3v4h-3zM977.8 1811h3v4h-3zM979.3 1814h3v4h-3zM988.1 1801.2h3v4h-3zM989.3 1792.2h3v4h-3zM988 1806.5h3v4h-3zM993 1797.6h3v4h-3zM998.9 1802.7h3v4h-3zM1004 1803.1h3v4h-3z" fill="#ffc8c8"/>
<path d="M1109.2 1778.7h3v4h-3zM1147.8 1762.2h3v4h-3zM1153.6 1778h3v4h-3zM1157.9 1747.9h3v4h-3zM1164.3 1762.4h3v4h-3zM1174.4 1767.1h3v4h-3zM1177.5 1741.6h3v4h-3zM1189 1778.7h3v4h-3zM1214.3 1802.1h3v4h-3zM1232.8 1792.3h3v4h-3zM1244.3 1780.7h3v4h-3zM1248.3 1744.9h3v4h-3zM1248.8 1792.2h3v4h-3zM1259.3 1793.3h3v4h-3zM1274.3 1771.2h3v4h-3zM1274.4 1767.2h3v4h-3zM1288.6 1796.6h3v4h-3zM1309.1 1761.6h3v4h-3zM1309 1770.2h3v4h-3zM1319.5 1810.8h3v4h-3zM1349.1 1777.2h3v4h-3zM1353.9 1753h3v4h-3zM1353.4 1807.5h3v4h-3zM1359.5 1763.7h3v4h-3zM1359.3 1781.5h3v4h-3zM1367.8 1791.1h3v4h-3zM1378.5 1695.5h3v4h-3zM1383.3 1801.2h3v4h-3zM1397.6 1805.6h3v4h-3zM1398.6 1770h3v4h-3zM1409 1769.3h3v4h-3zM1413.1 1791.6h3v4h-3zM1413.9 1771.1h3v4h-3zM1414.3 1750.4h3v4h-3zM1433.6 1741.9h3v4h-3zM1434.5 1751.1h3v4h-3zM1444.4 1784.9h3v4h-3zM1448.6 1816h3v4h-3zM1452.9 1710h3v4h-3zM1452.7 1637.1h3v4h-3zM1453.1 1696.3h3v4h-3zM1458.7 1717.4h3v4h-3zM1459.4 1703.2h3v4h-3zM1458.3 1795.2h3v4h-3zM1462.9 1627h3v4h-3zM1464 1744.4h3v4h-3zM1468.2 1661.2h3v4h-3zM1468.2 1734h3v4h-3zM1468.4 1641.6h3v4h-3zM1473.7 1713h3v4h-3zM1478.9 1789.1h3v4h-3zM1478.5 1717.2h3v4h-3zM1483.5 1803.6h3v4h-3zM1487.7 1784.4h3v4h-3zM1488.3 1663.8h3v4h-3zM1489 1653.8h3v4h-3zM1487.9 1826.2h3v4h-3zM1493.3 1660.2h3v4h-3zM1498.3 1640.1h3v4h-3zM1499.3 1564.4h3v4h-3zM1503.9 1693.9h3v4h-3zM1503.4 1773h3v4h-3zM1503.9 1723.4h3v4h-3zM1508.4 1791.8h3v4h-3zM1513 1773.7h3v4h-3zM1518.1 1692.5h3v4h-3zM1517.5 1672.5h3v4h-3zM1519 1787.6h3v4h-3zM1519.1 1656.9h3v4h-3zM1523.9 1618.6h3v4h-3zM1527.7 1727.8h3v4h-3zM1533.8 1696.6h3v4h-3zM1538.2 1686h3v4h-3zM1539.1 1775.2h3v4h-3zM1538 1716.5h3v4h-3zM1543.1 1736.5h3v4h-3zM1549 1687.4h3v4h-3zM1548 1674.9h3v4h-3zM1547.7 1812.5h3v4h-3zM1549.1 1733.9h3v4h-3zM1557.6 1683.1h3v4h-3zM1558 1706.8h3v4h-3zM1558 1686.1h3v4h-3zM1563 1773.8h3v4h-3zM1564.1 1665.3h3v4h-3zM1563.2 1813.6h3v4h-3zM1562.6 1761.3h3v4h-3zM1568.2 1632.5h3v4h-3zM1568 1751.1h3v4h-3zM1573.3 1743.3h3v4h-3zM1572.8 1726.8h3v4h-3zM1577.9 1741.5h3v4h-3zM1578.7 1665.3h3v4h-3zM1578 1804.3h3v4h-3zM1578.4 1650.3h3v4h-3zM1584.3 1704h3v4h-3zM1582.9 1622.8h3v4h-3zM1588.8 1757.3h3v4h-3zM1598.6 1753h3v4h-3zM1619.2 1802.3h3v4h-3zM1624.1 1824.7h3v4h-3zM1629.5 1679.2h3v4h-3zM1633.7 1742h3v4h-3zM1632.6 1790.8h3v4h-3zM1638.4 1639.6h3v4h-3zM1639 1815.1h3v4h-3zM1644.3 1719.6h3v4h-3zM1648.7 1732.9h3v4h-3zM1649.3 1778.6h3v4h-3zM1648.2 1754h3v4h-3zM1652.7 1785h3v4h-3zM1653.2 1803h3v4h-3zM1659.1 1823.7h3v4h-3zM1659.1 1804.7h3v4h-3zM1664.4 1625.8h3v4h-3zM1663.7 1723h3v4h-3zM1663.5 1629.6h3v4h-3zM1663.5 1766.8h3v4h-3zM1669.2 1758.5h3v4h-3zM1679.3 1730.2h3v4h-3zM1683.1 1781.3h3v4h-3zM1682.5 1783.5h3v4h-3zM1687.9 1793h3v4h-3zM1693.6 1728.8h3v4h-3zM1698 1705.3h3v4h-3zM1697.6 1804.2h3v4h-3zM1703.3 1807.5h3v4h-3zM1702.5 1785.2h3v4h-3zM1709.1 1778.8h3v4h-3zM1713.6 1760.4h3v4h-3zM1713.8 1781.8h3v4h-3zM1717.7 1749.6h3v4h-3zM1718.4 1733h3v4h-3zM1733.2 1773.4h3v4h-3zM1738.3 1785.2h3v4h-3zM1743.4 1747.5h3v4h-3zM1743.6 1754.8h3v4h-3zM1744.2 1789.3h3v4h-3zM1743.5 1749.2h3v4h-3zM1748.2 1792.8h3v4h-3zM1748.3 1780.5h3v4h-3zM1752.8 1810.8h3v4h-3zM1758.1 1789.8h3v4h-3zM1757.5 1757.4h3v4h-3zM1763.8 1816.2h3v4h-3zM1763.2 1789.9h3v4h-3zM1768.6 1694.4h3v4h-3zM1769.5 1798.5h3v4h-3zM1767.7 1666.6h3v4h-3zM1768.6 1719.8h3v4h-3zM1782.8 1778.9h3v4h-3zM1783 1791.9h3v4h-3zM1783.6 1729.8h3v4h-3zM1784 1797.8h3v4h-3zM1789.3 1714.3h3v4h-3zM1792.7 1682.2h3v4h-3zM1793.8 1646.5h3v4h-3zM1797.5 1763.7h3v4h-3zM1804.4 1814.5h3v4h-3zM1808 1748.9h3v4h-3zM1808.3 1688.2h3v4h-3zM1809.4 1697.1h3v4h-3zM1814.3 1781.1h3v4h-3zM1819 1790.9h3v4h-3zM1832.8 1768.8h3v4h-3zM1838.6 1706.2h3v4h-3zM1843.7 1774h3v4h-3zM1844.5 1668.7h3v4h-3zM1844 1737.5h3v4h-3zM1843.6 1658.9h3v4h-3zM1847.9 1801.1h3v4h-3zM1848.7 1712h3v4h-3zM1852.7 1699.7h3v4h-3zM1853.9 1787.6h3v4h-3zM1858 1777h3v4h-3zM1857.7 1814.9h3v4h-3zM1859.2 1817.3h3v4h-3zM1878.5 1691.8h3v4h-3zM1879.1 1771h3v4h-3zM1878.3 1784.6h3v4h-3zM1888.2 1764.6h3v4h-3zM1893 1752.5h3v4h-3zM1899.3 1711.4h3v4h-3zM1897.8 1775.1h3v4h-3zM1897.6 1694.5h3v4h-3zM1898.3 1642.3h3v4h-3zM1897.8 1714.4h3v4h-3zM1903.9 1810.7h3v4h-3zM1907.6 1749.7h3v4h-3zM1912.6 1820.6h3v4h-3zM1918.3 1822.2h3v4h-3zM1917.8 1767.9h3v4h-3zM1923.3 1730.9h3v4h-3zM1923.5 1730.5h3v4h-3zM1929.5 1769h3v4h-3zM1932.9 1741.4h3v4h-3zM1938.4 1676.4h3v4h-3zM1954.4 1818.6h3v4h-3zM1953.2 1791.6h3v4h-3zM1953.6 1781.5h3v4h-3zM1968.9 1770.3h3v4h-3zM1978.1 1727.7h3v4h-3zM1994.2 1785.3h3v4h-3z" fill="#c8c8ff"/>
<path d="M1114.4 1775.6h3v4h-3zM1123.5 1789h3v4h-3zM1128.8 1790.3h3v4h-3zM1143.4 1763.2h3v4h-3zM1152.9 1766h3v4h-3zM1164.4 1789.3h3v4h-3zM1184.1 1788.6h3v4h-3zM1203 1741.1h3v4h-3zM1204.2 1747.1h3v4h-3zM1218.2 1798.6h3v4h-3zM1224.1 1734.2h3v4h-3zM1267.9 1796.5h3v4h-3zM1282.7 1768.6h3v4h-3zM1293 1788.9h3v4h-3zM1309.5 1785.5h3v4h-3zM1313.4 1775.7h3v4h-3zM1323.5 1760.8h3v4h-3zM1323.4 1758.6h3v4h-3zM1328 1781.4h3v4h-3zM1348.4 1719.9h3v4h-3zM1353.5 1730.9h3v4h-3zM1372.8 1783.3h3v4h-3zM1378.8 1713h3v4h-3zM1377.5 1727.9h3v4h-3zM1388.8 1799.6h3v4h-3zM1398.8 1787.1h3v4h-3zM1404 1775.5h3v4h-3zM1408.1 1754.2h3v4h-3zM1408.2 1747.6h3v4h-3zM1433.7 1766.1h3v4h-3zM1434.4 1714.3h3v4h-3zM1454.2 1759.5h3v4h-3zM1453.2 1712.6h3v4h-3zM1458.1 1774.2h3v4h-3zM1459.1 1748.1h3v4h-3zM1462.6 1805.5h3v4h-3zM1463.2 1738.9h3v4h-3zM1468.3 1811.8h3v4h-3zM1467.9 1764.3h3v4h-3zM1469.1 1693h3v4h-3zM1473.4 1787.8h3v4h-3zM1473.9 1775.9h3v4h-3zM1478 1793h3v4h-3zM1483.2 1809h3v4h-3zM1483.3 1794h3v4h-3zM1488.7 1824.5h3v4h-3zM1499.2 1727h3v4h-3zM1498.9 1610.2h3v4h-3zM1497.9 1677.8h3v4h-3zM1499.2 1749.1h3v4h-3zM1504 1704.4h3v4h-3zM1503.1 1733.4h3v4h-3zM1507.7 1741h3v4h-3zM1509.1 1714.1h3v4h-3zM1514.2 1662.1h3v4h-3zM1513 1579.1h3v4h-3zM1512.7 1581.2h3v4h-3zM1513.9 1631.9h3v4h-3zM1514.5 1709.4h3v4h-3zM1519.2 1746.3h3v4h-3zM1518.3 1791.2h3v4h-3zM1518.8 1672.2h3v4h-3zM1522.8 1702.4h3v4h-3zM1523.8 1711.1h3v4h-3zM1523.9 1659.3h3v4h-3zM1524 1684.3h3v4h-3zM1524 1819.6h3v4h-3zM1523.4 1710.1h3v4h-3zM1529.4 1692.8h3v4h-3zM1527.6 1700.6h3v4h-3zM1529.1 1657.6h3v4h-3zM1528.9 1781.7h3v4h-3zM1534.4 1706.4h3v4h-3zM1532.7 1750h3v4h-3zM1537.9 1770.2h3v4h-3zM1543.5 1787.8h3v4h-3zM1543.9 1695.1h3v4h-3zM1543.7 1786.6h3v4h-3zM1547.7 1692.5h3v4h-3zM1554 1821h3v4h-3zM1552.8 1731.2h3v4h-3zM1559.3 1741.2h3v4h-3zM1559 1768.3h3v4h-3zM1558.4 1742.3h3v4h-3zM1564.1 1700.5h3v4h-3zM1568.9 1674h3v4h-3zM1568.9 1815.2h3v4h-3zM1568.6 1755.4h3v4h-3zM1573.5 1675.5h3v4h-3zM1574.1 1695.1h3v4h-3zM1583.8 1656h3v4h-3zM1584.3 1755.6h3v4h-3zM1582.8 1774.6h3v4h-3zM1588.6 1785h3v4h-3zM1593.6 1733.3h3v4h-3zM1598.3 1675.7h3v4h-3zM1603.1 1820h3v4h-3zM1603.4 1810.7h3v4h-3zM1622.6 1798.2h3v4h-3zM1623 1749.5h3v4h-3zM1629.5 1670.7h3v4h-3zM1628.8 1754h3v4h-3zM1628.4 1644.4h3v4h-3zM1634.4 1754.9h3v4h-3zM1643.7 1733.4h3v4h-3zM1642.7 1820.8h3v4h-3zM1649.1 1793.6h3v4h-3zM1654.4 1752.6h3v4h-3zM1658.1 1752.1h3v4h-3zM1658.5 1785.4h3v4h-3zM1657.6 1620.5h3v4h-3zM1658.4 1793h3v4h-3zM1658.4 1754h3v4h-3zM1664.4 1743.8h3v4h-3zM1663.7 1678.1h3v4h-3zM1667.8 1772.9h3v4h-3zM1669.3 1721.7h3v4h-3zM1667.8 1757.6h3v4h-3zM1673.8 1782.5h3v4h-3zM1679.1 1729.5h3v4h-3zM1677.8 1706.2h3v4h-3zM1693.3 1744h3v4h-3zM1698.7 1737.4h3v4h-3zM1698.4 1803.6h3v4h-3zM1697.9 1665.8h3v4h-3zM1708.4 1754.9h3v4h-3zM1708.6 1769.6h3v4h-3zM1719.1 1815.5h3v4h-3zM1723.2 1807.3h3v4h-3zM1732.9 1790.7h3v4h-3zM1739.3 1759.8h3v4h-3zM1749.2 1810.3h3v4h-3zM1759.3 1789.5h3v4h-3zM1763.8 1792.5h3v4h-3zM1762.9 1757.3h3v4h-3zM1762.6 1752.6h3v4h-3zM1768 1801.2h3v4h-3zM1773.9 1731h3v4h-3zM1772.6 1762.8h3v4h-3zM1772.6 1683.6h3v4h-3zM1789.3 1690.4h3v4h-3zM1787.9 1827.7h3v4h-3zM1794.5 1690.6h3v4h-3zM1793.4 1761.1h3v4h-3zM1803.1 1792.7h3v4h-3zM1808 1740.8h3v4h-3zM1808.3 1657.6h3v4h-3zM1813.1 1804.4h3v4h-3zM1814.3 1754h3v4h-3zM1822.7 1708.8h3v4h-3zM1824.1 1825.8h3v4h-3zM1822.9 1751.2h3v4h-3zM1822.7 1808.1h3v4h-3zM1832.8 1743.7h3v4h-3zM1838 1772h3v4h-3zM1839 1757.1h3v4h-3zM1843.2 1749.6h3v4h-3zM1848.7 1771.8h3v4h-3zM1853.1 1791.1h3v4h-3zM1869.4 1734.1h3v4h-3zM1869.3 1715.5h3v4h-3zM1868.7 1731.3h3v4h-3zM1878.8 1695.8h3v4h-3zM1883.1 1776.6h3v4h-3zM1884 1797.4h3v4h-3zM1894 1789.3h3v4h-3zM1892.8 1762h3v4h-3zM1894.5 1799.8h3v4h-3zM1902.6 1733.4h3v4h-3zM1902.6 1776.3h3v4h-3zM1902.8 1811.8h3v4h-3zM1919.1 1798.6h3v4h-3zM1923.9 1747.3h3v4h-3zM1927.7 1779.9h3v4h-3zM1933.5 1771.2h3v4h-3zM1939.4 1680.2h3v4h-3zM1938.4 1819h3v4h-3zM1937.6 1800.1h3v4h-3zM1949 1772.7h3v4h-3zM1948.9 1796.8h3v4h-3zM1948 1772.5h3v4h-3zM1959.4 1745.9h3v4h-3zM1968 1728.7h3v4h-3zM1967.7 1818.5h3v4h-3zM1967.8 1756h3v4h-3zM1974.4 1821.2h3v4h-3zM1972.8 1776.8h3v4h-3zM1978.4 1697.4h3v4h-3zM1978.8 1677.5h3v4h-3zM1978.4 1670.1h3v4h-3zM1989.1 1778h3v4h-3zM1992.9 1782.5h3v4h-3z" fill="#8080ff"/>
<path d="M342.3 1803.3h5v5h-5zM558.3 1785.5h5v5h-5zM622.9 1779.9h5v5h-5zM857.8 1787.8h5v5h-5zM1037.5 1788h5v5h-5zM1061.5 1643.3h5v5h-5zM1086.8 1623.2h5v5h-5zM1102.5 1744.4h5v5h-5zM1118.3 1765.1h5v5h-5zM1122.1 1733.1h5v5h-5zM1212.6 1723.7h5v5h-5zM1237.4 1685h5v5h-5zM1347.3 1664.9h5v5h-5zM1403.2 1744.9h5v5h-5zM1407.2 1687.3h5v5h-5zM1433 1704.8h5v5h-5zM1527.4 1537.3h5v5h-5zM1533.2 1663.1h5v5h-5zM1537.9 1624.5h5v5h-5zM1568.5 1535.1h5v5h-5zM1591.6 1664.4h5v5h-5zM1601.5 1586.4h5v5h-5zM1623 1591.7h5v5h-5zM1627.2 1629.2h5v5h-5zM1702.1 1700.8h5v5h-5zM1722 1729.3h5v5h-5zM1737 1724h5v5h-5zM1748 1695.1h5v5h-5zM1763.1 1588.1h5v5h-5zM1771.6 1640.9h5v5h-5zM1807.3 1623.2h5v5h-5zM1832.6 1672.4h5v5h-5zM1897.3 1630.4h5v5h-5zM1911.6 1673h5v5h-5zM1957.5 1728.4h5v5h-5zM1977.2 1608h5v5h-5zM1991.5 1659.7h5v5h-5zM1997.4 1792.7h5v5h-5z" fill="#0000c8"/>
<path d="M377.5 1802.8h5v5h-5zM812 1805.8h5v5h-5zM1048.5 1781.6h5v5h-5zM1167 1765.8h5v5h-5zM1223.4 1714.7h5v5h-5zM1297.2 1770.6h5v5h-5zM1306.9 1578.7h5v5h-5zM1322.1 1587.3h5v5h-5zM1343.4 1700.7h5v5h-5zM1362.5 1749.7h5v5h-5zM1366.9 1697.4h5v5h-5zM1442.5 1559h5v5h-5zM1457.7 1685.3h5v5h-5zM1468 1533.6h5v5h-5zM1483.1 1649.2h5v5h-5zM1512.9 1569.8h5v5h-5zM1523 1536.8h5v5h-5zM1588.3 1711.2h5v5h-5zM1598.2 1592.8h5v5h-5zM1617.2 1737.7h5v5h-5zM1632.1 1682.1h5v5h-5zM1643.5 1658.1h5v5h-5zM1662.2 1607.1h5v5h-5zM1666.7 1644.5h5v5h-5zM1673.4 1751.1h5v5h-5zM1707.9 1642h5v5h-5zM1727.6 1747.8h5v5h-5zM1753.4 1655.7h5v5h-5zM1798.2 1747h5v5h-5zM1847.4 1636.1h5v5h-5zM1853.3 1516.1h5v5h-5zM1862.3 1743.9h5v5h-5zM1877.7 1638.5h5v5h-5zM1922.4 1688.8h5v5h-5zM1942.9 1776h5v5h-5zM1948.2 1643.8h5v5h-5zM1966.8 1698.4h5v5h-5zM1987.5 1716h5v5h-5z" fill="#00009a"/>
<path d="M522.6 1790.4h5v5h-5zM1007.8 1774.4h5v5h-5zM1018.3 1546.2h5v5h-5zM1032.3 1755h5v5h-5zM1042 1774.3h5v5h-5zM1066.6 1652h5v5h-5zM1072.7 1662h5v5h-5zM1076.9 1790.6h5v5h-5zM1083.3 1769.6h5v5h-5zM1096.8 1730.6h5v5h-5zM1143.3 1662.2h5v5h-5zM1152.6 1717.3h5v5h-5zM1163.2 1593.5h5v5h-5zM1193.4 1785.8h5v5h-5zM1197 1740.8h5v5h-5zM1247.2 1707.6h5v5h-5zM1258.4 1639.2h5v5h-5zM1261.7 1763.5h5v5h-5zM1272.9 1700.9h5v5h-5zM1327 1731.6h5v5h-5zM1331.9 1620.6h5v5h-5zM1381.6 1666.1h5v5h-5zM1397.4 1714.8h5v5h-5zM1417.5 1701.3h5v5h-5zM1456.8 1584.9h5v5h-5zM1478 1576.5h5v5h-5zM1488.1 1548.3h5v5h-5zM1501.6 1637.1h5v5h-5zM1507.7 1693.1h5v5h-5zM1518.3 1520.2h5v5h-5zM1547.8 1632.2h5v5h-5zM1553 1591.8h5v5h-5zM1557.4 1619.1h5v5h-5zM1561.5 1623.8h5v5h-5zM1562.2 1652.3h5v5h-5zM1571.6 1566.9h5v5h-5zM1687.7 1723.9h5v5h-5zM1716.6 1633.8h5v5h-5zM1788 1561h5v5h-5zM1803.1 1755.2h5v5h-5zM1858.2 1693.6h5v5h-5zM1868.3 1621.1h5v5h-5zM1883.5 1570.7h5v5h-5zM1927.5 1733.3h5v5h-5zM1933.4 1700.3h5v5h-5zM1952.1 1622.1h5v5h-5zM1983.3 1765.8h5v5h-5z" fill="#0000e0"/>
<path d="M1013.3 1766.6h5v5h-5zM1091.9 1776.6h5v5h-5zM1111.5 1738.3h5v5h-5zM1146.6 1718.8h5v5h-5zM1172.4 1692.6h5v5h-5zM1182.2 1734.5h5v5h-5zM1207.3 1756.5h5v5h-5zM1318.2 1744.4h5v5h-5zM1337.1 1782.7h5v5h-5zM1377.8 1661.3h5v5h-5zM1387.4 1740.4h5v5h-5zM1392.2 1770.7h5v5h-5zM1413 1598.3h5v5h-5zM1448.1 1664.1h5v5h-5zM1453.2 1620.8h5v5h-5zM1473.4 1547.8h5v5h-5zM1482.8 1583h5v5h-5zM1576.5 1547.1h5v5h-5zM1608.4 1781.7h5v5h-5zM1611.7 1798.7h5v5h-5zM1651.9 1681h5v5h-5zM1676.8 1632.2h5v5h-5zM1682.9 1713.3h5v5h-5zM1692.7 1684.1h5v5h-5zM1712.6 1697.5h5v5h-5zM1732 1705.5h5v5h-5zM1742.8 1654.4h5v5h-5zM1757 1706h5v5h-5zM1766.6 1637.4h5v5h-5zM1776.8 1705.7h5v5h-5zM1782.7 1622.8h5v5h-5zM1811.8 1714.3h5v5h-5zM1817.2 1739.3h5v5h-5zM1827 1755.2h5v5h-5zM1838.3 1674.7h5v5h-5zM1843.4 1525.5h5v5h-5zM1872.1 1659.3h5v5h-5zM1887.8 1733.1h5v5h-5zM1892.5 1681.2h5v5h-5zM1902.3 1686.1h5v5h-5zM1907.7 1609.8h5v5h-5zM1918.1 1707.2h5v5h-5zM1937.5 1602h5v5h-5zM1963.2 1770.2h5v5h-5zM1971.6 1748.6h5v5h-5z" fill="#1a1aff"/>
<rect x="333.5" y="1487.3" width="884.5" height="22" fill="#ff1a00"/>
<rect x="1217" y="1486.8" width="657" height="23" rx="11.5" fill="#1a1aff"/>
<rect x="1860" y="1486.8" width="131" height="23" rx="11.5" fill="#1a1aff"/>
<rect x="1185" y="1487.3" width="34" height="22" fill="#8a1a8a" opacity="0.35"/>
<circle cx="990.7" cy="1498.3" r="10" fill="none" stroke="#6a1aaa" stroke-width="2" opacity="0.3"/>
<circle cx="1393.1" cy="1498.3" r="10" fill="none" stroke="#e01a40" stroke-width="2" opacity="0.3"/>
<circle cx="645.1" cy="1498.3" r="10" fill="none" stroke="#6a1aaa" stroke-width="2" opacity="0.3"/>
<circle cx="1259" cy="1498.3" r="10" fill="none" stroke="#e01a40" stroke-width="2" opacity="0.3"/>
<circle cx="1045.1" cy="1498.3" r="10" fill="none" stroke="#6a1aaa" stroke-width="2" opacity="0.3"/>
<circle cx="1063.6" cy="1498.3" r="10" fill="none" stroke="#6a1aaa" stroke-width="2" opacity="0.3"/>
<circle cx="788.1" cy="1498.3" r="10" fill="none" stroke="#6a1aaa" stroke-width="2" opacity="0.3"/>
<circle cx="1186.4" cy="1498.3" r="10" fill="none" stroke="#6a1aaa" stroke-width="2" opacity="0.3"/>
<circle cx="793.7" cy="1498.3" r="10" fill="none" stroke="#6a1aaa" stroke-width="2" opacity="0.3"/>
<circle cx="824.9" cy="1498.3" r="10" fill="none" stroke="#6a1aaa" stroke-width="2" opacity="0.3"/>
<circle cx="1168.6" cy="1498.3" r="10" fill="none" stroke="#6a1aaa" stroke-width="2" opacity="0.3"/>
<circle cx="1359.7" cy="1498.3" r="10" fill="none" stroke="#e01a40" stroke-width="2" opacity="0.3"/>
<circle cx="954.7" cy="1498.3" r="10" fill="none" stroke="#6a1aaa" stroke-width="2" opacity="0.3"/>
<circle cx="1392.9" cy="1498.3" r="10" fill="none" stroke="#e01a40" stroke-width="2" opacity="0.3"/>
<circle cx="1215.1" cy="1498.3" r="10" fill="none" stroke="#e01a40" stroke-width="2" opacity="0.3"/>
<circle cx="761.7" cy="1498.3" r="10" fill="none" stroke="#6a1aaa" stroke-width="2" opacity="0.3"/>
<circle cx="698.9" cy="1498.3" r="10" fill="none" stroke="#6a1aaa" stroke-width="2" opacity="0.3"/>
<circle cx="1134.3" cy="1498.3" r="10" fill="none" stroke="#6a1aaa" stroke-width="2" opacity="0.3"/>
<circle cx="936.3" cy="1498.3" r="10" fill="none" stroke="#6a1aaa" stroke-width="2" opacity="0.3"/>
<circle cx="809.1" cy="1498.3" r="10" fill="none" stroke="#6a1aaa" stroke-width="2" opacity="0.3"/>
<circle cx="1123.9" cy="1498.3" r="10" fill="none" stroke="#6a1aaa" stroke-width="2" opacity="0.3"/>
<circle cx="1038.9" cy="1498.3" r="10" fill="none" stroke="#6a1aaa" stroke-width="2" opacity="0.3"/>
<circle cx="1364.4" cy="1498.3" r="10" fill="none" stroke="#e01a40" stroke-width="2" opacity="0.3"/>
<circle cx="1077.9" cy="1498.3" r="10" fill="none" stroke="#6a1aaa" stroke-width="2" opacity="0.3"/>
<circle cx="1244.7" cy="1498.3" r="10" fill="none" stroke="#e01a40" stroke-width="2" opacity="0.3"/>
<circle cx="674.2" cy="1498.3" r="10" fill="none" stroke="#6a1aaa" stroke-width="2" opacity="0.3"/>
<circle cx="599.7" cy="1498.3" r="10" fill="none" stroke="#6a1aaa" stroke-width="2" opacity="0.3"/>
<circle cx="879.9" cy="1498.3" r="10" fill="none" stroke="#6a1aaa" stroke-width="2" opacity="0.3"/>
<circle cx="1145.2" cy="1498.3" r="10" fill="none" stroke="#6a1aaa" stroke-width="2" opacity="0.3"/>
<circle cx="1198.9" cy="1498.3" r="10" fill="none" stroke="#6a1aaa" stroke-width="2" opacity="0.3"/>
<circle cx="653.8" cy="1498.3" r="10" fill="none" stroke="#6a1aaa" stroke-width="2" opacity="0.3"/>
<circle cx="834.6" cy="1498.3" r="10" fill="none" stroke="#6a1aaa" stroke-width="2" opacity="0.3"/>
<circle cx="623.1" cy="1498.3" r="10" fill="none" stroke="#6a1aaa" stroke-width="2" opacity="0.3"/>
<circle cx="1157.1" cy="1498.3" r="10" fill="none" stroke="#6a1aaa" stroke-width="2" opacity="0.3"/>
<circle cx="866.1" cy="1498.3" r="10" fill="none" stroke="#6a1aaa" stroke-width="2" opacity="0.3"/>
<circle cx="870.9" cy="1498.3" r="10" fill="none" stroke="#6a1aaa" stroke-width="2" opacity="0.3"/>
<circle cx="1385.2" cy="1498.3" r="10" fill="none" stroke="#e01a40" stroke-width="2" opacity="0.3"/>
<circle cx="1278.1" cy="1498.3" r="10" fill="none" stroke="#e01a40" stroke-width="2" opacity="0.3"/>
<circle cx="904.5" cy="1498.3" r="10" fill="none" stroke="#6a1aaa" stroke-width="2" opacity="0.3"/>
<circle cx="707" cy="1498.3" r="10" fill="none" stroke="#6a1aaa" stroke-width="2" opacity="0.3"/>
<circle cx="654" cy="1498.3" r="10" fill="none" stroke="#6a1aaa" stroke-width="2" opacity="0.3"/>
<circle cx="792.2" cy="1498.3" r="10" fill="none" stroke="#6a1aaa" stroke-width="2" opacity="0.3"/>
<circle cx="692.8" cy="1498.3" r="10" fill="none" stroke="#6a1aaa" stroke-width="2" opacity="0.3"/>
<circle cx="1085.9" cy="1498.3" r="10" fill="none" stroke="#6a1aaa" stroke-width="2" opacity="0.3"/>
<circle cx="1405.1" cy="1498.3" r="10" fill="none" stroke="#e01a40" stroke-width="2" opacity="0.3"/>
<circle cx="1344.5" cy="1498.3" r="10" fill="none" stroke="#e01a40" stroke-width="2" opacity="0.3"/>
<circle cx="661.5" cy="1498.3" r="10" fill="none" stroke="#6a1aaa" stroke-width="2" opacity="0.3"/>
<circle cx="919.1" cy="1498.3" r="10" fill="none" stroke="#6a1aaa" stroke-width="2" opacity="0.3"/>
<circle cx="1015.1" cy="1498.3" r="10" fill="none" stroke="#6a1aaa" stroke-width="2" opacity="0.3"/>
<circle cx="951.4" cy="1498.3" r="10" fill="none" stroke="#6a1aaa" stroke-width="2" opacity="0.3"/>
<circle cx="761.1" cy="1498.3" r="10" fill="none" stroke="#6a1aaa" stroke-width="2" opacity="0.3"/>
<circle cx="1427.2" cy="1498.3" r="10" fill="none" stroke="#e01a40" stroke-width="2" opacity="0.3"/>
<circle cx="1215.1" cy="1498.3" r="10" fill="none" stroke="#e01a40" stroke-width="2" opacity="0.3"/>
<circle cx="1295.5" cy="1498.3" r="10" fill="none" stroke="#e01a40" stroke-width="2" opacity="0.3"/>
<circle cx="1187.7" cy="1498.3" r="10" fill="none" stroke="#6a1aaa" stroke-width="2" opacity="0.3"/>
<circle cx="910.3" cy="1498.3" r="10" fill="none" stroke="#6a1aaa" stroke-width="2" opacity="0.3"/>
<circle cx="595.9" cy="1498.3" r="10" fill="none" stroke="#6a1aaa" stroke-width="2" opacity="0.3"/>
<circle cx="782.7" cy="1498.3" r="10" fill="none" stroke="#6a1aaa" stroke-width="2" opacity="0.3"/>
<circle cx="1012" cy="1498.3" r="10" fill="none" stroke="#6a1aaa" stroke-width="2" opacity="0.3"/>
<circle cx="1319.7" cy="1498.3" r="10" fill="none" stroke="#e01a40" stroke-width="2" opacity="0.3"/>
<circle cx="1096.9" cy="1498.3" r="10" fill="none" stroke="#6a1aaa" stroke-width="2" opacity="0.3"/>
<circle cx="1135.5" cy="1498.3" r="10" fill="none" stroke="#6a1aaa" stroke-width="2" opacity="0.3"/>
<circle cx="864.6" cy="1498.3" r="10" fill="none" stroke="#6a1aaa" stroke-width="2" opacity="0.3"/>
<circle cx="1237" cy="1498.3" r="10" fill="none" stroke="#e01a40" stroke-width="2" opacity="0.3"/>
<circle cx="1054" cy="1498.3" r="10" fill="none" stroke="#6a1aaa" stroke-width="2" opacity="0.3"/>
<circle cx="1375.3" cy="1498.3" r="10" fill="none" stroke="#e01a40" stroke-width="2" opacity="0.3"/>
<circle cx="848.5" cy="1498.3" r="10" fill="none" stroke="#6a1aaa" stroke-width="2" opacity="0.3"/>
<circle cx="1140.5" cy="1498.3" r="10" fill="none" stroke="#6a1aaa" stroke-width="2" opacity="0.3"/>
<circle cx="926.5" cy="1498.3" r="10" fill="none" stroke="#6a1aaa" stroke-width="2" opacity="0.3"/>
<circle cx="1345.8" cy="1498.3" r="10" fill="none" stroke="#e01a40" stroke-width="2" opacity="0.3"/>
<line x1="729" y1="1483" x2="729" y2="1840" stroke="#c4c4c4" stroke-width="2" stroke-dasharray="3 5"/>
<line x1="1123.3" y1="1483" x2="1123.3" y2="1840" stroke="#c4c4c4" stroke-width="2" stroke-dasharray="3 5"/>
<line x1="1519.5" y1="1483" x2="1519.5" y2="1840" stroke="#c4c4c4" stroke-width="2" stroke-dasharray="3 5"/>
<line x1="1914" y1="1483" x2="1914" y2="1840" stroke="#c4c4c4" stroke-width="2" stroke-dasharray="3 5"/>
<line x1="332.5" y1="1670.8" x2="2059.5" y2="1670.8" stroke="#c4c4c4" stroke-width="2" stroke-dasharray="3 5"/>
<line x1="427.4" y1="1840" x2="427.4" y2="1483" stroke="#000" stroke-width="6" stroke-dasharray="19 7.2"/>
<line x1="1021.8" y1="1840" x2="1021.8" y2="1483" stroke="#000" stroke-width="6" stroke-dasharray="19 7.2"/>
<line x1="1602.7" y1="1840" x2="1602.7" y2="1483" stroke="#000" stroke-width="6" stroke-dasharray="19 7.2"/>
<rect x="332.5" y="1483" width="1727" height="357" fill="none" stroke="#3c3c3c" stroke-width="3"/>
<line x1="332.5" y1="1840" x2="332.5" y2="1854" stroke="#3c3c3c" stroke-width="3"/>
<line x1="729" y1="1840" x2="729" y2="1854" stroke="#3c3c3c" stroke-width="3"/>
<line x1="1123.3" y1="1840" x2="1123.3" y2="1854" stroke="#3c3c3c" stroke-width="3"/>
<line x1="1519.5" y1="1840" x2="1519.5" y2="1854" stroke="#3c3c3c" stroke-width="3"/>
<line x1="1914" y1="1840" x2="1914" y2="1854" stroke="#3c3c3c" stroke-width="3"/>
<line x1="318.5" y1="1840" x2="332.5" y2="1840" stroke="#3c3c3c" stroke-width="3"/>
<text x="302.5" y="1854" text-anchor="end" font-size="39.5" fill="#333">0</text>
<line x1="318.5" y1="1670.8" x2="332.5" y2="1670.8" stroke="#3c3c3c" stroke-width="3"/>
<text x="302.5" y="1684.8" text-anchor="end" font-size="39.5" fill="#333">10</text>
<line x1="318.5" y1="1501.6" x2="332.5" y2="1501.6" stroke="#3c3c3c" stroke-width="3"/>
<text x="302.5" y="1515.6" text-anchor="end" font-size="39.5" fill="#333">20</text>
<text transform="translate(222.5 1661.5) rotate(-90)" text-anchor="middle" font-size="41" fill="#333">Mean D (mm)</text>
<text x="81.5" y="1554.1" text-anchor="middle" font-family="'Liberation Sans', sans-serif" font-weight="bold" font-size="92" fill="#000">(d)</text>
<line x1="729" y1="1948" x2="729" y2="2306" stroke="#c4c4c4" stroke-width="2" stroke-dasharray="3 5"/>
<line x1="1123.3" y1="1948" x2="1123.3" y2="2306" stroke="#c4c4c4" stroke-width="2" stroke-dasharray="3 5"/>
<line x1="1519.5" y1="1948" x2="1519.5" y2="2306" stroke="#c4c4c4" stroke-width="2" stroke-dasharray="3 5"/>
<line x1="1914" y1="1948" x2="1914" y2="2306" stroke="#c4c4c4" stroke-width="2" stroke-dasharray="3 5"/>
<line x1="332.5" y1="2174.5" x2="2059.5" y2="2174.5" stroke="#c4c4c4" stroke-width="2" stroke-dasharray="3 5"/>
<line x1="332.5" y1="2043" x2="2059.5" y2="2043" stroke="#c4c4c4" stroke-width="2" stroke-dasharray="3 5"/>
<path d="M332.5 2305 L340.5 2305 L348.5 2304.9 L356.5 2304.9 L364.5 2304.8 L372.5 2304.7 L380.5 2304.7 L388.5 2304.6 L396.5 2304.5 L404.5 2304.4 L412.5 2304.4 L420.5 2304.3 L428.5 2304.2 L436.5 2304.1 L444.5 2304 L452.5 2303.9 L460.5 2303.8 L468.5 2303.7 L476.5 2303.6 L484.5 2303.5 L492.5 2303.4 L500.5 2303.3 L508.5 2303.2 L516.5 2303.1 L524.5 2303 L532.5 2302.9 L540.5 2302.8 L548.5 2302.7 L556.5 2302.6 L564.5 2302.5 L572.5 2302.4 L580.5 2302.3 L588.5 2302.2 L596.5 2302.1 L604.5 2302 L612.5 2301.9 L620.5 2301.8 L628.5 2301.7 L636.5 2301.7 L644.5 2301.6 L652.5 2301.5 L660.5 2301.4 L668.5 2301.4 L676.5 2301.3 L684.5 2301.2 L692.5 2301.2 L700.5 2301.1 L708.5 2301.1 L716.5 2301 L724.5 2300.9 L732.5 2300.9 L740.5 2300.8 L748.5 2300.7 L756.5 2300.6 L764.5 2300.5 L772.5 2300.4 L780.5 2300.2 L788.5 2300.1 L796.5 2300 L804.5 2299.8 L812.5 2299.7 L820.5 2299.5 L828.5 2299.4 L836.5 2299.2 L844.5 2299 L852.5 2298.9 L860.5 2298.7 L868.5 2298.6 L876.5 2298.4 L884.5 2298.2 L892.5 2298.1 L900.5 2297.9 L908.5 2297.7 L916.5 2297.6 L924.5 2297.4 L932.5 2297.3 L940.5 2297.1 L948.5 2297 L956.5 2296.9 L964.5 2296.7 L972.5 2296.6 L980.5 2296.5 L988.5 2296.4 L996.5 2296.3 L1004.5 2296.2 L1012.5 2296.1 L1020.5 2296 L1028.5 2295.9 L1036.5 2295.5 L1044.5 2295.1 L1052.5 2294.6 L1060.5 2294.1 L1068.5 2293.6 L1076.5 2293.1 L1084.5 2292.6 L1092.5 2292.3 L1100.5 2292 L1108.5 2291.6 L1116.5 2291.2 L1124.5 2290.6 L1132.5 2290 L1140.5 2289.4 L1148.5 2288.7 L1156.5 2288.1 L1164.5 2287.4 L1172.5 2286.9 L1180.5 2286.4 L1188.5 2286.1 L1196.5 2285.4 L1204.5 2284.2 L1212.5 2282.8 L1220.5 2281.3 L1228.5 2279.9 L1236.5 2278.6 L1244.5 2277.7 L1252.5 2276.9 L1260.5 2275.8 L1268.5 2274.4 L1276.5 2272.9 L1284.5 2271.4 L1292.5 2270.2 L1300.5 2269.3 L1308.5 2268.7 L1316.5 2268 L1324.5 2267.1 L1332.5 2266.1 L1340.5 2265.1 L1348.5 2264.3 L1356.5 2263.7 L1364.5 2263.5 L1372.5 2263.3 L1380.5 2263 L1388.5 2262.7 L1396.5 2262.3 L1404.5 2261.9 L1412.5 2261.6 L1420.5 2261.3 L1428.5 2261.1 L1436.5 2260.7 L1444.5 2257.7 L1452.5 2254.1 L1460.5 2252.2 L1468.5 2250.9 L1476.5 2249.2 L1484.5 2247.2 L1492.5 2245.2 L1500.5 2243.4 L1508.5 2242 L1516.5 2241.1 L1524.5 2240.1 L1532.5 2238.8 L1540.5 2237.4 L1548.5 2235.9 L1556.5 2234.5 L1564.5 2233.5 L1572.5 2232.8 L1580.5 2232.2 L1588.5 2231.4 L1596.5 2230.6 L1604.5 2230.2 L1612.5 2230 L1620.5 2229.8 L1628.5 2229.5 L1636.5 2229.2 L1644.5 2228.9 L1652.5 2228.6 L1660.5 2228.3 L1668.5 2228 L1676.5 2227.8 L1684.5 2227.5 L1692.5 2227.4 L1700.5 2227.1 L1708.5 2226.8 L1716.5 2226.4 L1724.5 2226 L1732.5 2225.5 L1740.5 2225.1 L1748.5 2224.6 L1756.5 2224.1 L1764.5 2223.6 L1772.5 2223.1 L1780.5 2222.7 L1788.5 2222.3 L1796.5 2222 L1804.5 2221.8 L1812.5 2221.4 L1820.5 2220.8 L1828.5 2220.2 L1836.5 2219.5 L1844.5 2218.9 L1852.5 2218.3 L1860.5 2218 L1868.5 2218 L1876.5 2218 L1884.5 2218 L1892.5 2218 L1900.5 2218 L1908.5 2218 L1916.5 2218 L1924.5 2218 L1932.5 2218 L1940.5 2218 L1948.5 2218 L1956.5 2218 L1964.5 2218 L1972.5 2218 L1980.5 2218 L1988.5 2218 L1993.6 2218" fill="none" stroke="#1a1aff" stroke-width="7" stroke-linejoin="round"/>
<path d="M332.5 2304.6 L340.5 2304.5 L348.5 2304.4 L356.5 2304.2 L364.5 2304.1 L372.5 2303.9 L380.5 2303.7 L388.5 2303.6 L396.5 2303.5 L404.5 2301.9 L412.5 2299.5 L420.5 2297.2 L428.5 2295.8 L436.5 2294.6 L444.5 2292.9 L452.5 2291 L460.5 2289.2 L468.5 2287.7 L476.5 2286.5 L484.5 2283.9 L492.5 2280.4 L500.5 2276.9 L508.5 2274.1 L516.5 2272.3 L524.5 2270 L532.5 2267.1 L540.5 2264 L548.5 2261.2 L556.5 2259.2 L564.5 2254 L572.5 2250.3 L580.5 2246.6 L588.5 2242 L596.5 2237.4 L604.5 2233.9 L612.5 2231.2 L620.5 2226.7 L628.5 2221.3 L636.5 2216.2 L644.5 2212.5 L652.5 2210 L660.5 2206.2 L668.5 2201.9 L676.5 2197.9 L684.5 2195.1 L692.5 2194.2 L700.5 2193 L708.5 2191.7 L716.5 2190.7 L724.5 2190.6 L732.5 2190.8 L740.5 2191 L748.5 2191.2 L756.5 2191.4 L764.5 2191.5 L772.5 2191.4 L780.5 2191.3 L788.5 2191.1 L796.5 2191 L804.5 2190.8 L812.5 2190.7 L820.5 2190.6 L828.5 2190.5 L836.5 2190 L844.5 2189.3 L852.5 2188.3 L860.5 2187.3 L868.5 2186.4 L876.5 2185.6 L884.5 2185 L892.5 2183.5 L900.5 2181.2 L908.5 2178.4 L916.5 2175.6 L924.5 2172.8 L932.5 2170.5 L940.5 2168.9 L948.5 2167.5 L956.5 2165.5 L964.5 2163.1 L972.5 2160.6 L980.5 2158.2 L988.5 2156.3 L996.5 2154.9 L1004.5 2153.5 L1012.5 2151.6 L1020.5 2149.9 L1028.5 2149.2 L1036.5 2148.4 L1044.5 2147.5 L1052.5 2146.5 L1060.5 2145.4 L1068.5 2144.2 L1076.5 2143.1 L1084.5 2142 L1092.5 2141 L1100.5 2140.3 L1108.5 2139.8 L1116.5 2139.5 L1124.5 2139.1 L1132.5 2138.6 L1140.5 2138.1 L1148.5 2137.6 L1156.5 2137 L1164.5 2136.5 L1172.5 2136 L1180.5 2135.6 L1188.5 2135.3 L1196.5 2134.9 L1204.5 2134.2 L1212.5 2133.3 L1220.5 2132.5 L1228.5 2131.8 L1236.5 2131.4 L1244.5 2131.3 L1252.5 2131.2 L1260.5 2131 L1268.5 2130.8 L1276.5 2130.7 L1284.5 2130.5 L1292.5 2130.4 L1300.5 2130.3 L1308.5 2130.3 L1316.5 2130.3 L1324.5 2130.3 L1332.5 2130.3 L1340.5 2130.3 L1348.5 2130.3 L1356.5 2130.3 L1364.5 2130.3 L1372.5 2130.3 L1380.5 2130.3 L1388.5 2130.3 L1396.5 2130.3 L1404.5 2130.3 L1412.5 2130.3 L1420.5 2130.3 L1428.5 2130.3 L1436.5 2130.3 L1444.5 2130.3 L1452.5 2130.3 L1460.5 2130.3 L1468.5 2130.3 L1476.5 2130.3 L1484.5 2130.3 L1492.5 2130.3 L1500.5 2130.3 L1508.5 2130.3 L1516.5 2130.3 L1524.5 2130.3 L1532.5 2130.3 L1540.5 2130.3 L1548.5 2130.3 L1556.5 2130.3 L1564.5 2130.3 L1572.5 2130.3 L1580.5 2130.3 L1588.5 2130.3 L1596.5 2130.3 L1604.5 2130.3 L1612.5 2130.3 L1620.5 2130.3 L1628.5 2130.3 L1636.5 2130.3 L1644.5 2130.3 L1652.5 2130.3 L1660.5 2130.3 L1668.5 2130.3 L1676.5 2130.3 L1684.5 2130.3 L1692.5 2130.3 L1700.5 2130.3 L1708.5 2130.3 L1716.5 2130.3 L1724.5 2130.3 L1732.5 2130.3 L1740.5 2130.3 L1748.5 2130.3 L1756.5 2130.3 L1764.5 2130.3 L1772.5 2130.3 L1780.5 2130.3 L1788.5 2130.3 L1796.5 2130.3 L1804.5 2130.3 L1812.5 2130.3 L1820.5 2130.3 L1828.5 2130.3 L1836.5 2130.3 L1844.5 2130.3 L1852.5 2130.3 L1860.5 2130.3 L1868.5 2130.3 L1876.5 2130.3 L1884.5 2130.3 L1892.5 2130.3 L1900.5 2130.3 L1908.5 2130.3 L1916.5 2130.3 L1924.5 2130.3 L1932.5 2130.3 L1940.5 2130.3 L1948.5 2130.3 L1956.5 2130.3 L1964.5 2130.3 L1972.5 2130.3 L1980.5 2130.3 L1988.5 2130.3 L1993.6 2130.3" fill="none" stroke="#ff1a1a" stroke-width="7" stroke-linejoin="round"/>
<path d="M332.5 2304.6 L340.5 2304.5 L348.5 2304.4 L356.5 2304.2 L364.5 2304.1 L372.5 2303.9 L380.5 2303.7 L388.5 2303.6 L396.5 2303.5 L404.5 2301.9 L412.5 2299.5 L420.5 2297.2 L428.5 2295.8 L436.5 2294.6 L444.5 2292.9 L452.5 2291 L460.5 2289.2 L468.5 2287.7 L476.5 2286.5 L484.5 2283.9 L492.5 2280.4 L500.5 2276.9 L508.5 2274.1 L516.5 2272.3 L524.5 2270 L532.5 2267.1 L540.5 2264 L548.5 2261.2 L556.5 2259.2 L564.5 2254 L572.5 2250.3 L580.5 2246.6 L588.5 2242 L596.5 2237.4 L604.5 2233.9 L612.5 2231.2 L620.5 2226.7 L628.5 2221.3 L636.5 2216.2 L644.5 2212.5 L652.5 2210 L660.5 2206.2 L668.5 2201.9 L676.5 2197.9 L684.5 2195.1 L692.5 2194.1 L700.5 2192.6 L708.5 2191.1 L716.5 2189.9 L724.5 2189.8 L732.5 2190 L740.5 2190.2 L748.5 2190.5 L756.5 2190.7 L764.5 2190.8 L772.5 2190.7 L780.5 2190.6 L788.5 2190.4 L796.5 2190.2 L804.5 2190.1 L812.5 2189.9 L820.5 2189.8 L828.5 2189.7 L836.5 2189.1 L844.5 2188.2 L852.5 2187.1 L860.5 2185.9 L868.5 2184.7 L876.5 2183.7 L884.5 2183 L892.5 2181.6 L900.5 2179.3 L908.5 2176.7 L916.5 2173.8 L924.5 2171.2 L932.5 2168.9 L940.5 2167.4 L948.5 2166 L956.5 2164 L964.5 2161.6 L972.5 2159.2 L980.5 2156.8 L988.5 2154.9 L996.5 2153.5 L1004.5 2152.1 L1012.5 2150.1 L1020.5 2148.4 L1028.5 2147.4 L1036.5 2145.9 L1044.5 2144.1 L1052.5 2142 L1060.5 2139.8 L1068.5 2137.4 L1076.5 2135.2 L1084.5 2133 L1092.5 2131.2 L1100.5 2129.6 L1108.5 2128.6 L1116.5 2127.9 L1124.5 2126.9 L1132.5 2125.7 L1140.5 2124.4 L1148.5 2123.1 L1156.5 2121.8 L1164.5 2120.5 L1172.5 2119.3 L1180.5 2118.3 L1188.5 2117.6 L1196.5 2116.7 L1204.5 2115.3 L1212.5 2113.7 L1220.5 2111.9 L1228.5 2110.1 L1236.5 2108.6 L1244.5 2107.5 L1252.5 2106.6 L1260.5 2105.2 L1268.5 2103.6 L1276.5 2101.8 L1284.5 2100.1 L1292.5 2098.6 L1300.5 2097.5 L1308.5 2096.8 L1316.5 2095.9 L1324.5 2094.8 L1332.5 2093.6 L1340.5 2092.5 L1348.5 2091.5 L1356.5 2090.8 L1364.5 2090.6 L1372.5 2090.5 L1380.5 2090.4 L1388.5 2090.3 L1396.5 2090.1 L1404.5 2090 L1412.5 2089.9 L1420.5 2089.8 L1428.5 2089.7 L1436.5 2089.4 L1444.5 2086.8 L1452.5 2083.7 L1460.5 2081.9 L1468.5 2080.3 L1476.5 2078.2 L1484.5 2075.7 L1492.5 2073.2 L1500.5 2070.9 L1508.5 2069.1 L1516.5 2068.1 L1524.5 2067.1 L1532.5 2065.8 L1540.5 2064.4 L1548.5 2062.9 L1556.5 2061.5 L1564.5 2060.5 L1572.5 2059.8 L1580.5 2059.1 L1588.5 2058.2 L1596.5 2057.4 L1604.5 2057 L1612.5 2056.8 L1620.5 2056.6 L1628.5 2056.4 L1636.5 2056.1 L1644.5 2055.8 L1652.5 2055.5 L1660.5 2055.2 L1668.5 2055 L1676.5 2054.7 L1684.5 2054.5 L1692.5 2054.4 L1700.5 2054.1 L1708.5 2053.8 L1716.5 2053.4 L1724.5 2053 L1732.5 2052.5 L1740.5 2052.1 L1748.5 2051.6 L1756.5 2051.1 L1764.5 2050.6 L1772.5 2050.1 L1780.5 2049.7 L1788.5 2049.3 L1796.5 2049 L1804.5 2048.8 L1812.5 2048.5 L1820.5 2048.1 L1828.5 2047.6 L1836.5 2047.1 L1844.5 2046.6 L1852.5 2046.2 L1860.5 2046 L1868.5 2046 L1876.5 2045.9 L1884.5 2045.8 L1892.5 2045.8 L1900.5 2045.7 L1908.5 2045.6 L1916.5 2045.5 L1924.5 2045.5 L1932.5 2045.4 L1940.5 2045.3 L1948.5 2045.2 L1956.5 2045.2 L1964.5 2045.1 L1972.5 2045 L1980.5 2045 L1982.4 2045" fill="none" stroke="#000" stroke-width="7" stroke-dasharray="26 12" stroke-linejoin="round"/>
<circle cx="729.5" cy="2175.8" r="13" fill="#bf3fbf"/>
<circle cx="1123.6" cy="2035.4" r="13" fill="#bf3fbf"/>
<circle cx="1520.9" cy="1959.5" r="13" fill="#bf3fbf"/>
<circle cx="1913.8" cy="1959.5" r="13" fill="#bf3fbf"/>
<rect x="351" y="1965" width="211" height="227" rx="8" fill="#fff" fill-opacity="0.85" stroke="#d8d8d8" stroke-width="3"/>
<line x1="358" y1="1993.8" x2="435" y2="1993.8" stroke="#1a1aff" stroke-width="7"/>
<line x1="358" y1="2049.3" x2="435" y2="2049.3" stroke="#ff1a1a" stroke-width="7"/>
<line x1="358" y1="2104.8" x2="435" y2="2104.8" stroke="#000" stroke-width="7" stroke-dasharray="26 12"/>
<circle cx="396.6" cy="2160.3" r="13" fill="#bf3fbf"/>
<text x="459.5" y="2006.3" font-family="'DejaVu Sans Condensed', 'DejaVu Sans', sans-serif" font-size="36" fill="#333">Snow</text>
<text x="459.5" y="2061.8" font-family="'DejaVu Sans Condensed', 'DejaVu Sans', sans-serif" font-size="36" fill="#333">Rain</text>
<text x="459.5" y="2117.3" font-family="'DejaVu Sans Condensed', 'DejaVu Sans', sans-serif" font-size="36" fill="#333">All</text>
<text x="459.5" y="2172.8" font-family="'DejaVu Sans Condensed', 'DejaVu Sans', sans-serif" font-size="36" fill="#333">NWS</text>
<line x1="427.4" y1="2306" x2="427.4" y2="1948" stroke="#000" stroke-width="6" stroke-dasharray="19 7.2"/>
<line x1="1021.8" y1="2306" x2="1021.8" y2="1948" stroke="#000" stroke-width="6" stroke-dasharray="19 7.2"/>
<line x1="1602.7" y1="2306" x2="1602.7" y2="1948" stroke="#000" stroke-width="6" stroke-dasharray="19 7.2"/>
<rect x="332.5" y="1948" width="1727" height="358" fill="none" stroke="#3c3c3c" stroke-width="3"/>
<line x1="332.5" y1="2306" x2="332.5" y2="2320" stroke="#3c3c3c" stroke-width="3"/>
<line x1="729" y1="2306" x2="729" y2="2320" stroke="#3c3c3c" stroke-width="3"/>
<line x1="1123.3" y1="2306" x2="1123.3" y2="2320" stroke="#3c3c3c" stroke-width="3"/>
<line x1="1519.5" y1="2306" x2="1519.5" y2="2320" stroke="#3c3c3c" stroke-width="3"/>
<line x1="1914" y1="2306" x2="1914" y2="2320" stroke="#3c3c3c" stroke-width="3"/>
<line x1="318.5" y1="2306" x2="332.5" y2="2306" stroke="#3c3c3c" stroke-width="3"/>
<text x="302.5" y="2320" text-anchor="end" font-size="39.5" fill="#333">0</text>
<line x1="318.5" y1="2174.5" x2="332.5" y2="2174.5" stroke="#3c3c3c" stroke-width="3"/>
<text x="302.5" y="2188.5" text-anchor="end" font-size="39.5" fill="#333">20</text>
<line x1="318.5" y1="2043" x2="332.5" y2="2043" stroke="#3c3c3c" stroke-width="3"/>
<text x="302.5" y="2057" text-anchor="end" font-size="39.5" fill="#333">40</text>
<text transform="translate(222.5 2127) rotate(-90)" text-anchor="middle" font-size="41" fill="#333">LWE Accum. (mm)</text>
<text x="81.5" y="2013" text-anchor="middle" font-family="'Liberation Sans', sans-serif" font-weight="bold" font-size="92" fill="#000">(e)</text>
<rect x="332.5" y="2412" width="1727" height="359" fill="#8000ff"/>
<path d="M332.5 2417 L340.5 2417 L348.5 2417.1 L356.5 2417.2 L364.5 2417.2 L372.5 2417.3 L380.5 2417.4 L388.5 2417.4 L396.5 2417.5 L404.5 2417.6 L412.5 2417.7 L420.5 2417.8 L428.5 2417.9 L436.5 2418 L444.5 2418.1 L452.5 2418.2 L460.5 2418.3 L468.5 2418.4 L476.5 2418.5 L484.5 2418.6 L492.5 2418.7 L500.5 2418.8 L508.5 2418.9 L516.5 2419 L524.5 2419.1 L532.5 2419.2 L540.5 2419.3 L548.5 2419.4 L556.5 2419.5 L564.5 2419.6 L572.5 2419.8 L580.5 2419.9 L588.5 2420 L596.5 2420.1 L604.5 2420.1 L612.5 2420.2 L620.5 2420.3 L628.5 2420.4 L636.5 2420.5 L644.5 2420.6 L652.5 2420.6 L660.5 2420.7 L668.5 2420.8 L676.5 2420.8 L684.5 2420.9 L692.5 2421 L700.5 2421 L708.5 2421 L716.5 2421.1 L724.5 2421.1 L732.5 2421.1 L740.5 2421.1 L748.5 2421.2 L756.5 2421.2 L764.5 2421.3 L772.5 2421.3 L780.5 2421.3 L788.5 2421.4 L796.5 2421.4 L804.5 2421.5 L812.5 2421.5 L820.5 2421.6 L828.5 2421.6 L836.5 2421.7 L844.5 2421.7 L852.5 2421.8 L860.5 2421.8 L868.5 2421.9 L876.5 2422 L884.5 2422 L892.5 2422.1 L900.5 2422.1 L908.5 2422.2 L916.5 2422.2 L924.5 2422.3 L932.5 2422.4 L940.5 2422.4 L948.5 2422.5 L956.5 2422.5 L964.5 2422.6 L972.5 2422.7 L980.5 2422.7 L988.5 2422.8 L996.5 2422.8 L1004.5 2422.9 L1012.5 2423 L1020.5 2423 L1028.5 2423.1 L1036.5 2423.1 L1044.5 2423.2 L1052.5 2423.2 L1060.5 2423.3 L1068.5 2423.3 L1076.5 2423.4 L1084.5 2423.5 L1092.5 2423.5 L1100.5 2423.5 L1108.5 2423.6 L1116.5 2423.6 L1124.5 2423.7 L1132.5 2423.7 L1140.5 2423.8 L1148.5 2423.8 L1156.5 2423.8 L1164.5 2423.9 L1172.5 2423.9 L1180.5 2423.9 L1188.5 2424 L1196.5 2424 L1204.5 2424 L1212.5 2424 L1220.5 2424 L1228.5 2424 L1236.5 2424 L1244.5 2424 L1252.5 2424 L1260.5 2424 L1268.5 2424 L1276.5 2424 L1284.5 2424 L1292.5 2424 L1300.5 2424 L1308.5 2424 L1316.5 2424 L1324.5 2424 L1332.5 2424 L1340.5 2424 L1348.5 2424 L1356.5 2424 L1364.5 2424 L1372.5 2424 L1380.5 2424 L1388.5 2424 L1396.5 2424 L1404.5 2424 L1412.5 2424 L1420.5 2424 L1428.5 2424 L1436.5 2424 L1444.5 2424 L1452.5 2424 L1460.5 2424 L1468.5 2424 L1476.5 2424 L1484.5 2424 L1492.5 2424 L1500.5 2424 L1508.5 2424 L1516.5 2424 L1524.5 2424 L1532.5 2424 L1540.5 2424 L1548.5 2424 L1556.5 2424 L1564.5 2424 L1572.5 2424 L1580.5 2424 L1588.5 2424 L1596.5 2424 L1604.5 2424.1 L1612.5 2424.2 L1620.5 2424.4 L1628.5 2424.5 L1636.5 2424.7 L1644.5 2424.9 L1652.5 2425.2 L1660.5 2425.4 L1668.5 2425.6 L1676.5 2425.9 L1684.5 2426.1 L1692.5 2426.4 L1700.5 2426.7 L1708.5 2427 L1716.5 2427.3 L1724.5 2427.5 L1732.5 2427.8 L1740.5 2428.1 L1748.5 2428.4 L1756.5 2428.7 L1764.5 2429 L1772.5 2429.3 L1780.5 2429.6 L1788.5 2429.9 L1796.5 2430.2 L1804.5 2430.5 L1812.5 2430.8 L1820.5 2431 L1828.5 2431.3 L1836.5 2431.5 L1844.5 2431.8 L1852.5 2432 L1860.5 2432.2 L1868.5 2432.4 L1876.5 2432.6 L1884.5 2432.7 L1892.5 2432.9 L1900.5 2433 L1908.5 2433.2 L1916.5 2433.5 L1924.5 2433.8 L1932.5 2434.1 L1940.5 2434.5 L1948.5 2434.8 L1956.5 2435.2 L1964.5 2435.7 L1972.5 2436.1 L1980.5 2436.5 L1988.5 2437 L1996.5 2437.4 L2004.5 2437.8 L2012.5 2438.2 L2020.5 2438.6 L2028.5 2439 L2036.5 2439.3 L2044.5 2439.6 L2052.5 2439.8 L2059.5 2440 L2059.5 2771 L332.5 2771 Z" fill="#4c4ffc"/>
<path d="M332.5 2444.4 L340.5 2444.5 L348.5 2444.6 L356.5 2444.7 L364.5 2444.8 L372.5 2445 L380.5 2445.1 L388.5 2445.3 L396.5 2445.4 L404.5 2445.6 L412.5 2445.8 L420.5 2446 L428.5 2446.1 L436.5 2446.3 L444.5 2446.5 L452.5 2446.7 L460.5 2446.9 L468.5 2447.1 L476.5 2447.3 L484.5 2447.5 L492.5 2447.7 L500.5 2447.9 L508.5 2448.1 L516.5 2448.3 L524.5 2448.5 L532.5 2448.7 L540.5 2448.9 L548.5 2449 L556.5 2449.2 L564.5 2449.3 L572.5 2449.5 L580.5 2449.6 L588.5 2449.7 L596.5 2449.8 L604.5 2449.9 L612.5 2450 L620.5 2450.1 L628.5 2450.2 L636.5 2450.3 L644.5 2450.4 L652.5 2450.5 L660.5 2450.6 L668.5 2450.7 L676.5 2450.8 L684.5 2451 L692.5 2451.1 L700.5 2451.3 L708.5 2451.4 L716.5 2451.6 L724.5 2451.7 L732.5 2451.9 L740.5 2452 L748.5 2452.2 L756.5 2452.4 L764.5 2452.5 L772.5 2452.7 L780.5 2452.9 L788.5 2453 L796.5 2453.2 L804.5 2453.4 L812.5 2453.5 L820.5 2453.7 L828.5 2453.8 L836.5 2454 L844.5 2454.1 L852.5 2454.3 L860.5 2454.4 L868.5 2454.6 L876.5 2454.7 L884.5 2454.8 L892.5 2454.9 L900.5 2455.1 L908.5 2455.2 L916.5 2455.3 L924.5 2455.4 L932.5 2455.4 L940.5 2455.5 L948.5 2455.5 L956.5 2455.6 L964.5 2455.6 L972.5 2455.6 L980.5 2455.7 L988.5 2455.7 L996.5 2455.8 L1004.5 2455.8 L1012.5 2455.9 L1020.5 2455.9 L1028.5 2456 L1036.5 2456 L1044.5 2456.1 L1052.5 2456.1 L1060.5 2456.2 L1068.5 2456.2 L1076.5 2456.3 L1084.5 2456.4 L1092.5 2456.4 L1100.5 2456.5 L1108.5 2456.5 L1116.5 2456.6 L1124.5 2456.6 L1132.5 2456.7 L1140.5 2456.7 L1148.5 2456.8 L1156.5 2456.8 L1164.5 2456.9 L1172.5 2456.9 L1180.5 2456.9 L1188.5 2457 L1196.5 2457 L1204.5 2457 L1212.5 2457.1 L1220.5 2457.1 L1228.5 2457.2 L1236.5 2457.3 L1244.5 2457.3 L1252.5 2457.4 L1260.5 2457.5 L1268.5 2457.5 L1276.5 2457.6 L1284.5 2457.7 L1292.5 2457.8 L1300.5 2457.9 L1308.5 2458 L1316.5 2458.1 L1324.5 2458.2 L1332.5 2458.3 L1340.5 2458.4 L1348.5 2458.5 L1356.5 2458.6 L1364.5 2458.7 L1372.5 2458.8 L1380.5 2458.9 L1388.5 2459 L1396.5 2459.1 L1404.5 2459.2 L1412.5 2459.4 L1420.5 2459.5 L1428.5 2459.6 L1436.5 2459.7 L1444.5 2459.8 L1452.5 2459.9 L1460.5 2460 L1468.5 2460.1 L1476.5 2460.2 L1484.5 2460.3 L1492.5 2460.4 L1500.5 2460.5 L1508.5 2460.6 L1516.5 2460.7 L1524.5 2460.8 L1532.5 2460.8 L1540.5 2460.9 L1548.5 2461 L1556.5 2461.1 L1564.5 2461.1 L1572.5 2461.2 L1580.5 2461.3 L1588.5 2461.3 L1596.5 2461.4 L1604.5 2461.4 L1612.5 2461.6 L1620.5 2461.8 L1628.5 2462.1 L1636.5 2462.3 L1644.5 2462.6 L1652.5 2462.9 L1660.5 2463.2 L1668.5 2463.6 L1676.5 2463.9 L1684.5 2464.3 L1692.5 2464.7 L1700.5 2465.1 L1708.5 2465.5 L1716.5 2465.9 L1724.5 2466.3 L1732.5 2466.7 L1740.5 2467.1 L1748.5 2467.5 L1756.5 2468 L1764.5 2468.4 L1772.5 2468.8 L1780.5 2469.2 L1788.5 2469.6 L1796.5 2470 L1804.5 2470.4 L1812.5 2470.8 L1820.5 2471.2 L1828.5 2471.6 L1836.5 2471.9 L1844.5 2472.2 L1852.5 2472.6 L1860.5 2472.9 L1868.5 2473.1 L1876.5 2473.4 L1884.5 2473.6 L1892.5 2473.8 L1900.5 2474 L1908.5 2474.2 L1916.5 2474.5 L1924.5 2474.9 L1932.5 2475.2 L1940.5 2475.7 L1948.5 2476.1 L1956.5 2476.6 L1964.5 2477.1 L1972.5 2477.5 L1980.5 2478 L1988.5 2478.5 L1996.5 2479 L2004.5 2479.5 L2012.5 2480 L2020.5 2480.4 L2028.5 2480.8 L2036.5 2481.2 L2044.5 2481.5 L2052.5 2481.8 L2059.5 2482 L2059.5 2771 L332.5 2771 Z" fill="#19cee3"/>
<path d="M332.5 2491.6 L340.5 2491.6 L348.5 2491.5 L356.5 2491.4 L364.5 2491.3 L372.5 2491.2 L380.5 2491.1 L388.5 2491 L396.5 2490.9 L404.5 2490.8 L412.5 2490.7 L420.5 2490.7 L428.5 2490.6 L436.5 2490.5 L444.5 2490.6 L452.5 2490.7 L460.5 2490.9 L468.5 2491 L476.5 2491.2 L484.5 2491.5 L492.5 2491.7 L500.5 2491.9 L508.5 2492.2 L516.5 2492.5 L524.5 2492.8 L532.5 2493 L540.5 2493.3 L548.5 2493.6 L556.5 2493.9 L564.5 2494.2 L572.5 2494.5 L580.5 2494.8 L588.5 2495.1 L596.5 2495.3 L604.5 2495.6 L612.5 2495.8 L620.5 2496.1 L628.5 2496.3 L636.5 2496.5 L644.5 2496.7 L652.5 2496.8 L660.5 2497 L668.5 2497 L676.5 2497 L684.5 2497 L692.5 2497 L700.5 2497 L708.5 2497 L716.5 2497 L724.5 2497 L732.5 2497 L740.5 2497 L748.5 2497 L756.5 2497 L764.5 2497 L772.5 2497 L780.5 2497 L788.5 2497 L796.5 2497 L804.5 2497 L812.5 2497 L820.5 2497 L828.5 2497 L836.5 2497 L844.5 2497 L852.5 2497 L860.5 2497 L868.5 2497 L876.5 2497 L884.5 2497 L892.5 2497 L900.5 2497 L908.5 2497 L916.5 2497 L924.5 2497 L932.5 2497 L940.5 2497 L948.5 2497 L956.5 2497 L964.5 2497 L972.5 2497 L980.5 2497 L988.5 2497 L996.5 2497 L1004.5 2497 L1012.5 2497 L1020.5 2497 L1028.5 2497 L1036.5 2497 L1044.5 2497 L1052.5 2497 L1060.5 2497.2 L1068.5 2497.4 L1076.5 2497.6 L1084.5 2497.8 L1092.5 2498.1 L1100.5 2498.4 L1108.5 2498.7 L1116.5 2499 L1124.5 2499.3 L1132.5 2499.6 L1140.5 2499.9 L1148.5 2500.2 L1156.5 2500.5 L1164.5 2500.7 L1172.5 2501 L1180.5 2501.2 L1188.5 2501.4 L1196.5 2501.5 L1204.5 2501.6 L1212.5 2501.7 L1220.5 2501.8 L1228.5 2501.9 L1236.5 2502 L1244.5 2502.1 L1252.5 2502.2 L1260.5 2502.4 L1268.5 2502.5 L1276.5 2502.6 L1284.5 2502.8 L1292.5 2502.9 L1300.5 2503.1 L1308.5 2503.2 L1316.5 2503.4 L1324.5 2503.5 L1332.5 2503.7 L1340.5 2503.9 L1348.5 2504 L1356.5 2504.2 L1364.5 2504.4 L1372.5 2504.6 L1380.5 2504.7 L1388.5 2504.9 L1396.5 2505.1 L1404.5 2505.3 L1412.5 2505.4 L1420.5 2505.6 L1428.5 2505.8 L1436.5 2506 L1444.5 2506.2 L1452.5 2506.3 L1460.5 2506.5 L1468.5 2506.7 L1476.5 2506.8 L1484.5 2507 L1492.5 2507.1 L1500.5 2507.3 L1508.5 2507.5 L1516.5 2507.6 L1524.5 2507.7 L1532.5 2507.9 L1540.5 2508 L1548.5 2508.1 L1556.5 2508.3 L1564.5 2508.4 L1572.5 2508.5 L1580.5 2508.6 L1588.5 2508.7 L1596.5 2508.7 L1604.5 2508.8 L1612.5 2509.1 L1620.5 2509.4 L1628.5 2509.8 L1636.5 2510.1 L1644.5 2510.6 L1652.5 2511 L1660.5 2511.5 L1668.5 2512 L1676.5 2512.5 L1684.5 2513.1 L1692.5 2513.6 L1700.5 2514.2 L1708.5 2514.7 L1716.5 2515.3 L1724.5 2515.8 L1732.5 2516.4 L1740.5 2516.9 L1748.5 2517.4 L1756.5 2517.9 L1764.5 2518.3 L1772.5 2518.8 L1780.5 2519.1 L1788.5 2519.5 L1796.5 2519.8 L1804.5 2520 L1812.5 2520.3 L1820.5 2520.7 L1828.5 2521 L1836.5 2521.5 L1844.5 2521.9 L1852.5 2522.4 L1860.5 2522.9 L1868.5 2523.5 L1876.5 2524.1 L1884.5 2524.7 L1892.5 2525.3 L1900.5 2525.9 L1908.5 2526.6 L1916.5 2527.2 L1924.5 2527.9 L1932.5 2528.6 L1940.5 2529.2 L1948.5 2529.9 L1956.5 2530.5 L1964.5 2531.2 L1972.5 2531.8 L1980.5 2532.4 L1988.5 2533 L1996.5 2533.6 L2004.5 2534.2 L2012.5 2534.7 L2020.5 2535.2 L2028.5 2535.6 L2036.5 2536 L2044.5 2536.4 L2052.5 2536.7 L2059.5 2537 L2059.5 2771 L332.5 2771 Z" fill="#80ffb4"/>
<path d="M332.5 2565 L340.5 2565 L348.5 2565 L356.5 2565 L364.5 2565 L372.5 2565.1 L380.5 2565.1 L388.5 2565.1 L396.5 2565.1 L404.5 2565.1 L412.5 2565.2 L420.5 2565.2 L428.5 2565.2 L436.5 2565.2 L444.5 2565.2 L452.5 2565.3 L460.5 2565.3 L468.5 2565.3 L476.5 2565.3 L484.5 2565.3 L492.5 2565.4 L500.5 2565.4 L508.5 2565.4 L516.5 2565.4 L524.5 2565.7 L532.5 2566.5 L540.5 2567.5 L548.5 2568.6 L556.5 2569.8 L564.5 2571.1 L572.5 2572.4 L580.5 2573.6 L588.5 2574.7 L596.5 2575.6 L604.5 2576.3 L612.5 2576.5 L620.5 2576.6 L628.5 2576.6 L636.5 2576.7 L644.5 2576.8 L652.5 2576.9 L660.5 2577 L668.5 2577.1 L676.5 2577.1 L684.5 2577.2 L692.5 2577.3 L700.5 2577.4 L708.5 2577.5 L716.5 2577.5 L724.5 2577.6 L732.5 2577.5 L740.5 2577 L748.5 2576.4 L756.5 2575.6 L764.5 2574.8 L772.5 2574 L780.5 2573 L788.5 2572.1 L796.5 2571.1 L804.5 2570.2 L812.5 2569.3 L820.5 2568.4 L828.5 2567.6 L836.5 2566.8 L844.5 2566.2 L852.5 2565.6 L860.5 2565.5 L868.5 2565.8 L876.5 2566.2 L884.5 2566.7 L892.5 2567.2 L900.5 2567.7 L908.5 2568.3 L916.5 2568.9 L924.5 2569.5 L932.5 2570.1 L940.5 2570.8 L948.5 2571.4 L956.5 2572 L964.5 2572.6 L972.5 2573.1 L980.5 2573.6 L988.5 2574 L996.5 2574.4 L1004.5 2574.7 L1012.5 2574.7 L1020.5 2574.5 L1028.5 2574.3 L1036.5 2574.1 L1044.5 2573.8 L1052.5 2573.6 L1060.5 2573.3 L1068.5 2573 L1076.5 2572.7 L1084.5 2572.5 L1092.5 2572.3 L1100.5 2572.1 L1108.5 2571.9 L1116.5 2571.4 L1124.5 2570.8 L1132.5 2570 L1140.5 2569.2 L1148.5 2568.3 L1156.5 2567.4 L1164.5 2566.6 L1172.5 2565.8 L1180.5 2565.2 L1188.5 2564.7 L1196.5 2564.5 L1204.5 2564.4 L1212.5 2564.3 L1220.5 2564.1 L1228.5 2563.9 L1236.5 2563.7 L1244.5 2563.5 L1252.5 2563.3 L1260.5 2563.1 L1268.5 2562.9 L1276.5 2562.7 L1284.5 2562.5 L1292.5 2562.3 L1300.5 2562.2 L1308.5 2562 L1316.5 2561.9 L1324.5 2561.8 L1332.5 2562.6 L1340.5 2563.5 L1348.5 2564.5 L1356.5 2565.7 L1364.5 2567 L1372.5 2568.4 L1380.5 2569.9 L1388.5 2571.4 L1396.5 2572.9 L1404.5 2574.4 L1412.5 2575.9 L1420.5 2577.4 L1428.5 2578.8 L1436.5 2580.1 L1444.5 2581.3 L1452.5 2582.3 L1460.5 2583.2 L1468.5 2584 L1476.5 2583.9 L1484.5 2583.7 L1492.5 2583.4 L1500.5 2583.2 L1508.5 2582.9 L1516.5 2582.6 L1524.5 2582.3 L1532.5 2582 L1540.5 2581.7 L1548.5 2581.4 L1556.5 2581 L1564.5 2580.7 L1572.5 2580.5 L1580.5 2580.2 L1588.5 2580 L1596.5 2579.8 L1604.5 2579.8 L1612.5 2580.5 L1620.5 2581.5 L1628.5 2582.6 L1636.5 2583.8 L1644.5 2585.1 L1652.5 2586.4 L1660.5 2587.5 L1668.5 2588.6 L1676.5 2589.4 L1684.5 2590.2 L1692.5 2592.1 L1700.5 2594.4 L1708.5 2596.9 L1716.5 2599.2 L1724.5 2600.8 L1732.5 2601.3 L1740.5 2601.6 L1748.5 2602.1 L1756.5 2602.6 L1764.5 2603.1 L1772.5 2603.7 L1780.5 2604.4 L1788.5 2605 L1796.5 2605.7 L1804.5 2606.4 L1812.5 2607.2 L1820.5 2607.9 L1828.5 2608.6 L1836.5 2609.4 L1844.5 2610.1 L1852.5 2610.8 L1860.5 2611.4 L1868.5 2612.1 L1876.5 2612.7 L1884.5 2613.2 L1892.5 2613.7 L1900.5 2614.2 L1908.5 2614.5 L1916.5 2614.8 L1924.5 2615.1 L1932.5 2615.5 L1940.5 2615.9 L1948.5 2616.3 L1956.5 2616.8 L1964.5 2617.4 L1972.5 2617.9 L1980.5 2618.5 L1988.5 2619.1 L1996.5 2619.7 L2004.5 2620.2 L2012.5 2620.8 L2020.5 2621.3 L2028.5 2621.8 L2036.5 2622.2 L2044.5 2622.6 L2052.5 2623 L2059.5 2623.2 L2059.5 2771 L332.5 2771 Z" fill="#e5ce74"/>
<path d="M332.5 2683 L340.5 2683.5 L348.5 2684.2 L356.5 2685.1 L364.5 2686 L372.5 2687 L380.5 2688 L388.5 2689 L396.5 2689.8 L404.5 2690.6 L412.5 2691.2 L420.5 2691.4 L428.5 2691.5 L436.5 2691.6 L444.5 2691.8 L452.5 2691.9 L460.5 2692.1 L468.5 2692.3 L476.5 2692.5 L484.5 2692.7 L492.5 2692.9 L500.5 2693.1 L508.5 2693.2 L516.5 2693.4 L524.5 2693.6 L532.5 2693.7 L540.5 2693.9 L548.5 2694 L556.5 2694.1 L564.5 2694.2 L572.5 2694.4 L580.5 2694.7 L588.5 2694.9 L596.5 2695.2 L604.5 2695.4 L612.5 2695.7 L620.5 2696 L628.5 2696.4 L636.5 2696.7 L644.5 2697 L652.5 2697.3 L660.5 2697.6 L668.5 2697.9 L676.5 2698.2 L684.5 2698.5 L692.5 2698.8 L700.5 2699 L708.5 2699.2 L716.5 2699.4 L724.5 2699.6 L732.5 2699.8 L740.5 2700.2 L748.5 2700.6 L756.5 2701.1 L764.5 2701.7 L772.5 2702.3 L780.5 2702.9 L788.5 2703.6 L796.5 2704.3 L804.5 2705 L812.5 2705.8 L820.5 2706.6 L828.5 2707.4 L836.5 2708.1 L844.5 2708.9 L852.5 2709.7 L860.5 2710.5 L868.5 2711.2 L876.5 2712 L884.5 2712.7 L892.5 2713.3 L900.5 2714 L908.5 2714.6 L916.5 2715.1 L924.5 2715.6 L932.5 2716 L940.5 2716.3 L948.5 2716.7 L956.5 2717.2 L964.5 2717.7 L972.5 2718.4 L980.5 2719.1 L988.5 2719.7 L996.5 2720.4 L1004.5 2721 L1012.5 2721.5 L1020.5 2721.9 L1028.5 2722.1 L1036.5 2722.2 L1044.5 2722.4 L1052.5 2722.6 L1060.5 2722.8 L1068.5 2723 L1076.5 2723.3 L1084.5 2723.5 L1092.5 2723.8 L1100.5 2724 L1108.5 2724.3 L1116.5 2724.6 L1124.5 2724.9 L1132.5 2725.1 L1140.5 2725.4 L1148.5 2725.6 L1156.5 2725.8 L1164.5 2726 L1172.5 2726.2 L1180.5 2726.4 L1188.5 2726.5 L1196.5 2726.6 L1204.5 2726.7 L1212.5 2726.9 L1220.5 2727.1 L1228.5 2727.3 L1236.5 2727.5 L1244.5 2727.7 L1252.5 2728 L1260.5 2728.2 L1268.5 2728.5 L1276.5 2728.7 L1284.5 2729 L1292.5 2729.3 L1300.5 2729.6 L1308.5 2729.9 L1316.5 2730.2 L1324.5 2730.5 L1332.5 2730.8 L1340.5 2731.1 L1348.5 2731.4 L1356.5 2731.6 L1364.5 2731.9 L1372.5 2732.2 L1380.5 2732.5 L1388.5 2732.8 L1396.5 2733 L1404.5 2733.3 L1412.5 2733.5 L1420.5 2733.7 L1428.5 2734 L1436.5 2734.2 L1444.5 2734.3 L1452.5 2734.5 L1460.5 2734.7 L1468.5 2734.8 L1476.5 2734.9 L1484.5 2734.9 L1492.5 2735 L1500.5 2735.1 L1508.5 2735.2 L1516.5 2735.3 L1524.5 2735.4 L1532.5 2735.5 L1540.5 2735.6 L1548.5 2735.7 L1556.5 2735.8 L1564.5 2735.9 L1572.5 2736.1 L1580.5 2736.2 L1588.5 2736.3 L1596.5 2736.5 L1604.5 2736.6 L1612.5 2736.7 L1620.5 2736.8 L1628.5 2736.9 L1636.5 2737 L1644.5 2737.1 L1652.5 2737.2 L1660.5 2737.3 L1668.5 2737.4 L1676.5 2737.5 L1684.5 2737.5 L1692.5 2737.6 L1700.5 2737.5 L1708.5 2737.5 L1716.5 2737.4 L1724.5 2737.3 L1732.5 2737.2 L1740.5 2737.1 L1748.5 2737 L1756.5 2736.9 L1764.5 2736.8 L1772.5 2736.6 L1780.5 2736.5 L1788.5 2736.4 L1796.5 2736.3 L1804.5 2736.1 L1812.5 2736 L1820.5 2735.8 L1828.5 2735.7 L1836.5 2735.5 L1844.5 2735.4 L1852.5 2735.2 L1860.5 2735.1 L1868.5 2734.9 L1876.5 2734.8 L1884.5 2734.6 L1892.5 2734.5 L1900.5 2734.3 L1908.5 2734.2 L1916.5 2734 L1924.5 2733.9 L1932.5 2733.7 L1940.5 2733.6 L1948.5 2733.5 L1956.5 2733.3 L1964.5 2733.2 L1972.5 2733.1 L1980.5 2732.9 L1988.5 2732.8 L1996.5 2732.7 L2004.5 2732.6 L2012.5 2732.5 L2020.5 2732.4 L2028.5 2732.3 L2036.5 2732.2 L2044.5 2732.1 L2052.5 2732.1 L2059.5 2732 L2059.5 2771 L332.5 2771 Z" fill="#ff4f28"/>
<path d="M332.5 2750.7 L340.5 2751.1 L348.5 2751.7 L356.5 2752.3 L364.5 2753 L372.5 2753.8 L380.5 2754.7 L388.5 2755.5 L396.5 2756.4 L404.5 2757.3 L412.5 2758.1 L420.5 2758.9 L428.5 2759.6 L436.5 2760.2 L444.5 2760.7 L452.5 2761.1 L460.5 2761.7 L468.5 2762.5 L476.5 2763.4 L484.5 2764.4 L492.5 2765.5 L500.5 2766.6 L508.5 2767.7 L516.5 2768.7 L524.5 2769.7 L532.5 2770.5 L540.5 2771.1 L546 2771.5 L332.5 2771 Z" fill="#ff0000"/>
<path d="M332.5 2417 L340.5 2417 L348.5 2417.1 L356.5 2417.2 L364.5 2417.2 L372.5 2417.3 L380.5 2417.4 L388.5 2417.4 L396.5 2417.5 L404.5 2417.6 L412.5 2417.7 L420.5 2417.8 L428.5 2417.9 L436.5 2418 L444.5 2418.1 L452.5 2418.2 L460.5 2418.3 L468.5 2418.4 L476.5 2418.5 L484.5 2418.6 L492.5 2418.7 L500.5 2418.8 L508.5 2418.9 L516.5 2419 L524.5 2419.1 L532.5 2419.2 L540.5 2419.3 L548.5 2419.4 L556.5 2419.5 L564.5 2419.6 L572.5 2419.8 L580.5 2419.9 L588.5 2420 L596.5 2420.1 L604.5 2420.1 L612.5 2420.2 L620.5 2420.3 L628.5 2420.4 L636.5 2420.5 L644.5 2420.6 L652.5 2420.6 L660.5 2420.7 L668.5 2420.8 L676.5 2420.8 L684.5 2420.9 L692.5 2421 L700.5 2421 L708.5 2421 L716.5 2421.1 L724.5 2421.1 L732.5 2421.1 L740.5 2421.1 L748.5 2421.2 L756.5 2421.2 L764.5 2421.3 L772.5 2421.3 L780.5 2421.3 L788.5 2421.4 L796.5 2421.4 L804.5 2421.5 L812.5 2421.5 L820.5 2421.6 L828.5 2421.6 L836.5 2421.7 L844.5 2421.7 L852.5 2421.8 L860.5 2421.8 L868.5 2421.9 L876.5 2422 L884.5 2422 L892.5 2422.1 L900.5 2422.1 L908.5 2422.2 L916.5 2422.2 L924.5 2422.3 L932.5 2422.4 L940.5 2422.4 L948.5 2422.5 L956.5 2422.5 L964.5 2422.6 L972.5 2422.7 L980.5 2422.7 L988.5 2422.8 L996.5 2422.8 L1004.5 2422.9 L1012.5 2423 L1020.5 2423 L1028.5 2423.1 L1036.5 2423.1 L1044.5 2423.2 L1052.5 2423.2 L1060.5 2423.3 L1068.5 2423.3 L1076.5 2423.4 L1084.5 2423.5 L1092.5 2423.5 L1100.5 2423.5 L1108.5 2423.6 L1116.5 2423.6 L1124.5 2423.7 L1132.5 2423.7 L1140.5 2423.8 L1148.5 2423.8 L1156.5 2423.8 L1164.5 2423.9 L1172.5 2423.9 L1180.5 2423.9 L1188.5 2424 L1196.5 2424 L1204.5 2424 L1212.5 2424 L1220.5 2424 L1228.5 2424 L1236.5 2424 L1244.5 2424 L1252.5 2424 L1260.5 2424 L1268.5 2424 L1276.5 2424 L1284.5 2424 L1292.5 2424 L1300.5 2424 L1308.5 2424 L1316.5 2424 L1324.5 2424 L1332.5 2424 L1340.5 2424 L1348.5 2424 L1356.5 2424 L1364.5 2424 L1372.5 2424 L1380.5 2424 L1388.5 2424 L1396.5 2424 L1404.5 2424 L1412.5 2424 L1420.5 2424 L1428.5 2424 L1436.5 2424 L1444.5 2424 L1452.5 2424 L1460.5 2424 L1468.5 2424 L1476.5 2424 L1484.5 2424 L1492.5 2424 L1500.5 2424 L1508.5 2424 L1516.5 2424 L1524.5 2424 L1532.5 2424 L1540.5 2424 L1548.5 2424 L1556.5 2424 L1564.5 2424 L1572.5 2424 L1580.5 2424 L1588.5 2424 L1596.5 2424 L1604.5 2424.1 L1612.5 2424.2 L1620.5 2424.4 L1628.5 2424.5 L1636.5 2424.7 L1644.5 2424.9 L1652.5 2425.2 L1660.5 2425.4 L1668.5 2425.6 L1676.5 2425.9 L1684.5 2426.1 L1692.5 2426.4 L1700.5 2426.7 L1708.5 2427 L1716.5 2427.3 L1724.5 2427.5 L1732.5 2427.8 L1740.5 2428.1 L1748.5 2428.4 L1756.5 2428.7 L1764.5 2429 L1772.5 2429.3 L1780.5 2429.6 L1788.5 2429.9 L1796.5 2430.2 L1804.5 2430.5 L1812.5 2430.8 L1820.5 2431 L1828.5 2431.3 L1836.5 2431.5 L1844.5 2431.8 L1852.5 2432 L1860.5 2432.2 L1868.5 2432.4 L1876.5 2432.6 L1884.5 2432.7 L1892.5 2432.9 L1900.5 2433 L1908.5 2433.2 L1916.5 2433.5 L1924.5 2433.8 L1932.5 2434.1 L1940.5 2434.5 L1948.5 2434.8 L1956.5 2435.2 L1964.5 2435.7 L1972.5 2436.1 L1980.5 2436.5 L1988.5 2437 L1996.5 2437.4 L2004.5 2437.8 L2012.5 2438.2 L2020.5 2438.6 L2028.5 2439 L2036.5 2439.3 L2044.5 2439.6 L2052.5 2439.8 L2059.5 2440" fill="none" stroke="#fff" stroke-width="5.5" stroke-dasharray="28 15" stroke-dashoffset="-11"/>
<path d="M332.5 2444.4 L340.5 2444.5 L348.5 2444.6 L356.5 2444.7 L364.5 2444.8 L372.5 2445 L380.5 2445.1 L388.5 2445.3 L396.5 2445.4 L404.5 2445.6 L412.5 2445.8 L420.5 2446 L428.5 2446.1 L436.5 2446.3 L444.5 2446.5 L452.5 2446.7 L460.5 2446.9 L468.5 2447.1 L476.5 2447.3 L484.5 2447.5 L492.5 2447.7 L500.5 2447.9 L508.5 2448.1 L516.5 2448.3 L524.5 2448.5 L532.5 2448.7 L540.5 2448.9 L548.5 2449 L556.5 2449.2 L564.5 2449.3 L572.5 2449.5 L580.5 2449.6 L588.5 2449.7 L596.5 2449.8 L604.5 2449.9 L612.5 2450 L620.5 2450.1 L628.5 2450.2 L636.5 2450.3 L644.5 2450.4 L652.5 2450.5 L660.5 2450.6 L668.5 2450.7 L676.5 2450.8 L684.5 2451 L692.5 2451.1 L700.5 2451.3 L708.5 2451.4 L716.5 2451.6 L724.5 2451.7 L732.5 2451.9 L740.5 2452 L748.5 2452.2 L756.5 2452.4 L764.5 2452.5 L772.5 2452.7 L780.5 2452.9 L788.5 2453 L796.5 2453.2 L804.5 2453.4 L812.5 2453.5 L820.5 2453.7 L828.5 2453.8 L836.5 2454 L844.5 2454.1 L852.5 2454.3 L860.5 2454.4 L868.5 2454.6 L876.5 2454.7 L884.5 2454.8 L892.5 2454.9 L900.5 2455.1 L908.5 2455.2 L916.5 2455.3 L924.5 2455.4 L932.5 2455.4 L940.5 2455.5 L948.5 2455.5 L956.5 2455.6 L964.5 2455.6 L972.5 2455.6 L980.5 2455.7 L988.5 2455.7 L996.5 2455.8 L1004.5 2455.8 L1012.5 2455.9 L1020.5 2455.9 L1028.5 2456 L1036.5 2456 L1044.5 2456.1 L1052.5 2456.1 L1060.5 2456.2 L1068.5 2456.2 L1076.5 2456.3 L1084.5 2456.4 L1092.5 2456.4 L1100.5 2456.5 L1108.5 2456.5 L1116.5 2456.6 L1124.5 2456.6 L1132.5 2456.7 L1140.5 2456.7 L1148.5 2456.8 L1156.5 2456.8 L1164.5 2456.9 L1172.5 2456.9 L1180.5 2456.9 L1188.5 2457 L1196.5 2457 L1204.5 2457 L1212.5 2457.1 L1220.5 2457.1 L1228.5 2457.2 L1236.5 2457.3 L1244.5 2457.3 L1252.5 2457.4 L1260.5 2457.5 L1268.5 2457.5 L1276.5 2457.6 L1284.5 2457.7 L1292.5 2457.8 L1300.5 2457.9 L1308.5 2458 L1316.5 2458.1 L1324.5 2458.2 L1332.5 2458.3 L1340.5 2458.4 L1348.5 2458.5 L1356.5 2458.6 L1364.5 2458.7 L1372.5 2458.8 L1380.5 2458.9 L1388.5 2459 L1396.5 2459.1 L1404.5 2459.2 L1412.5 2459.4 L1420.5 2459.5 L1428.5 2459.6 L1436.5 2459.7 L1444.5 2459.8 L1452.5 2459.9 L1460.5 2460 L1468.5 2460.1 L1476.5 2460.2 L1484.5 2460.3 L1492.5 2460.4 L1500.5 2460.5 L1508.5 2460.6 L1516.5 2460.7 L1524.5 2460.8 L1532.5 2460.8 L1540.5 2460.9 L1548.5 2461 L1556.5 2461.1 L1564.5 2461.1 L1572.5 2461.2 L1580.5 2461.3 L1588.5 2461.3 L1596.5 2461.4 L1604.5 2461.4 L1612.5 2461.6 L1620.5 2461.8 L1628.5 2462.1 L1636.5 2462.3 L1644.5 2462.6 L1652.5 2462.9 L1660.5 2463.2 L1668.5 2463.6 L1676.5 2463.9 L1684.5 2464.3 L1692.5 2464.7 L1700.5 2465.1 L1708.5 2465.5 L1716.5 2465.9 L1724.5 2466.3 L1732.5 2466.7 L1740.5 2467.1 L1748.5 2467.5 L1756.5 2468 L1764.5 2468.4 L1772.5 2468.8 L1780.5 2469.2 L1788.5 2469.6 L1796.5 2470 L1804.5 2470.4 L1812.5 2470.8 L1820.5 2471.2 L1828.5 2471.6 L1836.5 2471.9 L1844.5 2472.2 L1852.5 2472.6 L1860.5 2472.9 L1868.5 2473.1 L1876.5 2473.4 L1884.5 2473.6 L1892.5 2473.8 L1900.5 2474 L1908.5 2474.2 L1916.5 2474.5 L1924.5 2474.9 L1932.5 2475.2 L1940.5 2475.7 L1948.5 2476.1 L1956.5 2476.6 L1964.5 2477.1 L1972.5 2477.5 L1980.5 2478 L1988.5 2478.5 L1996.5 2479 L2004.5 2479.5 L2012.5 2480 L2020.5 2480.4 L2028.5 2480.8 L2036.5 2481.2 L2044.5 2481.5 L2052.5 2481.8 L2059.5 2482" fill="none" stroke="#fff" stroke-width="5.5" stroke-dasharray="28 15" stroke-dashoffset="-11"/>
<path d="M332.5 2491.6 L340.5 2491.6 L348.5 2491.5 L356.5 2491.4 L364.5 2491.3 L372.5 2491.2 L380.5 2491.1 L388.5 2491 L396.5 2490.9 L404.5 2490.8 L412.5 2490.7 L420.5 2490.7 L428.5 2490.6 L436.5 2490.5 L444.5 2490.6 L452.5 2490.7 L460.5 2490.9 L468.5 2491 L476.5 2491.2 L484.5 2491.5 L492.5 2491.7 L500.5 2491.9 L508.5 2492.2 L516.5 2492.5 L524.5 2492.8 L532.5 2493 L540.5 2493.3 L548.5 2493.6 L556.5 2493.9 L564.5 2494.2 L572.5 2494.5 L580.5 2494.8 L588.5 2495.1 L596.5 2495.3 L604.5 2495.6 L612.5 2495.8 L620.5 2496.1 L628.5 2496.3 L636.5 2496.5 L644.5 2496.7 L652.5 2496.8 L660.5 2497 L668.5 2497 L676.5 2497 L684.5 2497 L692.5 2497 L700.5 2497 L708.5 2497 L716.5 2497 L724.5 2497 L732.5 2497 L740.5 2497 L748.5 2497 L756.5 2497 L764.5 2497 L772.5 2497 L780.5 2497 L788.5 2497 L796.5 2497 L804.5 2497 L812.5 2497 L820.5 2497 L828.5 2497 L836.5 2497 L844.5 2497 L852.5 2497 L860.5 2497 L868.5 2497 L876.5 2497 L884.5 2497 L892.5 2497 L900.5 2497 L908.5 2497 L916.5 2497 L924.5 2497 L932.5 2497 L940.5 2497 L948.5 2497 L956.5 2497 L964.5 2497 L972.5 2497 L980.5 2497 L988.5 2497 L996.5 2497 L1004.5 2497 L1012.5 2497 L1020.5 2497 L1028.5 2497 L1036.5 2497 L1044.5 2497 L1052.5 2497 L1060.5 2497.2 L1068.5 2497.4 L1076.5 2497.6 L1084.5 2497.8 L1092.5 2498.1 L1100.5 2498.4 L1108.5 2498.7 L1116.5 2499 L1124.5 2499.3 L1132.5 2499.6 L1140.5 2499.9 L1148.5 2500.2 L1156.5 2500.5 L1164.5 2500.7 L1172.5 2501 L1180.5 2501.2 L1188.5 2501.4 L1196.5 2501.5 L1204.5 2501.6 L1212.5 2501.7 L1220.5 2501.8 L1228.5 2501.9 L1236.5 2502 L1244.5 2502.1 L1252.5 2502.2 L1260.5 2502.4 L1268.5 2502.5 L1276.5 2502.6 L1284.5 2502.8 L1292.5 2502.9 L1300.5 2503.1 L1308.5 2503.2 L1316.5 2503.4 L1324.5 2503.5 L1332.5 2503.7 L1340.5 2503.9 L1348.5 2504 L1356.5 2504.2 L1364.5 2504.4 L1372.5 2504.6 L1380.5 2504.7 L1388.5 2504.9 L1396.5 2505.1 L1404.5 2505.3 L1412.5 2505.4 L1420.5 2505.6 L1428.5 2505.8 L1436.5 2506 L1444.5 2506.2 L1452.5 2506.3 L1460.5 2506.5 L1468.5 2506.7 L1476.5 2506.8 L1484.5 2507 L1492.5 2507.1 L1500.5 2507.3 L1508.5 2507.5 L1516.5 2507.6 L1524.5 2507.7 L1532.5 2507.9 L1540.5 2508 L1548.5 2508.1 L1556.5 2508.3 L1564.5 2508.4 L1572.5 2508.5 L1580.5 2508.6 L1588.5 2508.7 L1596.5 2508.7 L1604.5 2508.8 L1612.5 2509.1 L1620.5 2509.4 L1628.5 2509.8 L1636.5 2510.1 L1644.5 2510.6 L1652.5 2511 L1660.5 2511.5 L1668.5 2512 L1676.5 2512.5 L1684.5 2513.1 L1692.5 2513.6 L1700.5 2514.2 L1708.5 2514.7 L1716.5 2515.3 L1724.5 2515.8 L1732.5 2516.4 L1740.5 2516.9 L1748.5 2517.4 L1756.5 2517.9 L1764.5 2518.3 L1772.5 2518.8 L1780.5 2519.1 L1788.5 2519.5 L1796.5 2519.8 L1804.5 2520 L1812.5 2520.3 L1820.5 2520.7 L1828.5 2521 L1836.5 2521.5 L1844.5 2521.9 L1852.5 2522.4 L1860.5 2522.9 L1868.5 2523.5 L1876.5 2524.1 L1884.5 2524.7 L1892.5 2525.3 L1900.5 2525.9 L1908.5 2526.6 L1916.5 2527.2 L1924.5 2527.9 L1932.5 2528.6 L1940.5 2529.2 L1948.5 2529.9 L1956.5 2530.5 L1964.5 2531.2 L1972.5 2531.8 L1980.5 2532.4 L1988.5 2533 L1996.5 2533.6 L2004.5 2534.2 L2012.5 2534.7 L2020.5 2535.2 L2028.5 2535.6 L2036.5 2536 L2044.5 2536.4 L2052.5 2536.7 L2059.5 2537" fill="none" stroke="#fff" stroke-width="5.5" stroke-dasharray="28 15" stroke-dashoffset="-11"/>
<path d="M332.5 2565 L340.5 2565 L348.5 2565 L356.5 2565 L364.5 2565 L372.5 2565.1 L380.5 2565.1 L388.5 2565.1 L396.5 2565.1 L404.5 2565.1 L412.5 2565.2 L420.5 2565.2 L428.5 2565.2 L436.5 2565.2 L444.5 2565.2 L452.5 2565.3 L460.5 2565.3 L468.5 2565.3 L476.5 2565.3 L484.5 2565.3 L492.5 2565.4 L500.5 2565.4 L508.5 2565.4 L516.5 2565.4 L524.5 2565.7 L532.5 2566.5 L540.5 2567.5 L548.5 2568.6 L556.5 2569.8 L564.5 2571.1 L572.5 2572.4 L580.5 2573.6 L588.5 2574.7 L596.5 2575.6 L604.5 2576.3 L612.5 2576.5 L620.5 2576.6 L628.5 2576.6 L636.5 2576.7 L644.5 2576.8 L652.5 2576.9 L660.5 2577 L668.5 2577.1 L676.5 2577.1 L684.5 2577.2 L692.5 2577.3 L700.5 2577.4 L708.5 2577.5 L716.5 2577.5 L724.5 2577.6 L732.5 2577.5 L740.5 2577 L748.5 2576.4 L756.5 2575.6 L764.5 2574.8 L772.5 2574 L780.5 2573 L788.5 2572.1 L796.5 2571.1 L804.5 2570.2 L812.5 2569.3 L820.5 2568.4 L828.5 2567.6 L836.5 2566.8 L844.5 2566.2 L852.5 2565.6 L860.5 2565.5 L868.5 2565.8 L876.5 2566.2 L884.5 2566.7 L892.5 2567.2 L900.5 2567.7 L908.5 2568.3 L916.5 2568.9 L924.5 2569.5 L932.5 2570.1 L940.5 2570.8 L948.5 2571.4 L956.5 2572 L964.5 2572.6 L972.5 2573.1 L980.5 2573.6 L988.5 2574 L996.5 2574.4 L1004.5 2574.7 L1012.5 2574.7 L1020.5 2574.5 L1028.5 2574.3 L1036.5 2574.1 L1044.5 2573.8 L1052.5 2573.6 L1060.5 2573.3 L1068.5 2573 L1076.5 2572.7 L1084.5 2572.5 L1092.5 2572.3 L1100.5 2572.1 L1108.5 2571.9 L1116.5 2571.4 L1124.5 2570.8 L1132.5 2570 L1140.5 2569.2 L1148.5 2568.3 L1156.5 2567.4 L1164.5 2566.6 L1172.5 2565.8 L1180.5 2565.2 L1188.5 2564.7 L1196.5 2564.5 L1204.5 2564.4 L1212.5 2564.3 L1220.5 2564.1 L1228.5 2563.9 L1236.5 2563.7 L1244.5 2563.5 L1252.5 2563.3 L1260.5 2563.1 L1268.5 2562.9 L1276.5 2562.7 L1284.5 2562.5 L1292.5 2562.3 L1300.5 2562.2 L1308.5 2562 L1316.5 2561.9 L1324.5 2561.8 L1332.5 2562.6 L1340.5 2563.5 L1348.5 2564.5 L1356.5 2565.7 L1364.5 2567 L1372.5 2568.4 L1380.5 2569.9 L1388.5 2571.4 L1396.5 2572.9 L1404.5 2574.4 L1412.5 2575.9 L1420.5 2577.4 L1428.5 2578.8 L1436.5 2580.1 L1444.5 2581.3 L1452.5 2582.3 L1460.5 2583.2 L1468.5 2584 L1476.5 2583.9 L1484.5 2583.7 L1492.5 2583.4 L1500.5 2583.2 L1508.5 2582.9 L1516.5 2582.6 L1524.5 2582.3 L1532.5 2582 L1540.5 2581.7 L1548.5 2581.4 L1556.5 2581 L1564.5 2580.7 L1572.5 2580.5 L1580.5 2580.2 L1588.5 2580 L1596.5 2579.8 L1604.5 2579.8 L1612.5 2580.5 L1620.5 2581.5 L1628.5 2582.6 L1636.5 2583.8 L1644.5 2585.1 L1652.5 2586.4 L1660.5 2587.5 L1668.5 2588.6 L1676.5 2589.4 L1684.5 2590.2 L1692.5 2592.1 L1700.5 2594.4 L1708.5 2596.9 L1716.5 2599.2 L1724.5 2600.8 L1732.5 2601.3 L1740.5 2601.6 L1748.5 2602.1 L1756.5 2602.6 L1764.5 2603.1 L1772.5 2603.7 L1780.5 2604.4 L1788.5 2605 L1796.5 2605.7 L1804.5 2606.4 L1812.5 2607.2 L1820.5 2607.9 L1828.5 2608.6 L1836.5 2609.4 L1844.5 2610.1 L1852.5 2610.8 L1860.5 2611.4 L1868.5 2612.1 L1876.5 2612.7 L1884.5 2613.2 L1892.5 2613.7 L1900.5 2614.2 L1908.5 2614.5 L1916.5 2614.8 L1924.5 2615.1 L1932.5 2615.5 L1940.5 2615.9 L1948.5 2616.3 L1956.5 2616.8 L1964.5 2617.4 L1972.5 2617.9 L1980.5 2618.5 L1988.5 2619.1 L1996.5 2619.7 L2004.5 2620.2 L2012.5 2620.8 L2020.5 2621.3 L2028.5 2621.8 L2036.5 2622.2 L2044.5 2622.6 L2052.5 2623 L2059.5 2623.2" fill="none" stroke="#fff" stroke-width="5.5" stroke-dasharray="28 15" stroke-dashoffset="-11"/>
<path d="M332.5 2683 L340.5 2683.5 L348.5 2684.2 L356.5 2685.1 L364.5 2686 L372.5 2687 L380.5 2688 L388.5 2689 L396.5 2689.8 L404.5 2690.6 L412.5 2691.2 L420.5 2691.4 L428.5 2691.5 L436.5 2691.6 L444.5 2691.8 L452.5 2691.9 L460.5 2692.1 L468.5 2692.3 L476.5 2692.5 L484.5 2692.7 L492.5 2692.9 L500.5 2693.1 L508.5 2693.2 L516.5 2693.4 L524.5 2693.6 L532.5 2693.7 L540.5 2693.9 L548.5 2694 L556.5 2694.1 L564.5 2694.2 L572.5 2694.4 L580.5 2694.7 L588.5 2694.9 L596.5 2695.2 L604.5 2695.4 L612.5 2695.7 L620.5 2696 L628.5 2696.4 L636.5 2696.7 L644.5 2697 L652.5 2697.3 L660.5 2697.6 L668.5 2697.9 L676.5 2698.2 L684.5 2698.5 L692.5 2698.8 L700.5 2699 L708.5 2699.2 L716.5 2699.4 L724.5 2699.6 L732.5 2699.8 L740.5 2700.2 L748.5 2700.6 L756.5 2701.1 L764.5 2701.7 L772.5 2702.3 L780.5 2702.9 L788.5 2703.6 L796.5 2704.3 L804.5 2705 L812.5 2705.8 L820.5 2706.6 L828.5 2707.4 L836.5 2708.1 L844.5 2708.9 L852.5 2709.7 L860.5 2710.5 L868.5 2711.2 L876.5 2712 L884.5 2712.7 L892.5 2713.3 L900.5 2714 L908.5 2714.6 L916.5 2715.1 L924.5 2715.6 L932.5 2716 L940.5 2716.3 L948.5 2716.7 L956.5 2717.2 L964.5 2717.7 L972.5 2718.4 L980.5 2719.1 L988.5 2719.7 L996.5 2720.4 L1004.5 2721 L1012.5 2721.5 L1020.5 2721.9 L1028.5 2722.1 L1036.5 2722.2 L1044.5 2722.4 L1052.5 2722.6 L1060.5 2722.8 L1068.5 2723 L1076.5 2723.3 L1084.5 2723.5 L1092.5 2723.8 L1100.5 2724 L1108.5 2724.3 L1116.5 2724.6 L1124.5 2724.9 L1132.5 2725.1 L1140.5 2725.4 L1148.5 2725.6 L1156.5 2725.8 L1164.5 2726 L1172.5 2726.2 L1180.5 2726.4 L1188.5 2726.5 L1196.5 2726.6 L1204.5 2726.7 L1212.5 2726.9 L1220.5 2727.1 L1228.5 2727.3 L1236.5 2727.5 L1244.5 2727.7 L1252.5 2728 L1260.5 2728.2 L1268.5 2728.5 L1276.5 2728.7 L1284.5 2729 L1292.5 2729.3 L1300.5 2729.6 L1308.5 2729.9 L1316.5 2730.2 L1324.5 2730.5 L1332.5 2730.8 L1340.5 2731.1 L1348.5 2731.4 L1356.5 2731.6 L1364.5 2731.9 L1372.5 2732.2 L1380.5 2732.5 L1388.5 2732.8 L1396.5 2733 L1404.5 2733.3 L1412.5 2733.5 L1420.5 2733.7 L1428.5 2734 L1436.5 2734.2 L1444.5 2734.3 L1452.5 2734.5 L1460.5 2734.7 L1468.5 2734.8 L1476.5 2734.9 L1484.5 2734.9 L1492.5 2735 L1500.5 2735.1 L1508.5 2735.2 L1516.5 2735.3 L1524.5 2735.4 L1532.5 2735.5 L1540.5 2735.6 L1548.5 2735.7 L1556.5 2735.8 L1564.5 2735.9 L1572.5 2736.1 L1580.5 2736.2 L1588.5 2736.3 L1596.5 2736.5 L1604.5 2736.6 L1612.5 2736.7 L1620.5 2736.8 L1628.5 2736.9 L1636.5 2737 L1644.5 2737.1 L1652.5 2737.2 L1660.5 2737.3 L1668.5 2737.4 L1676.5 2737.5 L1684.5 2737.5 L1692.5 2737.6 L1700.5 2737.5 L1708.5 2737.5 L1716.5 2737.4 L1724.5 2737.3 L1732.5 2737.2 L1740.5 2737.1 L1748.5 2737 L1756.5 2736.9 L1764.5 2736.8 L1772.5 2736.6 L1780.5 2736.5 L1788.5 2736.4 L1796.5 2736.3 L1804.5 2736.1 L1812.5 2736 L1820.5 2735.8 L1828.5 2735.7 L1836.5 2735.5 L1844.5 2735.4 L1852.5 2735.2 L1860.5 2735.1 L1868.5 2734.9 L1876.5 2734.8 L1884.5 2734.6 L1892.5 2734.5 L1900.5 2734.3 L1908.5 2734.2 L1916.5 2734 L1924.5 2733.9 L1932.5 2733.7 L1940.5 2733.6 L1948.5 2733.5 L1956.5 2733.3 L1964.5 2733.2 L1972.5 2733.1 L1980.5 2732.9 L1988.5 2732.8 L1996.5 2732.7 L2004.5 2732.6 L2012.5 2732.5 L2020.5 2732.4 L2028.5 2732.3 L2036.5 2732.2 L2044.5 2732.1 L2052.5 2732.1 L2059.5 2732" fill="none" stroke="#fff" stroke-width="5.5" stroke-dasharray="28 15" stroke-dashoffset="-11"/>
<path d="M332.5 2750.7 L340.5 2751.1 L348.5 2751.7 L356.5 2752.3 L364.5 2753 L372.5 2753.8 L380.5 2754.7 L388.5 2755.5 L396.5 2756.4 L404.5 2757.3 L412.5 2758.1 L420.5 2758.9 L428.5 2759.6 L436.5 2760.2 L444.5 2760.7 L452.5 2761.1 L460.5 2761.7 L468.5 2762.5 L476.5 2763.4 L484.5 2764.4 L492.5 2765.5 L500.5 2766.6 L508.5 2767.7 L516.5 2768.7 L524.5 2769.7 L532.5 2770.5 L540.5 2771.1 L546 2771.5" fill="none" stroke="#fff" stroke-width="5.5" stroke-dasharray="28 15" stroke-dashoffset="-11"/>
<line x1="729" y1="2412" x2="729" y2="2771" stroke="#c4c4c4" stroke-width="2" stroke-dasharray="3 5"/>
<line x1="1123.3" y1="2412" x2="1123.3" y2="2771" stroke="#c4c4c4" stroke-width="2" stroke-dasharray="3 5"/>
<line x1="1519.5" y1="2412" x2="1519.5" y2="2771" stroke="#c4c4c4" stroke-width="2" stroke-dasharray="3 5"/>
<line x1="1914" y1="2412" x2="1914" y2="2771" stroke="#c4c4c4" stroke-width="2" stroke-dasharray="3 5"/>
<line x1="332.5" y1="2514.6" x2="2059.5" y2="2514.6" stroke="#c4c4c4" stroke-width="2" stroke-dasharray="3 5"/>
<line x1="332.5" y1="2617.1" x2="2059.5" y2="2617.1" stroke="#c4c4c4" stroke-width="2" stroke-dasharray="3 5"/>
<line x1="332.5" y1="2694.1" x2="2059.5" y2="2694.1" stroke="#c4c4c4" stroke-width="2" stroke-dasharray="3 5"/>
<line x1="332.5" y1="2732.5" x2="2059.5" y2="2732.5" stroke="#c4c4c4" stroke-width="2" stroke-dasharray="3 5"/>
<line x1="427.4" y1="2771" x2="427.4" y2="2412" stroke="#000" stroke-width="6" stroke-dasharray="19 7.2"/>
<line x1="1021.8" y1="2771" x2="1021.8" y2="2412" stroke="#000" stroke-width="6" stroke-dasharray="19 7.2"/>
<line x1="1602.7" y1="2771" x2="1602.7" y2="2412" stroke="#000" stroke-width="6" stroke-dasharray="19 7.2"/>
<rect x="332.5" y="2412" width="1727" height="359" fill="none" stroke="#3c3c3c" stroke-width="3"/>
<line x1="332.5" y1="2771" x2="332.5" y2="2785" stroke="#3c3c3c" stroke-width="3"/>
<line x1="729" y1="2771" x2="729" y2="2785" stroke="#3c3c3c" stroke-width="3"/>
<line x1="1123.3" y1="2771" x2="1123.3" y2="2785" stroke="#3c3c3c" stroke-width="3"/>
<line x1="1519.5" y1="2771" x2="1519.5" y2="2785" stroke="#3c3c3c" stroke-width="3"/>
<line x1="1914" y1="2771" x2="1914" y2="2785" stroke="#3c3c3c" stroke-width="3"/>
<line x1="318.5" y1="2412" x2="332.5" y2="2412" stroke="#3c3c3c" stroke-width="3"/>
<text x="302.5" y="2426" text-anchor="end" font-size="39.5" fill="#333">300</text>
<line x1="318.5" y1="2514.6" x2="332.5" y2="2514.6" stroke="#3c3c3c" stroke-width="3"/>
<text x="302.5" y="2528.6" text-anchor="end" font-size="39.5" fill="#333">500</text>
<line x1="318.5" y1="2617.1" x2="332.5" y2="2617.1" stroke="#3c3c3c" stroke-width="3"/>
<text x="302.5" y="2631.1" text-anchor="end" font-size="39.5" fill="#333">700</text>
<line x1="318.5" y1="2694.1" x2="332.5" y2="2694.1" stroke="#3c3c3c" stroke-width="3"/>
<text x="302.5" y="2708.1" text-anchor="end" font-size="39.5" fill="#333">850</text>
<line x1="318.5" y1="2732.5" x2="332.5" y2="2732.5" stroke="#3c3c3c" stroke-width="3"/>
<text x="302.5" y="2746.5" text-anchor="end" font-size="39.5" fill="#333">925</text>
<line x1="318.5" y1="2771" x2="332.5" y2="2771" stroke="#3c3c3c" stroke-width="3"/>
<text x="302.5" y="2785" text-anchor="end" font-size="39.5" fill="#333">1000</text>
<text transform="translate(172 2591.5) rotate(-90)" text-anchor="middle" font-size="41" fill="#333">Pressure (hPa)</text>
<text x="81.5" y="2457.6" text-anchor="middle" font-family="'Liberation Sans', sans-serif" font-weight="bold" font-size="92" fill="#000">(f)</text>
<line x1="729" y1="2879.5" x2="729" y2="3236" stroke="#c4c4c4" stroke-width="2" stroke-dasharray="3 5"/>
<line x1="1123.3" y1="2879.5" x2="1123.3" y2="3236" stroke="#c4c4c4" stroke-width="2" stroke-dasharray="3 5"/>
<line x1="1519.5" y1="2879.5" x2="1519.5" y2="3236" stroke="#c4c4c4" stroke-width="2" stroke-dasharray="3 5"/>
<line x1="1914" y1="2879.5" x2="1914" y2="3236" stroke="#c4c4c4" stroke-width="2" stroke-dasharray="3 5"/>
<line x1="332.5" y1="3146.9" x2="2059.5" y2="3146.9" stroke="#c4c4c4" stroke-width="2" stroke-dasharray="3 5"/>
<line x1="332.5" y1="3057.8" x2="2059.5" y2="3057.8" stroke="#c4c4c4" stroke-width="2" stroke-dasharray="3 5"/>
<line x1="332.5" y1="2968.6" x2="2059.5" y2="2968.6" stroke="#c4c4c4" stroke-width="2" stroke-dasharray="3 5"/>
<clipPath id="cg"><rect x="332.5" y="2879.5" width="1727" height="356.5"/></clipPath>
<path d="M332.5 2951.6 L345.3 2949.1 L355.5 2945.3 L375.9 2951.6 L388.7 2963.1 L414.2 2964.4 L424.4 2959.3 L483.1 2955.5 L513.7 2949.1 L531.5 2947.8 L541.7 2954.2 L564.7 2956.7 L577.4 2966.9 L590.2 2974.6 L610.6 2979.7 L636.1 2982.2 L661.6 2983.5 L687.1 2974.6 L712.6 2969.5 L720 2974.6 L748 2982.2 L766 2979.7 L783.8 2972 L796.5 2967 L809.3 2969.5 L819.5 2977.1 L829.7 2977.1 L847.6 2989.9 L865.4 2997.6 L875.6 2993.7 L893.5 3007.8 L929.2 3009 L947 3019.2 L975.1 3025.6 L1026.1 3025.6 L1051.6 3030.7 L1090 3030.7 L1135.5 3030.7 L1186.5 3039.6 L1199.3 3037.1 L1263.1 3048.6 L1275.8 3048.6 L1286 3043.5 L1314.1 3048.6 L1380.4 3052.4 L1390.6 3048.6 L1436.5 3048.6 L1467.1 3062.6 L1510 3061.3 L1704 3063.9 L1900 3065.2 L1963.6 3066.3 L2048 3066.3" fill="none" stroke="#1a1aff" stroke-width="7" stroke-linejoin="round"/>
<path d="M332.5 2910.8 L350.4 2912 L401.4 2916 L419.3 2921 L444.8 2924.8 L508.6 2928.7 L559.6 2933.8 L572.3 2941.4 L585.1 2954.2 L597.9 2958 L636.1 2961.8 L661.6 2965.7 L687.1 2960.6 L720 2959.3 L748 2964.4 L783.8 2958 L796.5 2954.2 L809.3 2954.2 L822 2959.3 L834.8 2961.8 L847.6 2969.5 L873 2978.4 L898.6 2987.3 L929.2 2992.4 L949.6 3002.7 L975.1 3009 L1026.1 3009 L1051.6 3012.9 L1090 3012.9 L1122.8 3009 L1168.7 3016.7 L1186.5 3021.8 L1199.3 3019.2 L1224.8 3021.8 L1245.2 3025.6 L1263.1 3032 L1275.8 3032 L1288.6 3029.4 L1314.1 3033.3 L1365.1 3034.5 L1380.4 3037.1 L1390.6 3033.3 L1436.5 3033.3 L1441.6 3035.8 L1467.1 3047.3 L1510 3047.3 L1700 3049 L1900 3051 L2020.4 3050 L2029 3047.4 L2048 3047.4" fill="none" stroke="#ff1a1a" stroke-width="7" stroke-linejoin="round"/>
<rect x="351" y="2895" width="215" height="118" rx="8" fill="#fff" fill-opacity="0.8" stroke="#d8d8d8" stroke-width="3"/>
<line x1="358" y1="2923.8" x2="435" y2="2923.8" stroke="#ff1a1a" stroke-width="7"/>
<line x1="358" y1="2981" x2="435" y2="2981" stroke="#1a1aff" stroke-width="7"/>
<text x="459.5" y="2936.5" font-family="'DejaVu Sans Condensed', 'DejaVu Sans', sans-serif" font-size="36" fill="#333">Temp</text>
<text x="459.5" y="2993.5" font-family="'DejaVu Sans Condensed', 'DejaVu Sans', sans-serif" font-size="36" fill="#333">DP</text>
<path d="M332.5 3163.4 L346.6 3107.2 L353 3058.8 L358 3122.6 L368.3 3090.7 L374.6 3104.7 L384.8 3058.8 L391.2 3122.6 L396.3 3109.8 L402.7 3104.7 L412.9 3058.8 L420.6 3092 L427 3081.7 L432 3058.8 L442.2 3074 L452.4 3043.5 L462.7 3056.2 L467.8 3046 L475.4 3074 L485.6 3074 L493.3 3046 L498.4 3056.2 L506 2995 L517.5 3023 L523.9 3012.9 L529 3074 L539.2 2995 L550.7 3058.8 L555.8 2995 L567.2 3107.2 L580 2977.1 L588.9 3025.6 L595.3 2987.3 L600.4 2992.4 L605.5 2961.8 L610.6 3009 L620.8 2961.8 L628.5 2972 L633.6 2946.5 L638.7 2944 L647.6 2928.7 L654 2954.2 L660.4 2946.5 L666.7 3009 L677 2977.1 L684.6 2995 L693.5 2946.5 L698.6 3025.6 L705 2946.5 L715.2 2913.4 L724.1 2977.1 L730 2946.5 L732.8 2931.2 L736.6 2928.7 L740.4 2878 L750.6 2878 L755.7 2959.3 L759.5 2931.2 L764.6 2977.1 L771 2898 L776 2954.2 L782.5 2898 L787.6 2977.1 L794 2931.2 L797.8 2941.4 L802.9 2926.1 L811.8 2878 L822 2878 L825.9 2914.6 L834.8 2878 L841.2 2898 L845 2878 L852.7 2959.3 L857.8 2878 L862 2878 L870.5 2913.4 L875.6 2977.1 L880.7 2898 L885.8 2910.8 L897.3 2878 L907.5 2946.5 L917.7 2914.6 L929.2 2959.3 L941.9 2914.6 L957.2 2959.3 L971.3 2878 L978.9 2992.4 L985.3 2946.5 L990.4 2977.1 L996.8 2914.6 L1007 2959.3 L1012.1 2914.6 L1018.5 2941.4 L1031.2 2878 L1040.2 2944 L1045.3 2898 L1050.3 2944 L1056.7 2914.6 L1061.8 2910.8 L1068.2 2898 L1073.3 2900.6 L1079.7 2959.3 L1087.3 2933.8 L1097.6 2878 L1105.2 2910.8 L1110.3 2914.6 L1116.4 2977.1 L1122.8 2946.5 L1126.6 2959.3 L1135.5 2878 L1140.6 2878 L1149.5 2977.1 L1155.9 2931.2 L1162.3 2964.4 L1175 2995 L1182.7 2977.1 L1189.1 2898 L1194.2 2914.6 L1204.4 2977.1 L1210.8 2964.4 L1215.9 2977.1 L1221 2946.5 L1227.3 2941.4 L1232.4 2931.2 L1238.8 2961.8 L1247.8 2961.8 L1254.1 2977.1 L1259.2 2964.4 L1265.6 2995 L1270.7 2995 L1277.1 2979.7 L1282.2 2995 L1287.3 2946.5 L1298.8 2946.5 L1305.2 2977.1 L1309 2977.1 L1314.1 2946.5 L1320.5 3043.5 L1325.6 2914.6 L1337 2959.3 L1342.1 2931.2 L1347.2 2977.1 L1353.6 2946.5 L1358.7 2944 L1365.1 2913.4 L1370.2 2913.4 L1376.6 2977.1 L1380.4 2977.1 L1385.5 2946.5 L1391.9 2977.1 L1397 2946.5 L1402.1 2977.1 L1413.6 2931.2 L1418.7 2931.2 L1425.1 2961.8 L1430.2 2931.2 L1436.5 2961.8 L1441.6 2964.4 L1445.5 3009 L1450.6 2979.7 L1458.2 3012.9 L1462 3023 L1468.4 3074.1 L1473.5 3028.2 L1478.6 3025.6 L1485 3011.6 L1490.1 3043.5 L1500.3 2979.7 L1511.5 3038.4 L1519.1 3025.6 L1524.2 3023.1 L1529.3 2979.7 L1535.7 3056.2 L1544.6 2995 L1556.1 3074.1 L1567.6 3043.5 L1576.5 3058.8 L1581.6 3063.9 L1589.3 3122.6 L1596.9 3053.7 L1605.9 3025.6 L1616.1 3026.9 L1622.4 3043.5 L1627.6 3011.6 L1639 3056.2 L1649.2 2979.7 L1655.6 3074.1 L1663.3 3043.5 L1670.9 3056.2 L1682.4 3026.9 L1688.8 3074.1 L1693.9 3043.5 L1704.1 3043.5 L1711.7 3056.2 L1719.4 3046 L1725.8 3074.1 L1732.1 3026.9 L1738.5 3038.4 L1743.6 3026.9 L1748.7 3056.2 L1755.1 3043.5 L1760.2 3056.2 L1765.3 3043.5 L1776.8 3074.1 L1792.1 3043.5 L1798.5 3074.1 L1813.8 3042.2 L1825.8 3105.9 L1837 3059.4 L1847.4 3105.9 L1858.5 3026.7 L1869.7 3073.2 L1874.9 3061.1 L1883.5 3074.1 L1893 3042.2 L1901.6 3042.2 L1913.7 3073.2 L1918.8 3061.1 L1927.4 3090.4 L1932.6 3088.7 L1946.4 3042.2 L1956.7 3107.6 L1965.3 3090.4 L1973.9 3105.9 L1982.5 3090.4 L1992.9 3073.2 L2000.6 3105.9 L2010.1 3090.4 L2019.6 3073.2 L2023.9 3076.6 L2029 3105.9 L2038.5 3105.9 L2045.4 3121.4" fill="none" stroke="#1f8a1f" stroke-width="4.5" stroke-linejoin="round" clip-path="url(#cg)"/>
<line x1="427.4" y1="3236" x2="427.4" y2="2879.5" stroke="#000" stroke-width="6" stroke-dasharray="19 7.2"/>
<line x1="1021.8" y1="3236" x2="1021.8" y2="2879.5" stroke="#000" stroke-width="6" stroke-dasharray="19 7.2"/>
<line x1="1602.7" y1="3236" x2="1602.7" y2="2879.5" stroke="#000" stroke-width="6" stroke-dasharray="19 7.2"/>
<rect x="332.5" y="2879.5" width="1727" height="356.5" fill="none" stroke="#3c3c3c" stroke-width="3"/>
<line x1="332.5" y1="3236" x2="332.5" y2="3250" stroke="#3c3c3c" stroke-width="3"/>
<line x1="729" y1="3236" x2="729" y2="3250" stroke="#3c3c3c" stroke-width="3"/>
<line x1="1123.3" y1="3236" x2="1123.3" y2="3250" stroke="#3c3c3c" stroke-width="3"/>
<line x1="1519.5" y1="3236" x2="1519.5" y2="3250" stroke="#3c3c3c" stroke-width="3"/>
<line x1="1914" y1="3236" x2="1914" y2="3250" stroke="#3c3c3c" stroke-width="3"/>
<line x1="318.5" y1="3236" x2="332.5" y2="3236" stroke="#3c3c3c" stroke-width="3"/>
<text x="302.5" y="3250" text-anchor="end" font-size="39.5" fill="#333">&#8722;10</text>
<line x1="318.5" y1="3146.9" x2="332.5" y2="3146.9" stroke="#3c3c3c" stroke-width="3"/>
<text x="302.5" y="3160.9" text-anchor="end" font-size="39.5" fill="#333">&#8722;5</text>
<line x1="318.5" y1="3057.8" x2="332.5" y2="3057.8" stroke="#3c3c3c" stroke-width="3"/>
<text x="302.5" y="3071.8" text-anchor="end" font-size="39.5" fill="#333">0</text>
<line x1="318.5" y1="2968.6" x2="332.5" y2="2968.6" stroke="#3c3c3c" stroke-width="3"/>
<text x="302.5" y="2982.6" text-anchor="end" font-size="39.5" fill="#333">5</text>
<line x1="318.5" y1="2879.5" x2="332.5" y2="2879.5" stroke="#3c3c3c" stroke-width="3"/>
<text x="302.5" y="2893.5" text-anchor="end" font-size="39.5" fill="#333">10</text>
<text transform="translate(185.5 3057.8) rotate(-90)" text-anchor="middle" font-size="41" fill="#333">Temperature (C)</text>
<text x="81.5" y="2937.8" text-anchor="middle" font-family="'Liberation Sans', sans-serif" font-weight="bold" font-size="92" fill="#000">(g)</text>
<text transform="translate(322.5 3288) rotate(-40)" text-anchor="end" font-size="41" fill="#333">Oct 24 0600 UTC</text>
<text transform="translate(719 3288) rotate(-40)" text-anchor="end" font-size="41" fill="#333">1200 UTC</text>
<text transform="translate(1113.3 3288) rotate(-40)" text-anchor="end" font-size="41" fill="#333">1800 UTC</text>
<text transform="translate(1509.5 3288) rotate(-40)" text-anchor="end" font-size="41" fill="#333">Oct 25 0000 UTC</text>
<text transform="translate(1904 3288) rotate(-40)" text-anchor="end" font-size="41" fill="#333">0600 UTC</text>
<line x1="2059.5" y1="3236" x2="2073.5" y2="3236" stroke="#2e9a2e" stroke-width="3"/>
<text x="2089.5" y="3249.5" font-size="38" fill="#2e9a2e">0.0</text>
<line x1="2059.5" y1="3146.9" x2="2073.5" y2="3146.9" stroke="#2e9a2e" stroke-width="3"/>
<text x="2089.5" y="3160.4" font-size="38" fill="#2e9a2e">2.5</text>
<line x1="2059.5" y1="3057.8" x2="2073.5" y2="3057.8" stroke="#2e9a2e" stroke-width="3"/>
<text x="2089.5" y="3071.2" font-size="38" fill="#2e9a2e">5.0</text>
<line x1="2059.5" y1="2968.6" x2="2073.5" y2="2968.6" stroke="#2e9a2e" stroke-width="3"/>
<text x="2089.5" y="2982.1" font-size="38" fill="#2e9a2e">7.5</text>
<line x1="2059.5" y1="2879.5" x2="2073.5" y2="2879.5" stroke="#2e9a2e" stroke-width="3"/>
<text x="2089.5" y="2893" font-size="38" fill="#2e9a2e">10.0</text>
<text transform="translate(2230 3057) rotate(-90)" text-anchor="middle" font-size="40" fill="#2e9a2e">WS (m s<tspan dy="-14" font-size="28">&#8722;1</tspan><tspan dy="14">)</tspan></text>
<rect x="2176.5" y="87.6" width="47" height="382.4" fill="url(#cba)" stroke="#222" stroke-width="3"/>
<line x1="2223.5" y1="87.6" x2="2237.5" y2="87.6" stroke="#3c3c3c" stroke-width="3"/>
<text x="2251.5" y="101.1" font-size="38" fill="#333">30</text>
<line x1="2223.5" y1="183.2" x2="2237.5" y2="183.2" stroke="#3c3c3c" stroke-width="3"/>
<text x="2251.5" y="196.7" font-size="38" fill="#333">20</text>
<line x1="2223.5" y1="278.8" x2="2237.5" y2="278.8" stroke="#3c3c3c" stroke-width="3"/>
<text x="2251.5" y="292.3" font-size="38" fill="#333">10</text>
<line x1="2223.5" y1="374.4" x2="2237.5" y2="374.4" stroke="#3c3c3c" stroke-width="3"/>
<text x="2251.5" y="387.9" font-size="38" fill="#333">0</text>
<line x1="2223.5" y1="470" x2="2237.5" y2="470" stroke="#3c3c3c" stroke-width="3"/>
<text x="2251.5" y="483.5" font-size="38" fill="#333">&#8722;10</text>
<text x="2207" y="64" text-anchor="middle" font-size="32" fill="#333">dBZ</text>
<rect x="2176.5" y="550" width="47" height="381.6" fill="url(#cbb)" stroke="#222" stroke-width="3"/>
<line x1="2223.5" y1="550" x2="2237.5" y2="550" stroke="#3c3c3c" stroke-width="3"/>
<text x="2251.5" y="563.5" font-size="38" fill="#333">3</text>
<line x1="2223.5" y1="613.6" x2="2237.5" y2="613.6" stroke="#3c3c3c" stroke-width="3"/>
<text x="2251.5" y="627.1" font-size="38" fill="#333">2</text>
<line x1="2223.5" y1="677.2" x2="2237.5" y2="677.2" stroke="#3c3c3c" stroke-width="3"/>
<text x="2251.5" y="690.7" font-size="38" fill="#333">1</text>
<line x1="2223.5" y1="740.8" x2="2237.5" y2="740.8" stroke="#3c3c3c" stroke-width="3"/>
<text x="2251.5" y="754.3" font-size="38" fill="#333">0</text>
<line x1="2223.5" y1="804.4" x2="2237.5" y2="804.4" stroke="#3c3c3c" stroke-width="3"/>
<text x="2251.5" y="817.9" font-size="38" fill="#333">&#8722;1</text>
<line x1="2223.5" y1="868" x2="2237.5" y2="868" stroke="#3c3c3c" stroke-width="3"/>
<text x="2251.5" y="881.5" font-size="38" fill="#333">&#8722;2</text>
<line x1="2223.5" y1="931.6" x2="2237.5" y2="931.6" stroke="#3c3c3c" stroke-width="3"/>
<text x="2251.5" y="945.1" font-size="38" fill="#333">&#8722;3</text>
<text x="2170.5" y="521.5" font-family="'DejaVu Sans Condensed', 'DejaVu Sans', sans-serif" font-size="32" fill="#333">ms<tspan dx="3" dy="-12" font-size="24">&#8722;1</tspan></text>
<rect x="2176.5" y="1011" width="47" height="383" fill="url(#cbc)" stroke="#222" stroke-width="3"/>
<line x1="2223.5" y1="1011" x2="2237.5" y2="1011" stroke="#3c3c3c" stroke-width="3"/>
<text x="2251.5" y="1024.5" font-size="38" fill="#333">4</text>
<line x1="2223.5" y1="1106.8" x2="2237.5" y2="1106.8" stroke="#3c3c3c" stroke-width="3"/>
<text x="2251.5" y="1120.2" font-size="38" fill="#333">3</text>
<line x1="2223.5" y1="1202.5" x2="2237.5" y2="1202.5" stroke="#3c3c3c" stroke-width="3"/>
<text x="2251.5" y="1216" font-size="38" fill="#333">2</text>
<line x1="2223.5" y1="1298.2" x2="2237.5" y2="1298.2" stroke="#3c3c3c" stroke-width="3"/>
<text x="2251.5" y="1311.8" font-size="38" fill="#333">1</text>
<line x1="2223.5" y1="1394" x2="2237.5" y2="1394" stroke="#3c3c3c" stroke-width="3"/>
<text x="2251.5" y="1407.5" font-size="38" fill="#333">0</text>
<text x="2208" y="981" text-anchor="middle" font-size="32" fill="#333">Log Counts</text>
<rect x="2176.5" y="1469.5" width="47" height="385.5" fill="url(#cbd)" stroke="#222" stroke-width="3"/>
<line x1="2223.5" y1="1469.5" x2="2237.5" y2="1469.5" stroke="#3c3c3c" stroke-width="3"/>
<text x="2251.5" y="1483" font-size="38" fill="#333">1.0</text>
<line x1="2223.5" y1="1546.6" x2="2237.5" y2="1546.6" stroke="#3c3c3c" stroke-width="3"/>
<text x="2251.5" y="1560.1" font-size="38" fill="#333">0.8</text>
<line x1="2223.5" y1="1623.7" x2="2237.5" y2="1623.7" stroke="#3c3c3c" stroke-width="3"/>
<text x="2251.5" y="1637.2" font-size="38" fill="#333">0.6</text>
<line x1="2223.5" y1="1700.8" x2="2237.5" y2="1700.8" stroke="#3c3c3c" stroke-width="3"/>
<text x="2251.5" y="1714.3" font-size="38" fill="#333">0.4</text>
<line x1="2223.5" y1="1777.9" x2="2237.5" y2="1777.9" stroke="#3c3c3c" stroke-width="3"/>
<text x="2251.5" y="1791.4" font-size="38" fill="#333">0.2</text>
<line x1="2223.5" y1="1855" x2="2237.5" y2="1855" stroke="#3c3c3c" stroke-width="3"/>
<text x="2251.5" y="1868.5" font-size="38" fill="#333">0.0</text>
<text x="2207" y="1444" text-anchor="middle" font-size="32" fill="#333">eden</text>
<rect x="2175.5" y="2409.5" width="48" height="69.7" fill="#ff4f28"/>
<rect x="2175.5" y="2478.6" width="48" height="69.7" fill="#e5ce74"/>
<rect x="2175.5" y="2547.7" width="48" height="69.7" fill="#80ffb4"/>
<rect x="2175.5" y="2616.8" width="48" height="69.7" fill="#19cee3"/>
<rect x="2175.5" y="2685.9" width="48" height="69.7" fill="#4c4ffc"/>
<polygon points="2175.5,2409.5 2199.5,2389.7 2223.5,2409.5" fill="#ff0000"/>
<polygon points="2175.5,2755 2199.5,2773 2223.5,2755" fill="#8000ff"/>
<polygon points="2175.5,2409.5 2199.5,2389.7 2223.5,2409.5 2223.5,2755 2199.5,2773 2175.5,2755" fill="none" stroke="#222" stroke-width="3" stroke-linejoin="round"/>
<line x1="2223.5" y1="2478.2" x2="2237.5" y2="2478.2" stroke="#3c3c3c" stroke-width="3"/>
<text x="2251.5" y="2491.7" font-size="38" fill="#333">0</text>
<line x1="2223.5" y1="2547.4" x2="2237.5" y2="2547.4" stroke="#3c3c3c" stroke-width="3"/>
<text x="2251.5" y="2560.9" font-size="38" fill="#333">&#8722;10</text>
<line x1="2223.5" y1="2616.6" x2="2237.5" y2="2616.6" stroke="#3c3c3c" stroke-width="3"/>
<text x="2251.5" y="2630.1" font-size="38" fill="#333">&#8722;20</text>
<line x1="2223.5" y1="2685.8" x2="2237.5" y2="2685.8" stroke="#3c3c3c" stroke-width="3"/>
<text x="2251.5" y="2699.3" font-size="38" fill="#333">&#8722;30</text>
<line x1="2223.5" y1="2755" x2="2237.5" y2="2755" stroke="#3c3c3c" stroke-width="3"/>
<text x="2251.5" y="2768.5" font-size="38" fill="#333">&#8722;40</text>
<text x="2206" y="2363" text-anchor="middle" font-size="38" fill="#333">C</text></svg></div></body></html>
